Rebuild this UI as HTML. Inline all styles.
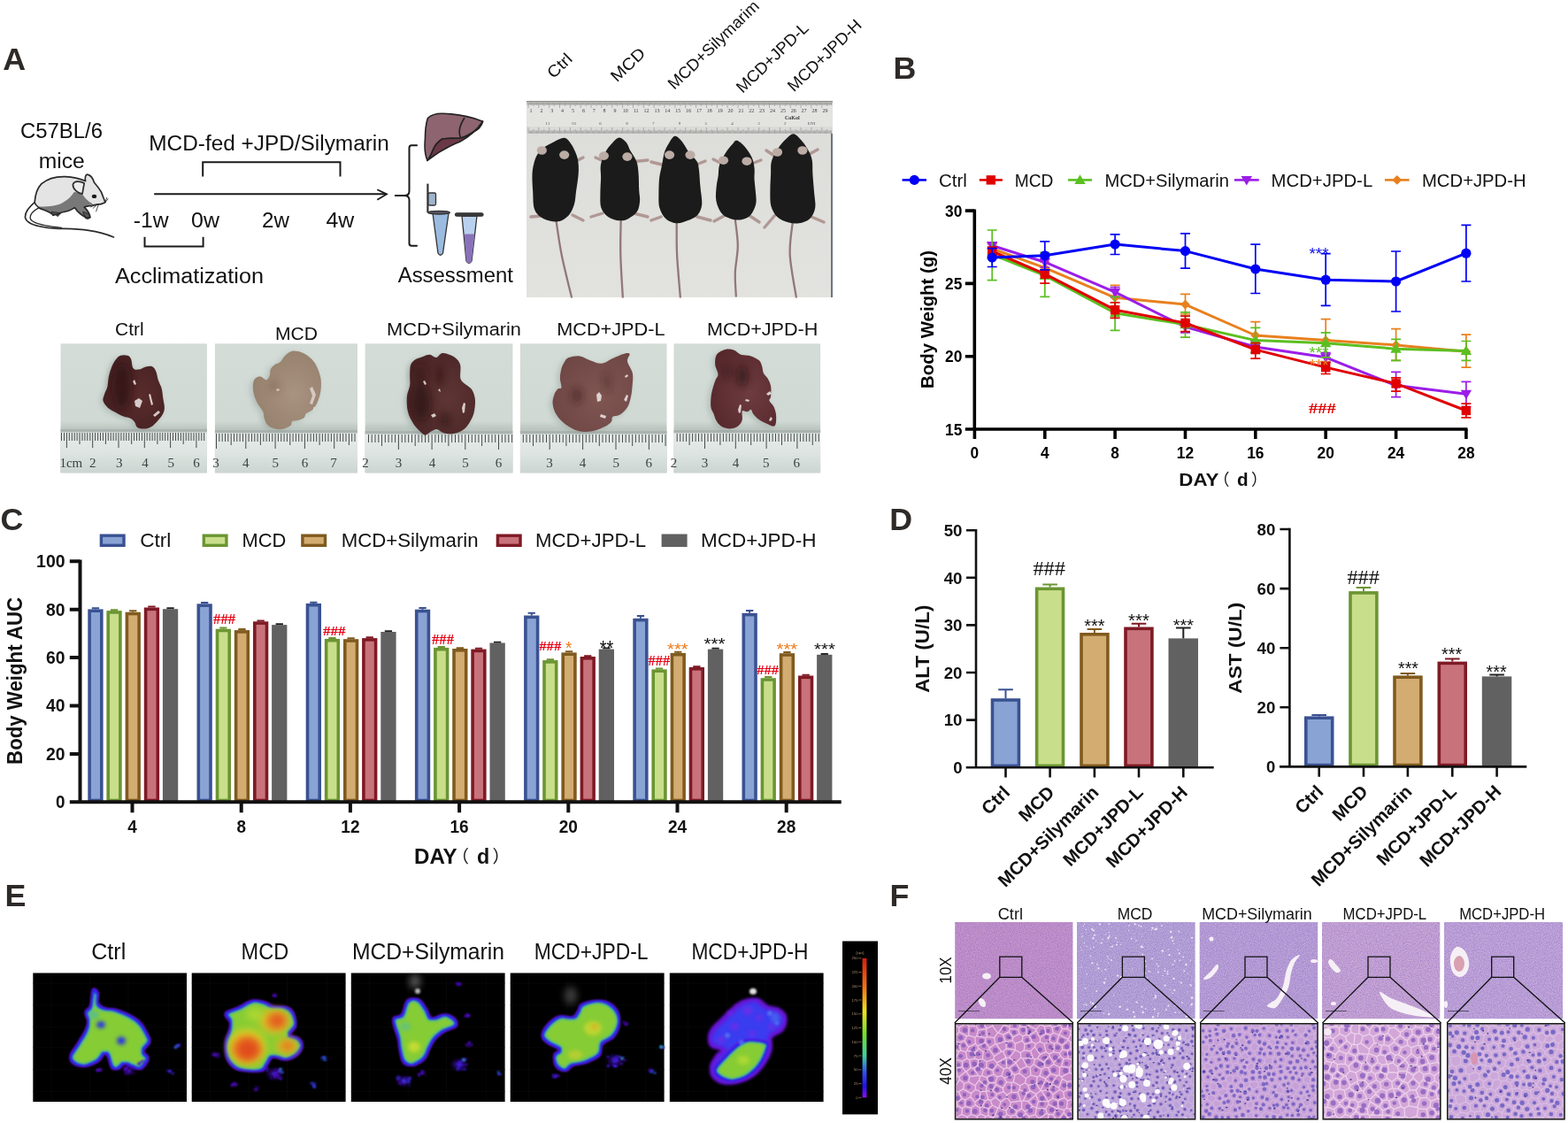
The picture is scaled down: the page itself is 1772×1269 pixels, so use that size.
<!DOCTYPE html>
<html><head><meta charset="utf-8"><title>Figure</title>
<style>html,body{margin:0;padding:0;background:#fff;} svg{display:block;}</style>
</head><body>
<svg width="1772" height="1269" viewBox="0 0 1772 1269" font-family='"Liberation Sans", Arial, Helvetica, sans-serif'>
<rect width="1772" height="1269" fill="#fff"/>
<text x="3.2" y="78.8" font-size="35.8" font-weight="bold" fill="#2e2a28">A</text>
<text x="1009.6" y="88.8" font-size="35.8" font-weight="bold" fill="#2e2a28">B</text>
<text x="0.5" y="598.8" font-size="35.8" font-weight="bold" fill="#2e2a28">C</text>
<text x="1005.2" y="599.1" font-size="35.8" font-weight="bold" fill="#2e2a28">D</text>
<text x="5.4" y="1023.8" font-size="35.8" font-weight="bold" fill="#2e2a28">E</text>
<text x="1005.4" y="1023.9" font-size="35.8" font-weight="bold" fill="#2e2a28">F</text>
<text x="23.0" y="155.8" font-size="23.5" fill="#111" textLength="93" lengthAdjust="spacingAndGlyphs">C57BL/6</text>
<text x="43.7" y="190.0" font-size="23.5" fill="#111" textLength="52" lengthAdjust="spacingAndGlyphs">mice</text>
<text x="168.3" y="170.1" font-size="23.5" fill="#111" textLength="271.5" lengthAdjust="spacingAndGlyphs">MCD-fed +JPD/Silymarin</text>
<text x="150.8" y="257.1" font-size="23.5" fill="#111" textLength="39.8" lengthAdjust="spacingAndGlyphs">-1w</text>
<text x="216.0" y="257.1" font-size="23.5" fill="#111" textLength="31.9" lengthAdjust="spacingAndGlyphs">0w</text>
<text x="296.0" y="257.1" font-size="23.5" fill="#111" textLength="30.9" lengthAdjust="spacingAndGlyphs">2w</text>
<text x="368.4" y="257.1" font-size="23.5" fill="#111" textLength="31.8" lengthAdjust="spacingAndGlyphs">4w</text>
<text x="130.0" y="320.1" font-size="23.5" fill="#111" textLength="168" lengthAdjust="spacingAndGlyphs">Acclimatization</text>
<text x="449.7" y="319.3" font-size="23.5" fill="#111" textLength="130.3" lengthAdjust="spacingAndGlyphs">Assessment</text>
<g fill="none" stroke="#1a1a1a" stroke-width="2">
<path d="M229.2 199.6 V183.3 H384.5 V199.6"/>
<path d="M163.5 267.8 V278.4 H229.6 V267.8"/>
<path d="M174.2 219.2 H436.5"/>
<path d="M426.3 214.3 L437 219.4 L426.3 225.8" stroke-width="1.8"/>
<path d="M471.8 164.2 H465 Q462.5 164.2 462.5 167 V216 Q462.5 221 457 221.1 H446 M457 221.1 Q462.5 221.3 462.5 226 V275 Q462.5 277.8 465 277.8 H471.8"/>
</g>
<g stroke="#222" stroke-width="1.6" stroke-linejoin="round">
<path d="M483.4 133.5 Q489 128 500 128.2 Q525 129 545.6 137.2 Q543 145 535.9 148.5 Q528 154 520.9 156 Q510 156 500 157 Q492 162 489.4 169.4 Q486 178 483 181.4 Q479 172 480.4 157.5 Q480.5 142 483.4 133.5 Z" fill="#8d6470"/>
<path d="M545.6 137.2 Q543 145 535.9 148.5 Q528 154 520.9 156 Q510 156 500 157 Q492 162 489.4 169.4 Q486 178 483 181.4 Q500 168 520 160 Q535 152 545.6 137.2 Z" fill="#6b3848"/>
<path d="M520.9 156 Q516 147 525 133" fill="none"/>
</g>
<g stroke="#333" stroke-width="1.3">
<path d="M483.4 207.6 V240" stroke-width="2.2" fill="none"/>
<rect x="484" y="218" width="8.5" height="14" rx="1.5" fill="#9fb4cc"/>
<path d="M489 241 L507 241 L500.5 286 Q497.7 290.5 495 286 Z" fill="#9bbbe0"/>
<ellipse cx="496" cy="240.2" rx="12.5" ry="1.8" fill="#556"/>
<path d="M522 244 L539 244 L533 295 Q530 300 527 295 Z" fill="#b9d1ee"/>
<path d="M524.6 264.6 L536.4 264.6 L533 295 Q530 300 527 295 Z" fill="#8a72bb" stroke="none"/>
<rect x="514.5" y="240.8" width="31.5" height="3.4" rx="1.7" fill="#3a3a3a"/>
</g>
<g transform="translate(20,190) scale(0.0709)" stroke="#2a2a2a" stroke-width="24" stroke-linejoin="round" stroke-linecap="round">
<path d="M270 545 C180 620 110 700 120 790 C140 880 300 940 600 960 C900 975 1200 960 1530 1100" fill="none"/>
<path d="M340 630 C250 680 190 730 200 800 C220 870 400 920 700 950" fill="none" stroke-width="18"/>
<path d="M270 545 C280 420 300 330 380 250 C470 170 600 130 760 135 C900 140 1000 170 1080 205 C1070 150 1080 100 1110 100 C1160 110 1200 160 1220 230 C1270 290 1320 350 1340 400 C1360 460 1380 500 1395 545 C1340 575 1290 580 1260 580 C1200 590 1120 600 1060 620 C1100 660 1150 720 1150 785 C1110 800 1080 790 1000 730 C960 700 930 660 910 630 C850 670 760 700 700 705 C660 730 600 750 560 740 C520 700 450 680 350 640 C310 610 280 580 270 545 Z" fill="#e4e4e4" stroke="none"/>
<path d="M330 615 C450 610 600 610 700 560 C800 510 860 440 900 380 C950 380 1000 400 1040 430 C1080 480 1120 530 1200 570 C1100 600 1080 610 1060 620 C1100 660 1150 720 1150 785 C1110 800 1080 790 1000 730 C960 700 930 660 910 630 C850 670 760 700 700 705 C660 730 600 750 560 740 C520 700 450 680 350 640 Z" fill="#787878" stroke="none"/>
<path d="M540 700 L560 760 L600 740 L640 770 L680 720 Z M1040 700 L1080 800 L1120 810 L1160 790 L1150 740 Z" fill="#555" stroke-width="14"/>
<path d="M270 545 C280 420 300 330 380 250 C470 170 600 130 760 135 C900 140 1000 170 1080 205 C1070 150 1080 100 1110 100 C1160 110 1200 160 1220 230 C1270 290 1320 350 1340 400 C1360 460 1380 500 1395 545 C1340 575 1290 580 1260 580 C1200 590 1120 600 1060 620 C1100 660 1150 720 1150 785 C1110 800 1080 790 1000 730 C960 700 930 660 910 630 C850 670 760 700 700 705 C660 730 600 750 560 740 C520 700 450 680 350 640 C310 610 280 580 270 545 Z" fill="none"/>
<path d="M880 260 C900 200 990 200 1060 240 C1050 300 1040 350 1030 410 C960 400 880 340 880 260 Z" fill="#ececec"/>
<ellipse cx="1220" cy="450" rx="38" ry="30" fill="#1a1a1a" stroke="none"/>
<path d="M1280 570 L1200 640 M1290 575 L1250 690 M1270 575 L1160 620 M1395 545 L1420 470 M1400 540 L1440 490" fill="none" stroke-width="12"/>
</g>
<g>
<defs><linearGradient id="mbg" x1="0" y1="0" x2="0" y2="1"><stop offset="0" stop-color="#dcdcd8"/><stop offset="1" stop-color="#e2e2df"/></linearGradient></defs>
<rect x="595" y="114" width="346" height="222" fill="url(#mbg)"/>
<rect x="595" y="114" width="346" height="37.5" fill="#e3e3e0"/>
<rect x="595" y="114" width="346" height="4.5" fill="#c4c4c2"/>
<rect x="595" y="114" width="346" height="1.2" fill="#8a8a88"/>
<rect x="595" y="143" width="346" height="8" fill="#dadad7"/>
<rect x="939" y="151" width="2" height="185" fill="#6d7480"/>
<path d="M597.0 116 v6 M597.0 151 v-7 M598.2 116 v2.5 M598.2 151 v-3.5 M599.4 116 v2.5 M599.4 151 v-3.5 M600.6 116 v2.5 M600.6 151 v-3.5 M601.7 116 v2.5 M601.7 151 v-3.5 M602.9 116 v4 M602.9 151 v-5 M604.1 116 v2.5 M604.1 151 v-3.5 M605.3 116 v2.5 M605.3 151 v-3.5 M606.5 116 v2.5 M606.5 151 v-3.5 M607.7 116 v2.5 M607.7 151 v-3.5 M608.8 116 v6 M608.8 151 v-7 M610.0 116 v2.5 M610.0 151 v-3.5 M611.2 116 v2.5 M611.2 151 v-3.5 M612.4 116 v2.5 M612.4 151 v-3.5 M613.6 116 v2.5 M613.6 151 v-3.5 M614.8 116 v4 M614.8 151 v-5 M616.0 116 v2.5 M616.0 151 v-3.5 M617.1 116 v2.5 M617.1 151 v-3.5 M618.3 116 v2.5 M618.3 151 v-3.5 M619.5 116 v2.5 M619.5 151 v-3.5 M620.7 116 v6 M620.7 151 v-7 M621.9 116 v2.5 M621.9 151 v-3.5 M623.1 116 v2.5 M623.1 151 v-3.5 M624.3 116 v2.5 M624.3 151 v-3.5 M625.4 116 v2.5 M625.4 151 v-3.5 M626.6 116 v4 M626.6 151 v-5 M627.8 116 v2.5 M627.8 151 v-3.5 M629.0 116 v2.5 M629.0 151 v-3.5 M630.2 116 v2.5 M630.2 151 v-3.5 M631.4 116 v2.5 M631.4 151 v-3.5 M632.5 116 v6 M632.5 151 v-7 M633.7 116 v2.5 M633.7 151 v-3.5 M634.9 116 v2.5 M634.9 151 v-3.5 M636.1 116 v2.5 M636.1 151 v-3.5 M637.3 116 v2.5 M637.3 151 v-3.5 M638.5 116 v4 M638.5 151 v-5 M639.7 116 v2.5 M639.7 151 v-3.5 M640.8 116 v2.5 M640.8 151 v-3.5 M642.0 116 v2.5 M642.0 151 v-3.5 M643.2 116 v2.5 M643.2 151 v-3.5 M644.4 116 v6 M644.4 151 v-7 M645.6 116 v2.5 M645.6 151 v-3.5 M646.8 116 v2.5 M646.8 151 v-3.5 M648.0 116 v2.5 M648.0 151 v-3.5 M649.1 116 v2.5 M649.1 151 v-3.5 M650.3 116 v4 M650.3 151 v-5 M651.5 116 v2.5 M651.5 151 v-3.5 M652.7 116 v2.5 M652.7 151 v-3.5 M653.9 116 v2.5 M653.9 151 v-3.5 M655.1 116 v2.5 M655.1 151 v-3.5 M656.2 116 v6 M656.2 151 v-7 M657.4 116 v2.5 M657.4 151 v-3.5 M658.6 116 v2.5 M658.6 151 v-3.5 M659.8 116 v2.5 M659.8 151 v-3.5 M661.0 116 v2.5 M661.0 151 v-3.5 M662.2 116 v4 M662.2 151 v-5 M663.4 116 v2.5 M663.4 151 v-3.5 M664.5 116 v2.5 M664.5 151 v-3.5 M665.7 116 v2.5 M665.7 151 v-3.5 M666.9 116 v2.5 M666.9 151 v-3.5 M668.1 116 v6 M668.1 151 v-7 M669.3 116 v2.5 M669.3 151 v-3.5 M670.5 116 v2.5 M670.5 151 v-3.5 M671.7 116 v2.5 M671.7 151 v-3.5 M672.8 116 v2.5 M672.8 151 v-3.5 M674.0 116 v4 M674.0 151 v-5 M675.2 116 v2.5 M675.2 151 v-3.5 M676.4 116 v2.5 M676.4 151 v-3.5 M677.6 116 v2.5 M677.6 151 v-3.5 M678.8 116 v2.5 M678.8 151 v-3.5 M679.9 116 v6 M679.9 151 v-7 M681.1 116 v2.5 M681.1 151 v-3.5 M682.3 116 v2.5 M682.3 151 v-3.5 M683.5 116 v2.5 M683.5 151 v-3.5 M684.7 116 v2.5 M684.7 151 v-3.5 M685.9 116 v4 M685.9 151 v-5 M687.1 116 v2.5 M687.1 151 v-3.5 M688.2 116 v2.5 M688.2 151 v-3.5 M689.4 116 v2.5 M689.4 151 v-3.5 M690.6 116 v2.5 M690.6 151 v-3.5 M691.8 116 v6 M691.8 151 v-7 M693.0 116 v2.5 M693.0 151 v-3.5 M694.2 116 v2.5 M694.2 151 v-3.5 M695.4 116 v2.5 M695.4 151 v-3.5 M696.5 116 v2.5 M696.5 151 v-3.5 M697.7 116 v4 M697.7 151 v-5 M698.9 116 v2.5 M698.9 151 v-3.5 M700.1 116 v2.5 M700.1 151 v-3.5 M701.3 116 v2.5 M701.3 151 v-3.5 M702.5 116 v2.5 M702.5 151 v-3.5 M703.6 116 v6 M703.6 151 v-7 M704.8 116 v2.5 M704.8 151 v-3.5 M706.0 116 v2.5 M706.0 151 v-3.5 M707.2 116 v2.5 M707.2 151 v-3.5 M708.4 116 v2.5 M708.4 151 v-3.5 M709.6 116 v4 M709.6 151 v-5 M710.8 116 v2.5 M710.8 151 v-3.5 M711.9 116 v2.5 M711.9 151 v-3.5 M713.1 116 v2.5 M713.1 151 v-3.5 M714.3 116 v2.5 M714.3 151 v-3.5 M715.5 116 v6 M715.5 151 v-7 M716.7 116 v2.5 M716.7 151 v-3.5 M717.9 116 v2.5 M717.9 151 v-3.5 M719.1 116 v2.5 M719.1 151 v-3.5 M720.2 116 v2.5 M720.2 151 v-3.5 M721.4 116 v4 M721.4 151 v-5 M722.6 116 v2.5 M722.6 151 v-3.5 M723.8 116 v2.5 M723.8 151 v-3.5 M725.0 116 v2.5 M725.0 151 v-3.5 M726.2 116 v2.5 M726.2 151 v-3.5 M727.3 116 v6 M727.3 151 v-7 M728.5 116 v2.5 M728.5 151 v-3.5 M729.7 116 v2.5 M729.7 151 v-3.5 M730.9 116 v2.5 M730.9 151 v-3.5 M732.1 116 v2.5 M732.1 151 v-3.5 M733.3 116 v4 M733.3 151 v-5 M734.5 116 v2.5 M734.5 151 v-3.5 M735.6 116 v2.5 M735.6 151 v-3.5 M736.8 116 v2.5 M736.8 151 v-3.5 M738.0 116 v2.5 M738.0 151 v-3.5 M739.2 116 v6 M739.2 151 v-7 M740.4 116 v2.5 M740.4 151 v-3.5 M741.6 116 v2.5 M741.6 151 v-3.5 M742.8 116 v2.5 M742.8 151 v-3.5 M743.9 116 v2.5 M743.9 151 v-3.5 M745.1 116 v4 M745.1 151 v-5 M746.3 116 v2.5 M746.3 151 v-3.5 M747.5 116 v2.5 M747.5 151 v-3.5 M748.7 116 v2.5 M748.7 151 v-3.5 M749.9 116 v2.5 M749.9 151 v-3.5 M751.0 116 v6 M751.0 151 v-7 M752.2 116 v2.5 M752.2 151 v-3.5 M753.4 116 v2.5 M753.4 151 v-3.5 M754.6 116 v2.5 M754.6 151 v-3.5 M755.8 116 v2.5 M755.8 151 v-3.5 M757.0 116 v4 M757.0 151 v-5 M758.2 116 v2.5 M758.2 151 v-3.5 M759.3 116 v2.5 M759.3 151 v-3.5 M760.5 116 v2.5 M760.5 151 v-3.5 M761.7 116 v2.5 M761.7 151 v-3.5 M762.9 116 v6 M762.9 151 v-7 M764.1 116 v2.5 M764.1 151 v-3.5 M765.3 116 v2.5 M765.3 151 v-3.5 M766.5 116 v2.5 M766.5 151 v-3.5 M767.6 116 v2.5 M767.6 151 v-3.5 M768.8 116 v4 M768.8 151 v-5 M770.0 116 v2.5 M770.0 151 v-3.5 M771.2 116 v2.5 M771.2 151 v-3.5 M772.4 116 v2.5 M772.4 151 v-3.5 M773.6 116 v2.5 M773.6 151 v-3.5 M774.7 116 v6 M774.7 151 v-7 M775.9 116 v2.5 M775.9 151 v-3.5 M777.1 116 v2.5 M777.1 151 v-3.5 M778.3 116 v2.5 M778.3 151 v-3.5 M779.5 116 v2.5 M779.5 151 v-3.5 M780.7 116 v4 M780.7 151 v-5 M781.9 116 v2.5 M781.9 151 v-3.5 M783.0 116 v2.5 M783.0 151 v-3.5 M784.2 116 v2.5 M784.2 151 v-3.5 M785.4 116 v2.5 M785.4 151 v-3.5 M786.6 116 v6 M786.6 151 v-7 M787.8 116 v2.5 M787.8 151 v-3.5 M789.0 116 v2.5 M789.0 151 v-3.5 M790.2 116 v2.5 M790.2 151 v-3.5 M791.3 116 v2.5 M791.3 151 v-3.5 M792.5 116 v4 M792.5 151 v-5 M793.7 116 v2.5 M793.7 151 v-3.5 M794.9 116 v2.5 M794.9 151 v-3.5 M796.1 116 v2.5 M796.1 151 v-3.5 M797.3 116 v2.5 M797.3 151 v-3.5 M798.4 116 v6 M798.4 151 v-7 M799.6 116 v2.5 M799.6 151 v-3.5 M800.8 116 v2.5 M800.8 151 v-3.5 M802.0 116 v2.5 M802.0 151 v-3.5 M803.2 116 v2.5 M803.2 151 v-3.5 M804.4 116 v4 M804.4 151 v-5 M805.6 116 v2.5 M805.6 151 v-3.5 M806.7 116 v2.5 M806.7 151 v-3.5 M807.9 116 v2.5 M807.9 151 v-3.5 M809.1 116 v2.5 M809.1 151 v-3.5 M810.3 116 v6 M810.3 151 v-7 M811.5 116 v2.5 M811.5 151 v-3.5 M812.7 116 v2.5 M812.7 151 v-3.5 M813.9 116 v2.5 M813.9 151 v-3.5 M815.0 116 v2.5 M815.0 151 v-3.5 M816.2 116 v4 M816.2 151 v-5 M817.4 116 v2.5 M817.4 151 v-3.5 M818.6 116 v2.5 M818.6 151 v-3.5 M819.8 116 v2.5 M819.8 151 v-3.5 M821.0 116 v2.5 M821.0 151 v-3.5 M822.1 116 v6 M822.1 151 v-7 M823.3 116 v2.5 M823.3 151 v-3.5 M824.5 116 v2.5 M824.5 151 v-3.5 M825.7 116 v2.5 M825.7 151 v-3.5 M826.9 116 v2.5 M826.9 151 v-3.5 M828.1 116 v4 M828.1 151 v-5 M829.3 116 v2.5 M829.3 151 v-3.5 M830.4 116 v2.5 M830.4 151 v-3.5 M831.6 116 v2.5 M831.6 151 v-3.5 M832.8 116 v2.5 M832.8 151 v-3.5 M834.0 116 v6 M834.0 151 v-7 M835.2 116 v2.5 M835.2 151 v-3.5 M836.4 116 v2.5 M836.4 151 v-3.5 M837.6 116 v2.5 M837.6 151 v-3.5 M838.7 116 v2.5 M838.7 151 v-3.5 M839.9 116 v4 M839.9 151 v-5 M841.1 116 v2.5 M841.1 151 v-3.5 M842.3 116 v2.5 M842.3 151 v-3.5 M843.5 116 v2.5 M843.5 151 v-3.5 M844.7 116 v2.5 M844.7 151 v-3.5 M845.8 116 v6 M845.8 151 v-7 M847.0 116 v2.5 M847.0 151 v-3.5 M848.2 116 v2.5 M848.2 151 v-3.5 M849.4 116 v2.5 M849.4 151 v-3.5 M850.6 116 v2.5 M850.6 151 v-3.5 M851.8 116 v4 M851.8 151 v-5 M853.0 116 v2.5 M853.0 151 v-3.5 M854.1 116 v2.5 M854.1 151 v-3.5 M855.3 116 v2.5 M855.3 151 v-3.5 M856.5 116 v2.5 M856.5 151 v-3.5 M857.7 116 v6 M857.7 151 v-7 M858.9 116 v2.5 M858.9 151 v-3.5 M860.1 116 v2.5 M860.1 151 v-3.5 M861.3 116 v2.5 M861.3 151 v-3.5 M862.4 116 v2.5 M862.4 151 v-3.5 M863.6 116 v4 M863.6 151 v-5 M864.8 116 v2.5 M864.8 151 v-3.5 M866.0 116 v2.5 M866.0 151 v-3.5 M867.2 116 v2.5 M867.2 151 v-3.5 M868.4 116 v2.5 M868.4 151 v-3.5 M869.5 116 v6 M869.5 151 v-7 M870.7 116 v2.5 M870.7 151 v-3.5 M871.9 116 v2.5 M871.9 151 v-3.5 M873.1 116 v2.5 M873.1 151 v-3.5 M874.3 116 v2.5 M874.3 151 v-3.5 M875.5 116 v4 M875.5 151 v-5 M876.7 116 v2.5 M876.7 151 v-3.5 M877.8 116 v2.5 M877.8 151 v-3.5 M879.0 116 v2.5 M879.0 151 v-3.5 M880.2 116 v2.5 M880.2 151 v-3.5 M881.4 116 v6 M881.4 151 v-7 M882.6 116 v2.5 M882.6 151 v-3.5 M883.8 116 v2.5 M883.8 151 v-3.5 M885.0 116 v2.5 M885.0 151 v-3.5 M886.1 116 v2.5 M886.1 151 v-3.5 M887.3 116 v4 M887.3 151 v-5 M888.5 116 v2.5 M888.5 151 v-3.5 M889.7 116 v2.5 M889.7 151 v-3.5 M890.9 116 v2.5 M890.9 151 v-3.5 M892.1 116 v2.5 M892.1 151 v-3.5 M893.2 116 v6 M893.2 151 v-7 M894.4 116 v2.5 M894.4 151 v-3.5 M895.6 116 v2.5 M895.6 151 v-3.5 M896.8 116 v2.5 M896.8 151 v-3.5 M898.0 116 v2.5 M898.0 151 v-3.5 M899.2 116 v4 M899.2 151 v-5 M900.4 116 v2.5 M900.4 151 v-3.5 M901.5 116 v2.5 M901.5 151 v-3.5 M902.7 116 v2.5 M902.7 151 v-3.5 M903.9 116 v2.5 M903.9 151 v-3.5 M905.1 116 v6 M905.1 151 v-7 M906.3 116 v2.5 M906.3 151 v-3.5 M907.5 116 v2.5 M907.5 151 v-3.5 M908.7 116 v2.5 M908.7 151 v-3.5 M909.8 116 v2.5 M909.8 151 v-3.5 M911.0 116 v4 M911.0 151 v-5 M912.2 116 v2.5 M912.2 151 v-3.5 M913.4 116 v2.5 M913.4 151 v-3.5 M914.6 116 v2.5 M914.6 151 v-3.5 M915.8 116 v2.5 M915.8 151 v-3.5 M916.9 116 v6 M916.9 151 v-7 M918.1 116 v2.5 M918.1 151 v-3.5 M919.3 116 v2.5 M919.3 151 v-3.5 M920.5 116 v2.5 M920.5 151 v-3.5 M921.7 116 v2.5 M921.7 151 v-3.5 M922.9 116 v4 M922.9 151 v-5 M924.1 116 v2.5 M924.1 151 v-3.5 M925.2 116 v2.5 M925.2 151 v-3.5 M926.4 116 v2.5 M926.4 151 v-3.5 M927.6 116 v2.5 M927.6 151 v-3.5 M928.8 116 v6 M928.8 151 v-7 M930.0 116 v2.5 M930.0 151 v-3.5 M931.2 116 v2.5 M931.2 151 v-3.5 M932.4 116 v2.5 M932.4 151 v-3.5 M933.5 116 v2.5 M933.5 151 v-3.5 M934.7 116 v4 M934.7 151 v-5 M935.9 116 v2.5 M935.9 151 v-3.5 M937.1 116 v2.5 M937.1 151 v-3.5 M938.3 116 v2.5 M938.3 151 v-3.5 M939.5 116 v2.5 M939.5 151 v-3.5" stroke="#8a8a88" stroke-width="0.6"/>
<text x="600.0" y="126.5" font-size="6" fill="#444" text-anchor="middle" font-family='"Liberation Serif", "Times New Roman", serif'>1</text><text x="611.9" y="126.5" font-size="6" fill="#444" text-anchor="middle" font-family='"Liberation Serif", "Times New Roman", serif'>2</text><text x="623.7" y="126.5" font-size="6" fill="#444" text-anchor="middle" font-family='"Liberation Serif", "Times New Roman", serif'>3</text><text x="635.6" y="126.5" font-size="6" fill="#444" text-anchor="middle" font-family='"Liberation Serif", "Times New Roman", serif'>4</text><text x="647.5" y="126.5" font-size="6" fill="#444" text-anchor="middle" font-family='"Liberation Serif", "Times New Roman", serif'>5</text><text x="659.4" y="126.5" font-size="6" fill="#444" text-anchor="middle" font-family='"Liberation Serif", "Times New Roman", serif'>6</text><text x="671.2" y="126.5" font-size="6" fill="#444" text-anchor="middle" font-family='"Liberation Serif", "Times New Roman", serif'>7</text><text x="683.1" y="126.5" font-size="6" fill="#444" text-anchor="middle" font-family='"Liberation Serif", "Times New Roman", serif'>8</text><text x="695.0" y="126.5" font-size="6" fill="#444" text-anchor="middle" font-family='"Liberation Serif", "Times New Roman", serif'>9</text><text x="706.8" y="126.5" font-size="6" fill="#444" text-anchor="middle" font-family='"Liberation Serif", "Times New Roman", serif'>10</text><text x="718.7" y="126.5" font-size="6" fill="#444" text-anchor="middle" font-family='"Liberation Serif", "Times New Roman", serif'>11</text><text x="730.6" y="126.5" font-size="6" fill="#444" text-anchor="middle" font-family='"Liberation Serif", "Times New Roman", serif'>12</text><text x="742.4" y="126.5" font-size="6" fill="#444" text-anchor="middle" font-family='"Liberation Serif", "Times New Roman", serif'>13</text><text x="754.3" y="126.5" font-size="6" fill="#444" text-anchor="middle" font-family='"Liberation Serif", "Times New Roman", serif'>14</text><text x="766.2" y="126.5" font-size="6" fill="#444" text-anchor="middle" font-family='"Liberation Serif", "Times New Roman", serif'>15</text><text x="778.0" y="126.5" font-size="6" fill="#444" text-anchor="middle" font-family='"Liberation Serif", "Times New Roman", serif'>16</text><text x="789.9" y="126.5" font-size="6" fill="#444" text-anchor="middle" font-family='"Liberation Serif", "Times New Roman", serif'>17</text><text x="801.8" y="126.5" font-size="6" fill="#444" text-anchor="middle" font-family='"Liberation Serif", "Times New Roman", serif'>18</text><text x="813.7" y="126.5" font-size="6" fill="#444" text-anchor="middle" font-family='"Liberation Serif", "Times New Roman", serif'>19</text><text x="825.5" y="126.5" font-size="6" fill="#444" text-anchor="middle" font-family='"Liberation Serif", "Times New Roman", serif'>20</text><text x="837.4" y="126.5" font-size="6" fill="#444" text-anchor="middle" font-family='"Liberation Serif", "Times New Roman", serif'>21</text><text x="849.3" y="126.5" font-size="6" fill="#444" text-anchor="middle" font-family='"Liberation Serif", "Times New Roman", serif'>22</text><text x="861.1" y="126.5" font-size="6" fill="#444" text-anchor="middle" font-family='"Liberation Serif", "Times New Roman", serif'>23</text><text x="873.0" y="126.5" font-size="6" fill="#444" text-anchor="middle" font-family='"Liberation Serif", "Times New Roman", serif'>24</text><text x="884.9" y="126.5" font-size="6" fill="#444" text-anchor="middle" font-family='"Liberation Serif", "Times New Roman", serif'>25</text><text x="896.8" y="126.5" font-size="6" fill="#444" text-anchor="middle" font-family='"Liberation Serif", "Times New Roman", serif'>26</text><text x="908.6" y="126.5" font-size="6" fill="#444" text-anchor="middle" font-family='"Liberation Serif", "Times New Roman", serif'>27</text><text x="920.5" y="126.5" font-size="6" fill="#444" text-anchor="middle" font-family='"Liberation Serif", "Times New Roman", serif'>28</text><text x="932.4" y="126.5" font-size="6" fill="#444" text-anchor="middle" font-family='"Liberation Serif", "Times New Roman", serif'>29</text><text x="619.0" y="141" font-size="5" fill="#555" text-anchor="middle" font-family='"Liberation Serif", "Times New Roman", serif'>11</text><text x="648.8" y="141" font-size="5" fill="#555" text-anchor="middle" font-family='"Liberation Serif", "Times New Roman", serif'>01</text><text x="678.6" y="141" font-size="5" fill="#555" text-anchor="middle" font-family='"Liberation Serif", "Times New Roman", serif'>6</text><text x="708.4" y="141" font-size="5" fill="#555" text-anchor="middle" font-family='"Liberation Serif", "Times New Roman", serif'>8</text><text x="738.2" y="141" font-size="5" fill="#555" text-anchor="middle" font-family='"Liberation Serif", "Times New Roman", serif'>7</text><text x="768.0" y="141" font-size="5" fill="#555" text-anchor="middle" font-family='"Liberation Serif", "Times New Roman", serif'>9</text><text x="797.8" y="141" font-size="5" fill="#555" text-anchor="middle" font-family='"Liberation Serif", "Times New Roman", serif'>5</text><text x="827.6" y="141" font-size="5" fill="#555" text-anchor="middle" font-family='"Liberation Serif", "Times New Roman", serif'>4</text><text x="857.4" y="141" font-size="5" fill="#555" text-anchor="middle" font-family='"Liberation Serif", "Times New Roman", serif'>3</text><text x="887.2" y="141" font-size="5" fill="#555" text-anchor="middle" font-family='"Liberation Serif", "Times New Roman", serif'>2</text><text x="917.0" y="141" font-size="5" fill="#555" text-anchor="middle" font-family='"Liberation Serif", "Times New Roman", serif'>ENI</text><text x="887" y="135" font-size="6" font-weight="bold" fill="#333" font-family='"Liberation Serif", "Times New Roman", serif'>CoKol</text>
</g>
<path d="M628.6 250.0 C629.6 256.3 631.8 273.6 634.7 287.9 C637.6 302.2 644.0 327.7 645.9 335.6 " stroke="#927878" stroke-width="2.3" fill="none" stroke-linecap="round"/><path d="M651.0 182.0 L659.0 178.0 M600.0 245.0 L612.0 244.0 M647.0 243.0 L659.0 249.0" stroke="#b09894" stroke-width="3.4" stroke-linecap="round" fill="none"/><path d="M637.7 155.8 C640.8 156.1 642.8 159.2 644.9 161.9 C647.0 164.6 648.9 168.6 650.3 172.0 C651.7 175.4 652.7 178.1 653.3 182.2 C653.9 186.3 654.1 190.7 653.7 196.4 C653.3 202.2 651.8 210.9 651.0 216.7 C650.2 222.5 650.3 226.6 648.9 231.0 C647.5 235.4 645.8 240.0 642.8 243.2 C639.8 246.4 635.3 249.6 630.6 250.3 C625.9 251.0 618.8 249.4 614.4 247.2 C610.0 245.0 606.2 242.2 604.2 237.1 C602.2 232.0 602.6 223.5 602.2 216.7 C601.8 209.9 601.2 202.2 601.5 196.4 C601.8 190.7 602.8 186.3 604.0 182.2 C605.2 178.1 607.0 174.7 608.9 172.0 C610.8 169.3 612.6 168.0 615.5 166.0 C618.5 164.0 622.9 161.6 626.6 159.9 C630.3 158.2 634.7 155.5 637.7 155.8 Z" fill="#1b1b1b"/><ellipse cx="612.3" cy="170" rx="5.6" ry="4.8" fill="#bcaca6"/><ellipse cx="637.7" cy="175.1" rx="5.6" ry="4.8" fill="#bcaca6"/>
<path d="M701.7 247.0 C701.6 253.8 700.9 273.1 701.3 287.9 C701.6 302.7 703.4 327.7 703.8 335.6 " stroke="#927878" stroke-width="2.3" fill="none" stroke-linecap="round"/><path d="M673.0 178.0 L682.0 182.0 M712.0 183.0 L732.0 181.0 M668.0 245.0 L681.0 241.0 M716.0 241.0 L732.0 245.0" stroke="#b09894" stroke-width="3.4" stroke-linecap="round" fill="none"/><path d="M699.7 155.4 C702.4 155.2 705.7 158.5 707.8 160.9 C709.9 163.3 710.2 166.4 712.2 170.0 C714.1 173.6 717.7 177.8 719.3 182.2 C720.9 186.6 721.2 191.0 721.6 196.4 C722.1 201.8 721.9 209.6 722.2 214.7 C722.4 219.8 723.5 222.8 723.1 226.9 C722.7 231.0 722.2 235.7 720.0 239.1 C717.8 242.5 713.3 245.5 709.9 247.2 C706.5 248.9 703.4 249.6 699.7 249.3 C696.0 249.0 690.9 247.6 687.5 245.2 C684.1 242.8 680.9 239.4 679.4 235.0 C677.9 230.6 678.4 224.6 678.4 218.8 C678.4 213.1 679.0 205.9 679.1 200.5 C679.2 195.1 678.1 191.1 678.9 186.3 C679.7 181.6 681.9 176.1 684.1 172.0 C686.2 167.9 689.0 164.7 691.6 161.9 C694.2 159.1 697.0 155.6 699.7 155.4 Z" fill="#1b1b1b"/><ellipse cx="682.4" cy="176.1" rx="5.6" ry="4.8" fill="#bcaca6"/><ellipse cx="708.9" cy="177.1" rx="5.6" ry="4.8" fill="#bcaca6"/>
<path d="M764.7 251.0 C764.8 257.1 764.4 273.8 765.1 287.9 C765.8 302.0 768.2 327.7 768.8 335.6 " stroke="#927878" stroke-width="2.3" fill="none" stroke-linecap="round"/><path d="M736.0 183.0 L748.0 186.0 M787.0 186.0 L797.0 182.0 M736.0 249.0 L747.0 245.0 M788.0 245.0 L803.0 249.0" stroke="#b09894" stroke-width="3.4" stroke-linecap="round" fill="none"/><path d="M762.7 153.8 C765.2 153.5 768.2 156.9 770.8 159.9 C773.4 162.9 775.7 168.3 778.5 172.0 C781.3 175.7 785.5 178.8 787.5 182.2 C789.4 185.6 789.3 187.7 790.0 192.4 C790.6 197.1 790.8 204.2 791.4 210.6 C791.9 217.0 793.7 225.6 793.2 231.0 C792.7 236.4 790.8 240.1 788.1 243.2 C785.4 246.2 780.8 247.8 776.9 249.3 C773.0 250.8 768.8 252.7 764.7 252.3 C760.6 252.0 755.7 250.1 752.5 247.2 C749.3 244.3 746.8 239.7 745.4 235.0 C744.0 230.3 744.4 224.6 744.4 218.8 C744.4 213.1 744.6 205.9 745.2 200.5 C745.9 195.1 747.2 191.1 748.1 186.3 C749.1 181.6 749.6 176.1 750.9 172.0 C752.2 167.9 753.9 164.9 755.9 161.9 C757.9 158.9 760.2 154.1 762.7 153.8 Z" fill="#1b1b1b"/><ellipse cx="756.6" cy="175.1" rx="5.6" ry="4.8" fill="#bcaca6"/><ellipse cx="780" cy="175.1" rx="5.6" ry="4.8" fill="#bcaca6"/>
<path d="M830.8 248.0 C831.3 252.9 833.8 267.7 833.8 277.7 C833.8 287.7 831.1 298.7 830.8 308.2 C830.5 317.7 831.6 330.2 831.8 334.6 " stroke="#927878" stroke-width="2.3" fill="none" stroke-linecap="round"/><path d="M806.0 180.0 L814.0 184.0 M852.0 184.0 L860.0 181.0 M807.0 250.0 L820.0 243.0 M846.0 243.0 L858.0 251.0" stroke="#b09894" stroke-width="3.4" stroke-linecap="round" fill="none"/><path d="M832.8 158.8 C835.2 159.3 839.1 162.8 841.9 166.0 C844.7 169.2 847.9 174.0 849.7 178.1 C851.5 182.2 852.1 186.2 852.6 190.3 C853.0 194.4 852.3 197.8 852.5 202.5 C852.8 207.2 853.8 214.1 854.1 218.8 C854.4 223.6 855.1 226.9 854.1 231.0 C853.1 235.1 850.7 240.3 848.0 243.2 C845.3 246.1 841.6 247.5 837.9 248.2 C834.2 248.9 829.4 248.4 825.7 247.2 C822.0 246.0 818.2 244.5 815.5 241.1 C812.8 237.7 810.4 232.0 809.4 226.9 C808.4 221.8 809.3 215.3 809.7 210.6 C810.1 205.9 811.2 202.6 811.7 198.5 C812.3 194.4 811.7 190.7 813.1 186.3 C814.6 181.9 818.0 175.9 820.5 172.0 C822.9 168.1 825.6 165.1 827.7 162.9 C829.8 160.7 830.4 158.3 832.8 158.8 Z" fill="#1b1b1b"/><ellipse cx="817.5" cy="181.2" rx="5.6" ry="4.8" fill="#bcaca6"/><ellipse cx="844" cy="182.2" rx="5.6" ry="4.8" fill="#bcaca6"/>
<path d="M895.8 251.0 C895.3 257.1 892.0 273.8 892.7 287.9 C893.4 302.0 898.6 327.7 899.8 335.6 " stroke="#927878" stroke-width="2.3" fill="none" stroke-linecap="round"/><path d="M866.0 170.0 L875.0 176.0 M915.0 174.0 L924.0 169.0 M864.0 257.0 L876.0 243.0 M917.0 245.0 L931.0 251.0" stroke="#b09894" stroke-width="3.4" stroke-linecap="round" fill="none"/><path d="M896.8 151.3 C899.5 151.5 902.3 155.0 904.9 157.8 C907.5 160.6 910.3 164.3 912.4 168.0 C914.6 171.7 916.6 175.5 917.6 180.2 C918.6 184.9 918.0 190.0 918.4 196.4 C918.8 202.8 919.7 212.4 920.2 218.8 C920.7 225.2 922.1 230.3 921.2 235.0 C920.4 239.7 918.2 244.3 915.1 247.2 C912.0 250.1 907.0 251.6 902.9 252.3 C898.8 253.0 894.8 252.5 890.7 251.3 C886.6 250.1 881.7 248.2 878.5 245.2 C875.3 242.1 872.8 238.1 871.4 233.0 C870.0 227.9 870.4 220.8 870.4 214.7 C870.4 208.6 870.9 201.8 871.1 196.4 C871.4 191.0 870.6 186.9 871.9 182.2 C873.2 177.5 876.3 172.2 879.1 168.0 C881.8 163.8 885.6 159.6 888.6 156.8 C891.6 154.0 894.1 151.1 896.8 151.3 Z" fill="#1b1b1b"/><ellipse cx="878.5" cy="172" rx="5.6" ry="4.8" fill="#bcaca6"/><ellipse cx="906.9" cy="170" rx="5.6" ry="4.8" fill="#bcaca6"/>
<text transform="translate(625.6,89.5) rotate(-44)" font-size="18.5" fill="#111" textLength="31" lengthAdjust="spacingAndGlyphs">Ctrl</text>
<text transform="translate(697.3,93.6) rotate(-44)" font-size="18.5" fill="#111" textLength="46" lengthAdjust="spacingAndGlyphs">MCD</text>
<text transform="translate(762.1,102) rotate(-44)" font-size="18.5" fill="#111" textLength="135" lengthAdjust="spacingAndGlyphs">MCD+Silymarim</text>
<text transform="translate(839.3,106) rotate(-44)" font-size="18.5" fill="#111" textLength="105" lengthAdjust="spacingAndGlyphs">MCD+JPD-L</text>
<text transform="translate(897.3,104.6) rotate(-44)" font-size="18.5" fill="#111" textLength="108" lengthAdjust="spacingAndGlyphs">MCD+JPD-H</text>
<defs><linearGradient id="lbg" x1="0" y1="0" x2="0" y2="1"><stop offset="0" stop-color="#c9d3cd"/><stop offset="0.62" stop-color="#c3cec8"/><stop offset="0.66" stop-color="#9aa49f"/><stop offset="0.68" stop-color="#d6dfdb"/><stop offset="1" stop-color="#cdd8d3"/></linearGradient>
<filter id="blur1" x="-20%" y="-20%" width="140%" height="140%"><feGaussianBlur stdDeviation="1.2"/></filter>
<filter id="blur3" x="-30%" y="-30%" width="160%" height="160%"><feGaussianBlur stdDeviation="3"/></filter><filter id="blur5" x="-30%" y="-30%" width="160%" height="160%"><feGaussianBlur stdDeviation="4.5"/></filter>
<linearGradient id="lbg2" x1="0" y1="0" x2="0" y2="1"><stop offset="0" stop-color="#d3dcd7"/><stop offset="0.6" stop-color="#d0d9d4"/><stop offset="0.66" stop-color="#bcc6c1"/></linearGradient><linearGradient id="rul" x1="0" y1="0" x2="0" y2="1"><stop offset="0" stop-color="#e6ecea"/><stop offset="0.5" stop-color="#dde4e1"/><stop offset="1" stop-color="#ccd5d1"/></linearGradient>
</defs>
<rect x="68.5" y="388.3" width="165.4" height="146" fill="url(#lbg2)"/>
<rect x="68.5" y="485" width="165.4" height="3.5" fill="#aab3af"/>
<rect x="68.5" y="488.5" width="165.4" height="45.8" fill="url(#rul)"/>
<path d="M69.5 489 v9 M72.5 489 v9 M75.4 489 v17 M78.3 489 v9 M81.3 489 v9 M84.2 489 v9 M87.1 489 v9 M90.0 489 v13 M93.0 489 v9 M95.9 489 v9 M98.8 489 v9 M101.8 489 v9 M104.7 489 v17 M107.6 489 v9 M110.6 489 v9 M113.5 489 v9 M116.4 489 v9 M119.4 489 v13 M122.3 489 v9 M125.2 489 v9 M128.1 489 v9 M131.1 489 v9 M134.0 489 v17 M136.9 489 v9 M139.9 489 v9 M142.8 489 v9 M145.7 489 v9 M148.7 489 v13 M151.6 489 v9 M154.5 489 v9 M157.4 489 v9 M160.4 489 v9 M163.3 489 v17 M166.2 489 v9 M169.2 489 v9 M172.1 489 v9 M175.0 489 v9 M177.9 489 v13 M180.9 489 v9 M183.8 489 v9 M186.7 489 v9 M189.7 489 v9 M192.6 489 v17 M195.5 489 v9 M198.5 489 v9 M201.4 489 v9 M204.3 489 v9 M207.2 489 v13 M210.2 489 v9 M213.1 489 v9 M216.0 489 v9 M219.0 489 v9 M221.9 489 v17 M224.8 489 v9 M227.8 489 v9 M230.7 489 v9" stroke="#3e4240" stroke-width="0.95"/>
<text x="80.3" y="528" font-size="15" fill="#3e4240" text-anchor="middle" font-family='"Liberation Serif", "Times New Roman", serif'>1cm</text>
<text x="104.7" y="528" font-size="15" fill="#3e4240" text-anchor="middle" font-family='"Liberation Serif", "Times New Roman", serif'>2</text>
<text x="134.8" y="528" font-size="15" fill="#3e4240" text-anchor="middle" font-family='"Liberation Serif", "Times New Roman", serif'>3</text>
<text x="164.0" y="528" font-size="15" fill="#3e4240" text-anchor="middle" font-family='"Liberation Serif", "Times New Roman", serif'>4</text>
<text x="193.3" y="528" font-size="15" fill="#3e4240" text-anchor="middle" font-family='"Liberation Serif", "Times New Roman", serif'>5</text>
<text x="221.9" y="528" font-size="15" fill="#3e4240" text-anchor="middle" font-family='"Liberation Serif", "Times New Roman", serif'>6</text>
<rect x="242.9" y="388.3" width="161.1" height="146" fill="url(#lbg2)"/>
<rect x="242.9" y="486" width="161.1" height="3.5" fill="#aab3af"/>
<rect x="242.9" y="489.5" width="161.1" height="44.8" fill="url(#rul)"/>
<path d="M244.5 490 v17 M247.8 490 v9 M251.2 490 v9 M254.5 490 v9 M257.8 490 v9 M261.2 490 v13 M264.5 490 v9 M267.8 490 v9 M271.1 490 v9 M274.5 490 v9 M277.8 490 v17 M281.1 490 v9 M284.5 490 v9 M287.8 490 v9 M291.1 490 v9 M294.4 490 v13 M297.8 490 v9 M301.1 490 v9 M304.4 490 v9 M307.8 490 v9 M311.1 490 v17 M314.4 490 v9 M317.8 490 v9 M321.1 490 v9 M324.4 490 v9 M327.8 490 v13 M331.1 490 v9 M334.4 490 v9 M337.7 490 v9 M341.1 490 v9 M344.4 490 v17 M347.7 490 v9 M351.1 490 v9 M354.4 490 v9 M357.7 490 v9 M361.1 490 v13 M364.4 490 v9 M367.7 490 v9 M371.0 490 v9 M374.4 490 v9 M377.7 490 v17 M381.0 490 v9 M384.4 490 v9 M387.7 490 v9 M391.0 490 v9 M394.4 490 v13 M397.7 490 v9 M401.0 490 v9" stroke="#3e4240" stroke-width="0.95"/>
<text x="243.9" y="528" font-size="15" fill="#3e4240" text-anchor="middle" font-family='"Liberation Serif", "Times New Roman", serif'>3</text>
<text x="277.8" y="528" font-size="15" fill="#3e4240" text-anchor="middle" font-family='"Liberation Serif", "Times New Roman", serif'>4</text>
<text x="311.3" y="528" font-size="15" fill="#3e4240" text-anchor="middle" font-family='"Liberation Serif", "Times New Roman", serif'>5</text>
<text x="344.4" y="528" font-size="15" fill="#3e4240" text-anchor="middle" font-family='"Liberation Serif", "Times New Roman", serif'>6</text>
<text x="377.0" y="528" font-size="15" fill="#3e4240" text-anchor="middle" font-family='"Liberation Serif", "Times New Roman", serif'>7</text>
<rect x="412.6" y="388.3" width="166.8" height="146" fill="url(#lbg2)"/>
<rect x="412.6" y="487" width="166.8" height="3.5" fill="#aab3af"/>
<rect x="412.6" y="490.5" width="166.8" height="43.8" fill="url(#rul)"/>
<path d="M416.5 491 v9 M420.2 491 v9 M424.0 491 v9 M427.8 491 v9 M431.5 491 v13 M435.3 491 v9 M439.1 491 v9 M442.9 491 v9 M446.6 491 v9 M450.4 491 v17 M454.2 491 v9 M457.9 491 v9 M461.7 491 v9 M465.5 491 v9 M469.2 491 v13 M473.0 491 v9 M476.8 491 v9 M480.6 491 v9 M484.3 491 v9 M488.1 491 v17 M491.9 491 v9 M495.6 491 v9 M499.4 491 v9 M503.2 491 v9 M506.9 491 v13 M510.7 491 v9 M514.5 491 v9 M518.3 491 v9 M522.0 491 v9 M525.8 491 v17 M529.6 491 v9 M533.3 491 v9 M537.1 491 v9 M540.9 491 v9 M544.6 491 v13 M548.4 491 v9 M552.2 491 v9 M556.0 491 v9 M559.7 491 v9 M563.5 491 v17 M567.3 491 v9 M571.0 491 v9 M574.8 491 v9 M578.6 491 v9" stroke="#3e4240" stroke-width="0.95"/>
<text x="413.0" y="528" font-size="15" fill="#3e4240" text-anchor="middle" font-family='"Liberation Serif", "Times New Roman", serif'>2</text>
<text x="450.4" y="528" font-size="15" fill="#3e4240" text-anchor="middle" font-family='"Liberation Serif", "Times New Roman", serif'>3</text>
<text x="488.4" y="528" font-size="15" fill="#3e4240" text-anchor="middle" font-family='"Liberation Serif", "Times New Roman", serif'>4</text>
<text x="526.0" y="528" font-size="15" fill="#3e4240" text-anchor="middle" font-family='"Liberation Serif", "Times New Roman", serif'>5</text>
<text x="563.5" y="528" font-size="15" fill="#3e4240" text-anchor="middle" font-family='"Liberation Serif", "Times New Roman", serif'>6</text>
<rect x="587.9" y="388.3" width="165.6" height="146" fill="url(#lbg2)"/>
<rect x="587.9" y="487" width="165.6" height="3.5" fill="#aab3af"/>
<rect x="587.9" y="490.5" width="165.6" height="43.8" fill="url(#rul)"/>
<path d="M591.3 491 v9 M595.0 491 v9 M598.8 491 v9 M602.5 491 v13 M606.2 491 v9 M610.0 491 v9 M613.7 491 v9 M617.5 491 v9 M621.2 491 v17 M624.9 491 v9 M628.7 491 v9 M632.4 491 v9 M636.2 491 v9 M639.9 491 v13 M643.6 491 v9 M647.4 491 v9 M651.1 491 v9 M654.9 491 v9 M658.6 491 v17 M662.3 491 v9 M666.1 491 v9 M669.8 491 v9 M673.6 491 v9 M677.3 491 v13 M681.0 491 v9 M684.8 491 v9 M688.5 491 v9 M692.3 491 v9 M696.0 491 v17 M699.7 491 v9 M703.5 491 v9 M707.2 491 v9 M711.0 491 v9 M714.7 491 v13 M718.4 491 v9 M722.2 491 v9 M725.9 491 v9 M729.7 491 v9 M733.4 491 v17 M737.1 491 v9 M740.9 491 v9 M744.6 491 v9 M748.4 491 v9 M752.1 491 v13" stroke="#3e4240" stroke-width="0.95"/>
<text x="621.0" y="528" font-size="15" fill="#3e4240" text-anchor="middle" font-family='"Liberation Serif", "Times New Roman", serif'>3</text>
<text x="658.6" y="528" font-size="15" fill="#3e4240" text-anchor="middle" font-family='"Liberation Serif", "Times New Roman", serif'>4</text>
<text x="696.2" y="528" font-size="15" fill="#3e4240" text-anchor="middle" font-family='"Liberation Serif", "Times New Roman", serif'>5</text>
<text x="733.2" y="528" font-size="15" fill="#3e4240" text-anchor="middle" font-family='"Liberation Serif", "Times New Roman", serif'>6</text>
<rect x="761.5" y="388.3" width="165.6" height="146" fill="url(#lbg2)"/>
<rect x="761.5" y="486" width="165.6" height="3.5" fill="#aab3af"/>
<rect x="761.5" y="489.5" width="165.6" height="44.8" fill="url(#rul)"/>
<path d="M765.2 490 v9 M768.7 490 v9 M772.1 490 v9 M775.6 490 v9 M779.1 490 v13 M782.6 490 v9 M786.1 490 v9 M789.5 490 v9 M793.0 490 v9 M796.5 490 v17 M800.0 490 v9 M803.5 490 v9 M806.9 490 v9 M810.4 490 v9 M813.9 490 v13 M817.4 490 v9 M820.9 490 v9 M824.3 490 v9 M827.8 490 v9 M831.3 490 v17 M834.8 490 v9 M838.3 490 v9 M841.7 490 v9 M845.2 490 v9 M848.7 490 v13 M852.2 490 v9 M855.7 490 v9 M859.1 490 v9 M862.6 490 v9 M866.1 490 v17 M869.6 490 v9 M873.1 490 v9 M876.5 490 v9 M880.0 490 v9 M883.5 490 v13 M887.0 490 v9 M890.5 490 v9 M893.9 490 v9 M897.4 490 v9 M900.9 490 v17 M904.4 490 v9 M907.9 490 v9 M911.3 490 v9 M914.8 490 v9 M918.3 490 v13 M921.8 490 v9 M925.3 490 v9" stroke="#3e4240" stroke-width="0.95"/>
<text x="761.5" y="528" font-size="15" fill="#3e4240" text-anchor="middle" font-family='"Liberation Serif", "Times New Roman", serif'>2</text>
<text x="796.5" y="528" font-size="15" fill="#3e4240" text-anchor="middle" font-family='"Liberation Serif", "Times New Roman", serif'>3</text>
<text x="831.4" y="528" font-size="15" fill="#3e4240" text-anchor="middle" font-family='"Liberation Serif", "Times New Roman", serif'>4</text>
<text x="865.7" y="528" font-size="15" fill="#3e4240" text-anchor="middle" font-family='"Liberation Serif", "Times New Roman", serif'>5</text>
<text x="900.2" y="528" font-size="15" fill="#3e4240" text-anchor="middle" font-family='"Liberation Serif", "Times New Roman", serif'>6</text>
<defs><radialGradient id="lg0" cx="0.6" cy="0.55" r="0.65"><stop offset="0" stop-color="#5a2c2c"/><stop offset="1" stop-color="#442022"/></radialGradient></defs>
<path d="M136.2 401.8 C138.4 401.0 142.1 401.1 144.1 401.8 C146.1 402.5 147.0 403.4 148.1 405.8 C149.2 408.2 149.0 414.0 150.4 416.0 C151.8 418.0 154.3 417.9 156.7 417.6 C159.1 417.3 162.0 414.9 164.6 414.4 C167.2 413.9 170.5 413.5 172.5 414.4 C174.5 415.3 175.3 417.5 176.4 420.0 C177.5 422.5 177.8 426.2 178.8 429.4 C179.9 432.5 181.8 435.5 182.7 438.9 C183.6 442.3 183.8 446.2 184.3 449.9 C184.8 453.6 186.0 457.8 185.9 460.9 C185.8 464.0 184.9 466.2 183.5 468.8 C182.1 471.4 179.3 474.5 177.2 476.7 C175.1 478.9 173.3 480.9 170.9 482.2 C168.5 483.5 165.6 484.5 163.0 484.6 C160.4 484.7 157.0 484.3 155.2 483.0 C153.4 481.7 153.3 478.4 152.0 476.7 C150.7 475.0 149.4 473.8 147.3 472.7 C145.2 471.6 142.0 471.4 139.4 470.4 C136.8 469.3 134.4 468.0 131.5 466.4 C128.6 464.8 124.6 463.1 122.1 460.9 C119.6 458.7 117.2 455.6 116.5 453.0 C115.8 450.4 117.3 447.8 118.1 445.2 C118.9 442.6 120.5 440.6 121.3 437.3 C122.1 434.0 122.1 429.2 122.9 425.5 C123.7 421.8 124.7 418.4 126.0 415.2 C127.3 412.0 129.0 408.7 130.7 406.5 C132.4 404.3 134.0 402.6 136.2 401.8 Z" fill="#7d8884" opacity="0.35" transform="translate(-3,2)" filter="url(#blur3)"/>
<path d="M136.2 401.8 C138.4 401.0 142.1 401.1 144.1 401.8 C146.1 402.5 147.0 403.4 148.1 405.8 C149.2 408.2 149.0 414.0 150.4 416.0 C151.8 418.0 154.3 417.9 156.7 417.6 C159.1 417.3 162.0 414.9 164.6 414.4 C167.2 413.9 170.5 413.5 172.5 414.4 C174.5 415.3 175.3 417.5 176.4 420.0 C177.5 422.5 177.8 426.2 178.8 429.4 C179.9 432.5 181.8 435.5 182.7 438.9 C183.6 442.3 183.8 446.2 184.3 449.9 C184.8 453.6 186.0 457.8 185.9 460.9 C185.8 464.0 184.9 466.2 183.5 468.8 C182.1 471.4 179.3 474.5 177.2 476.7 C175.1 478.9 173.3 480.9 170.9 482.2 C168.5 483.5 165.6 484.5 163.0 484.6 C160.4 484.7 157.0 484.3 155.2 483.0 C153.4 481.7 153.3 478.4 152.0 476.7 C150.7 475.0 149.4 473.8 147.3 472.7 C145.2 471.6 142.0 471.4 139.4 470.4 C136.8 469.3 134.4 468.0 131.5 466.4 C128.6 464.8 124.6 463.1 122.1 460.9 C119.6 458.7 117.2 455.6 116.5 453.0 C115.8 450.4 117.3 447.8 118.1 445.2 C118.9 442.6 120.5 440.6 121.3 437.3 C122.1 434.0 122.1 429.2 122.9 425.5 C123.7 421.8 124.7 418.4 126.0 415.2 C127.3 412.0 129.0 408.7 130.7 406.5 C132.4 404.3 134.0 402.6 136.2 401.8 Z" fill="url(#lg0)"/>
<defs><radialGradient id="lg1" cx="0.6" cy="0.55" r="0.65"><stop offset="0" stop-color="#a89280"/><stop offset="1" stop-color="#95806c"/></radialGradient></defs>
<path d="M330.2 396.7 C333.5 396.2 338.3 397.2 342.0 398.7 C345.7 400.2 349.4 403.1 352.2 405.8 C354.9 408.6 356.8 411.5 358.5 415.2 C360.2 418.9 361.8 423.5 362.5 427.8 C363.2 432.1 363.0 437.0 362.5 441.2 C362.0 445.4 360.8 449.4 359.3 453.0 C357.9 456.6 356.0 460.1 353.8 462.5 C351.6 464.9 347.6 465.6 345.9 467.2 C344.2 468.8 345.2 470.7 343.6 472.0 C342.0 473.3 338.7 474.5 336.5 475.1 C334.3 475.8 331.5 475.0 330.2 475.9 C328.9 476.8 330.2 479.2 328.6 480.6 C327.0 482.1 323.7 483.9 320.7 484.6 C317.7 485.3 313.5 485.3 310.5 484.6 C307.5 483.9 304.6 482.6 302.6 480.6 C300.6 478.6 299.5 475.3 298.6 472.7 C297.7 470.1 298.4 467.8 297.1 464.9 C295.8 462.0 292.5 458.7 290.8 455.4 C289.1 452.1 287.6 448.9 286.8 445.2 C286.0 441.5 285.6 436.3 286.0 433.3 C286.4 430.3 287.8 428.3 289.2 427.0 C290.6 425.7 292.7 425.1 294.7 425.5 C296.7 425.9 299.3 429.7 301.0 429.4 C302.7 429.1 304.1 425.9 304.9 423.9 C305.7 421.9 304.8 419.6 305.7 417.6 C306.6 415.6 308.6 413.6 310.5 412.1 C312.4 410.7 314.8 410.6 316.8 408.9 C318.8 407.2 320.1 403.8 322.3 401.8 C324.5 399.8 326.9 397.2 330.2 396.7 Z" fill="#7d8884" opacity="0.35" transform="translate(-3,2)" filter="url(#blur3)"/>
<path d="M330.2 396.7 C333.5 396.2 338.3 397.2 342.0 398.7 C345.7 400.2 349.4 403.1 352.2 405.8 C354.9 408.6 356.8 411.5 358.5 415.2 C360.2 418.9 361.8 423.5 362.5 427.8 C363.2 432.1 363.0 437.0 362.5 441.2 C362.0 445.4 360.8 449.4 359.3 453.0 C357.9 456.6 356.0 460.1 353.8 462.5 C351.6 464.9 347.6 465.6 345.9 467.2 C344.2 468.8 345.2 470.7 343.6 472.0 C342.0 473.3 338.7 474.5 336.5 475.1 C334.3 475.8 331.5 475.0 330.2 475.9 C328.9 476.8 330.2 479.2 328.6 480.6 C327.0 482.1 323.7 483.9 320.7 484.6 C317.7 485.3 313.5 485.3 310.5 484.6 C307.5 483.9 304.6 482.6 302.6 480.6 C300.6 478.6 299.5 475.3 298.6 472.7 C297.7 470.1 298.4 467.8 297.1 464.9 C295.8 462.0 292.5 458.7 290.8 455.4 C289.1 452.1 287.6 448.9 286.8 445.2 C286.0 441.5 285.6 436.3 286.0 433.3 C286.4 430.3 287.8 428.3 289.2 427.0 C290.6 425.7 292.7 425.1 294.7 425.5 C296.7 425.9 299.3 429.7 301.0 429.4 C302.7 429.1 304.1 425.9 304.9 423.9 C305.7 421.9 304.8 419.6 305.7 417.6 C306.6 415.6 308.6 413.6 310.5 412.1 C312.4 410.7 314.8 410.6 316.8 408.9 C318.8 407.2 320.1 403.8 322.3 401.8 C324.5 399.8 326.9 397.2 330.2 396.7 Z" fill="url(#lg1)"/>
<defs><radialGradient id="lg2" cx="0.6" cy="0.55" r="0.65"><stop offset="0" stop-color="#5e3534"/><stop offset="1" stop-color="#4a2526"/></radialGradient></defs>
<path d="M485.6 400.8 C488.2 401.0 490.7 404.4 493.0 404.1 C495.3 403.8 497.1 399.7 499.6 399.1 C502.1 398.6 505.1 399.7 507.9 400.8 C510.7 401.9 514.1 403.6 516.2 405.7 C518.3 407.8 519.6 409.6 520.3 413.2 C521.0 416.8 519.6 423.9 520.3 427.2 C521.0 430.5 522.3 430.9 524.4 433.0 C526.5 435.1 530.6 436.7 532.7 439.6 C534.8 442.5 536.2 446.3 536.8 450.4 C537.3 454.5 536.8 460.3 536.0 464.4 C535.2 468.5 533.8 471.8 531.9 475.2 C530.0 478.6 527.6 482.6 524.4 485.1 C521.2 487.6 516.8 489.4 512.9 490.1 C509.0 490.8 504.5 490.1 501.3 489.3 C498.1 488.5 496.2 485.4 493.8 485.1 C491.4 484.8 489.4 486.5 487.2 487.6 C485.0 488.7 482.8 491.8 480.6 491.7 C478.4 491.6 476.4 489.1 474.0 486.8 C471.6 484.5 468.7 481.4 466.5 477.7 C464.3 474.0 461.9 469.4 460.8 464.4 C459.7 459.4 459.5 452.7 459.9 447.9 C460.3 443.1 462.6 439.6 463.2 435.5 C463.8 431.4 463.0 427.0 463.2 423.1 C463.4 419.2 463.1 415.1 464.1 412.3 C465.1 409.5 466.8 408.0 469.0 406.5 C471.2 405.0 474.5 404.1 477.3 403.2 C480.1 402.2 483.0 400.6 485.6 400.8 Z" fill="#7d8884" opacity="0.35" transform="translate(-3,2)" filter="url(#blur3)"/>
<path d="M485.6 400.8 C488.2 401.0 490.7 404.4 493.0 404.1 C495.3 403.8 497.1 399.7 499.6 399.1 C502.1 398.6 505.1 399.7 507.9 400.8 C510.7 401.9 514.1 403.6 516.2 405.7 C518.3 407.8 519.6 409.6 520.3 413.2 C521.0 416.8 519.6 423.9 520.3 427.2 C521.0 430.5 522.3 430.9 524.4 433.0 C526.5 435.1 530.6 436.7 532.7 439.6 C534.8 442.5 536.2 446.3 536.8 450.4 C537.3 454.5 536.8 460.3 536.0 464.4 C535.2 468.5 533.8 471.8 531.9 475.2 C530.0 478.6 527.6 482.6 524.4 485.1 C521.2 487.6 516.8 489.4 512.9 490.1 C509.0 490.8 504.5 490.1 501.3 489.3 C498.1 488.5 496.2 485.4 493.8 485.1 C491.4 484.8 489.4 486.5 487.2 487.6 C485.0 488.7 482.8 491.8 480.6 491.7 C478.4 491.6 476.4 489.1 474.0 486.8 C471.6 484.5 468.7 481.4 466.5 477.7 C464.3 474.0 461.9 469.4 460.8 464.4 C459.7 459.4 459.5 452.7 459.9 447.9 C460.3 443.1 462.6 439.6 463.2 435.5 C463.8 431.4 463.0 427.0 463.2 423.1 C463.4 419.2 463.1 415.1 464.1 412.3 C465.1 409.5 466.8 408.0 469.0 406.5 C471.2 405.0 474.5 404.1 477.3 403.2 C480.1 402.2 483.0 400.6 485.6 400.8 Z" fill="url(#lg2)"/>
<defs><radialGradient id="lg3" cx="0.6" cy="0.55" r="0.65"><stop offset="0" stop-color="#805652"/><stop offset="1" stop-color="#6e4644"/></radialGradient></defs>
<path d="M642.8 404.1 C645.7 403.0 651.1 401.8 655.2 402.4 C659.3 402.9 663.5 406.0 667.6 407.4 C671.7 408.8 675.9 411.1 680.0 410.7 C684.1 410.3 688.3 406.7 692.4 404.9 C696.5 403.1 701.6 400.7 704.8 399.9 C708.0 399.1 710.8 398.5 711.5 399.9 C712.2 401.3 708.5 404.6 709.0 408.2 C709.5 411.8 713.8 417.1 714.8 421.4 C715.8 425.7 715.1 429.4 714.8 433.8 C714.5 438.2 714.1 443.5 713.1 447.9 C712.1 452.3 711.1 456.9 709.0 460.3 C706.9 463.8 703.5 466.8 700.7 468.6 C697.9 470.4 694.0 469.7 692.4 471.1 C690.8 472.5 692.4 474.9 690.8 476.8 C689.1 478.7 686.4 480.8 682.5 482.6 C678.6 484.4 672.6 486.9 667.6 487.6 C662.6 488.3 657.5 488.2 652.7 486.8 C647.9 485.4 642.7 482.3 638.7 479.3 C634.7 476.3 631.1 472.5 628.8 468.6 C626.4 464.8 625.0 459.9 624.6 456.2 C624.2 452.5 625.3 449.0 626.3 446.2 C627.3 443.4 629.0 441.0 630.4 439.6 C631.8 438.2 634.1 440.1 634.5 438.0 C634.9 435.9 632.9 430.8 632.9 427.2 C632.9 423.6 633.7 419.5 634.5 416.5 C635.3 413.5 636.5 411.1 637.9 409.0 C639.3 406.9 639.9 405.2 642.8 404.1 Z" fill="#7d8884" opacity="0.35" transform="translate(-3,2)" filter="url(#blur3)"/>
<path d="M642.8 404.1 C645.7 403.0 651.1 401.8 655.2 402.4 C659.3 402.9 663.5 406.0 667.6 407.4 C671.7 408.8 675.9 411.1 680.0 410.7 C684.1 410.3 688.3 406.7 692.4 404.9 C696.5 403.1 701.6 400.7 704.8 399.9 C708.0 399.1 710.8 398.5 711.5 399.9 C712.2 401.3 708.5 404.6 709.0 408.2 C709.5 411.8 713.8 417.1 714.8 421.4 C715.8 425.7 715.1 429.4 714.8 433.8 C714.5 438.2 714.1 443.5 713.1 447.9 C712.1 452.3 711.1 456.9 709.0 460.3 C706.9 463.8 703.5 466.8 700.7 468.6 C697.9 470.4 694.0 469.7 692.4 471.1 C690.8 472.5 692.4 474.9 690.8 476.8 C689.1 478.7 686.4 480.8 682.5 482.6 C678.6 484.4 672.6 486.9 667.6 487.6 C662.6 488.3 657.5 488.2 652.7 486.8 C647.9 485.4 642.7 482.3 638.7 479.3 C634.7 476.3 631.1 472.5 628.8 468.6 C626.4 464.8 625.0 459.9 624.6 456.2 C624.2 452.5 625.3 449.0 626.3 446.2 C627.3 443.4 629.0 441.0 630.4 439.6 C631.8 438.2 634.1 440.1 634.5 438.0 C634.9 435.9 632.9 430.8 632.9 427.2 C632.9 423.6 633.7 419.5 634.5 416.5 C635.3 413.5 636.5 411.1 637.9 409.0 C639.3 406.9 639.9 405.2 642.8 404.1 Z" fill="url(#lg3)"/>
<defs><radialGradient id="lg4" cx="0.6" cy="0.55" r="0.65"><stop offset="0" stop-color="#6e3c40"/><stop offset="1" stop-color="#56282c"/></radialGradient></defs>
<path d="M809.9 400.7 C811.8 397.8 816.5 395.7 819.8 394.9 C823.1 394.1 826.8 394.8 829.7 395.8 C832.6 396.8 834.0 399.6 837.2 400.7 C840.4 401.8 845.3 401.3 848.8 402.4 C852.2 403.5 855.8 405.4 857.9 407.3 C860.0 409.2 860.4 411.6 861.2 414.0 C862.0 416.4 861.7 419.1 862.8 421.4 C863.9 423.7 866.4 425.5 867.8 428.0 C869.2 430.5 870.5 433.0 871.1 436.3 C871.7 439.6 871.4 445.1 871.1 447.9 C870.8 450.6 868.9 450.9 869.4 452.8 C869.9 454.7 873.1 456.9 874.4 459.4 C875.6 461.9 876.5 464.7 876.9 467.7 C877.3 470.7 877.3 475.2 876.9 477.6 C876.5 480.0 875.9 481.5 874.4 481.8 C872.9 482.1 870.5 480.6 867.8 479.3 C865.0 478.1 860.7 476.2 857.9 474.3 C855.1 472.4 852.7 469.6 851.2 467.7 C849.7 465.8 849.9 463.1 848.8 462.7 C847.7 462.3 846.3 464.9 844.6 465.2 C842.9 465.5 839.8 462.9 838.8 464.4 C837.8 465.9 839.5 471.6 838.8 474.3 C838.1 477.1 836.8 479.2 834.7 480.9 C832.6 482.6 829.4 484.0 826.4 484.3 C823.4 484.6 819.2 484.0 816.5 482.6 C813.8 481.2 811.5 478.5 809.9 476.0 C808.2 473.5 807.7 470.5 806.6 467.7 C805.5 464.9 803.7 463.2 803.3 459.4 C802.9 455.5 803.3 449.4 804.1 444.6 C804.9 439.8 807.0 434.1 808.2 430.5 C809.4 426.9 811.5 426.0 811.5 423.0 C811.5 420.0 808.5 416.0 808.2 412.3 C807.9 408.6 808.0 403.6 809.9 400.7 Z" fill="#7d8884" opacity="0.35" transform="translate(-3,2)" filter="url(#blur3)"/>
<path d="M809.9 400.7 C811.8 397.8 816.5 395.7 819.8 394.9 C823.1 394.1 826.8 394.8 829.7 395.8 C832.6 396.8 834.0 399.6 837.2 400.7 C840.4 401.8 845.3 401.3 848.8 402.4 C852.2 403.5 855.8 405.4 857.9 407.3 C860.0 409.2 860.4 411.6 861.2 414.0 C862.0 416.4 861.7 419.1 862.8 421.4 C863.9 423.7 866.4 425.5 867.8 428.0 C869.2 430.5 870.5 433.0 871.1 436.3 C871.7 439.6 871.4 445.1 871.1 447.9 C870.8 450.6 868.9 450.9 869.4 452.8 C869.9 454.7 873.1 456.9 874.4 459.4 C875.6 461.9 876.5 464.7 876.9 467.7 C877.3 470.7 877.3 475.2 876.9 477.6 C876.5 480.0 875.9 481.5 874.4 481.8 C872.9 482.1 870.5 480.6 867.8 479.3 C865.0 478.1 860.7 476.2 857.9 474.3 C855.1 472.4 852.7 469.6 851.2 467.7 C849.7 465.8 849.9 463.1 848.8 462.7 C847.7 462.3 846.3 464.9 844.6 465.2 C842.9 465.5 839.8 462.9 838.8 464.4 C837.8 465.9 839.5 471.6 838.8 474.3 C838.1 477.1 836.8 479.2 834.7 480.9 C832.6 482.6 829.4 484.0 826.4 484.3 C823.4 484.6 819.2 484.0 816.5 482.6 C813.8 481.2 811.5 478.5 809.9 476.0 C808.2 473.5 807.7 470.5 806.6 467.7 C805.5 464.9 803.7 463.2 803.3 459.4 C802.9 455.5 803.3 449.4 804.1 444.6 C804.9 439.8 807.0 434.1 808.2 430.5 C809.4 426.9 811.5 426.0 811.5 423.0 C811.5 420.0 808.5 416.0 808.2 412.3 C807.9 408.6 808.0 403.6 809.9 400.7 Z" fill="url(#lg4)"/>
<g filter="url(#blur5)" opacity="0.75">
<ellipse cx="138" cy="437" rx="11" ry="26" fill="#2a1012" opacity="0.85"/>
<ellipse cx="476" cy="455" rx="11" ry="20" fill="#240c0e" opacity="0.8"/><ellipse cx="475" cy="425" rx="9" ry="14" fill="#341416" opacity="0.6"/><ellipse cx="497" cy="425" rx="3" ry="12" fill="#1e0a0a" opacity="0.8"/><ellipse cx="503" cy="474" rx="5" ry="6" fill="#1e0a0a" opacity="0.7"/>
<ellipse cx="652" cy="447" rx="6" ry="9" fill="#3a1a1a" opacity="0.7"/><ellipse cx="686" cy="432" rx="3.5" ry="12" fill="#3a1a1a" opacity="0.6"/>
<ellipse cx="839" cy="425" rx="6" ry="12" fill="#200a0c" opacity="0.8"/><ellipse cx="822" cy="420" rx="5" ry="8" fill="#2a1012" opacity="0.6"/>
<ellipse cx="310" cy="436" rx="5" ry="6" fill="#705040" opacity="0.5"/>
</g>
<g fill="#f0e6e6" opacity="0.85">
<path d="M152 453 l5 -3 l4 3 l-3 8 l-5 -2z M168 446 l2 -1 l3 12 l-2 1z M173 469 l6 -5 l2 2 l-6 5z M150 431 l2 -2 l2 5 l-2 1z"/>
<path d="M350 439 l3 -2 l4 9 l-4 11 l-3 -1 l3 -9z M354 460 l2 0 l-1 6z M312 440 l3 -1 l1 2 l-3 1z" opacity="0.8"/>
<path d="M522 461 l2 -6 l2 1 l-1 10 l-2 1z M487 469 l4 -2 l2 3 l-4 2z M478 431 l2 -1 l2 4 l-2 1z M495 441 l2 -2 l1 4z"/>
<path d="M674 446 l3 -3 l3 4 l-1 6 l-4 1z M705 452 l3 -6 l2 1 l-2 7z M679 468 l6 2 l-1 3 l-6 -2z M706 425 l3 -2 l1 2 l-3 2z"/>
<path d="M834 463 l2 -6 l2 1 l-1 8 l-2 1z M866 445 l4 -3 l2 3 l-4 2z M869 475 l2 -4 l2 2 l-2 3z M843 451 l4 1 l-1 2 l-4 -1z"/>
</g>
<text x="130.0" y="379.0" font-size="20.5" fill="#111" textLength="32.6" lengthAdjust="spacingAndGlyphs">Ctrl</text>
<text x="310.9" y="383.5" font-size="20.5" fill="#111" textLength="48.1" lengthAdjust="spacingAndGlyphs">MCD</text>
<text x="437.0" y="379.0" font-size="20.5" fill="#111" textLength="152" lengthAdjust="spacingAndGlyphs">MCD+Silymarin</text>
<text x="629.2" y="379.0" font-size="20.5" fill="#111" textLength="122.3" lengthAdjust="spacingAndGlyphs">MCD+JPD-L</text>
<text x="799.1" y="378.9" font-size="20.5" fill="#111" textLength="125.2" lengthAdjust="spacingAndGlyphs">MCD+JPD-H</text>
<g stroke="#000" stroke-width="3.6" fill="none" stroke-linecap="butt">
<path d="M1101.3 236.4 V486.8 M1090.8 485 H1658.5"/>
<path d="M1090.8 238.1 H1101 M1090.8 320.4 H1101 M1090.8 402.7 H1101 M1101.4 485 V496 M1180.8 485 V496 M1260.1 485 V496 M1339.5 485 V496 M1418.8 485 V496 M1498.2 485 V496 M1577.6 485 V496 M1656.9 485 V496 "/>
</g>
<text x="1087.4" y="244.7" font-size="18.5" text-anchor="end" font-weight="bold" fill="#000" textLength="19.3" lengthAdjust="spacingAndGlyphs">30</text>
<text x="1087.4" y="327.0" font-size="18.5" text-anchor="end" font-weight="bold" fill="#000" textLength="19.3" lengthAdjust="spacingAndGlyphs">25</text>
<text x="1087.4" y="409.3" font-size="18.5" text-anchor="end" font-weight="bold" fill="#000" textLength="19.3" lengthAdjust="spacingAndGlyphs">20</text>
<text x="1087.4" y="491.6" font-size="18.5" text-anchor="end" font-weight="bold" fill="#000" textLength="19.3" lengthAdjust="spacingAndGlyphs">15</text>
<text x="1101.4" y="518.2" font-size="18.5" text-anchor="middle" font-weight="bold" fill="#000" textLength="9.6" lengthAdjust="spacingAndGlyphs">0</text>
<text x="1180.8" y="518.2" font-size="18.5" text-anchor="middle" font-weight="bold" fill="#000" textLength="9.6" lengthAdjust="spacingAndGlyphs">4</text>
<text x="1260.1" y="518.2" font-size="18.5" text-anchor="middle" font-weight="bold" fill="#000" textLength="9.6" lengthAdjust="spacingAndGlyphs">8</text>
<text x="1339.5" y="518.2" font-size="18.5" text-anchor="middle" font-weight="bold" fill="#000" textLength="19.3" lengthAdjust="spacingAndGlyphs">12</text>
<text x="1418.8" y="518.2" font-size="18.5" text-anchor="middle" font-weight="bold" fill="#000" textLength="19.3" lengthAdjust="spacingAndGlyphs">16</text>
<text x="1498.2" y="518.2" font-size="18.5" text-anchor="middle" font-weight="bold" fill="#000" textLength="19.3" lengthAdjust="spacingAndGlyphs">20</text>
<text x="1577.6" y="518.2" font-size="18.5" text-anchor="middle" font-weight="bold" fill="#000" textLength="19.3" lengthAdjust="spacingAndGlyphs">24</text>
<text x="1656.9" y="518.2" font-size="18.5" text-anchor="middle" font-weight="bold" fill="#000" textLength="19.3" lengthAdjust="spacingAndGlyphs">28</text>
<text transform="translate(1055,361) rotate(-90)" font-size="20" font-weight="bold" text-anchor="middle" fill="#000" textLength="156" lengthAdjust="spacingAndGlyphs">Body Weight (g)</text>
<text x="1332.3" y="549.0" font-size="20.7" font-weight="bold" fill="#111" textLength="45.0" lengthAdjust="spacingAndGlyphs">DAY</text>
<text x="1371.6" y="548.0" font-size="18.0" fill="#111" font-family='"Liberation Sans", "Noto Sans CJK SC", sans-serif'>（</text>
<text x="1398.0" y="549.0" font-size="20.7" font-weight="bold" fill="#111">d</text>
<text x="1414.0" y="548.0" font-size="18.0" fill="#111" font-family='"Liberation Sans", "Noto Sans CJK SC", sans-serif'>）</text>
<path d="M1121.2 276.0 V286.0 M1115.7 276.0 H1126.7 M1115.7 286.0 H1126.7 M1180.8 296.2 V311.4 M1175.3 296.2 H1186.3 M1175.3 311.4 H1186.3 M1260.1 322.3 V350.7 M1254.6 322.3 H1265.6 M1254.6 350.7 H1265.6 M1339.5 332.4 V355.0 M1334.0 332.4 H1345.0 M1334.0 355.0 H1345.0 M1418.8 363.7 V394.2 M1413.3 363.7 H1424.3 M1413.3 394.2 H1424.3 M1498.2 360.7 V408.6 M1492.7 360.7 H1503.7 M1492.7 408.6 H1503.7 M1577.6 371.6 V407.3 M1572.1 371.6 H1583.1 M1572.1 407.3 H1583.1 M1656.9 378.1 V415.1 M1651.4 378.1 H1662.4 M1651.4 415.1 H1662.4 " stroke="#e8801e" stroke-width="1.7" fill="none"/>
<polyline points="1121.2,281.0 1180.8,302.7 1260.1,336.3 1339.5,344.1 1418.8,379.0 1498.2,384.6 1577.6,389.9 1656.9,397.3" stroke="#e8801e" stroke-width="3" fill="none" stroke-linejoin="round"/>
<path d="M1121.2 275.6 L1126.6 281.0 L1121.2 286.4 L1115.8 281.0Z" fill="#e8801e"/><path d="M1180.8 297.3 L1186.2 302.7 L1180.8 308.1 L1175.4 302.7Z" fill="#e8801e"/><path d="M1260.1 330.9 L1265.5 336.3 L1260.1 341.7 L1254.7 336.3Z" fill="#e8801e"/><path d="M1339.5 338.7 L1344.9 344.1 L1339.5 349.5 L1334.1 344.1Z" fill="#e8801e"/><path d="M1418.8 373.6 L1424.2 379.0 L1418.8 384.4 L1413.4 379.0Z" fill="#e8801e"/><path d="M1498.2 379.2 L1503.6 384.6 L1498.2 390.0 L1492.8 384.6Z" fill="#e8801e"/><path d="M1577.6 384.5 L1583.0 389.9 L1577.6 395.3 L1572.2 389.9Z" fill="#e8801e"/><path d="M1656.9 391.9 L1662.3 397.3 L1656.9 402.7 L1651.5 397.3Z" fill="#e8801e"/>
<path d="M1121.2 274.4 V281.0 M1115.7 274.4 H1126.7 M1115.7 281.0 H1126.7 M1180.8 290.0 V302.0 M1175.3 290.0 H1186.3 M1175.3 302.0 H1186.3 M1260.1 324.5 V335.4 M1254.6 324.5 H1265.6 M1254.6 335.4 H1265.6 M1339.5 362.9 V375.9 M1334.0 362.9 H1345.0 M1334.0 375.9 H1345.0 M1418.8 385.5 V398.6 M1413.3 385.5 H1424.3 M1413.3 398.6 H1424.3 M1498.2 398.6 V409.5 M1492.7 398.6 H1503.7 M1492.7 409.5 H1503.7 M1577.6 420.4 V448.6 M1572.1 420.4 H1583.1 M1572.1 448.6 H1583.1 M1656.9 431.3 V459.6 M1651.4 431.3 H1662.4 M1651.4 459.6 H1662.4 " stroke="#9b1de8" stroke-width="1.7" fill="none"/>
<polyline points="1121.2,277.5 1180.8,296.2 1260.1,330.2 1339.5,369.4 1418.8,392.0 1498.2,403.8 1577.6,435.6 1656.9,445.2" stroke="#9b1de8" stroke-width="3" fill="none" stroke-linejoin="round"/>
<path d="M1121.2 283.7 L1127.4 273.0 L1115.0 273.0Z" fill="#9b1de8"/><path d="M1180.8 302.4 L1187.0 291.7 L1174.6 291.7Z" fill="#9b1de8"/><path d="M1260.1 336.4 L1266.3 325.7 L1253.9 325.7Z" fill="#9b1de8"/><path d="M1339.5 375.6 L1345.7 364.9 L1333.3 364.9Z" fill="#9b1de8"/><path d="M1418.8 398.2 L1425.0 387.5 L1412.6 387.5Z" fill="#9b1de8"/><path d="M1498.2 410.0 L1504.4 399.3 L1492.0 399.3Z" fill="#9b1de8"/><path d="M1577.6 441.8 L1583.8 431.1 L1571.4 431.1Z" fill="#9b1de8"/><path d="M1656.9 451.4 L1663.1 440.7 L1650.7 440.7Z" fill="#9b1de8"/>
<path d="M1121.2 260.0 V316.7 M1115.7 260.0 H1126.7 M1115.7 316.7 H1126.7 M1180.8 285.3 V335.4 M1175.3 285.3 H1186.3 M1175.3 335.4 H1186.3 M1260.1 335.4 V373.3 M1254.6 335.4 H1265.6 M1254.6 373.3 H1265.6 M1339.5 352.8 V381.2 M1334.0 352.8 H1345.0 M1334.0 381.2 H1345.0 M1418.8 370.3 V398.6 M1413.3 370.3 H1424.3 M1413.3 398.6 H1424.3 M1498.2 375.9 V403.8 M1492.7 375.9 H1503.7 M1492.7 403.8 H1503.7 M1577.6 383.3 V407.3 M1572.1 383.3 H1583.1 M1572.1 407.3 H1583.1 M1656.9 385.5 V407.3 M1651.4 385.5 H1662.4 M1651.4 407.3 H1662.4 " stroke="#5bbf21" stroke-width="1.7" fill="none"/>
<polyline points="1121.2,287.5 1180.8,311.4 1260.1,353.7 1339.5,366.8 1418.8,384.6 1498.2,387.7 1577.6,394.2 1656.9,396.4" stroke="#5bbf21" stroke-width="3" fill="none" stroke-linejoin="round"/>
<path d="M1121.2 281.3 L1127.4 292.0 L1115.0 292.0Z" fill="#5bbf21"/><path d="M1180.8 305.2 L1187.0 315.9 L1174.6 315.9Z" fill="#5bbf21"/><path d="M1260.1 347.5 L1266.3 358.2 L1253.9 358.2Z" fill="#5bbf21"/><path d="M1339.5 360.6 L1345.7 371.3 L1333.3 371.3Z" fill="#5bbf21"/><path d="M1418.8 378.4 L1425.0 389.1 L1412.6 389.1Z" fill="#5bbf21"/><path d="M1498.2 381.5 L1504.4 392.2 L1492.0 392.2Z" fill="#5bbf21"/><path d="M1577.6 388.0 L1583.8 398.7 L1571.4 398.7Z" fill="#5bbf21"/><path d="M1656.9 390.2 L1663.1 400.9 L1650.7 400.9Z" fill="#5bbf21"/>
<path d="M1121.2 279.0 V289.0 M1115.7 279.0 H1126.7 M1115.7 289.0 H1126.7 M1180.8 304.9 V320.2 M1175.3 304.9 H1186.3 M1175.3 320.2 H1186.3 M1260.1 341.9 V359.4 M1254.6 341.9 H1265.6 M1254.6 359.4 H1265.6 M1339.5 357.2 V374.6 M1334.0 357.2 H1345.0 M1334.0 374.6 H1345.0 M1418.8 387.7 V405.1 M1413.3 387.7 H1424.3 M1413.3 405.1 H1424.3 M1498.2 409.5 V422.5 M1492.7 409.5 H1503.7 M1492.7 422.5 H1503.7 M1577.6 426.9 V442.2 M1572.1 426.9 H1583.1 M1572.1 442.2 H1583.1 M1656.9 456.1 V471.8 M1651.4 456.1 H1662.4 M1651.4 471.8 H1662.4 " stroke="#e00000" stroke-width="1.7" fill="none"/>
<polyline points="1121.2,284.0 1180.8,309.7 1260.1,350.2 1339.5,365.0 1418.8,395.1 1498.2,415.1 1577.6,433.4 1656.9,464.0" stroke="#e00000" stroke-width="3" fill="none" stroke-linejoin="round"/>
<rect x="1116.0" y="278.8" width="10.4" height="10.4" fill="#e00000"/><rect x="1175.6" y="304.5" width="10.4" height="10.4" fill="#e00000"/><rect x="1254.9" y="345.0" width="10.4" height="10.4" fill="#e00000"/><rect x="1334.3" y="359.8" width="10.4" height="10.4" fill="#e00000"/><rect x="1413.6" y="389.9" width="10.4" height="10.4" fill="#e00000"/><rect x="1493.0" y="409.9" width="10.4" height="10.4" fill="#e00000"/><rect x="1572.4" y="428.2" width="10.4" height="10.4" fill="#e00000"/><rect x="1651.7" y="458.8" width="10.4" height="10.4" fill="#e00000"/>
<path d="M1121.2 280.7 V301.5 M1115.7 280.7 H1126.7 M1115.7 301.5 H1126.7 M1180.8 272.8 V304.8 M1175.3 272.8 H1186.3 M1175.3 304.8 H1186.3 M1260.1 264.8 V287.5 M1254.6 264.8 H1265.6 M1254.6 287.5 H1265.6 M1339.5 263.9 V303.2 M1334.0 263.9 H1345.0 M1334.0 303.2 H1345.0 M1418.8 276.1 V331.5 M1413.3 276.1 H1424.3 M1413.3 331.5 H1424.3 M1498.2 286.6 V345.4 M1492.7 286.6 H1503.7 M1492.7 345.4 H1503.7 M1577.6 284.0 V352.0 M1572.1 284.0 H1583.1 M1572.1 352.0 H1583.1 M1656.9 254.4 V318.0 M1651.4 254.4 H1662.4 M1651.4 318.0 H1662.4 " stroke="#0000f5" stroke-width="1.7" fill="none"/>
<polyline points="1121.2,291.0 1180.8,288.8 1260.1,276.1 1339.5,283.6 1418.8,304.0 1498.2,316.2 1577.6,318.0 1656.9,286.2" stroke="#0000f5" stroke-width="3" fill="none" stroke-linejoin="round"/>
<circle cx="1121.2" cy="291.0" r="5.6" fill="#0000f5"/><circle cx="1180.8" cy="288.8" r="5.6" fill="#0000f5"/><circle cx="1260.1" cy="276.1" r="5.6" fill="#0000f5"/><circle cx="1339.5" cy="283.6" r="5.6" fill="#0000f5"/><circle cx="1418.8" cy="304.0" r="5.6" fill="#0000f5"/><circle cx="1498.2" cy="316.2" r="5.6" fill="#0000f5"/><circle cx="1577.6" cy="318.0" r="5.6" fill="#0000f5"/><circle cx="1656.9" cy="286.2" r="5.6" fill="#0000f5"/>
<path d="M1019.6 203.4 H1047" stroke="#0000f5" stroke-width="2.6"/>
<circle cx="1033.3" cy="203.4" r="5.6" fill="#0000f5"/>
<text x="1061.0" y="211.2" font-size="21" fill="#111" textLength="31.8" lengthAdjust="spacingAndGlyphs">Ctrl</text>
<path d="M1106.8 203.4 H1132.9" stroke="#e00000" stroke-width="2.6"/>
<rect x="1114.6" y="198.2" width="10.4" height="10.4" fill="#e00000"/>
<text x="1146.8" y="211.2" font-size="21" fill="#111" textLength="43.6" lengthAdjust="spacingAndGlyphs">MCD</text>
<path d="M1207 203.4 H1234" stroke="#5bbf21" stroke-width="2.6"/>
<path d="M1220.5 197.2 L1226.7 207.9 L1214.3 207.9Z" fill="#5bbf21"/>
<text x="1248.4" y="211.2" font-size="21" fill="#111" textLength="140.6" lengthAdjust="spacingAndGlyphs">MCD+Silymarin</text>
<path d="M1395 203.4 H1422.7" stroke="#9b1de8" stroke-width="2.6"/>
<path d="M1408.8 209.6 L1415.0 198.9 L1402.6 198.9Z" fill="#9b1de8"/>
<text x="1436.6" y="211.2" font-size="21" fill="#111" textLength="114.6" lengthAdjust="spacingAndGlyphs">MCD+JPD-L</text>
<path d="M1565 203.4 H1592.6" stroke="#e8801e" stroke-width="2.6"/>
<path d="M1578.8 198.0 L1584.2 203.4 L1578.8 208.8 L1573.4 203.4Z" fill="#e8801e"/>
<text x="1607.0" y="211.2" font-size="21" fill="#111" textLength="117.6" lengthAdjust="spacingAndGlyphs">MCD+JPD-H</text>
<text x="1479.5" y="292.7" font-size="18.1" fill="#1010e8" textLength="22.0" lengthAdjust="spacingAndGlyphs">***</text>
<text x="1479.5" y="404.7" font-size="18.1" fill="#5bbf21" textLength="22.0" lengthAdjust="spacingAndGlyphs">***</text>
<text x="1479.5" y="418.7" font-size="18.1" fill="#e8801e" textLength="22.0" lengthAdjust="spacingAndGlyphs">***</text>
<text x="1479" y="467.4" font-size="17.5" font-weight="bold" fill="#e00000" textLength="30.8" lengthAdjust="spacingAndGlyphs" font-family='"Liberation Serif", "Times New Roman", serif'>###</text>
<path d="M108.0 688.4 V687.3 M103.8 687.3 H112.1" stroke="#3a5292" stroke-width="2"/><rect x="101.1" y="690.2" width="13.7" height="214.3" fill="#8aa3d5" stroke="#3a5292" stroke-width="3.6"/><path d="M129.1 690.1 V689.2 M124.9 689.2 H133.2" stroke="#6b9532" stroke-width="2"/><rect x="122.2" y="691.9" width="13.7" height="212.6" fill="#c9de8b" stroke="#6b9532" stroke-width="3.6"/><path d="M150.2 691.7 V690.3 M146.1 690.3 H154.4" stroke="#805a1e" stroke-width="2"/><rect x="143.4" y="693.5" width="13.7" height="211.0" fill="#d3ac72" stroke="#805a1e" stroke-width="3.6"/><path d="M171.4 686.5 V685.4 M167.2 685.4 H175.6" stroke="#7f1a25" stroke-width="2"/><rect x="164.6" y="688.3" width="13.7" height="216.2" fill="#c8737b" stroke="#7f1a25" stroke-width="3.6"/><path d="M192.5 688.2 V687.3 M188.4 687.3 H196.7" stroke="#222" stroke-width="2"/><rect x="183.9" y="688.2" width="17.3" height="218.1" fill="#616161"/><path d="M231.2 682.3 V680.9 M227.0 680.9 H235.3" stroke="#3a5292" stroke-width="2"/><rect x="224.3" y="684.1" width="13.7" height="220.4" fill="#8aa3d5" stroke="#3a5292" stroke-width="3.6"/><path d="M252.3 710.7 V709.6 M248.2 709.6 H256.4" stroke="#6b9532" stroke-width="2"/><rect x="245.5" y="712.5" width="13.7" height="192.0" fill="#c9de8b" stroke="#6b9532" stroke-width="3.6"/><path d="M273.4 712.1 V711.0 M269.3 711.0 H277.6" stroke="#805a1e" stroke-width="2"/><rect x="266.6" y="713.9" width="13.7" height="190.6" fill="#d3ac72" stroke="#805a1e" stroke-width="3.6"/><path d="M294.6 702.3 V701.5 M290.4 701.5 H298.8" stroke="#7f1a25" stroke-width="2"/><rect x="287.8" y="704.1" width="13.7" height="200.4" fill="#c8737b" stroke="#7f1a25" stroke-width="3.6"/><path d="M315.8 706.1 V705.3 M311.6 705.3 H319.9" stroke="#222" stroke-width="2"/><rect x="307.1" y="706.1" width="17.3" height="200.2" fill="#616161"/><path d="M354.3 681.9 V680.8 M350.2 680.8 H358.5" stroke="#3a5292" stroke-width="2"/><rect x="347.5" y="683.7" width="13.7" height="220.8" fill="#8aa3d5" stroke="#3a5292" stroke-width="3.6"/><path d="M375.5 721.9 V721.1 M371.3 721.1 H379.6" stroke="#6b9532" stroke-width="2"/><rect x="368.6" y="723.7" width="13.7" height="180.8" fill="#c9de8b" stroke="#6b9532" stroke-width="3.6"/><path d="M396.6 722.2 V721.3 M392.5 721.3 H400.8" stroke="#805a1e" stroke-width="2"/><rect x="389.8" y="724.0" width="13.7" height="180.5" fill="#d3ac72" stroke="#805a1e" stroke-width="3.6"/><path d="M417.8 721.1 V720.3 M413.6 720.3 H421.9" stroke="#7f1a25" stroke-width="2"/><rect x="410.9" y="722.9" width="13.7" height="181.6" fill="#c8737b" stroke="#7f1a25" stroke-width="3.6"/><path d="M438.9 714.0 V713.2 M434.8 713.2 H443.1" stroke="#222" stroke-width="2"/><rect x="430.3" y="714.0" width="17.3" height="192.3" fill="#616161"/><path d="M477.6 688.7 V687.1 M473.4 687.1 H481.7" stroke="#3a5292" stroke-width="2"/><rect x="470.7" y="690.5" width="13.7" height="214.0" fill="#8aa3d5" stroke="#3a5292" stroke-width="3.6"/><path d="M498.7 731.9 V731.1 M494.6 731.1 H502.9" stroke="#6b9532" stroke-width="2"/><rect x="491.9" y="733.7" width="13.7" height="170.8" fill="#c9de8b" stroke="#6b9532" stroke-width="3.6"/><path d="M519.9 733.0 V732.2 M515.7 732.2 H524.0" stroke="#805a1e" stroke-width="2"/><rect x="513.0" y="734.8" width="13.7" height="169.7" fill="#d3ac72" stroke="#805a1e" stroke-width="3.6"/><path d="M541.0 733.6 V732.8 M536.9 732.8 H545.1" stroke="#7f1a25" stroke-width="2"/><rect x="534.1" y="735.4" width="13.7" height="169.1" fill="#c8737b" stroke="#7f1a25" stroke-width="3.6"/><path d="M562.1 726.5 V725.7 M558.0 725.7 H566.3" stroke="#222" stroke-width="2"/><rect x="553.5" y="726.5" width="17.3" height="179.8" fill="#616161"/><path d="M600.8 695.5 V692.8 M596.6 692.8 H604.9" stroke="#3a5292" stroke-width="2"/><rect x="593.9" y="697.3" width="13.7" height="207.2" fill="#8aa3d5" stroke="#3a5292" stroke-width="3.6"/><path d="M621.9 746.1 V745.3 M617.8 745.3 H626.0" stroke="#6b9532" stroke-width="2"/><rect x="615.0" y="747.9" width="13.7" height="156.6" fill="#c9de8b" stroke="#6b9532" stroke-width="3.6"/><path d="M643.0 737.4 V736.3 M638.9 736.3 H647.2" stroke="#805a1e" stroke-width="2"/><rect x="636.2" y="739.2" width="13.7" height="165.3" fill="#d3ac72" stroke="#805a1e" stroke-width="3.6"/><path d="M664.2 742.0 V741.2 M660.1 741.2 H668.4" stroke="#7f1a25" stroke-width="2"/><rect x="657.4" y="743.8" width="13.7" height="160.7" fill="#c8737b" stroke="#7f1a25" stroke-width="3.6"/><path d="M685.4 733.6 V732.5 M681.2 732.5 H689.5" stroke="#222" stroke-width="2"/><rect x="676.7" y="733.6" width="17.3" height="172.7" fill="#616161"/><path d="M723.9 698.8 V696.0 M719.8 696.0 H728.1" stroke="#3a5292" stroke-width="2"/><rect x="717.1" y="700.6" width="13.7" height="203.9" fill="#8aa3d5" stroke="#3a5292" stroke-width="3.6"/><path d="M745.1 756.4 V755.6 M740.9 755.6 H749.2" stroke="#6b9532" stroke-width="2"/><rect x="738.2" y="758.2" width="13.7" height="146.3" fill="#c9de8b" stroke="#6b9532" stroke-width="3.6"/><path d="M766.2 737.9 V736.8 M762.1 736.8 H770.4" stroke="#805a1e" stroke-width="2"/><rect x="759.4" y="739.7" width="13.7" height="164.8" fill="#d3ac72" stroke="#805a1e" stroke-width="3.6"/><path d="M787.4 754.0 V753.2 M783.2 753.2 H791.5" stroke="#7f1a25" stroke-width="2"/><rect x="780.5" y="755.8" width="13.7" height="148.7" fill="#c8737b" stroke="#7f1a25" stroke-width="3.6"/><path d="M808.5 733.6 V732.8 M804.4 732.8 H812.7" stroke="#222" stroke-width="2"/><rect x="799.9" y="733.6" width="17.3" height="172.7" fill="#616161"/><path d="M847.1 692.8 V690.1 M843.0 690.1 H851.3" stroke="#3a5292" stroke-width="2"/><rect x="840.3" y="694.6" width="13.7" height="209.9" fill="#8aa3d5" stroke="#3a5292" stroke-width="3.6"/><path d="M868.3 766.2 V765.1 M864.1 765.1 H872.4" stroke="#6b9532" stroke-width="2"/><rect x="861.4" y="768.0" width="13.7" height="136.5" fill="#c9de8b" stroke="#6b9532" stroke-width="3.6"/><path d="M889.4 738.2 V737.1 M885.3 737.1 H893.6" stroke="#805a1e" stroke-width="2"/><rect x="882.6" y="740.0" width="13.7" height="164.5" fill="#d3ac72" stroke="#805a1e" stroke-width="3.6"/><path d="M910.6 763.5 V762.7 M906.5 762.7 H914.8" stroke="#7f1a25" stroke-width="2"/><rect x="903.8" y="765.3" width="13.7" height="139.2" fill="#c8737b" stroke="#7f1a25" stroke-width="3.6"/><path d="M931.8 739.8 V739.0 M927.6 739.0 H935.9" stroke="#222" stroke-width="2"/><rect x="923.1" y="739.8" width="17.3" height="166.5" fill="#616161"/>
<g stroke="#111" stroke-width="4" fill="none">
<path d="M90.5 632.5 V908 M78.8 906.3 H950.7"/>
<path d="M78.8 851.9 H90 M78.8 797.5 H90 M78.8 743.1 H90 M78.8 688.7 H90 M78.8 634.3 H90 M149.5 906 V918.2 M272.7 906 V918.2 M395.9 906 V918.2 M519.1 906 V918.2 M642.3 906 V918.2 M765.5 906 V918.2 M888.7 906 V918.2 "/>
</g>
<text x="73.6" y="913.1" font-size="19.5" text-anchor="end" font-weight="bold" fill="#111" textLength="10.5" lengthAdjust="spacingAndGlyphs">0</text>
<text x="73.6" y="858.7" font-size="19.5" text-anchor="end" font-weight="bold" fill="#111" textLength="21.5" lengthAdjust="spacingAndGlyphs">20</text>
<text x="73.6" y="804.3" font-size="19.5" text-anchor="end" font-weight="bold" fill="#111" textLength="21.5" lengthAdjust="spacingAndGlyphs">40</text>
<text x="73.6" y="749.9" font-size="19.5" text-anchor="end" font-weight="bold" fill="#111" textLength="21.5" lengthAdjust="spacingAndGlyphs">60</text>
<text x="73.6" y="695.5" font-size="19.5" text-anchor="end" font-weight="bold" fill="#111" textLength="21.5" lengthAdjust="spacingAndGlyphs">80</text>
<text x="73.6" y="641.1" font-size="19.5" text-anchor="end" font-weight="bold" fill="#111" textLength="32.5" lengthAdjust="spacingAndGlyphs">100</text>
<text x="149.5" y="940.6" font-size="19.5" text-anchor="middle" font-weight="bold" fill="#111" textLength="10.5" lengthAdjust="spacingAndGlyphs">4</text>
<text x="272.7" y="940.6" font-size="19.5" text-anchor="middle" font-weight="bold" fill="#111" textLength="10.5" lengthAdjust="spacingAndGlyphs">8</text>
<text x="395.9" y="940.6" font-size="19.5" text-anchor="middle" font-weight="bold" fill="#111" textLength="21.2" lengthAdjust="spacingAndGlyphs">12</text>
<text x="519.1" y="940.6" font-size="19.5" text-anchor="middle" font-weight="bold" fill="#111" textLength="21.2" lengthAdjust="spacingAndGlyphs">16</text>
<text x="642.3" y="940.6" font-size="19.5" text-anchor="middle" font-weight="bold" fill="#111" textLength="21.2" lengthAdjust="spacingAndGlyphs">20</text>
<text x="765.5" y="940.6" font-size="19.5" text-anchor="middle" font-weight="bold" fill="#111" textLength="21.2" lengthAdjust="spacingAndGlyphs">24</text>
<text x="888.7" y="940.6" font-size="19.5" text-anchor="middle" font-weight="bold" fill="#111" textLength="21.2" lengthAdjust="spacingAndGlyphs">28</text>
<text x="468.0" y="976.4" font-size="23.3" font-weight="bold" fill="#111" textLength="48.7" lengthAdjust="spacingAndGlyphs">DAY</text>
<text x="510.6" y="975.4" font-size="19.5" fill="#111" font-family='"Liberation Sans", "Noto Sans CJK SC", sans-serif'>（</text>
<text x="539.1" y="976.4" font-size="23.3" font-weight="bold" fill="#111">d</text>
<text x="556.4" y="975.4" font-size="19.5" fill="#111" font-family='"Liberation Sans", "Noto Sans CJK SC", sans-serif'>）</text>
<text transform="translate(24.8,769.4) rotate(-90)" font-size="23" font-weight="bold" text-anchor="middle" fill="#111" textLength="189" lengthAdjust="spacingAndGlyphs">Body Weight AUC</text>
<rect x="114.4" y="605.2" width="25.6" height="11.1" fill="#8aa3d5" stroke="#3a5292" stroke-width="3.4"/>
<text x="158.2" y="617.8" font-size="21.5" fill="#111" textLength="35.2" lengthAdjust="spacingAndGlyphs">Ctrl</text>
<rect x="230.3" y="605.2" width="25.6" height="11.1" fill="#c9de8b" stroke="#6b9532" stroke-width="3.4"/>
<text x="273.6" y="617.8" font-size="21.5" fill="#111" textLength="49.8" lengthAdjust="spacingAndGlyphs">MCD</text>
<rect x="341.9" y="605.2" width="25.6" height="11.1" fill="#d3ac72" stroke="#805a1e" stroke-width="3.4"/>
<text x="385.7" y="617.8" font-size="21.5" fill="#111" textLength="154.9" lengthAdjust="spacingAndGlyphs">MCD+Silymarin</text>
<rect x="562.4" y="605.2" width="25.6" height="11.1" fill="#c8737b" stroke="#7f1a25" stroke-width="3.4"/>
<text x="605.1" y="617.8" font-size="21.5" fill="#111" textLength="125.1" lengthAdjust="spacingAndGlyphs">MCD+JPD-L</text>
<rect x="747.6" y="603.5" width="29.0" height="14.5" fill="#616161"/>
<text x="792.0" y="617.8" font-size="21.5" fill="#111" textLength="130.5" lengthAdjust="spacingAndGlyphs">MCD+JPD-H</text>
<text x="241.1" y="705.3" font-size="16.2" font-weight="bold" fill="#e60012" textLength="25.0" lengthAdjust="spacingAndGlyphs" font-family='"Liberation Serif", "Times New Roman", serif'>###</text>
<text x="365.0" y="718.0" font-size="14.7" font-weight="bold" fill="#e60012" textLength="25.6" lengthAdjust="spacingAndGlyphs" font-family='"Liberation Serif", "Times New Roman", serif'>###</text>
<text x="488.0" y="727.9" font-size="16.3" font-weight="bold" fill="#e60012" textLength="25.0" lengthAdjust="spacingAndGlyphs" font-family='"Liberation Serif", "Times New Roman", serif'>###</text>
<text x="609.2" y="734.5" font-size="15.3" font-weight="bold" fill="#e60012" textLength="25.2" lengthAdjust="spacingAndGlyphs" font-family='"Liberation Serif", "Times New Roman", serif'>###</text>
<text x="732.6" y="752.2" font-size="16.0" font-weight="bold" fill="#e60012" textLength="24.6" lengthAdjust="spacingAndGlyphs" font-family='"Liberation Serif", "Times New Roman", serif'>###</text>
<text x="855.2" y="761.7" font-size="15.4" font-weight="bold" fill="#e60012" textLength="25.0" lengthAdjust="spacingAndGlyphs" font-family='"Liberation Serif", "Times New Roman", serif'>###</text>
<text x="639.0" y="739.1" font-size="20.3" fill="#ee7a1a" textLength="7.3" lengthAdjust="spacingAndGlyphs">*</text>
<text x="754.0" y="740.2" font-size="17.8" fill="#ee7a1a" textLength="23.8" lengthAdjust="spacingAndGlyphs">***</text>
<text x="877.5" y="740.2" font-size="17.8" fill="#ee7a1a" textLength="23.8" lengthAdjust="spacingAndGlyphs">***</text>
<text x="677.7" y="741.2" font-size="23.1" fill="#111" textLength="15.6" lengthAdjust="spacingAndGlyphs">**</text>
<text x="795.4" y="734.1" font-size="18.6" fill="#111" textLength="24.2" lengthAdjust="spacingAndGlyphs">***</text>
<text x="920.1" y="740.2" font-size="17.8" fill="#111" textLength="23.8" lengthAdjust="spacingAndGlyphs">***</text>
<path d="M1136.5 789.2 V779.3 M1128.2 779.3 H1144.8" stroke="#3a5292" stroke-width="2"/><rect x="1121.5" y="791.0" width="29.9" height="74.4" fill="#8aa3d5" stroke="#3a5292" stroke-width="3.6"/><path d="M1186.6 663.5 V660.4 M1178.3 660.4 H1194.9" stroke="#6b9532" stroke-width="2"/><rect x="1171.6" y="665.3" width="29.9" height="200.1" fill="#c9de8b" stroke="#6b9532" stroke-width="3.6"/><path d="M1236.9 715.0 V710.9 M1228.6 710.9 H1245.2" stroke="#805a1e" stroke-width="2"/><rect x="1222.0" y="716.8" width="29.9" height="148.6" fill="#d3ac72" stroke="#805a1e" stroke-width="3.6"/><path d="M1287.0 708.5 V704.8 M1278.7 704.8 H1295.3" stroke="#7f1a25" stroke-width="2"/><rect x="1272.0" y="710.3" width="29.9" height="155.1" fill="#c8737b" stroke="#7f1a25" stroke-width="3.6"/><path d="M1337.3 721.4 V709.5 M1329.0 709.5 H1345.6" stroke="#222" stroke-width="2"/><rect x="1320.5" y="721.4" width="33.5" height="145.8" fill="#616161"/>
<g stroke="#111" stroke-width="2.6" fill="none">
<path d="M1103 597.9 V868.5 M1091.7 867.2 H1371.7"/>
<path d="M1092.0 813.6 H1103 M1092.0 760.0 H1103 M1092.0 706.4 H1103 M1092.0 652.8 H1103 M1092.0 599.2 H1103 M1136.5 867.2 V878.5 M1186.6 867.2 V878.5 M1236.9 867.2 V878.5 M1287.0 867.2 V878.5 M1337.3 867.2 V878.5 "/>
</g>
<text x="1087.5" y="873.9" font-size="19" text-anchor="end" font-weight="bold" fill="#111" textLength="10.3" lengthAdjust="spacingAndGlyphs">0</text>
<text x="1087.5" y="820.3" font-size="19" text-anchor="end" font-weight="bold" fill="#111" textLength="20.8" lengthAdjust="spacingAndGlyphs">10</text>
<text x="1087.5" y="766.7" font-size="19" text-anchor="end" font-weight="bold" fill="#111" textLength="20.8" lengthAdjust="spacingAndGlyphs">20</text>
<text x="1087.5" y="713.1" font-size="19" text-anchor="end" font-weight="bold" fill="#111" textLength="20.8" lengthAdjust="spacingAndGlyphs">30</text>
<text x="1087.5" y="659.5" font-size="19" text-anchor="end" font-weight="bold" fill="#111" textLength="20.8" lengthAdjust="spacingAndGlyphs">40</text>
<text x="1087.5" y="605.9" font-size="19" text-anchor="end" font-weight="bold" fill="#111" textLength="20.8" lengthAdjust="spacingAndGlyphs">50</text>
<text x="1167.4" y="650.1" font-size="23.8" fill="#111" textLength="36.6" lengthAdjust="spacingAndGlyphs" font-family='"Liberation Serif", "Times New Roman", serif'>###</text>
<text x="1225.2" y="713.8" font-size="19.4" fill="#111" textLength="23.4" lengthAdjust="spacingAndGlyphs">***</text>
<text x="1275.1" y="707.8" font-size="19.4" fill="#111" textLength="23.8" lengthAdjust="spacingAndGlyphs">***</text>
<text x="1325.7" y="713.1" font-size="17.8" fill="#111" textLength="23.4" lengthAdjust="spacingAndGlyphs">***</text>
<text transform="translate(1049.9,733.2) rotate(-90)" font-size="21.5" font-weight="bold" text-anchor="middle" fill="#111" textLength="99.3" lengthAdjust="spacingAndGlyphs">ALT (U/L)</text>
<text transform="translate(1142.5,896.7) rotate(-45)" font-size="20.5" font-weight="bold" text-anchor="end" fill="#111">Ctrl</text>
<text transform="translate(1192.6,896.7) rotate(-45)" font-size="20.5" font-weight="bold" text-anchor="end" fill="#111">MCD</text>
<text transform="translate(1242.9,896.7) rotate(-45)" font-size="20.5" font-weight="bold" text-anchor="end" fill="#111">MCD+Silymarin</text>
<text transform="translate(1293.0,896.7) rotate(-45)" font-size="20.5" font-weight="bold" text-anchor="end" fill="#111">MCD+JPD-L</text>
<text transform="translate(1343.3,896.7) rotate(-45)" font-size="20.5" font-weight="bold" text-anchor="end" fill="#111">MCD+JPD-H</text>
<path d="M1490.7 809.4 V808.0 M1482.4 808.0 H1499.0" stroke="#3a5292" stroke-width="2"/><rect x="1475.8" y="811.2" width="29.9" height="53.4" fill="#8aa3d5" stroke="#3a5292" stroke-width="3.6"/><path d="M1541.0 668.1 V664.0 M1532.7 664.0 H1549.3" stroke="#6b9532" stroke-width="2"/><rect x="1526.0" y="669.9" width="29.9" height="194.7" fill="#c9de8b" stroke="#6b9532" stroke-width="3.6"/><path d="M1590.9 763.4 V761.0 M1582.6 761.0 H1599.2" stroke="#805a1e" stroke-width="2"/><rect x="1576.0" y="765.2" width="29.9" height="99.4" fill="#d3ac72" stroke="#805a1e" stroke-width="3.6"/><path d="M1641.3 747.6 V744.4 M1633.0 744.4 H1649.6" stroke="#7f1a25" stroke-width="2"/><rect x="1626.3" y="749.4" width="29.9" height="115.2" fill="#c8737b" stroke="#7f1a25" stroke-width="3.6"/><path d="M1691.6 764.4 V762.5 M1683.3 762.5 H1699.9" stroke="#222" stroke-width="2"/><rect x="1674.8" y="764.4" width="33.5" height="102.0" fill="#616161"/>
<g stroke="#111" stroke-width="2.6" fill="none">
<path d="M1457.4 596.7 V867.7 M1446 866.4 H1725.3"/>
<path d="M1446.4 799.3 H1457.4 M1446.4 732.2 H1457.4 M1446.4 665.1 H1457.4 M1446.4 598.0 H1457.4 M1490.7 866.4 V877.7 M1541.0 866.4 V877.7 M1590.9 866.4 V877.7 M1641.3 866.4 V877.7 M1691.6 866.4 V877.7 "/>
</g>
<text x="1441.3" y="873.1" font-size="19" text-anchor="end" font-weight="bold" fill="#111" textLength="10.3" lengthAdjust="spacingAndGlyphs">0</text>
<text x="1441.3" y="806.0" font-size="19" text-anchor="end" font-weight="bold" fill="#111" textLength="20.8" lengthAdjust="spacingAndGlyphs">20</text>
<text x="1441.3" y="738.9" font-size="19" text-anchor="end" font-weight="bold" fill="#111" textLength="20.8" lengthAdjust="spacingAndGlyphs">40</text>
<text x="1441.3" y="671.8" font-size="19" text-anchor="end" font-weight="bold" fill="#111" textLength="20.8" lengthAdjust="spacingAndGlyphs">60</text>
<text x="1441.3" y="604.7" font-size="19" text-anchor="end" font-weight="bold" fill="#111" textLength="20.8" lengthAdjust="spacingAndGlyphs">80</text>
<text x="1522.4" y="660.0" font-size="22.7" fill="#111" textLength="36.6" lengthAdjust="spacingAndGlyphs" font-family='"Liberation Serif", "Times New Roman", serif'>###</text>
<text x="1580.0" y="761.7" font-size="20.8" fill="#111" textLength="23.0" lengthAdjust="spacingAndGlyphs">***</text>
<text x="1629.0" y="746.2" font-size="19.7" fill="#111" textLength="23.2" lengthAdjust="spacingAndGlyphs">***</text>
<text x="1679.5" y="765.8" font-size="19.4" fill="#111" textLength="23.2" lengthAdjust="spacingAndGlyphs">***</text>
<text transform="translate(1402.6,732.2) rotate(-90)" font-size="20.3" font-weight="bold" text-anchor="middle" fill="#111" textLength="102.9" lengthAdjust="spacingAndGlyphs">AST (U/L)</text>
<text transform="translate(1496.7,895.9) rotate(-45)" font-size="20.5" font-weight="bold" text-anchor="end" fill="#111">Ctrl</text>
<text transform="translate(1547.0,895.9) rotate(-45)" font-size="20.5" font-weight="bold" text-anchor="end" fill="#111">MCD</text>
<text transform="translate(1596.9,895.9) rotate(-45)" font-size="20.5" font-weight="bold" text-anchor="end" fill="#111">MCD+Silymarin</text>
<text transform="translate(1647.3,895.9) rotate(-45)" font-size="20.5" font-weight="bold" text-anchor="end" fill="#111">MCD+JPD-L</text>
<text transform="translate(1697.6,895.9) rotate(-45)" font-size="20.5" font-weight="bold" text-anchor="end" fill="#111">MCD+JPD-H</text>
<defs>
<filter id="fluo" x="-20%" y="-20%" width="140%" height="140%" color-interpolation-filters="sRGB">
 <feMorphology in="SourceAlpha" operator="dilate" radius="1.4" result="d"/>
 <feGaussianBlur in="d" stdDeviation="1.1" result="db"/>
 <feFlood flood-color="#6a10d8"/><feComposite in2="db" operator="in" result="L1"/>
 <feGaussianBlur in="SourceAlpha" stdDeviation="1.1" result="sb"/>
 <feFlood flood-color="#1e28f0"/><feComposite in2="sb" operator="in" result="L2"/>
 <feMorphology in="SourceAlpha" operator="erode" radius="1.6" result="e1"/>
 <feGaussianBlur in="e1" stdDeviation="1.1" result="e1b"/>
 <feFlood flood-color="#40b8b0"/><feComposite in2="e1b" operator="in" result="L3"/>
 <feMorphology in="SourceAlpha" operator="erode" radius="3" result="e2"/>
 <feGaussianBlur in="e2" stdDeviation="1.4" result="e2b"/>
 <feFlood flood-color="#86cc34"/><feComposite in2="e2b" operator="in" result="L4"/>
 <feMerge><feMergeNode in="L1"/><feMergeNode in="L2"/><feMergeNode in="L3"/><feMergeNode in="L4"/></feMerge>
</filter>
<filter id="fluoB" x="-20%" y="-20%" width="140%" height="140%" color-interpolation-filters="sRGB">
 <feMorphology in="SourceAlpha" operator="dilate" radius="2" result="d"/>
 <feGaussianBlur in="d" stdDeviation="1.6" result="db"/>
 <feFlood flood-color="#6a14d8"/><feComposite in2="db" operator="in" result="L1"/>
 <feMorphology in="SourceAlpha" operator="erode" radius="2" result="e1"/>
 <feGaussianBlur in="e1" stdDeviation="2" result="sb"/>
 <feFlood flood-color="#3a3cf0"/><feComposite in2="sb" operator="in" result="L2"/>
 <feMerge><feMergeNode in="L1"/><feMergeNode in="L2"/></feMerge>
</filter>
<filter id="sb2" x="-50%" y="-50%" width="200%" height="200%"><feGaussianBlur stdDeviation="2.2"/></filter>
<filter id="sb4" x="-50%" y="-50%" width="200%" height="200%"><feGaussianBlur stdDeviation="4"/></filter>
<filter id="sb1" x="-50%" y="-50%" width="200%" height="200%"><feGaussianBlur stdDeviation="0.9"/></filter>
<filter id="sb05" x="-5%" y="-5%" width="110%" height="110%"><feGaussianBlur stdDeviation="0.5"/></filter>
<linearGradient id="cbar" x1="0" y1="0" x2="0" y2="1">
 <stop offset="0" stop-color="#d81e10"/><stop offset="0.2" stop-color="#f07018"/><stop offset="0.38" stop-color="#f0e020"/>
 <stop offset="0.55" stop-color="#70e030"/><stop offset="0.7" stop-color="#40d0a0"/><stop offset="0.82" stop-color="#3050f0"/>
 <stop offset="0.92" stop-color="#2010f0"/><stop offset="1" stop-color="#9010f0"/></linearGradient>
</defs>
<rect x="37.3" y="1099.5" width="173.7" height="145.5" fill="#000"/>
<rect x="216.7" y="1099.5" width="173.9" height="145.5" fill="#000"/>
<rect x="396.8" y="1099.5" width="173.8" height="145.5" fill="#000"/>
<rect x="576.7" y="1099.5" width="173.9" height="145.5" fill="#000"/>
<rect x="756.8" y="1099.5" width="173.8" height="145.5" fill="#000"/>
<path d="M58.1 1100 V1244 M101.6 1100 V1244 M145.0 1100 V1244 M190.2 1100 V1244 M37.3 1111.1 H211.0 M37.3 1135.9 H211.0 M37.3 1160.6 H211.0 M37.3 1183.9 H211.0 M37.3 1208.6 H211.0 M37.3 1233.4 H211.0 M237.6 1100 V1244 M281.0 1100 V1244 M324.5 1100 V1244 M369.7 1100 V1244 M216.7 1111.1 H390.6 M216.7 1135.9 H390.6 M216.7 1160.6 H390.6 M216.7 1183.9 H390.6 M216.7 1208.6 H390.6 M216.7 1233.4 H390.6 M417.7 1100 V1244 M461.1 1100 V1244 M504.6 1100 V1244 M549.7 1100 V1244 M396.8 1111.1 H570.6 M396.8 1135.9 H570.6 M396.8 1160.6 H570.6 M396.8 1183.9 H570.6 M396.8 1208.6 H570.6 M396.8 1233.4 H570.6 M597.6 1100 V1244 M641.0 1100 V1244 M684.5 1100 V1244 M729.7 1100 V1244 M576.7 1111.1 H750.6 M576.7 1135.9 H750.6 M576.7 1160.6 H750.6 M576.7 1183.9 H750.6 M576.7 1208.6 H750.6 M576.7 1233.4 H750.6 M777.7 1100 V1244 M821.1 1100 V1244 M864.6 1100 V1244 M909.7 1100 V1244 M756.8 1111.1 H930.6 M756.8 1135.9 H930.6 M756.8 1160.6 H930.6 M756.8 1183.9 H930.6 M756.8 1208.6 H930.6 M756.8 1233.4 H930.6 " stroke="#0c0c0e" stroke-width="0.6"/>
<path d="M105.1 1118.3 C106.5 1115.9 109.8 1120.0 110.8 1122.6 C111.8 1125.2 109.4 1131.1 110.8 1133.9 C112.2 1136.7 116.0 1138.4 119.3 1139.6 C122.6 1140.8 125.9 1139.6 130.6 1141.0 C135.3 1142.4 143.0 1145.5 147.7 1148.1 C152.4 1150.7 155.7 1152.8 159.0 1156.6 C162.3 1160.4 165.8 1167.2 167.5 1170.8 C169.2 1174.3 169.8 1175.1 168.9 1177.9 C168.0 1180.7 162.0 1184.7 161.8 1187.8 C161.6 1190.9 168.0 1193.0 167.5 1196.3 C167.0 1199.6 162.3 1206.3 159.0 1207.7 C155.7 1209.1 150.8 1205.8 147.7 1204.8 C144.6 1203.8 143.0 1201.5 140.6 1202.0 C138.2 1202.5 135.9 1207.0 133.5 1207.7 C131.1 1208.4 128.3 1208.6 126.4 1206.2 C124.5 1203.8 123.5 1196.1 122.1 1193.5 C120.7 1190.9 119.8 1189.7 117.9 1190.6 C116.0 1191.5 114.3 1196.7 110.8 1199.1 C107.2 1201.5 101.1 1204.3 96.6 1204.8 C92.1 1205.3 86.6 1203.9 83.8 1202.0 C81.0 1200.1 78.9 1197.3 79.6 1193.5 C80.3 1189.7 85.3 1184.0 88.1 1179.3 C90.9 1174.6 94.7 1169.3 96.6 1165.1 C98.5 1160.8 99.4 1157.3 99.4 1153.8 C99.4 1150.2 96.1 1146.6 96.6 1143.8 C97.1 1141.0 100.9 1141.0 102.3 1136.7 C103.7 1132.5 103.7 1120.7 105.1 1118.3 Z" fill="#fff" filter="url(#fluo)"/>
<ellipse cx="114" cy="1158" rx="5" ry="4" fill="#2a30e8" opacity="0.95" filter="url(#sb2)"/>
<ellipse cx="137" cy="1176" rx="5" ry="4.5" fill="#2a30e8" opacity="0.95" filter="url(#sb2)"/>
<ellipse cx="106" cy="1147" rx="6" ry="5" fill="#50b8a0" opacity="0.7" filter="url(#sb2)"/>
<ellipse cx="201.3" cy="1181.7" rx="1.7" ry="1.4" fill="#5a10d0" opacity="0.9" filter="url(#sb1)"/>
<ellipse cx="201.4" cy="1181.4" rx="1.4" ry="1.1" fill="#3060f0" opacity="0.9" filter="url(#sb1)"/>
<ellipse cx="199.4" cy="1181.5" rx="1.4" ry="1.1" fill="#3060f0" opacity="0.9" filter="url(#sb1)"/>
<ellipse cx="203.7" cy="1179.4" rx="1.1" ry="0.9" fill="#5a10d0" opacity="0.9" filter="url(#sb1)"/>
<ellipse cx="198.7" cy="1182.9" rx="1.5" ry="1.2" fill="#3060f0" opacity="0.9" filter="url(#sb1)"/>
<ellipse cx="198.4" cy="1183.8" rx="1.8" ry="1.4" fill="#3060f0" opacity="0.9" filter="url(#sb1)"/>
<ellipse cx="202.7" cy="1182.0" rx="1.0" ry="0.8" fill="#5a10d0" opacity="0.9" filter="url(#sb1)"/>
<ellipse cx="201.6" cy="1181.4" rx="1.2" ry="1.1" fill="#3060f0" opacity="0.9" filter="url(#sb1)"/>
<ellipse cx="188.2" cy="1210.6" rx="0.9" ry="0.7" fill="#5a10d0" opacity="0.9" filter="url(#sb1)"/>
<ellipse cx="189.4" cy="1209.2" rx="0.8" ry="0.7" fill="#3a30e8" opacity="0.9" filter="url(#sb1)"/>
<ellipse cx="191.3" cy="1210.2" rx="1.6" ry="1.3" fill="#3a30e8" opacity="0.9" filter="url(#sb1)"/>
<ellipse cx="191.7" cy="1211.2" rx="1.3" ry="1.0" fill="#5a10d0" opacity="0.9" filter="url(#sb1)"/>
<ellipse cx="192.7" cy="1210.3" rx="1.1" ry="0.9" fill="#3a30e8" opacity="0.9" filter="url(#sb1)"/>
<ellipse cx="195.1" cy="1212.9" rx="1.6" ry="1.3" fill="#3a30e8" opacity="0.9" filter="url(#sb1)"/>
<ellipse cx="193.1" cy="1209.6" rx="1.0" ry="0.8" fill="#5a10d0" opacity="0.9" filter="url(#sb1)"/>
<ellipse cx="191.6" cy="1210.5" rx="1.2" ry="1.1" fill="#3a30e8" opacity="0.9" filter="url(#sb1)"/>
<ellipse cx="146" cy="1210" rx="5.4" ry="3.6" fill="#4a14c8" opacity="0.55" filter="url(#sb2)"/>
<ellipse cx="143.5" cy="1206.4" rx="1.6" ry="1.3" fill="#5a10d0" opacity="0.9" filter="url(#sb1)"/>
<ellipse cx="144.8" cy="1212.9" rx="1.2" ry="0.9" fill="#5010c0" opacity="0.9" filter="url(#sb1)"/>
<ellipse cx="151.5" cy="1212.9" rx="0.8" ry="0.6" fill="#5010c0" opacity="0.9" filter="url(#sb1)"/>
<ellipse cx="142.5" cy="1213.4" rx="1.3" ry="1.0" fill="#5a10d0" opacity="0.9" filter="url(#sb1)"/>
<ellipse cx="151.8" cy="1209.1" rx="0.9" ry="0.7" fill="#5010c0" opacity="0.9" filter="url(#sb1)"/>
<ellipse cx="147.6" cy="1212.3" rx="1.1" ry="0.9" fill="#5010c0" opacity="0.9" filter="url(#sb1)"/>
<ellipse cx="141.0" cy="1208.6" rx="1.8" ry="1.4" fill="#5a10d0" opacity="0.9" filter="url(#sb1)"/>
<ellipse cx="149.1" cy="1206.8" rx="1.0" ry="0.8" fill="#5010c0" opacity="0.9" filter="url(#sb1)"/>
<ellipse cx="141.2" cy="1206.3" rx="1.6" ry="1.3" fill="#5010c0" opacity="0.9" filter="url(#sb1)"/>
<ellipse cx="142.1" cy="1210.5" rx="1.2" ry="1.0" fill="#5a10d0" opacity="0.9" filter="url(#sb1)"/>
<ellipse cx="142.3" cy="1211.9" rx="0.9" ry="0.7" fill="#5010c0" opacity="0.9" filter="url(#sb1)"/>
<ellipse cx="147.7" cy="1206.8" rx="1.2" ry="1.0" fill="#5010c0" opacity="0.9" filter="url(#sb1)"/>
<ellipse cx="142.6" cy="1208.1" rx="1.8" ry="1.4" fill="#5a10d0" opacity="0.9" filter="url(#sb1)"/>
<ellipse cx="146" cy="1210" rx="2.1" ry="1.8" fill="#5010c0" opacity="0.9" filter="url(#sb1)"/>
<ellipse cx="113.8" cy="1209.2" rx="1.7" ry="1.3" fill="#5a10d0" opacity="0.9" filter="url(#sb1)"/>
<ellipse cx="110.3" cy="1209.6" rx="1.7" ry="1.3" fill="#5010c0" opacity="0.9" filter="url(#sb1)"/>
<ellipse cx="112.9" cy="1208.3" rx="1.8" ry="1.4" fill="#5010c0" opacity="0.9" filter="url(#sb1)"/>
<ellipse cx="110.3" cy="1209.0" rx="1.6" ry="1.3" fill="#5a10d0" opacity="0.9" filter="url(#sb1)"/>
<ellipse cx="111.0" cy="1209.1" rx="0.9" ry="0.7" fill="#5010c0" opacity="0.9" filter="url(#sb1)"/>
<ellipse cx="109.5" cy="1210.3" rx="1.0" ry="0.8" fill="#5010c0" opacity="0.9" filter="url(#sb1)"/>
<ellipse cx="112" cy="1210" rx="1.0" ry="0.9" fill="#5010c0" opacity="0.9" filter="url(#sb1)"/>
<ellipse cx="160.8" cy="1199.3" rx="1.3" ry="1.0" fill="#5a10d0" opacity="0.9" filter="url(#sb1)"/>
<ellipse cx="163.7" cy="1199.9" rx="1.4" ry="1.1" fill="#4020d0" opacity="0.9" filter="url(#sb1)"/>
<ellipse cx="162.9" cy="1198.2" rx="1.0" ry="0.8" fill="#4020d0" opacity="0.9" filter="url(#sb1)"/>
<ellipse cx="163.3" cy="1201.8" rx="1.0" ry="0.8" fill="#5a10d0" opacity="0.9" filter="url(#sb1)"/>
<ellipse cx="157.5" cy="1201.3" rx="1.7" ry="1.4" fill="#4020d0" opacity="0.9" filter="url(#sb1)"/>
<ellipse cx="157.6" cy="1202.5" rx="1.7" ry="1.3" fill="#4020d0" opacity="0.9" filter="url(#sb1)"/>
<ellipse cx="160.8" cy="1199.6" rx="0.9" ry="0.7" fill="#5a10d0" opacity="0.9" filter="url(#sb1)"/>
<ellipse cx="156.3" cy="1202.6" rx="1.0" ry="0.8" fill="#4020d0" opacity="0.9" filter="url(#sb1)"/>
<ellipse cx="160" cy="1200" rx="1.4" ry="1.2" fill="#4020d0" opacity="0.9" filter="url(#sb1)"/>
<path d="M254.9 1145.3 C256.6 1142.5 265.6 1140.4 270.6 1138.0 C275.7 1135.6 280.3 1131.6 285.2 1130.7 C290.1 1129.8 296.0 1131.8 299.8 1132.8 C303.6 1133.8 304.3 1136.1 308.1 1137.0 C311.9 1137.9 319.0 1136.8 322.8 1138.0 C326.6 1139.2 329.2 1140.8 331.1 1144.3 C333.0 1147.8 334.9 1154.7 334.2 1158.9 C333.5 1163.1 326.4 1166.9 326.9 1169.3 C327.4 1171.7 334.9 1171.4 337.4 1173.5 C339.8 1175.6 342.0 1178.8 341.6 1181.9 C341.2 1185.0 338.4 1189.7 335.3 1192.3 C332.2 1194.9 327.3 1197.2 322.8 1197.5 C318.3 1197.8 311.6 1193.5 308.1 1194.4 C304.6 1195.3 304.0 1200.2 301.9 1202.8 C299.8 1205.4 299.8 1208.9 295.6 1210.1 C291.4 1211.3 282.0 1210.8 276.8 1210.1 C271.6 1209.4 267.8 1208.5 264.3 1205.9 C260.8 1203.3 257.6 1199.1 256.0 1194.4 C254.4 1189.7 254.4 1182.6 254.9 1177.7 C255.4 1172.8 258.2 1169.0 259.1 1165.2 C260.0 1161.4 260.8 1158.0 260.1 1154.7 C259.4 1151.4 253.2 1148.1 254.9 1145.3 Z" fill="#fff" filter="url(#fluo)"/>
<ellipse cx="279" cy="1183" rx="21" ry="20" fill="#e0d428" opacity="0.95" filter="url(#sb4)"/>
<ellipse cx="279" cy="1185" rx="17" ry="15" fill="#e87a22" opacity="0.95" filter="url(#sb4)"/>
<ellipse cx="280" cy="1186" rx="12" ry="11" fill="#e04a1e" opacity="0.95" filter="url(#sb4)"/>
<ellipse cx="310" cy="1154" rx="17" ry="14" fill="#e0c828" opacity="0.9" filter="url(#sb4)"/>
<ellipse cx="312" cy="1154" rx="12" ry="10" fill="#e87424" opacity="0.9" filter="url(#sb4)"/>
<ellipse cx="314" cy="1153" rx="7" ry="6" fill="#e0501e" opacity="0.85" filter="url(#sb4)"/>
<ellipse cx="324" cy="1182" rx="12" ry="9" fill="#e0c028" opacity="0.9" filter="url(#sb4)"/>
<ellipse cx="325" cy="1182" rx="8" ry="6" fill="#e8701e" opacity="0.9" filter="url(#sb4)"/>
<ellipse cx="287" cy="1146" rx="9" ry="6" fill="#c8e030" opacity="0.7" filter="url(#sb4)"/>
<ellipse cx="310.2" cy="1213.2" rx="8.1" ry="5.4" fill="#4a14c8" opacity="0.55" filter="url(#sb2)"/>
<ellipse cx="313.9" cy="1210.1" rx="1.6" ry="1.3" fill="#5a10d0" opacity="0.9" filter="url(#sb1)"/>
<ellipse cx="311.9" cy="1210.6" rx="1.0" ry="0.8" fill="#4818c8" opacity="0.9" filter="url(#sb1)"/>
<ellipse cx="314.2" cy="1207.8" rx="1.0" ry="0.8" fill="#4818c8" opacity="0.9" filter="url(#sb1)"/>
<ellipse cx="311.3" cy="1217.6" rx="1.4" ry="1.1" fill="#5a10d0" opacity="0.9" filter="url(#sb1)"/>
<ellipse cx="306.2" cy="1218.5" rx="1.0" ry="0.8" fill="#4818c8" opacity="0.9" filter="url(#sb1)"/>
<ellipse cx="301.5" cy="1210.3" rx="1.2" ry="1.0" fill="#4818c8" opacity="0.9" filter="url(#sb1)"/>
<ellipse cx="302.3" cy="1209.1" rx="1.2" ry="0.9" fill="#5a10d0" opacity="0.9" filter="url(#sb1)"/>
<ellipse cx="311.5" cy="1208.6" rx="1.2" ry="0.9" fill="#4818c8" opacity="0.9" filter="url(#sb1)"/>
<ellipse cx="317.2" cy="1219.3" rx="1.5" ry="1.2" fill="#4818c8" opacity="0.9" filter="url(#sb1)"/>
<ellipse cx="313.6" cy="1214.3" rx="0.9" ry="0.8" fill="#5a10d0" opacity="0.9" filter="url(#sb1)"/>
<ellipse cx="301.8" cy="1207.1" rx="1.7" ry="1.4" fill="#4818c8" opacity="0.9" filter="url(#sb1)"/>
<ellipse cx="313.8" cy="1219.0" rx="0.8" ry="0.7" fill="#4818c8" opacity="0.9" filter="url(#sb1)"/>
<ellipse cx="312.7" cy="1213.0" rx="1.5" ry="1.2" fill="#5a10d0" opacity="0.9" filter="url(#sb1)"/>
<ellipse cx="306.9" cy="1219.5" rx="0.9" ry="0.7" fill="#4818c8" opacity="0.9" filter="url(#sb1)"/>
<ellipse cx="311.0" cy="1216.2" rx="1.7" ry="1.4" fill="#4818c8" opacity="0.9" filter="url(#sb1)"/>
<ellipse cx="314.5" cy="1215.8" rx="1.6" ry="1.3" fill="#5a10d0" opacity="0.9" filter="url(#sb1)"/>
<ellipse cx="317.7" cy="1211.3" rx="1.5" ry="1.2" fill="#4818c8" opacity="0.9" filter="url(#sb1)"/>
<ellipse cx="317.4" cy="1217.9" rx="1.2" ry="1.0" fill="#4818c8" opacity="0.9" filter="url(#sb1)"/>
<ellipse cx="315.4" cy="1217.8" rx="1.4" ry="1.1" fill="#5a10d0" opacity="0.9" filter="url(#sb1)"/>
<ellipse cx="310.2" cy="1213.2" rx="3.0" ry="2.5" fill="#4818c8" opacity="0.9" filter="url(#sb1)"/>
<ellipse cx="316.7" cy="1209.5" rx="1.4" ry="1.1" fill="#5a10d0" opacity="0.9" filter="url(#sb1)"/>
<ellipse cx="316.7" cy="1208.2" rx="1.4" ry="1.2" fill="#3090e0" opacity="0.9" filter="url(#sb1)"/>
<ellipse cx="319.0" cy="1211.6" rx="1.5" ry="1.2" fill="#3090e0" opacity="0.9" filter="url(#sb1)"/>
<ellipse cx="315.3" cy="1211.0" rx="1.4" ry="1.1" fill="#5a10d0" opacity="0.9" filter="url(#sb1)"/>
<ellipse cx="315.6" cy="1211.4" rx="0.9" ry="0.7" fill="#3090e0" opacity="0.9" filter="url(#sb1)"/>
<ellipse cx="317.5" cy="1208.0" rx="1.4" ry="1.1" fill="#3090e0" opacity="0.9" filter="url(#sb1)"/>
<ellipse cx="316" cy="1210" rx="1.0" ry="0.9" fill="#3090e0" opacity="0.9" filter="url(#sb1)"/>
<ellipse cx="243.2" cy="1190.8" rx="1.5" ry="1.2" fill="#5a10d0" opacity="0.9" filter="url(#sb1)"/>
<ellipse cx="243.4" cy="1192.9" rx="1.7" ry="1.4" fill="#5010c8" opacity="0.9" filter="url(#sb1)"/>
<ellipse cx="241.4" cy="1189.6" rx="1.1" ry="0.9" fill="#5010c8" opacity="0.9" filter="url(#sb1)"/>
<ellipse cx="244.8" cy="1190.6" rx="1.0" ry="0.8" fill="#5a10d0" opacity="0.9" filter="url(#sb1)"/>
<ellipse cx="246.6" cy="1193.2" rx="1.2" ry="1.0" fill="#5010c8" opacity="0.9" filter="url(#sb1)"/>
<ellipse cx="246.5" cy="1191.3" rx="1.5" ry="1.2" fill="#5010c8" opacity="0.9" filter="url(#sb1)"/>
<ellipse cx="241.0" cy="1191.9" rx="1.6" ry="1.3" fill="#5a10d0" opacity="0.9" filter="url(#sb1)"/>
<ellipse cx="246.7" cy="1194.4" rx="1.2" ry="0.9" fill="#5010c8" opacity="0.9" filter="url(#sb1)"/>
<ellipse cx="243.4" cy="1192.3" rx="1.4" ry="1.2" fill="#5010c8" opacity="0.9" filter="url(#sb1)"/>
<ellipse cx="367.3" cy="1194.5" rx="0.9" ry="0.7" fill="#5a10d0" opacity="0.9" filter="url(#sb1)"/>
<ellipse cx="366.6" cy="1197.4" rx="1.6" ry="1.3" fill="#3060f0" opacity="0.9" filter="url(#sb1)"/>
<ellipse cx="368.3" cy="1198.0" rx="1.1" ry="0.9" fill="#3060f0" opacity="0.9" filter="url(#sb1)"/>
<ellipse cx="364.0" cy="1195.2" rx="1.1" ry="0.9" fill="#5a10d0" opacity="0.9" filter="url(#sb1)"/>
<ellipse cx="364.3" cy="1195.0" rx="1.4" ry="1.1" fill="#3060f0" opacity="0.9" filter="url(#sb1)"/>
<ellipse cx="366.6" cy="1194.5" rx="1.6" ry="1.3" fill="#3060f0" opacity="0.9" filter="url(#sb1)"/>
<ellipse cx="370.5" cy="1195.2" rx="0.9" ry="0.7" fill="#5a10d0" opacity="0.9" filter="url(#sb1)"/>
<ellipse cx="362.9" cy="1197.6" rx="0.8" ry="0.7" fill="#3060f0" opacity="0.9" filter="url(#sb1)"/>
<ellipse cx="366.6" cy="1195.5" rx="1.4" ry="1.2" fill="#3060f0" opacity="0.9" filter="url(#sb1)"/>
<ellipse cx="355.8" cy="1227.2" rx="1.1" ry="0.9" fill="#5a10d0" opacity="0.9" filter="url(#sb1)"/>
<ellipse cx="356.4" cy="1224.1" rx="0.9" ry="0.7" fill="#3050f0" opacity="0.9" filter="url(#sb1)"/>
<ellipse cx="353.7" cy="1224.1" rx="1.6" ry="1.3" fill="#3050f0" opacity="0.9" filter="url(#sb1)"/>
<ellipse cx="352.0" cy="1224.8" rx="0.8" ry="0.7" fill="#5a10d0" opacity="0.9" filter="url(#sb1)"/>
<ellipse cx="355.1" cy="1226.5" rx="1.4" ry="1.1" fill="#3050f0" opacity="0.9" filter="url(#sb1)"/>
<ellipse cx="355.3" cy="1228.5" rx="1.8" ry="1.4" fill="#3050f0" opacity="0.9" filter="url(#sb1)"/>
<ellipse cx="355.6" cy="1225.1" rx="1.3" ry="1.0" fill="#5a10d0" opacity="0.9" filter="url(#sb1)"/>
<ellipse cx="351.5" cy="1224.1" rx="1.3" ry="1.0" fill="#3050f0" opacity="0.9" filter="url(#sb1)"/>
<ellipse cx="354.1" cy="1226.8" rx="1.4" ry="1.2" fill="#3050f0" opacity="0.9" filter="url(#sb1)"/>
<ellipse cx="311.5" cy="1123.2" rx="1.1" ry="0.9" fill="#5a10d0" opacity="0.9" filter="url(#sb1)"/>
<ellipse cx="309.3" cy="1125.3" rx="1.3" ry="1.1" fill="#5010c8" opacity="0.9" filter="url(#sb1)"/>
<ellipse cx="310.9" cy="1125.6" rx="1.2" ry="1.0" fill="#5010c8" opacity="0.9" filter="url(#sb1)"/>
<ellipse cx="312.0" cy="1126.2" rx="0.9" ry="0.7" fill="#5a10d0" opacity="0.9" filter="url(#sb1)"/>
<ellipse cx="312.8" cy="1125.4" rx="0.9" ry="0.7" fill="#5010c8" opacity="0.9" filter="url(#sb1)"/>
<ellipse cx="309.9" cy="1125.0" rx="1.7" ry="1.4" fill="#5010c8" opacity="0.9" filter="url(#sb1)"/>
<ellipse cx="310.2" cy="1124.5" rx="1.0" ry="0.9" fill="#5010c8" opacity="0.9" filter="url(#sb1)"/>
<ellipse cx="263.3" cy="1225.3" rx="1.7" ry="1.3" fill="#5a10d0" opacity="0.9" filter="url(#sb1)"/>
<ellipse cx="265.8" cy="1226.9" rx="1.3" ry="1.0" fill="#5010c8" opacity="0.9" filter="url(#sb1)"/>
<ellipse cx="264.9" cy="1223.8" rx="1.5" ry="1.2" fill="#5010c8" opacity="0.9" filter="url(#sb1)"/>
<ellipse cx="265.9" cy="1225.6" rx="1.5" ry="1.2" fill="#5a10d0" opacity="0.9" filter="url(#sb1)"/>
<ellipse cx="262.3" cy="1226.7" rx="1.8" ry="1.4" fill="#5010c8" opacity="0.9" filter="url(#sb1)"/>
<ellipse cx="266.9" cy="1225.2" rx="1.6" ry="1.3" fill="#5010c8" opacity="0.9" filter="url(#sb1)"/>
<ellipse cx="264" cy="1225" rx="1.0" ry="0.9" fill="#5010c8" opacity="0.9" filter="url(#sb1)"/>
<ellipse cx="289.1" cy="1231.4" rx="1.7" ry="1.3" fill="#5a10d0" opacity="0.9" filter="url(#sb1)"/>
<ellipse cx="289.2" cy="1228.5" rx="1.2" ry="1.0" fill="#5010c8" opacity="0.9" filter="url(#sb1)"/>
<ellipse cx="290.3" cy="1230.9" rx="1.3" ry="1.0" fill="#5010c8" opacity="0.9" filter="url(#sb1)"/>
<ellipse cx="287.6" cy="1231.1" rx="0.9" ry="0.7" fill="#5a10d0" opacity="0.9" filter="url(#sb1)"/>
<ellipse cx="291.5" cy="1228.9" rx="1.1" ry="0.9" fill="#5010c8" opacity="0.9" filter="url(#sb1)"/>
<ellipse cx="469" cy="1109" rx="6" ry="8" fill="#9a9a9a" opacity="0.6" filter="url(#sb4)"/>
<ellipse cx="472" cy="1120" rx="3" ry="3" fill="#e0e0e0" opacity="0.8" filter="url(#sb1)"/>
<path d="M460.6 1130.7 C463.7 1127.9 469.6 1128.1 473.1 1129.7 C476.6 1131.3 479.1 1136.6 481.5 1140.1 C483.9 1143.6 484.2 1149.5 487.7 1150.6 C491.2 1151.6 498.1 1146.4 502.3 1146.4 C506.5 1146.4 510.5 1148.5 512.8 1150.6 C515.1 1152.7 517.6 1156.5 515.9 1158.9 C514.1 1161.3 506.3 1162.8 502.3 1165.2 C498.3 1167.6 494.7 1170.4 491.9 1173.5 C489.1 1176.6 487.7 1180.2 485.6 1184.0 C483.5 1187.8 482.5 1193.2 479.4 1196.5 C476.3 1199.8 470.6 1203.1 466.8 1203.8 C463.0 1204.5 458.8 1203.3 456.4 1200.7 C454.0 1198.1 453.2 1192.6 452.2 1188.1 C451.1 1183.6 451.1 1178.0 450.1 1173.5 C449.1 1169.0 446.9 1164.8 446.0 1161.0 C445.1 1157.2 443.5 1153.0 444.9 1150.6 C446.3 1148.2 451.7 1149.7 454.3 1146.4 C456.9 1143.1 457.5 1133.5 460.6 1130.7 Z" fill="#fff" filter="url(#fluo)"/>
<ellipse cx="468" cy="1183" rx="7" ry="6" fill="#d8e030" opacity="0.75" filter="url(#sb2)"/>
<ellipse cx="458" cy="1160" rx="6" ry="5" fill="#50c0a0" opacity="0.6" filter="url(#sb2)"/>
<ellipse cx="519" cy="1202.8" rx="8.1" ry="5.4" fill="#4a14c8" opacity="0.55" filter="url(#sb2)"/>
<ellipse cx="524.2" cy="1198.3" rx="0.9" ry="0.8" fill="#5a10d0" opacity="0.9" filter="url(#sb1)"/>
<ellipse cx="519.3" cy="1205.6" rx="1.6" ry="1.3" fill="#3a20d8" opacity="0.9" filter="url(#sb1)"/>
<ellipse cx="522.4" cy="1208.4" rx="1.3" ry="1.0" fill="#3a20d8" opacity="0.9" filter="url(#sb1)"/>
<ellipse cx="527.1" cy="1197.6" rx="1.0" ry="0.8" fill="#5a10d0" opacity="0.9" filter="url(#sb1)"/>
<ellipse cx="519.5" cy="1200.2" rx="1.5" ry="1.2" fill="#3a20d8" opacity="0.9" filter="url(#sb1)"/>
<ellipse cx="521.5" cy="1203.1" rx="1.6" ry="1.3" fill="#3a20d8" opacity="0.9" filter="url(#sb1)"/>
<ellipse cx="520.1" cy="1200.4" rx="1.2" ry="0.9" fill="#5a10d0" opacity="0.9" filter="url(#sb1)"/>
<ellipse cx="525.2" cy="1207.8" rx="1.0" ry="0.8" fill="#3a20d8" opacity="0.9" filter="url(#sb1)"/>
<ellipse cx="525.3" cy="1208.7" rx="1.3" ry="1.1" fill="#3a20d8" opacity="0.9" filter="url(#sb1)"/>
<ellipse cx="520.3" cy="1199.0" rx="1.3" ry="1.1" fill="#5a10d0" opacity="0.9" filter="url(#sb1)"/>
<ellipse cx="519.1" cy="1204.1" rx="0.8" ry="0.7" fill="#3a20d8" opacity="0.9" filter="url(#sb1)"/>
<ellipse cx="527.4" cy="1203.0" rx="1.2" ry="1.0" fill="#3a20d8" opacity="0.9" filter="url(#sb1)"/>
<ellipse cx="524.4" cy="1203.6" rx="1.3" ry="1.0" fill="#5a10d0" opacity="0.9" filter="url(#sb1)"/>
<ellipse cx="522.4" cy="1197.3" rx="1.3" ry="1.1" fill="#3a20d8" opacity="0.9" filter="url(#sb1)"/>
<ellipse cx="517.4" cy="1208.6" rx="1.7" ry="1.4" fill="#3a20d8" opacity="0.9" filter="url(#sb1)"/>
<ellipse cx="514.8" cy="1202.5" rx="0.9" ry="0.7" fill="#5a10d0" opacity="0.9" filter="url(#sb1)"/>
<ellipse cx="517.8" cy="1206.8" rx="1.7" ry="1.4" fill="#3a20d8" opacity="0.9" filter="url(#sb1)"/>
<ellipse cx="518.6" cy="1200.5" rx="1.0" ry="0.8" fill="#3a20d8" opacity="0.9" filter="url(#sb1)"/>
<ellipse cx="521.1" cy="1208.2" rx="0.9" ry="0.7" fill="#5a10d0" opacity="0.9" filter="url(#sb1)"/>
<ellipse cx="519" cy="1202.8" rx="3.0" ry="2.5" fill="#3a20d8" opacity="0.9" filter="url(#sb1)"/>
<ellipse cx="526.7" cy="1196.0" rx="1.0" ry="0.8" fill="#5a10d0" opacity="0.9" filter="url(#sb1)"/>
<ellipse cx="523.4" cy="1198.8" rx="1.1" ry="0.9" fill="#30a0d0" opacity="0.9" filter="url(#sb1)"/>
<ellipse cx="524.1" cy="1198.5" rx="0.9" ry="0.7" fill="#30a0d0" opacity="0.9" filter="url(#sb1)"/>
<ellipse cx="526.4" cy="1196.4" rx="1.3" ry="1.0" fill="#5a10d0" opacity="0.9" filter="url(#sb1)"/>
<ellipse cx="523.5" cy="1196.7" rx="1.3" ry="1.1" fill="#30a0d0" opacity="0.9" filter="url(#sb1)"/>
<ellipse cx="524.6" cy="1197.5" rx="1.2" ry="1.0" fill="#30a0d0" opacity="0.9" filter="url(#sb1)"/>
<ellipse cx="525" cy="1198" rx="1.0" ry="0.9" fill="#30a0d0" opacity="0.9" filter="url(#sb1)"/>
<ellipse cx="456.4" cy="1221.5" rx="7.2" ry="4.8" fill="#4a14c8" opacity="0.55" filter="url(#sb2)"/>
<ellipse cx="456.9" cy="1217.7" rx="1.0" ry="0.8" fill="#5a10d0" opacity="0.9" filter="url(#sb1)"/>
<ellipse cx="458.5" cy="1223.1" rx="1.3" ry="1.1" fill="#3a30e0" opacity="0.9" filter="url(#sb1)"/>
<ellipse cx="462.0" cy="1222.8" rx="1.7" ry="1.3" fill="#3a30e0" opacity="0.9" filter="url(#sb1)"/>
<ellipse cx="452.1" cy="1224.2" rx="1.6" ry="1.3" fill="#5a10d0" opacity="0.9" filter="url(#sb1)"/>
<ellipse cx="462.8" cy="1219.4" rx="1.1" ry="0.9" fill="#3a30e0" opacity="0.9" filter="url(#sb1)"/>
<ellipse cx="463.2" cy="1218.3" rx="1.8" ry="1.4" fill="#3a30e0" opacity="0.9" filter="url(#sb1)"/>
<ellipse cx="462.6" cy="1217.4" rx="1.0" ry="0.8" fill="#5a10d0" opacity="0.9" filter="url(#sb1)"/>
<ellipse cx="460.0" cy="1218.8" rx="0.9" ry="0.7" fill="#3a30e0" opacity="0.9" filter="url(#sb1)"/>
<ellipse cx="461.7" cy="1220.6" rx="1.6" ry="1.3" fill="#3a30e0" opacity="0.9" filter="url(#sb1)"/>
<ellipse cx="450.4" cy="1220.4" rx="1.5" ry="1.2" fill="#5a10d0" opacity="0.9" filter="url(#sb1)"/>
<ellipse cx="448.7" cy="1218.2" rx="1.5" ry="1.2" fill="#3a30e0" opacity="0.9" filter="url(#sb1)"/>
<ellipse cx="463.0" cy="1226.7" rx="0.9" ry="0.7" fill="#3a30e0" opacity="0.9" filter="url(#sb1)"/>
<ellipse cx="456.5" cy="1224.4" rx="1.3" ry="1.0" fill="#5a10d0" opacity="0.9" filter="url(#sb1)"/>
<ellipse cx="459.4" cy="1218.0" rx="0.9" ry="0.7" fill="#3a30e0" opacity="0.9" filter="url(#sb1)"/>
<ellipse cx="450.1" cy="1216.3" rx="1.4" ry="1.1" fill="#3a30e0" opacity="0.9" filter="url(#sb1)"/>
<ellipse cx="456.6" cy="1222.3" rx="0.9" ry="0.8" fill="#5a10d0" opacity="0.9" filter="url(#sb1)"/>
<ellipse cx="451.4" cy="1218.2" rx="1.6" ry="1.3" fill="#3a30e0" opacity="0.9" filter="url(#sb1)"/>
<ellipse cx="456.4" cy="1221.5" rx="2.8" ry="2.4" fill="#3a30e0" opacity="0.9" filter="url(#sb1)"/>
<ellipse cx="481.2" cy="1215.6" rx="0.9" ry="0.7" fill="#5a10d0" opacity="0.9" filter="url(#sb1)"/>
<ellipse cx="473.8" cy="1215.7" rx="1.3" ry="1.0" fill="#5010c8" opacity="0.9" filter="url(#sb1)"/>
<ellipse cx="479.4" cy="1212.2" rx="1.3" ry="1.0" fill="#5010c8" opacity="0.9" filter="url(#sb1)"/>
<ellipse cx="477.4" cy="1212.8" rx="1.4" ry="1.1" fill="#5a10d0" opacity="0.9" filter="url(#sb1)"/>
<ellipse cx="473.4" cy="1214.3" rx="1.6" ry="1.3" fill="#5010c8" opacity="0.9" filter="url(#sb1)"/>
<ellipse cx="474.8" cy="1212.9" rx="1.5" ry="1.2" fill="#5010c8" opacity="0.9" filter="url(#sb1)"/>
<ellipse cx="476.5" cy="1211.5" rx="1.0" ry="0.8" fill="#5a10d0" opacity="0.9" filter="url(#sb1)"/>
<ellipse cx="477.4" cy="1210.5" rx="1.7" ry="1.4" fill="#5010c8" opacity="0.9" filter="url(#sb1)"/>
<ellipse cx="477.3" cy="1213.2" rx="1.4" ry="1.2" fill="#5010c8" opacity="0.9" filter="url(#sb1)"/>
<ellipse cx="529.2" cy="1147.3" rx="1.7" ry="1.3" fill="#5a10d0" opacity="0.9" filter="url(#sb1)"/>
<ellipse cx="528.2" cy="1146.0" rx="1.4" ry="1.1" fill="#5010c8" opacity="0.9" filter="url(#sb1)"/>
<ellipse cx="527.4" cy="1148.4" rx="1.6" ry="1.3" fill="#5010c8" opacity="0.9" filter="url(#sb1)"/>
<ellipse cx="525.9" cy="1148.1" rx="1.5" ry="1.2" fill="#5a10d0" opacity="0.9" filter="url(#sb1)"/>
<ellipse cx="529.1" cy="1147.7" rx="1.2" ry="1.0" fill="#5010c8" opacity="0.9" filter="url(#sb1)"/>
<ellipse cx="529.8" cy="1148.0" rx="1.5" ry="1.2" fill="#5010c8" opacity="0.9" filter="url(#sb1)"/>
<ellipse cx="527.4" cy="1146.4" rx="1.0" ry="0.9" fill="#5010c8" opacity="0.9" filter="url(#sb1)"/>
<ellipse cx="564.5" cy="1214.3" rx="1.2" ry="1.0" fill="#5a10d0" opacity="0.9" filter="url(#sb1)"/>
<ellipse cx="564.2" cy="1211.4" rx="1.1" ry="0.9" fill="#3060f0" opacity="0.9" filter="url(#sb1)"/>
<ellipse cx="562.7" cy="1211.1" rx="1.2" ry="0.9" fill="#3060f0" opacity="0.9" filter="url(#sb1)"/>
<ellipse cx="563.7" cy="1213.7" rx="1.0" ry="0.8" fill="#5a10d0" opacity="0.9" filter="url(#sb1)"/>
<ellipse cx="565.6" cy="1213.9" rx="1.1" ry="0.9" fill="#3060f0" opacity="0.9" filter="url(#sb1)"/>
<ellipse cx="563.9" cy="1213.5" rx="1.3" ry="1.1" fill="#3060f0" opacity="0.9" filter="url(#sb1)"/>
<ellipse cx="562.9" cy="1213.2" rx="1.0" ry="0.9" fill="#3060f0" opacity="0.9" filter="url(#sb1)"/>
<ellipse cx="518.3" cy="1113.0" rx="1.4" ry="1.2" fill="#5a10d0" opacity="0.9" filter="url(#sb1)"/>
<ellipse cx="520.2" cy="1112.0" rx="1.8" ry="1.4" fill="#5010c8" opacity="0.9" filter="url(#sb1)"/>
<ellipse cx="516.1" cy="1111.4" rx="1.5" ry="1.2" fill="#5010c8" opacity="0.9" filter="url(#sb1)"/>
<ellipse cx="517.5" cy="1110.5" rx="0.9" ry="0.7" fill="#5a10d0" opacity="0.9" filter="url(#sb1)"/>
<ellipse cx="517.2" cy="1110.4" rx="0.9" ry="0.7" fill="#5010c8" opacity="0.9" filter="url(#sb1)"/>
<ellipse cx="517.5" cy="1112.6" rx="1.4" ry="1.1" fill="#5010c8" opacity="0.9" filter="url(#sb1)"/>
<ellipse cx="519" cy="1110.9" rx="1.0" ry="0.9" fill="#5010c8" opacity="0.9" filter="url(#sb1)"/>
<ellipse cx="530.0" cy="1182.0" rx="1.4" ry="1.1" fill="#5a10d0" opacity="0.9" filter="url(#sb1)"/>
<ellipse cx="533.0" cy="1180.6" rx="1.6" ry="1.3" fill="#5010c8" opacity="0.9" filter="url(#sb1)"/>
<ellipse cx="527.5" cy="1180.4" rx="1.6" ry="1.2" fill="#5010c8" opacity="0.9" filter="url(#sb1)"/>
<ellipse cx="527.3" cy="1181.8" rx="1.0" ry="0.8" fill="#5a10d0" opacity="0.9" filter="url(#sb1)"/>
<ellipse cx="529.8" cy="1178.6" rx="1.3" ry="1.0" fill="#5010c8" opacity="0.9" filter="url(#sb1)"/>
<ellipse cx="530.7" cy="1178.1" rx="1.7" ry="1.4" fill="#5010c8" opacity="0.9" filter="url(#sb1)"/>
<ellipse cx="530" cy="1180" rx="1.0" ry="0.9" fill="#5010c8" opacity="0.9" filter="url(#sb1)"/>
<ellipse cx="645" cy="1125" rx="7" ry="10" fill="#6a6a6a" opacity="0.6" filter="url(#sb4)"/>
<path d="M657.7 1134.9 C661.2 1133.0 669.2 1130.9 674.4 1130.7 C679.6 1130.5 685.0 1131.6 689.0 1133.9 C693.0 1136.2 696.6 1140.1 698.4 1144.3 C700.1 1148.5 700.4 1154.4 699.5 1158.9 C698.6 1163.4 696.3 1167.9 693.2 1171.4 C690.1 1174.9 683.3 1176.3 680.7 1179.8 C678.1 1183.3 680.6 1188.8 677.5 1192.3 C674.4 1195.8 666.9 1198.8 661.9 1200.7 C656.9 1202.6 651.1 1202.2 647.3 1203.8 C643.5 1205.4 642.0 1209.9 638.9 1210.1 C635.8 1210.3 630.6 1207.8 628.5 1204.8 C626.4 1201.8 625.7 1195.4 626.4 1192.3 C627.1 1189.2 634.0 1188.5 632.6 1186.1 C631.2 1183.7 621.3 1180.5 618.0 1177.7 C614.7 1174.9 612.4 1172.8 612.8 1169.3 C613.1 1165.8 616.8 1160.3 620.1 1156.8 C623.4 1153.3 628.1 1149.7 632.6 1148.5 C637.1 1147.3 643.8 1150.5 647.3 1149.5 C650.8 1148.5 651.8 1144.6 653.5 1142.2 C655.2 1139.8 654.2 1136.8 657.7 1134.9 Z" fill="#fff" filter="url(#fluo)"/>
<ellipse cx="670" cy="1162" rx="10" ry="8" fill="#d8d830" opacity="0.7" filter="url(#sb2)"/>
<ellipse cx="672" cy="1160" rx="4" ry="3" fill="#e0a020" opacity="0.6" filter="url(#sb2)"/>
<ellipse cx="650" cy="1192" rx="8" ry="5" fill="#d8d030" opacity="0.6" filter="url(#sb2)"/>
<ellipse cx="695.3" cy="1198.6" rx="8.1" ry="5.4" fill="#4a14c8" opacity="0.55" filter="url(#sb2)"/>
<ellipse cx="693.9" cy="1198.9" rx="1.4" ry="1.1" fill="#5a10d0" opacity="0.9" filter="url(#sb1)"/>
<ellipse cx="692.9" cy="1195.9" rx="1.5" ry="1.2" fill="#3a20d8" opacity="0.9" filter="url(#sb1)"/>
<ellipse cx="696.4" cy="1195.9" rx="1.5" ry="1.2" fill="#3a20d8" opacity="0.9" filter="url(#sb1)"/>
<ellipse cx="691.6" cy="1192.5" rx="1.0" ry="0.8" fill="#5a10d0" opacity="0.9" filter="url(#sb1)"/>
<ellipse cx="687.1" cy="1194.3" rx="1.6" ry="1.2" fill="#3a20d8" opacity="0.9" filter="url(#sb1)"/>
<ellipse cx="693.3" cy="1203.6" rx="1.5" ry="1.2" fill="#3a20d8" opacity="0.9" filter="url(#sb1)"/>
<ellipse cx="687.2" cy="1204.8" rx="1.7" ry="1.4" fill="#5a10d0" opacity="0.9" filter="url(#sb1)"/>
<ellipse cx="687.6" cy="1203.7" rx="1.2" ry="1.0" fill="#3a20d8" opacity="0.9" filter="url(#sb1)"/>
<ellipse cx="694.9" cy="1204.6" rx="1.0" ry="0.8" fill="#3a20d8" opacity="0.9" filter="url(#sb1)"/>
<ellipse cx="695.7" cy="1204.1" rx="1.5" ry="1.2" fill="#5a10d0" opacity="0.9" filter="url(#sb1)"/>
<ellipse cx="694.7" cy="1204.6" rx="1.6" ry="1.3" fill="#3a20d8" opacity="0.9" filter="url(#sb1)"/>
<ellipse cx="697.2" cy="1193.8" rx="1.4" ry="1.1" fill="#3a20d8" opacity="0.9" filter="url(#sb1)"/>
<ellipse cx="694.5" cy="1194.9" rx="0.9" ry="0.7" fill="#5a10d0" opacity="0.9" filter="url(#sb1)"/>
<ellipse cx="695.8" cy="1193.9" rx="1.2" ry="1.0" fill="#3a20d8" opacity="0.9" filter="url(#sb1)"/>
<ellipse cx="698.3" cy="1198.0" rx="1.1" ry="0.8" fill="#3a20d8" opacity="0.9" filter="url(#sb1)"/>
<ellipse cx="696.8" cy="1197.6" rx="1.6" ry="1.3" fill="#5a10d0" opacity="0.9" filter="url(#sb1)"/>
<ellipse cx="695.9" cy="1204.9" rx="1.8" ry="1.4" fill="#3a20d8" opacity="0.9" filter="url(#sb1)"/>
<ellipse cx="699.5" cy="1195.3" rx="0.9" ry="0.7" fill="#3a20d8" opacity="0.9" filter="url(#sb1)"/>
<ellipse cx="702.4" cy="1202.2" rx="1.4" ry="1.1" fill="#5a10d0" opacity="0.9" filter="url(#sb1)"/>
<ellipse cx="695.3" cy="1198.6" rx="3.0" ry="2.5" fill="#3a20d8" opacity="0.9" filter="url(#sb1)"/>
<ellipse cx="702.2" cy="1195.0" rx="1.5" ry="1.2" fill="#5a10d0" opacity="0.9" filter="url(#sb1)"/>
<ellipse cx="703.4" cy="1196.4" rx="1.4" ry="1.1" fill="#30a0d0" opacity="0.9" filter="url(#sb1)"/>
<ellipse cx="704.5" cy="1194.7" rx="1.0" ry="0.8" fill="#30a0d0" opacity="0.9" filter="url(#sb1)"/>
<ellipse cx="705.9" cy="1197.7" rx="1.7" ry="1.3" fill="#5a10d0" opacity="0.9" filter="url(#sb1)"/>
<ellipse cx="700.2" cy="1194.2" rx="1.1" ry="0.9" fill="#30a0d0" opacity="0.9" filter="url(#sb1)"/>
<ellipse cx="702.6" cy="1196.5" rx="0.9" ry="0.7" fill="#30a0d0" opacity="0.9" filter="url(#sb1)"/>
<ellipse cx="703" cy="1196" rx="1.0" ry="0.9" fill="#30a0d0" opacity="0.9" filter="url(#sb1)"/>
<ellipse cx="708.0" cy="1155.0" rx="0.9" ry="0.7" fill="#5a10d0" opacity="0.9" filter="url(#sb1)"/>
<ellipse cx="708.9" cy="1157.0" rx="1.4" ry="1.1" fill="#5010c8" opacity="0.9" filter="url(#sb1)"/>
<ellipse cx="707.0" cy="1156.7" rx="1.0" ry="0.8" fill="#5010c8" opacity="0.9" filter="url(#sb1)"/>
<ellipse cx="706.9" cy="1157.8" rx="1.6" ry="1.3" fill="#5a10d0" opacity="0.9" filter="url(#sb1)"/>
<ellipse cx="705.2" cy="1155.2" rx="1.6" ry="1.3" fill="#5010c8" opacity="0.9" filter="url(#sb1)"/>
<ellipse cx="708.5" cy="1157.9" rx="1.0" ry="0.8" fill="#5010c8" opacity="0.9" filter="url(#sb1)"/>
<ellipse cx="707.8" cy="1156.8" rx="1.0" ry="0.9" fill="#5010c8" opacity="0.9" filter="url(#sb1)"/>
<ellipse cx="627.9" cy="1214.9" rx="1.6" ry="1.3" fill="#5a10d0" opacity="0.9" filter="url(#sb1)"/>
<ellipse cx="627.5" cy="1217.2" rx="1.8" ry="1.4" fill="#4020d0" opacity="0.9" filter="url(#sb1)"/>
<ellipse cx="627.1" cy="1216.6" rx="1.5" ry="1.2" fill="#4020d0" opacity="0.9" filter="url(#sb1)"/>
<ellipse cx="631.9" cy="1215.9" rx="1.2" ry="0.9" fill="#5a10d0" opacity="0.9" filter="url(#sb1)"/>
<ellipse cx="625.3" cy="1218.4" rx="0.9" ry="0.7" fill="#4020d0" opacity="0.9" filter="url(#sb1)"/>
<ellipse cx="625.2" cy="1216.7" rx="1.3" ry="1.0" fill="#4020d0" opacity="0.9" filter="url(#sb1)"/>
<ellipse cx="630.0" cy="1215.2" rx="1.6" ry="1.3" fill="#5a10d0" opacity="0.9" filter="url(#sb1)"/>
<ellipse cx="625.1" cy="1214.7" rx="1.5" ry="1.2" fill="#4020d0" opacity="0.9" filter="url(#sb1)"/>
<ellipse cx="628.5" cy="1216.3" rx="1.4" ry="1.2" fill="#4020d0" opacity="0.9" filter="url(#sb1)"/>
<ellipse cx="734.1" cy="1209.1" rx="1.5" ry="1.2" fill="#5a10d0" opacity="0.9" filter="url(#sb1)"/>
<ellipse cx="738.4" cy="1209.0" rx="0.9" ry="0.8" fill="#3060f0" opacity="0.9" filter="url(#sb1)"/>
<ellipse cx="736.0" cy="1211.2" rx="1.2" ry="0.9" fill="#3060f0" opacity="0.9" filter="url(#sb1)"/>
<ellipse cx="734.3" cy="1211.1" rx="1.4" ry="1.1" fill="#5a10d0" opacity="0.9" filter="url(#sb1)"/>
<ellipse cx="739.9" cy="1212.3" rx="1.7" ry="1.4" fill="#3060f0" opacity="0.9" filter="url(#sb1)"/>
<ellipse cx="736.6" cy="1211.6" rx="1.1" ry="0.9" fill="#3060f0" opacity="0.9" filter="url(#sb1)"/>
<ellipse cx="735.7" cy="1209.6" rx="1.7" ry="1.4" fill="#5a10d0" opacity="0.9" filter="url(#sb1)"/>
<ellipse cx="737" cy="1210.1" rx="1.2" ry="1.1" fill="#3060f0" opacity="0.9" filter="url(#sb1)"/>
<ellipse cx="749.9" cy="1182.9" rx="1.2" ry="0.9" fill="#5a10d0" opacity="0.9" filter="url(#sb1)"/>
<ellipse cx="746.7" cy="1183.4" rx="1.2" ry="1.0" fill="#30b0e0" opacity="0.9" filter="url(#sb1)"/>
<ellipse cx="746.8" cy="1182.7" rx="1.4" ry="1.1" fill="#30b0e0" opacity="0.9" filter="url(#sb1)"/>
<ellipse cx="749.3" cy="1184.2" rx="1.6" ry="1.3" fill="#5a10d0" opacity="0.9" filter="url(#sb1)"/>
<ellipse cx="747.9" cy="1182.6" rx="1.6" ry="1.2" fill="#30b0e0" opacity="0.9" filter="url(#sb1)"/>
<ellipse cx="749.8" cy="1183.1" rx="0.8" ry="0.7" fill="#30b0e0" opacity="0.9" filter="url(#sb1)"/>
<ellipse cx="747.5" cy="1184" rx="1.0" ry="0.9" fill="#30b0e0" opacity="0.9" filter="url(#sb1)"/>
<ellipse cx="851" cy="1120.3" rx="4" ry="3.5" fill="#f0f0f0" opacity="0.95" filter="url(#sb1)"/>
<path d="M837.3 1133.9 C841.8 1131.8 849.1 1129.0 854.0 1129.7 C858.9 1130.4 862.3 1136.1 866.5 1138.0 C870.7 1139.9 875.5 1139.1 879.0 1141.2 C882.5 1143.3 886.7 1146.9 887.4 1150.6 C888.1 1154.2 886.0 1159.6 883.2 1163.1 C880.4 1166.6 872.8 1167.9 870.7 1171.4 C868.6 1174.9 871.8 1179.5 870.7 1184.0 C869.7 1188.5 867.5 1193.7 864.4 1198.6 C861.3 1203.5 856.8 1209.4 851.9 1213.2 C847.0 1217.0 840.4 1219.9 835.2 1221.6 C830.0 1223.3 825.1 1224.3 820.6 1223.6 C816.1 1222.9 810.8 1220.2 808.0 1217.4 C805.2 1214.6 803.5 1210.7 803.9 1206.9 C804.2 1203.1 807.7 1197.9 810.1 1194.4 C812.5 1190.9 819.2 1188.2 818.5 1186.1 C817.8 1184.0 808.8 1184.0 806.0 1181.9 C803.2 1179.8 801.8 1176.6 801.8 1173.5 C801.8 1170.4 803.6 1166.6 806.0 1163.1 C808.4 1159.6 812.9 1156.1 816.4 1152.6 C819.9 1149.1 823.3 1145.3 826.8 1142.2 C830.3 1139.1 832.8 1136.0 837.3 1133.9 Z" fill="#fff" filter="url(#fluoB)"/>
<path d="M843.5 1175.6 C849.8 1174.5 862.7 1175.6 866.5 1177.7 C870.3 1179.8 867.9 1183.6 866.5 1188.1 C865.1 1192.6 862.0 1199.9 858.2 1204.8 C854.4 1209.7 849.1 1214.6 843.5 1217.4 C837.9 1220.2 830.4 1221.9 824.8 1221.6 C819.2 1221.2 812.9 1217.8 810.1 1215.3 C807.3 1212.8 807.0 1210.0 808.0 1206.9 C809.0 1203.8 812.9 1200.3 816.4 1196.5 C819.9 1192.7 824.4 1187.5 828.9 1184.0 C833.4 1180.5 837.2 1176.6 843.5 1175.6 Z" fill="#fff" filter="url(#fluo)"/>
<ellipse cx="840" cy="1198" rx="7" ry="5" fill="#c8e030" opacity="0.6" filter="url(#sb2)"/>
<ellipse cx="845" cy="1142" rx="6" ry="4.800000000000001" fill="#7a2ce8" opacity="0.7" filter="url(#sb2)"/>
<ellipse cx="830" cy="1160" rx="5" ry="4.0" fill="#7a2ce8" opacity="0.7" filter="url(#sb2)"/>
<ellipse cx="858" cy="1150" rx="4" ry="3.2" fill="#7a2ce8" opacity="0.7" filter="url(#sb2)"/>
<ellipse cx="815" cy="1175" rx="5" ry="4.0" fill="#7a2ce8" opacity="0.7" filter="url(#sb2)"/>
<ellipse cx="872" cy="1160" rx="4" ry="3.2" fill="#7a2ce8" opacity="0.7" filter="url(#sb2)"/>
<ellipse cx="850" cy="1168" rx="4" ry="3.2" fill="#7a2ce8" opacity="0.7" filter="url(#sb2)"/>
<ellipse cx="825" cy="1145" rx="3" ry="2.4000000000000004" fill="#7a2ce8" opacity="0.7" filter="url(#sb2)"/>
<ellipse cx="822" cy="1170" rx="3" ry="3" fill="#5a80f0" opacity="0.7" filter="url(#sb1)"/>
<ellipse cx="838" cy="1178" rx="3" ry="3" fill="#5a80f0" opacity="0.7" filter="url(#sb1)"/>
<ellipse cx="870" cy="1145" rx="3" ry="3" fill="#5a80f0" opacity="0.7" filter="url(#sb1)"/>
<ellipse cx="878" cy="1156" rx="2.5" ry="2.5" fill="#5a80f0" opacity="0.7" filter="url(#sb1)"/>
<ellipse cx="876" cy="1150" rx="5" ry="6" fill="#4a70f0" opacity="0.7" filter="url(#sb2)"/>
<rect x="952" y="1063.5" width="40" height="195.8" fill="#000"/>
<rect x="974.6" y="1082.8" width="4.8" height="157.5" fill="url(#cbar)"/>
<path d="M970.5 1082.8 H973.5 M970.5 1098.5 H973.5 M970.5 1114.3 H973.5 M970.5 1130.0 H973.5 M970.5 1145.8 H973.5 M970.5 1161.5 H973.5 M970.5 1177.3 H973.5 M970.5 1193.0 H973.5 M970.5 1208.8 H973.5 M970.5 1224.5 H973.5 M970.5 1240.3 H973.5 " stroke="#c0a080" stroke-width="0.6"/>
<text x="969.5" y="1084.3" font-size="4.2" fill="#b09070" text-anchor="end">250</text>
<text x="969.5" y="1100.0" font-size="4.2" fill="#b09070" text-anchor="end">225</text>
<text x="969.5" y="1115.8" font-size="4.2" fill="#b09070" text-anchor="end">200</text>
<text x="969.5" y="1131.5" font-size="4.2" fill="#b09070" text-anchor="end">175</text>
<text x="969.5" y="1147.3" font-size="4.2" fill="#b09070" text-anchor="end">150</text>
<text x="969.5" y="1163.0" font-size="4.2" fill="#b09070" text-anchor="end">125</text>
<text x="969.5" y="1178.8" font-size="4.2" fill="#b09070" text-anchor="end">100</text>
<text x="969.5" y="1194.5" font-size="4.2" fill="#b09070" text-anchor="end">75</text>
<text x="969.5" y="1210.3" font-size="4.2" fill="#b09070" text-anchor="end">50</text>
<text x="969.5" y="1226.0" font-size="4.2" fill="#b09070" text-anchor="end">25</text>
<text x="969.5" y="1241.8" font-size="4.2" fill="#b09070" text-anchor="end">0</text>
<text x="972" y="1078" font-size="4.2" fill="#b09070" text-anchor="middle">[cps]</text>
<text x="103.3" y="1084.2" font-size="25" fill="#111" textLength="38.9" lengthAdjust="spacingAndGlyphs">Ctrl</text>
<text x="272.6" y="1084.2" font-size="25" fill="#111" textLength="53.6" lengthAdjust="spacingAndGlyphs">MCD</text>
<text x="397.9" y="1084.2" font-size="25" fill="#111" textLength="172.1" lengthAdjust="spacingAndGlyphs">MCD+Silymarin</text>
<text x="603.8" y="1084.2" font-size="25" fill="#111" textLength="128.7" lengthAdjust="spacingAndGlyphs">MCD+JPD-L</text>
<text x="781.4" y="1084.2" font-size="25" fill="#111" textLength="132" lengthAdjust="spacingAndGlyphs">MCD+JPD-H</text>
<defs>
<filter id="tex" x="0" y="0" width="100%" height="100%" color-interpolation-filters="sRGB">
 <feTurbulence type="fractalNoise" baseFrequency="0.9" numOctaves="2" seed="3" result="n"/>
 <feColorMatrix in="n" type="matrix" values="0 0 0 0 0.42  0 0 0 0 0.32  0 0 0 0 0.7  0 0 0 0.8 -0.25" result="nc"/>
 <feComposite in="nc" in2="SourceGraphic" operator="in" result="nm"/>
 <feMerge><feMergeNode in="SourceGraphic"/><feMergeNode in="nm"/></feMerge>
</filter>
</defs>
<rect x="1079.2" y="1042" width="133.2" height="109.2" fill="#c996cc" filter="url(#tex)"/>
<rect x="1217" y="1042" width="133.6" height="109.2" fill="#bcaadb" filter="url(#tex)"/>
<rect x="1355.7" y="1042" width="133.5" height="109.2" fill="#c0a6da" filter="url(#tex)"/>
<rect x="1494" y="1042" width="133.3" height="109.2" fill="#cdaad8" filter="url(#tex)"/>
<rect x="1632" y="1042" width="134.1" height="109.2" fill="#c6aadc" filter="url(#tex)"/>
<g fill="#f6f0f6">
<ellipse cx="1115" cy="1103" rx="5" ry="3.5"/><ellipse cx="1110" cy="1133" rx="3.5" ry="5.5" transform="rotate(-30 1110 1133)"/>
<path d="M1469.0 1079.0 C1469.5 1079.7 1464.7 1084.5 1463.0 1088.0 C1461.3 1091.5 1460.2 1095.3 1459.0 1100.0 C1457.8 1104.7 1457.7 1111.2 1456.0 1116.0 C1454.3 1120.8 1451.5 1125.2 1449.0 1129.0 C1446.5 1132.8 1443.8 1137.7 1441.0 1139.0 C1438.2 1140.3 1432.8 1138.0 1432.0 1137.0 C1431.2 1136.0 1434.2 1134.5 1436.0 1133.0 C1437.8 1131.5 1440.7 1131.2 1443.0 1128.0 C1445.3 1124.8 1448.2 1119.3 1450.0 1114.0 C1451.8 1108.7 1452.3 1101.0 1454.0 1096.0 C1455.7 1091.0 1457.5 1086.8 1460.0 1084.0 C1462.5 1081.2 1468.5 1078.3 1469.0 1079.0 Z"/>
<path d="M1375.0 1090.0 C1373.5 1090.8 1370.5 1095.3 1368.0 1098.0 C1365.5 1100.7 1360.3 1104.7 1360.0 1106.0 C1359.7 1107.3 1363.8 1107.0 1366.0 1106.0 C1368.2 1105.0 1371.2 1102.2 1373.0 1100.0 C1374.8 1097.8 1376.7 1094.7 1377.0 1093.0 C1377.3 1091.3 1376.5 1089.2 1375.0 1090.0 Z"/>
<ellipse cx="1369" cy="1061" rx="2.5" ry="2.5"/><ellipse cx="1485" cy="1086" rx="4" ry="2"/>
<path d="M1559.0 1121.0 C1559.7 1119.7 1567.2 1125.8 1572.0 1128.0 C1576.8 1130.2 1582.3 1131.8 1588.0 1134.0 C1593.7 1136.2 1600.7 1138.5 1606.0 1141.0 C1611.3 1143.5 1621.0 1147.8 1620.0 1149.0 C1619.0 1150.2 1606.7 1149.0 1600.0 1148.0 C1593.3 1147.0 1585.3 1145.0 1580.0 1143.0 C1574.7 1141.0 1571.5 1139.7 1568.0 1136.0 C1564.5 1132.3 1558.3 1122.3 1559.0 1121.0 Z"/>
<path d="M1504.0 1084.0 C1505.5 1084.5 1508.2 1087.8 1510.0 1090.0 C1511.8 1092.2 1515.0 1095.5 1515.0 1097.0 C1515.0 1098.5 1511.8 1099.7 1510.0 1099.0 C1508.2 1098.3 1505.5 1095.0 1504.0 1093.0 C1502.5 1091.0 1501.0 1088.5 1501.0 1087.0 C1501.0 1085.5 1502.5 1083.5 1504.0 1084.0 Z"/>
<ellipse cx="1507" cy="1134" rx="3" ry="2"/>
<path d="M1646.0 1070.0 C1648.3 1069.2 1651.8 1071.0 1654.0 1073.0 C1656.2 1075.0 1658.0 1078.8 1659.0 1082.0 C1660.0 1085.2 1660.5 1088.8 1660.0 1092.0 C1659.5 1095.2 1657.8 1099.0 1656.0 1101.0 C1654.2 1103.0 1651.3 1104.3 1649.0 1104.0 C1646.7 1103.7 1643.7 1101.7 1642.0 1099.0 C1640.3 1096.3 1639.3 1091.5 1639.0 1088.0 C1638.7 1084.5 1638.8 1081.0 1640.0 1078.0 C1641.2 1075.0 1643.7 1070.8 1646.0 1070.0 Z"/>
<ellipse cx="1634" cy="1135" rx="2" ry="4"/>
</g>
<ellipse cx="1649" cy="1089" rx="6" ry="9" fill="#d8a0b0"/>
<g fill="#f4f0f8" opacity="0.85"><circle cx="1261.1" cy="1060.0" r="1.0"/><circle cx="1228.4" cy="1100.8" r="0.8"/><circle cx="1226.5" cy="1097.8" r="0.5"/><circle cx="1275.4" cy="1051.4" r="0.6"/><circle cx="1274.2" cy="1131.6" r="0.6"/><circle cx="1248.0" cy="1110.5" r="1.3"/><circle cx="1294.0" cy="1086.0" r="1.3"/><circle cx="1225.1" cy="1135.0" r="0.7"/><circle cx="1237.8" cy="1056.5" r="0.7"/><circle cx="1325.1" cy="1063.2" r="1.0"/><circle cx="1302.1" cy="1083.5" r="0.9"/><circle cx="1227.2" cy="1050.3" r="0.7"/><circle cx="1307.5" cy="1089.3" r="0.8"/><circle cx="1295.1" cy="1092.0" r="0.7"/><circle cx="1322.3" cy="1118.1" r="0.7"/><circle cx="1293.7" cy="1099.7" r="1.2"/><circle cx="1313.8" cy="1074.5" r="1.3"/><circle cx="1234.3" cy="1088.3" r="1.1"/><circle cx="1238.8" cy="1095.8" r="0.5"/><circle cx="1305.9" cy="1125.0" r="1.0"/><circle cx="1332.8" cy="1077.3" r="1.1"/><circle cx="1296.3" cy="1105.5" r="0.9"/><circle cx="1328.2" cy="1144.1" r="0.9"/><circle cx="1305.3" cy="1050.4" r="1.1"/><circle cx="1303.1" cy="1149.3" r="1.2"/><circle cx="1256.0" cy="1084.9" r="1.0"/><circle cx="1221.9" cy="1092.9" r="0.6"/><circle cx="1234.2" cy="1050.2" r="1.1"/><circle cx="1235.8" cy="1070.2" r="0.8"/><circle cx="1332.3" cy="1052.5" r="0.9"/><circle cx="1290.4" cy="1137.6" r="1.2"/><circle cx="1331.3" cy="1073.5" r="0.8"/><circle cx="1265.6" cy="1137.7" r="1.3"/><circle cx="1238.6" cy="1062.7" r="0.7"/><circle cx="1249.3" cy="1095.4" r="1.0"/><circle cx="1253.2" cy="1044.4" r="0.8"/><circle cx="1267.0" cy="1104.0" r="1.3"/><circle cx="1308.8" cy="1098.6" r="1.0"/><circle cx="1306.9" cy="1049.7" r="1.2"/><circle cx="1320.4" cy="1136.7" r="1.1"/><circle cx="1270.0" cy="1086.3" r="0.6"/><circle cx="1301.5" cy="1050.6" r="0.6"/><circle cx="1246.1" cy="1061.2" r="0.8"/><circle cx="1225.8" cy="1044.0" r="0.6"/><circle cx="1232.2" cy="1082.5" r="0.5"/><circle cx="1332.7" cy="1109.1" r="0.6"/><circle cx="1251.8" cy="1080.8" r="0.8"/><circle cx="1235.0" cy="1134.0" r="1.3"/><circle cx="1279.6" cy="1095.3" r="0.6"/><circle cx="1232.3" cy="1080.3" r="0.7"/><circle cx="1326.8" cy="1061.1" r="0.5"/><circle cx="1342.6" cy="1100.0" r="0.6"/><circle cx="1289.6" cy="1046.9" r="0.9"/><circle cx="1346.2" cy="1135.5" r="1.1"/><circle cx="1252.9" cy="1082.9" r="0.6"/><circle cx="1319.4" cy="1100.5" r="1.1"/><circle cx="1261.9" cy="1067.6" r="1.1"/><circle cx="1347.0" cy="1134.4" r="1.1"/><circle cx="1325.4" cy="1122.4" r="0.7"/><circle cx="1286.3" cy="1081.7" r="0.5"/><circle cx="1222.6" cy="1073.6" r="0.7"/><circle cx="1309.0" cy="1145.4" r="0.9"/><circle cx="1340.8" cy="1148.7" r="1.3"/><circle cx="1266.4" cy="1067.4" r="0.7"/><circle cx="1244.6" cy="1065.7" r="1.0"/><circle cx="1336.0" cy="1133.1" r="0.9"/><circle cx="1303.9" cy="1128.8" r="0.6"/><circle cx="1304.9" cy="1140.4" r="1.1"/><circle cx="1316.5" cy="1094.7" r="0.6"/><circle cx="1321.6" cy="1079.2" r="1.1"/><circle cx="1345.3" cy="1086.0" r="0.8"/><circle cx="1342.1" cy="1120.8" r="0.6"/><circle cx="1235.5" cy="1060.0" r="1.2"/><circle cx="1323.8" cy="1059.5" r="1.2"/><circle cx="1346.4" cy="1113.7" r="0.8"/><circle cx="1290.3" cy="1057.9" r="0.5"/><circle cx="1345.2" cy="1112.9" r="0.9"/><circle cx="1340.4" cy="1090.0" r="1.2"/><circle cx="1326.4" cy="1066.4" r="0.7"/><circle cx="1257.1" cy="1069.5" r="1.0"/><circle cx="1252.7" cy="1088.4" r="0.6"/><circle cx="1337.3" cy="1081.5" r="0.9"/><circle cx="1294.8" cy="1139.9" r="0.8"/><circle cx="1338.3" cy="1097.2" r="0.9"/><circle cx="1287.1" cy="1046.0" r="0.9"/><circle cx="1242.8" cy="1044.4" r="1.1"/><circle cx="1241.4" cy="1094.2" r="1.1"/><circle cx="1291.3" cy="1078.6" r="0.9"/><circle cx="1291.2" cy="1127.1" r="0.6"/><circle cx="1291.8" cy="1070.3" r="0.7"/><circle cx="1319.4" cy="1097.8" r="0.9"/><circle cx="1317.8" cy="1140.7" r="0.9"/><circle cx="1298.6" cy="1097.6" r="0.9"/><circle cx="1309.1" cy="1091.9" r="0.9"/><circle cx="1281.1" cy="1143.8" r="1.1"/><circle cx="1332.9" cy="1143.9" r="0.7"/><circle cx="1291.7" cy="1144.0" r="1.2"/><circle cx="1236.8" cy="1056.9" r="0.9"/><circle cx="1228.4" cy="1069.5" r="0.6"/><circle cx="1306.0" cy="1127.1" r="1.2"/><circle cx="1239.1" cy="1119.9" r="1.0"/><circle cx="1237.6" cy="1137.6" r="1.3"/><circle cx="1247.5" cy="1145.0" r="0.8"/><circle cx="1282.3" cy="1148.9" r="1.2"/><circle cx="1240.0" cy="1089.7" r="0.9"/><circle cx="1263.1" cy="1064.7" r="0.8"/><circle cx="1312.9" cy="1046.1" r="0.9"/><circle cx="1276.3" cy="1045.9" r="0.8"/><circle cx="1300.1" cy="1098.3" r="0.6"/><circle cx="1347.1" cy="1127.6" r="1.3"/><circle cx="1232.6" cy="1072.1" r="0.5"/><circle cx="1320.3" cy="1072.7" r="0.6"/><circle cx="1273.9" cy="1140.6" r="1.2"/><circle cx="1252.6" cy="1059.8" r="1.2"/><circle cx="1293.2" cy="1118.2" r="0.6"/><circle cx="1226.5" cy="1116.9" r="0.8"/><circle cx="1228.4" cy="1143.5" r="1.0"/><circle cx="1323.2" cy="1052.9" r="1.2"/><circle cx="1227.7" cy="1135.5" r="0.9"/><circle cx="1263.1" cy="1102.6" r="1.2"/><circle cx="1253.8" cy="1057.7" r="0.9"/><circle cx="1250.0" cy="1055.6" r="0.6"/><circle cx="1225.5" cy="1065.4" r="0.7"/><circle cx="1258.7" cy="1124.5" r="0.7"/><circle cx="1284.0" cy="1062.9" r="0.8"/><circle cx="1221.4" cy="1070.5" r="0.5"/><circle cx="1314.3" cy="1102.4" r="0.7"/><circle cx="1280.7" cy="1143.1" r="0.6"/><circle cx="1325.5" cy="1089.8" r="0.9"/><circle cx="1327.5" cy="1085.7" r="0.9"/><circle cx="1308.4" cy="1148.1" r="0.8"/><circle cx="1327.2" cy="1118.9" r="1.0"/><circle cx="1271.6" cy="1080.8" r="0.5"/><circle cx="1235.9" cy="1051.5" r="1.1"/><circle cx="1252.2" cy="1061.3" r="0.6"/><circle cx="1328.4" cy="1136.3" r="1.0"/><circle cx="1255.7" cy="1069.7" r="0.7"/><circle cx="1278.7" cy="1060.7" r="0.9"/><circle cx="1253.2" cy="1145.9" r="1.3"/><circle cx="1290.1" cy="1069.9" r="1.3"/><circle cx="1259.2" cy="1081.8" r="0.5"/><circle cx="1268.6" cy="1094.3" r="0.9"/><circle cx="1245.1" cy="1097.5" r="0.5"/><circle cx="1253.3" cy="1053.5" r="0.8"/><circle cx="1224.4" cy="1046.4" r="0.7"/><circle cx="1249.3" cy="1106.1" r="0.9"/><circle cx="1316.6" cy="1113.7" r="1.1"/><circle cx="1333.3" cy="1085.3" r="0.8"/><circle cx="1347.0" cy="1059.8" r="1.1"/><circle cx="1302.6" cy="1048.6" r="1.2"/><circle cx="1335.0" cy="1110.5" r="1.1"/><circle cx="1324.6" cy="1058.8" r="0.9"/><circle cx="1284.6" cy="1132.5" r="1.1"/><circle cx="1326.4" cy="1105.9" r="1.2"/><circle cx="1307.8" cy="1117.5" r="0.7"/><circle cx="1223.1" cy="1058.1" r="0.8"/><circle cx="1232.6" cy="1132.6" r="0.9"/><circle cx="1300.6" cy="1110.4" r="1.0"/><circle cx="1282.6" cy="1044.4" r="1.1"/><circle cx="1316.3" cy="1097.3" r="0.9"/></g>
<path d="M1083.2 1142.5 H1107.2 M1082.8 1260 H1106.8 M1221.0 1142.5 H1245.0 M1221.3 1260 H1245.3 M1359.7 1142.5 H1383.7 M1360.0 1260 H1384.0 M1498.0 1142.5 H1522.0 M1498.5 1260 H1522.5 M1636.0 1142.5 H1660.0 M1639.0 1260 H1663.0 " stroke="#3a3a4a" stroke-width="0.8"/>
<clipPath id="c40_0"><rect x="1080.4" y="1157.6" width="131.0" height="106.3"/></clipPath>
<g clip-path="url(#c40_0)">
<rect x="1080.4" y="1157.6" width="131.0" height="106.3" fill="#c98ac9"/>
<path d="M1209.7 1177.4L1210.0 1185.4M1209.7 1177.4L1261.8 1180.2M1210.0 1185.4L1220.4 1191.6M1206.2 1187.1L1210.0 1185.4M1206.2 1187.1L1207.3 1196.2M1220.4 1191.6L1212.8 1198.2M1207.3 1196.2L1212.8 1198.2M1076.6 1204.3L1068.2 1212.3M1076.6 1204.3L1076.7 1198.4M1067.6 1192.6L1076.7 1198.4M1200.8 1186.2L1200.3 1181.5M1200.8 1186.2L1197.4 1190.2M1190.7 1188.6L1197.4 1190.2M1190.7 1188.6L1191.5 1179.3M1191.5 1179.3L1194.3 1178.0M1200.3 1181.5L1194.3 1178.0M1206.2 1187.1L1200.8 1186.2M1209.7 1177.4L1207.4 1175.3M1200.3 1181.5L1207.4 1175.3M1209.6 1169.5L1264.8 1179.7M1209.6 1169.5L1207.2 1174.3M1207.4 1175.3L1207.2 1174.3M1181.8 1148.2L1175.0 1153.8M1175.0 1153.8L1169.2 1148.8M1190.7 1188.6L1185.9 1190.9M1197.4 1190.2L1198.4 1193.1M1185.9 1190.9L1186.0 1193.4M1186.0 1193.4L1190.8 1200.8M1190.8 1200.8L1198.4 1193.1M1207.3 1196.2L1202.0 1196.7M1198.4 1193.1L1202.0 1196.7M1212.8 1198.2L1212.5 1202.1M1199.3 1205.1L1202.0 1196.7M1199.3 1205.1L1208.7 1206.3M1212.5 1202.1L1208.7 1206.3M1212.5 1202.1L1222.5 1211.5M1213.2 1260.1L1208.3 1253.2M1223.0 1249.7L1208.3 1253.2M1076.6 1204.3L1080.0 1206.8M1074.2 1217.5L1082.2 1216.5M1082.2 1216.5L1080.0 1206.8M1076.7 1198.4L1079.7 1197.2M1079.7 1197.2L1087.6 1199.3M1087.6 1199.3L1087.4 1205.9M1080.0 1206.8L1087.4 1205.9M1067.6 1192.6L1075.7 1185.3M1079.7 1197.2L1083.5 1188.2M1075.7 1185.3L1083.5 1188.2M1056.3 1173.1L1076.1 1178.8M1075.7 1185.3L1076.1 1178.8M1079.6 1171.2L1079.8 1176.1M1079.6 1171.2L1072.1 1167.6M1076.1 1178.8L1079.8 1176.1M1074.7 1161.0L1081.3 1159.6M1081.3 1159.6L1083.6 1161.2M1079.6 1171.2L1084.0 1166.0M1084.0 1166.0L1083.6 1161.2M1106.0 1152.2L1103.1 1159.2M1103.1 1159.2L1095.0 1159.6M1092.1 1151.5L1091.9 1157.0M1095.0 1159.6L1091.9 1157.0M1094.7 1170.1L1092.6 1170.9M1094.7 1170.1L1095.0 1159.6M1092.6 1170.9L1084.0 1166.0M1083.6 1161.2L1091.9 1157.0M1065.4 1153.1L1076.0 1149.1M1081.3 1159.6L1079.6 1151.4M1207.2 1174.3L1196.9 1169.4M1194.3 1178.0L1196.6 1169.5M1196.9 1169.4L1196.6 1169.5M1207.6 1153.8L1205.9 1162.4M1207.6 1153.8L1214.0 1152.3M1222.6 1157.6L1209.9 1165.2M1222.6 1157.6L1214.0 1152.3M1209.9 1165.2L1205.9 1162.4M1199.7 1150.4L1207.6 1153.8M1209.6 1169.5L1209.9 1165.2M1200.5 1162.6L1196.9 1169.4M1200.5 1162.6L1205.9 1162.4M1175.6 1157.9L1175.0 1153.8M1175.6 1157.9L1171.0 1163.1M1171.0 1163.1L1162.5 1159.2M1162.2 1152.2L1162.5 1159.2M1171.0 1163.1L1170.9 1164.9M1170.9 1164.9L1162.9 1170.2M1162.9 1170.2L1159.6 1169.4M1159.6 1169.4L1160.3 1160.8M1162.5 1159.2L1160.3 1160.8M1199.3 1205.1L1197.6 1206.2M1190.8 1200.8L1191.0 1202.5M1197.6 1206.2L1191.0 1202.5M1223.0 1249.7L1212.6 1242.1M1208.3 1253.2L1205.4 1252.2M1205.4 1252.2L1206.5 1243.7M1212.6 1242.1L1206.5 1243.7M1208.7 1206.3L1209.0 1212.0M1222.5 1211.5L1213.6 1215.3M1209.0 1212.0L1213.6 1215.3M1191.5 1179.3L1185.9 1177.3M1185.9 1190.9L1182.2 1188.7M1182.2 1188.7L1179.9 1179.5M1179.9 1179.5L1185.9 1177.3M1166.4 1177.4L1170.5 1179.5M1166.4 1177.4L1158.0 1179.9M1170.5 1179.5L1169.4 1183.0M1169.4 1183.0L1164.7 1187.6M1164.7 1187.6L1157.3 1186.8M1158.0 1179.9L1157.3 1186.8M1170.9 1164.9L1175.5 1172.8M1162.9 1170.2L1166.4 1177.4M1175.5 1172.8L1175.4 1177.1M1175.4 1177.1L1170.5 1179.5M1159.6 1169.4L1155.9 1170.8M1155.3 1176.1L1155.9 1170.8M1155.3 1176.1L1158.0 1179.9M1182.2 1188.7L1175.4 1191.7M1175.4 1191.7L1169.4 1183.0M1179.9 1179.5L1175.4 1177.1M1186.0 1193.4L1179.7 1200.5M1184.7 1206.7L1191.0 1202.5M1184.7 1206.7L1180.9 1205.8M1180.9 1205.8L1179.7 1200.5M1175.4 1191.7L1172.6 1196.0M1179.7 1200.5L1172.6 1196.0M1090.0 1176.1L1094.5 1183.2M1090.0 1176.1L1084.0 1178.1M1084.0 1178.1L1085.7 1187.1M1085.7 1187.1L1091.3 1188.6M1094.5 1183.2L1092.8 1187.1M1092.8 1187.1L1091.3 1188.6M1079.8 1176.1L1084.0 1178.1M1092.6 1170.9L1090.0 1176.1M1083.5 1188.2L1085.7 1187.1M1087.6 1199.3L1092.8 1196.1M1092.8 1196.1L1091.3 1188.6M1095.7 1197.6L1092.8 1196.1M1095.7 1197.6L1101.7 1196.2M1101.9 1189.3L1101.7 1196.2M1101.9 1189.3L1092.8 1187.1M1101.9 1172.2L1102.4 1179.4M1101.9 1172.2L1103.6 1170.8M1103.6 1170.8L1113.8 1172.7M1105.0 1182.0L1113.5 1177.6M1105.0 1182.0L1102.4 1179.4M1113.5 1177.6L1113.8 1172.7M1094.7 1170.1L1101.9 1172.2M1094.5 1183.2L1102.4 1179.4M1103.1 1159.2L1105.5 1163.8M1105.5 1163.8L1103.6 1170.8M1118.5 1184.1L1118.0 1185.5M1118.5 1184.1L1113.5 1177.6M1105.9 1184.7L1111.2 1188.5M1105.9 1184.7L1105.0 1182.0M1118.0 1185.5L1111.2 1188.5M1105.9 1184.7L1101.9 1189.3M1105.5 1163.8L1114.7 1162.7M1113.8 1172.7L1115.3 1171.6M1114.7 1162.7L1115.3 1171.6M1118.5 1184.1L1124.9 1179.5M1124.9 1179.5L1123.6 1172.7M1115.3 1171.6L1123.6 1172.7M1124.9 1179.5L1125.9 1180.0M1125.9 1180.0L1136.1 1176.6M1136.1 1176.6L1133.6 1169.2M1133.6 1169.2L1128.1 1167.1M1128.1 1167.1L1127.5 1167.1M1123.6 1172.7L1127.5 1167.1M1137.2 1185.0L1136.9 1177.1M1137.2 1185.0L1147.2 1186.1M1136.9 1177.1L1144.2 1175.6M1144.2 1175.6L1147.2 1179.4M1147.2 1186.1L1147.2 1179.4M1147.5 1186.6L1153.3 1189.8M1147.5 1186.6L1147.2 1186.1M1153.3 1189.8L1157.3 1186.8M1155.3 1176.1L1147.2 1179.4M1136.1 1176.6L1136.9 1177.1M1133.6 1169.2L1140.2 1165.8M1144.2 1175.6L1145.0 1172.1M1140.2 1165.8L1145.0 1172.1M1155.9 1170.8L1152.0 1168.3M1145.0 1172.1L1152.0 1168.3M1200.5 1162.6L1198.0 1158.1M1198.8 1151.2L1198.0 1158.1M1082.2 1216.5L1083.5 1216.9M1087.4 1205.9L1091.2 1210.9M1083.5 1216.9L1091.2 1210.9M1097.0 1206.7L1095.7 1197.6M1097.0 1206.7L1091.8 1210.9M1091.8 1210.9L1091.2 1210.9M1213.2 1260.1L1206.4 1262.9M1205.4 1252.2L1202.4 1254.4M1202.4 1254.4L1202.2 1257.2M1206.4 1262.9L1202.2 1257.2M1181.8 1253.0L1171.5 1252.2M1181.8 1253.0L1183.3 1257.9M1170.0 1259.6L1171.5 1252.2M1170.0 1259.6L1174.4 1264.0M1183.3 1257.9L1174.4 1264.0M1205.7 1231.6L1216.5 1231.2M1205.7 1231.6L1205.9 1222.1M1212.2 1221.6L1205.9 1222.1M1212.2 1221.6L1218.5 1229.7M1213.6 1215.3L1212.2 1221.6M1212.6 1242.1L1216.5 1231.2M1184.7 1206.7L1187.4 1213.6M1180.9 1205.8L1177.1 1208.5M1177.1 1208.5L1174.9 1215.7M1174.9 1215.7L1181.5 1219.1M1187.4 1213.6L1181.5 1219.1M1122.4 1263.1L1124.2 1260.9M1122.4 1263.1L1127.9 1282.3M1124.2 1260.9L1135.9 1261.6M1127.9 1282.3L1135.9 1261.6M1153.7 1321.5L1142.0 1261.4M1135.9 1261.6L1137.9 1259.5M1137.9 1259.5L1142.0 1261.4M1181.8 1253.0L1184.8 1248.0M1184.7 1244.6L1184.8 1248.0M1184.7 1244.6L1173.4 1244.3M1171.5 1252.2L1171.3 1251.9M1173.4 1244.3L1171.3 1251.9M1154.6 1252.6L1149.4 1255.8M1154.6 1252.6L1158.2 1256.0M1158.2 1256.0L1159.2 1258.3M1159.2 1258.3L1151.9 1264.7M1149.4 1255.8L1147.7 1259.6M1151.9 1264.7L1147.7 1259.6M1142.2 1245.6L1141.3 1249.9M1142.2 1245.6L1153.7 1244.0M1141.3 1249.9L1149.4 1255.8M1153.7 1244.0L1154.6 1244.5M1154.6 1244.5L1154.6 1252.6M1170.0 1259.6L1163.3 1261.7M1163.3 1261.7L1159.2 1258.3M1167.0 1250.2L1171.3 1251.9M1167.0 1250.2L1158.2 1256.0M1155.3 1297.6L1151.9 1264.7M1155.3 1297.6L1163.3 1261.7M1136.7 1255.0L1137.9 1259.5M1136.7 1255.0L1141.3 1249.9M1142.0 1261.4L1147.7 1259.6M1125.9 1180.0L1131.7 1188.2M1137.2 1185.0L1133.5 1188.5M1133.5 1188.5L1131.7 1188.2M1118.0 1185.5L1123.5 1193.7M1131.7 1188.2L1123.5 1193.7M1190.3 1167.2L1188.8 1160.8M1190.3 1167.2L1187.3 1169.4M1187.3 1169.4L1181.7 1168.1M1181.7 1168.1L1180.4 1159.9M1180.4 1159.9L1186.9 1159.0M1186.9 1159.0L1188.8 1160.8M1196.6 1169.5L1190.3 1167.2M1198.0 1158.1L1188.8 1160.8M1185.9 1177.3L1187.3 1169.4M1175.5 1172.8L1181.7 1168.1M1175.6 1157.9L1180.4 1159.9M1188.9 1150.8L1186.9 1159.0M1153.3 1189.8L1153.8 1195.0M1164.7 1187.6L1167.5 1195.6M1153.8 1195.0L1155.6 1196.2M1167.5 1195.6L1155.6 1196.2M1172.6 1196.0L1169.4 1197.3M1167.5 1195.6L1169.4 1197.3M1177.1 1208.5L1168.0 1202.7M1169.4 1197.3L1168.0 1202.7M1168.0 1202.7L1164.1 1206.2M1155.6 1196.2L1160.5 1205.0M1164.1 1206.2L1160.5 1205.0M1109.2 1153.6L1115.1 1162.2M1109.2 1153.6L1119.6 1152.3M1115.1 1162.2L1121.6 1159.2M1121.6 1159.2L1122.5 1154.8M1119.6 1152.3L1122.5 1154.8M1106.0 1152.2L1109.2 1153.6M1114.7 1162.7L1115.1 1162.2M1127.5 1167.1L1121.6 1159.2M1126.6 1152.4L1122.5 1154.8M1140.2 1165.8L1141.4 1162.4M1152.0 1168.3L1150.7 1163.3M1141.4 1162.4L1150.7 1163.3M1160.3 1160.8L1152.5 1159.9M1152.5 1159.9L1150.7 1163.3M1073.6 1222.8L1079.1 1227.8M1083.5 1216.9L1084.7 1219.9M1084.7 1219.9L1079.1 1227.8M1091.8 1210.9L1095.7 1216.3M1084.7 1219.9L1089.7 1224.5M1089.7 1224.5L1094.7 1222.6M1095.7 1216.3L1094.7 1222.6M1097.0 1206.7L1100.3 1207.3M1100.3 1207.3L1105.8 1215.5M1095.7 1216.3L1105.8 1215.5M1086.8 1259.3L1081.1 1262.7M1086.8 1259.3L1087.5 1252.6M1082.2 1249.4L1087.5 1252.6M1082.2 1249.4L1075.7 1254.9M1075.7 1254.9L1078.0 1259.9M1078.0 1259.9L1081.1 1262.7M1063.2 1247.5L1075.7 1254.9M1086.8 1259.3L1093.2 1261.9M1100.0 1313.9L1093.2 1261.9M1100.3 1207.3L1104.9 1203.9M1109.4 1215.4L1107.6 1216.3M1109.4 1215.4L1111.5 1209.4M1105.8 1215.5L1107.6 1216.3M1104.9 1203.9L1111.5 1209.4M1101.7 1196.2L1106.0 1197.8M1104.9 1203.9L1106.0 1197.8M1111.2 1188.5L1110.4 1196.5M1106.0 1197.8L1110.4 1196.5M1206.5 1243.7L1202.7 1240.3M1205.7 1231.6L1201.8 1234.0M1201.8 1234.0L1202.7 1240.3M1202.4 1254.4L1195.9 1252.3M1195.9 1252.3L1195.6 1243.6M1202.7 1240.3L1195.6 1243.6M1195.0 1266.3L1204.2 1417.0M1195.0 1266.3L1190.1 1259.7M1190.1 1259.7L1185.0 1259.2M1185.0 1259.2L1180.5 1296.0M1206.4 1262.9L1204.2 1417.0M1202.2 1257.2L1195.0 1266.3M1195.9 1252.3L1194.4 1252.8M1194.4 1252.8L1190.1 1259.7M1194.4 1252.8L1184.8 1248.0M1183.3 1257.9L1185.0 1259.2M1174.4 1264.0L1180.5 1296.0M1196.6 1229.2L1188.6 1225.5M1196.6 1229.2L1200.5 1219.1M1188.6 1225.5L1188.4 1225.0M1188.4 1225.0L1194.7 1215.5M1199.6 1216.9L1200.5 1219.1M1199.6 1216.9L1197.1 1214.9M1197.1 1214.9L1194.7 1215.5M1205.9 1222.1L1200.5 1219.1M1201.8 1234.0L1197.4 1231.3M1197.4 1231.3L1196.6 1229.2M1187.4 1213.6L1194.7 1215.5M1181.5 1219.1L1181.8 1220.0M1181.8 1220.0L1188.4 1225.0M1209.0 1212.0L1199.6 1216.9M1197.6 1206.2L1197.1 1214.9M1117.6 1223.5L1114.7 1217.4M1117.6 1223.5L1124.9 1223.5M1114.7 1217.4L1123.0 1214.0M1124.9 1223.5L1127.1 1216.9M1123.0 1214.0L1127.1 1216.9M1125.7 1225.5L1133.4 1229.6M1125.7 1225.5L1121.8 1232.1M1133.4 1229.6L1134.1 1233.7M1121.8 1232.1L1126.3 1236.4M1126.3 1236.4L1134.1 1233.7M1137.6 1222.9L1133.4 1229.6M1137.6 1222.9L1143.3 1223.3M1143.3 1223.3L1142.8 1234.3M1142.8 1234.3L1137.8 1237.1M1134.1 1233.7L1137.8 1237.1M1142.2 1245.6L1137.9 1240.2M1153.7 1244.0L1150.2 1234.1M1142.8 1234.3L1150.2 1234.1M1137.9 1240.2L1137.8 1237.1M1173.4 1244.3L1170.8 1237.3M1167.0 1250.2L1162.0 1244.5M1162.0 1244.5L1170.8 1237.3M1154.6 1244.5L1156.4 1243.9M1162.0 1244.5L1156.4 1243.9M1152.0 1231.1L1150.2 1234.1M1152.0 1231.1L1160.5 1235.1M1156.4 1243.9L1160.5 1235.1M1153.8 1195.0L1148.1 1200.7M1160.5 1205.0L1152.7 1208.6M1152.7 1208.6L1148.0 1201.2M1148.1 1200.7L1148.0 1201.2M1147.5 1186.6L1140.5 1195.1M1148.1 1200.7L1140.5 1195.1M1136.9 1195.1L1133.5 1188.5M1136.9 1195.1L1137.2 1195.2M1140.5 1195.1L1137.2 1195.2M1174.9 1215.7L1172.1 1216.8M1164.1 1206.2L1165.0 1214.8M1172.1 1216.8L1165.0 1214.8M1128.1 1167.1L1134.4 1158.2M1141.4 1162.4L1140.7 1160.3M1140.7 1160.3L1134.4 1158.2M1126.6 1152.4L1132.1 1154.0M1132.1 1154.0L1134.4 1158.2M1083.3 1233.6L1080.3 1233.3M1083.3 1233.6L1087.1 1241.4M1087.1 1241.4L1081.2 1246.1M1079.4 1233.8L1080.3 1233.3M1079.4 1233.8L1075.6 1242.8M1075.6 1242.8L1081.2 1246.1M1089.7 1224.5L1088.5 1230.6M1088.5 1230.6L1083.3 1233.6M1079.1 1227.8L1080.3 1233.3M1065.2 1230.9L1079.4 1233.8M1063.2 1247.5L1075.6 1242.8M1082.2 1249.4L1081.2 1246.1M1102.1 1226.7L1106.4 1220.8M1102.1 1226.7L1102.5 1231.2M1106.4 1220.8L1114.8 1228.0M1102.5 1231.2L1108.0 1233.5M1108.0 1233.5L1114.5 1233.1M1114.8 1228.0L1114.5 1233.0M1114.5 1233.0L1114.5 1233.1M1094.7 1222.6L1102.1 1226.7M1107.6 1216.3L1106.4 1220.8M1097.5 1235.6L1088.5 1230.6M1097.5 1235.6L1102.5 1231.2M1117.6 1223.5L1114.8 1228.0M1114.7 1217.4L1109.4 1215.4M1124.9 1223.5L1125.7 1225.5M1121.8 1232.1L1114.5 1233.0M1090.6 1250.3L1090.8 1242.8M1090.6 1250.3L1097.6 1251.9M1097.6 1251.9L1102.1 1248.6M1096.9 1239.5L1090.8 1242.8M1096.9 1239.5L1101.7 1245.4M1101.7 1245.4L1102.1 1248.6M1087.5 1252.6L1090.6 1250.3M1087.1 1241.4L1090.8 1242.8M1093.2 1261.9L1097.2 1259.5M1097.2 1259.5L1097.6 1251.9M1097.5 1235.6L1096.9 1239.5M1107.1 1241.5L1101.7 1245.4M1107.1 1241.5L1108.0 1233.5M1113.9 1261.3L1107.9 1258.8M1113.9 1261.3L1102.3 1298.8M1107.9 1258.8L1104.1 1261.7M1102.3 1298.8L1104.1 1261.7M1122.4 1263.1L1116.9 1260.8M1116.9 1260.8L1113.9 1261.3M1097.2 1259.5L1104.1 1261.7M1107.3 1251.7L1102.1 1248.6M1107.3 1251.7L1107.9 1258.8M1107.1 1241.5L1113.7 1244.0M1114.5 1233.1L1116.8 1242.4M1116.8 1242.4L1113.7 1244.0M1107.3 1251.7L1109.7 1250.5M1113.7 1244.0L1109.7 1250.5M1116.9 1260.8L1117.2 1252.9M1117.2 1252.9L1109.7 1250.5M1115.2 1199.7L1114.7 1206.4M1115.2 1199.7L1122.9 1197.0M1114.7 1206.4L1121.9 1209.7M1121.9 1209.7L1127.3 1202.7M1122.9 1197.0L1126.8 1200.9M1126.8 1200.9L1127.3 1202.7M1110.4 1196.5L1115.2 1199.7M1111.5 1209.4L1114.7 1206.4M1123.5 1193.7L1122.9 1197.0M1123.0 1214.0L1121.9 1209.7M1136.9 1195.1L1126.8 1200.9M1190.2 1236.8L1189.6 1241.2M1190.2 1236.8L1184.6 1231.4M1177.2 1232.9L1184.6 1231.4M1177.2 1232.9L1184.7 1244.6M1184.7 1244.6L1189.6 1241.2M1197.4 1231.3L1190.2 1236.8M1195.6 1243.6L1189.6 1241.2M1188.6 1225.5L1184.6 1231.4M1184.7 1244.6L1184.7 1244.6M1152.9 1226.8L1145.2 1222.6M1152.9 1226.8L1158.5 1223.5M1158.5 1223.5L1159.5 1218.8M1159.5 1218.8L1151.8 1212.8M1145.2 1222.6L1147.0 1214.6M1147.0 1214.6L1151.8 1212.8M1143.3 1223.3L1145.2 1222.6M1152.0 1231.1L1152.9 1226.8M1152.7 1208.6L1151.8 1212.8M1165.0 1214.8L1159.5 1218.8M1144.7 1213.1L1140.3 1207.1M1144.7 1213.1L1135.0 1218.3M1140.3 1207.1L1137.7 1206.7M1137.7 1206.7L1134.4 1208.1M1134.4 1208.1L1131.8 1215.6M1135.0 1218.3L1131.8 1215.6M1148.0 1201.2L1140.3 1207.1M1147.0 1214.6L1144.7 1213.1M1137.6 1222.9L1135.0 1218.3M1137.2 1195.2L1137.7 1206.7M1127.3 1202.7L1134.4 1208.1M1127.1 1216.9L1131.8 1215.6M1164.0 1232.7L1171.0 1236.3M1164.0 1232.7L1161.6 1226.3M1161.6 1226.3L1171.5 1225.0M1171.5 1225.0L1175.9 1232.3M1171.0 1236.3L1175.9 1232.4M1175.9 1232.4L1175.9 1232.3M1160.5 1235.1L1164.0 1232.7M1170.8 1237.3L1171.0 1236.3M1158.5 1223.5L1161.6 1226.3M1172.1 1216.8L1171.5 1225.0M1181.8 1220.0L1175.9 1232.3M1177.2 1232.9L1175.9 1232.4M1143.8 1153.8L1138.9 1148.7M1143.8 1153.8L1150.9 1152.7M1151.8 1151.5L1150.9 1152.7M1140.7 1160.3L1143.8 1153.8M1132.1 1154.0L1138.9 1148.7M1152.5 1159.9L1150.9 1152.7M1124.9 1240.1L1131.1 1244.9M1124.9 1240.1L1119.3 1243.6M1119.3 1243.6L1121.4 1249.0M1121.4 1249.0L1127.8 1252.2M1131.1 1244.9L1128.8 1251.9M1127.8 1252.2L1128.8 1251.9M1126.3 1236.4L1124.9 1240.1M1137.9 1240.2L1131.1 1244.9M1116.8 1242.4L1119.3 1243.6M1117.2 1252.9L1121.4 1249.0M1124.2 1260.9L1127.8 1252.2M1136.7 1255.0L1128.8 1251.9" stroke="#f3dcf2" stroke-width="1.3" opacity="0.75" fill="none" filter="url(#sb05)"/>
<g fill="#8a5ebd" opacity="0.9" filter="url(#sb05)"><circle cx="1109.7" cy="1159.0" r="2.5"/><circle cx="1137.8" cy="1154.8" r="2.5"/><circle cx="1146.8" cy="1159.0" r="2.1"/><circle cx="1157.3" cy="1156.7" r="2.6"/><circle cx="1167.4" cy="1156.4" r="2.2"/><circle cx="1192.7" cy="1156.3" r="2.8"/><circle cx="1203.6" cy="1157.5" r="2.5"/><circle cx="1210.0" cy="1158.7" r="2.4"/><circle cx="1090.6" cy="1164.1" r="2.9"/><circle cx="1099.1" cy="1164.4" r="2.2"/><circle cx="1110.7" cy="1167.5" r="2.2"/><circle cx="1135.0" cy="1163.0" r="2.4"/><circle cx="1146.1" cy="1166.7" r="2.4"/><circle cx="1156.4" cy="1164.0" r="2.4"/><circle cx="1163.6" cy="1164.7" r="2.0"/><circle cx="1178.0" cy="1165.9" r="2.6"/><circle cx="1184.5" cy="1164.9" r="2.1"/><circle cx="1194.5" cy="1162.5" r="2.3"/><circle cx="1203.9" cy="1167.5" r="2.1"/><circle cx="1085.7" cy="1172.6" r="2.5"/><circle cx="1095.4" cy="1177.4" r="2.1"/><circle cx="1109.1" cy="1176.5" r="2.7"/><circle cx="1118.0" cy="1177.1" r="2.2"/><circle cx="1130.4" cy="1174.8" r="2.8"/><circle cx="1139.5" cy="1171.7" r="2.4"/><circle cx="1160.7" cy="1175.4" r="2.3"/><circle cx="1168.3" cy="1171.7" r="2.5"/><circle cx="1182.8" cy="1172.2" r="2.1"/><circle cx="1190.5" cy="1173.5" r="2.2"/><circle cx="1199.9" cy="1176.0" r="2.7"/><circle cx="1080.8" cy="1183.0" r="2.2"/><circle cx="1088.8" cy="1181.5" r="2.3"/><circle cx="1099.6" cy="1186.2" r="2.3"/><circle cx="1111.9" cy="1181.9" r="2.2"/><circle cx="1125.0" cy="1186.8" r="2.8"/><circle cx="1141.5" cy="1181.1" r="2.7"/><circle cx="1162.8" cy="1182.1" r="2.1"/><circle cx="1175.3" cy="1186.1" r="2.5"/><circle cx="1187.0" cy="1183.1" r="2.3"/><circle cx="1195.4" cy="1183.8" r="2.5"/><circle cx="1205.6" cy="1182.6" r="2.6"/><circle cx="1214.1" cy="1182.2" r="2.4"/><circle cx="1085.7" cy="1193.6" r="2.4"/><circle cx="1098.4" cy="1191.0" r="2.7"/><circle cx="1105.2" cy="1191.2" r="2.4"/><circle cx="1116.5" cy="1192.4" r="2.4"/><circle cx="1140.5" cy="1189.8" r="2.4"/><circle cx="1161.6" cy="1192.6" r="2.4"/><circle cx="1179.5" cy="1195.5" r="2.1"/><circle cx="1192.7" cy="1195.0" r="2.7"/><circle cx="1204.1" cy="1191.2" r="2.0"/><circle cx="1209.2" cy="1190.6" r="2.3"/><circle cx="1083.2" cy="1203.3" r="2.1"/><circle cx="1091.8" cy="1203.6" r="2.9"/><circle cx="1101.1" cy="1202.2" r="2.7"/><circle cx="1109.0" cy="1203.7" r="2.9"/><circle cx="1120.7" cy="1204.6" r="2.8"/><circle cx="1133.8" cy="1200.7" r="2.1"/><circle cx="1141.1" cy="1200.3" r="2.8"/><circle cx="1162.0" cy="1199.2" r="2.7"/><circle cx="1175.1" cy="1202.4" r="2.8"/><circle cx="1184.7" cy="1200.2" r="2.7"/><circle cx="1196.5" cy="1198.8" r="2.4"/><circle cx="1205.1" cy="1201.7" r="2.2"/><circle cx="1077.6" cy="1210.9" r="2.4"/><circle cx="1084.0" cy="1209.5" r="2.0"/><circle cx="1099.1" cy="1212.3" r="2.1"/><circle cx="1105.4" cy="1208.0" r="2.6"/><circle cx="1117.1" cy="1212.1" r="2.1"/><circle cx="1127.1" cy="1209.5" r="2.1"/><circle cx="1139.2" cy="1213.7" r="2.6"/><circle cx="1146.9" cy="1208.1" r="2.8"/><circle cx="1158.1" cy="1210.5" r="2.5"/><circle cx="1170.8" cy="1209.1" r="2.1"/><circle cx="1182.0" cy="1212.6" r="2.6"/><circle cx="1190.7" cy="1209.2" r="2.7"/><circle cx="1204.1" cy="1209.9" r="2.9"/><circle cx="1213.7" cy="1209.3" r="2.3"/><circle cx="1079.1" cy="1223.0" r="2.4"/><circle cx="1090.9" cy="1218.2" r="2.7"/><circle cx="1112.9" cy="1223.0" r="2.2"/><circle cx="1120.2" cy="1219.5" r="2.9"/><circle cx="1131.1" cy="1223.2" r="2.6"/><circle cx="1141.1" cy="1217.4" r="2.0"/><circle cx="1166.9" cy="1222.6" r="2.5"/><circle cx="1176.4" cy="1223.3" r="2.4"/><circle cx="1188.1" cy="1219.1" r="2.1"/><circle cx="1193.9" cy="1222.9" r="2.6"/><circle cx="1094.8" cy="1228.4" r="2.1"/><circle cx="1109.5" cy="1226.9" r="2.2"/><circle cx="1120.1" cy="1227.5" r="2.5"/><circle cx="1126.7" cy="1231.3" r="2.5"/><circle cx="1140.2" cy="1228.9" r="2.1"/><circle cx="1145.8" cy="1229.1" r="2.2"/><circle cx="1158.3" cy="1232.0" r="2.1"/><circle cx="1167.7" cy="1228.5" r="2.8"/><circle cx="1182.7" cy="1226.4" r="2.4"/><circle cx="1190.1" cy="1231.3" r="2.0"/><circle cx="1202.8" cy="1226.4" r="2.5"/><circle cx="1208.7" cy="1226.6" r="2.6"/><circle cx="1082.0" cy="1241.0" r="2.8"/><circle cx="1089.9" cy="1237.0" r="2.2"/><circle cx="1104.3" cy="1239.2" r="2.0"/><circle cx="1110.4" cy="1239.8" r="2.4"/><circle cx="1121.2" cy="1237.0" r="2.1"/><circle cx="1129.8" cy="1240.1" r="2.0"/><circle cx="1146.0" cy="1239.3" r="2.8"/><circle cx="1156.7" cy="1235.5" r="2.2"/><circle cx="1162.7" cy="1238.3" r="2.4"/><circle cx="1177.8" cy="1241.3" r="2.7"/><circle cx="1184.7" cy="1236.9" r="2.3"/><circle cx="1195.5" cy="1238.4" r="2.0"/><circle cx="1209.1" cy="1236.5" r="2.7"/><circle cx="1086.3" cy="1246.5" r="2.0"/><circle cx="1095.0" cy="1246.7" r="2.7"/><circle cx="1108.4" cy="1244.9" r="2.6"/><circle cx="1115.2" cy="1249.2" r="2.2"/><circle cx="1135.2" cy="1247.9" r="2.0"/><circle cx="1147.6" cy="1250.6" r="2.7"/><circle cx="1161.6" cy="1250.7" r="2.7"/><circle cx="1168.2" cy="1245.0" r="2.2"/><circle cx="1177.6" cy="1247.6" r="2.4"/><circle cx="1192.0" cy="1247.3" r="2.5"/><circle cx="1199.5" cy="1247.1" r="2.6"/><circle cx="1212.4" cy="1248.7" r="2.2"/><circle cx="1081.4" cy="1254.3" r="2.0"/><circle cx="1093.0" cy="1255.4" r="2.2"/><circle cx="1101.8" cy="1255.9" r="2.8"/><circle cx="1113.4" cy="1254.8" r="2.3"/><circle cx="1120.8" cy="1255.1" r="2.3"/><circle cx="1130.7" cy="1259.1" r="2.8"/><circle cx="1143.9" cy="1255.6" r="2.6"/><circle cx="1153.2" cy="1259.8" r="2.9"/><circle cx="1164.4" cy="1255.0" r="2.7"/><circle cx="1176.8" cy="1257.7" r="2.8"/><circle cx="1188.5" cy="1254.2" r="2.6"/><circle cx="1195.7" cy="1258.7" r="2.3"/><circle cx="1208.5" cy="1259.3" r="2.5"/><circle cx="1088.6" cy="1266.4" r="2.1"/><circle cx="1130.5" cy="1263.4" r="2.3"/><circle cx="1138.8" cy="1266.6" r="2.0"/><circle cx="1156.9" cy="1264.0" r="2.6"/><circle cx="1168.1" cy="1266.5" r="2.6"/><circle cx="1187.6" cy="1264.8" r="2.3"/><circle cx="1202.3" cy="1263.9" r="2.7"/><circle cx="1210.5" cy="1264.0" r="2.1"/></g>
<g fill="#3c3494" opacity="0.85"><ellipse cx="1194.1" cy="1254.8" rx="1.5" ry="0.7"/><ellipse cx="1107.3" cy="1169.5" rx="0.8" ry="1.0"/><ellipse cx="1186.8" cy="1225.0" rx="1.4" ry="0.9"/><ellipse cx="1118.0" cy="1168.2" rx="0.9" ry="1.0"/><ellipse cx="1107.3" cy="1191.5" rx="1.1" ry="0.6"/><ellipse cx="1114.0" cy="1187.6" rx="1.3" ry="0.8"/><ellipse cx="1122.4" cy="1260.1" rx="1.2" ry="1.0"/><ellipse cx="1161.4" cy="1160.9" rx="1.1" ry="0.8"/><ellipse cx="1181.7" cy="1194.5" rx="1.3" ry="0.9"/><ellipse cx="1108.8" cy="1249.3" rx="0.9" ry="1.0"/><ellipse cx="1102.7" cy="1157.7" rx="0.9" ry="1.0"/><ellipse cx="1208.5" cy="1158.1" rx="1.1" ry="0.8"/><ellipse cx="1184.8" cy="1177.2" rx="1.1" ry="0.8"/><ellipse cx="1189.4" cy="1185.3" rx="1.5" ry="0.7"/><ellipse cx="1108.5" cy="1232.0" rx="1.1" ry="0.7"/><ellipse cx="1163.8" cy="1166.2" rx="1.4" ry="0.9"/><ellipse cx="1183.5" cy="1224.3" rx="1.0" ry="0.8"/><ellipse cx="1132.1" cy="1252.3" rx="0.9" ry="1.0"/><ellipse cx="1083.7" cy="1179.5" rx="1.0" ry="1.1"/><ellipse cx="1146.1" cy="1197.9" rx="1.4" ry="0.7"/><ellipse cx="1140.8" cy="1214.1" rx="1.3" ry="1.0"/><ellipse cx="1165.1" cy="1194.6" rx="1.0" ry="0.7"/><ellipse cx="1190.8" cy="1228.0" rx="1.3" ry="0.7"/><ellipse cx="1137.9" cy="1239.8" rx="1.2" ry="0.7"/><ellipse cx="1140.9" cy="1251.7" rx="1.0" ry="0.7"/><ellipse cx="1119.9" cy="1232.3" rx="1.4" ry="0.7"/><ellipse cx="1100.8" cy="1183.9" rx="1.0" ry="0.9"/><ellipse cx="1101.5" cy="1192.5" rx="0.9" ry="1.1"/><ellipse cx="1175.9" cy="1168.4" rx="1.5" ry="0.7"/><ellipse cx="1130.7" cy="1262.2" rx="1.4" ry="1.0"/><ellipse cx="1137.4" cy="1178.5" rx="1.2" ry="0.7"/><ellipse cx="1107.4" cy="1198.9" rx="0.8" ry="0.8"/><ellipse cx="1184.0" cy="1231.3" rx="1.2" ry="0.9"/><ellipse cx="1141.1" cy="1172.7" rx="1.2" ry="0.8"/><ellipse cx="1177.5" cy="1254.1" rx="1.1" ry="0.9"/><ellipse cx="1178.5" cy="1202.4" rx="1.0" ry="1.0"/><ellipse cx="1195.7" cy="1239.9" rx="1.3" ry="1.0"/><ellipse cx="1169.4" cy="1225.8" rx="1.1" ry="0.8"/><ellipse cx="1162.7" cy="1168.0" rx="1.1" ry="1.0"/><ellipse cx="1173.8" cy="1224.5" rx="1.0" ry="0.8"/></g>
</g>
<rect x="1079.6" y="1156.8" width="132.6" height="107.9" fill="none" stroke="#1a1a1a" stroke-width="1.6"/>
<clipPath id="c40_1"><rect x="1218.9" y="1157.6" width="130.9" height="106.3"/></clipPath>
<g clip-path="url(#c40_1)">
<rect x="1218.9" y="1157.6" width="130.9" height="106.3" fill="#bda3d9"/>
<path d="M1348.8 1264.1L1360.4 1259.6M1355.8 1221.7L1348.3 1225.7M1355.8 1221.7L1350.3 1214.4M1350.3 1214.4L1345.5 1221.5M1345.5 1221.5L1346.3 1224.4M1348.3 1225.7L1346.3 1224.4M1220.6 1193.1L1219.8 1197.5M1220.6 1193.1L1216.5 1191.1M1216.5 1191.1L1211.9 1195.7M1219.8 1197.5L1214.7 1198.6M1211.9 1195.7L1214.7 1198.6M1203.5 1184.3L1214.8 1187.4M1214.8 1187.4L1216.5 1191.1M1213.3 1204.1L1218.8 1206.2M1213.3 1204.1L1214.7 1198.6M1218.8 1206.2L1222.3 1202.9M1222.3 1202.9L1222.8 1200.6M1222.8 1200.6L1219.8 1197.5M1219.1 1158.7L1218.7 1154.1M1219.1 1158.7L1214.7 1160.5M1214.7 1160.5L1210.2 1156.4M1218.7 1154.1L1214.8 1152.2M1210.2 1156.4L1214.8 1152.2M1209.4 1169.1L1214.4 1164.9M1214.4 1164.9L1214.7 1160.5M1223.6 1150.7L1218.7 1154.1M1360.4 1259.6L1349.8 1255.4M1450.5 1246.3L1348.1 1250.0M1349.8 1255.4L1348.1 1250.0M1312.2 1315.2L1321.7 1264.5M1312.2 1315.2L1314.0 1265.7M1321.7 1264.5L1316.2 1263.3M1314.0 1265.7L1316.2 1263.3M1348.3 1225.7L1349.4 1229.6M1374.1 1237.5L1349.4 1229.6M1350.2 1213.4L1346.7 1212.1M1350.2 1213.4L1353.9 1210.1M1346.7 1212.1L1346.2 1205.3M1353.9 1210.1L1350.5 1202.8M1350.5 1202.8L1346.2 1205.3M1340.3 1208.0L1343.1 1205.0M1340.3 1208.0L1334.8 1204.8M1343.1 1205.0L1342.2 1200.0M1342.2 1200.0L1339.7 1198.9M1339.7 1198.9L1336.3 1200.3M1334.8 1204.8L1336.3 1200.3M1350.3 1214.4L1350.2 1213.4M1345.5 1221.5L1340.3 1218.1M1346.7 1212.1L1345.3 1212.1M1340.3 1218.1L1345.3 1212.1M1340.3 1208.0L1340.5 1209.0M1334.8 1204.8L1331.6 1206.5M1331.9 1211.4L1331.6 1206.5M1331.9 1211.4L1336.8 1214.8M1336.8 1214.8L1340.5 1209.0M1343.1 1205.0L1346.2 1205.3M1340.5 1209.0L1345.3 1212.1M1342.1 1226.5L1346.3 1224.4M1342.1 1226.5L1336.7 1223.1M1340.3 1218.1L1338.3 1218.0M1336.7 1223.1L1338.3 1218.0M1336.8 1214.8L1337.5 1217.1M1338.3 1218.0L1337.5 1217.1M1264.5 1155.8L1269.6 1152.3M1264.5 1155.8L1259.8 1152.9M1259.8 1152.9L1263.9 1142.9M1253.5 1151.4L1257.0 1154.3M1257.0 1154.3L1259.8 1152.9M1329.0 1151.6L1321.8 1153.0M1321.8 1153.0L1321.8 1153.0M1317.3 1124.2L1321.8 1153.0M1226.8 1199.3L1222.8 1200.6M1226.8 1199.3L1230.4 1199.9M1222.3 1202.9L1225.9 1206.6M1230.4 1199.9L1231.8 1203.4M1225.9 1206.6L1231.8 1203.4M1203.5 1184.3L1216.2 1178.2M1209.4 1169.1L1216.3 1174.0M1216.3 1174.0L1216.2 1178.2M1214.8 1187.4L1219.4 1184.9M1219.4 1184.9L1219.6 1180.4M1216.2 1178.2L1219.6 1180.4M1216.3 1174.0L1220.2 1171.2M1223.0 1179.2L1219.6 1180.4M1223.0 1179.2L1223.7 1173.6M1223.7 1173.6L1220.2 1171.2M1214.4 1164.9L1220.5 1167.3M1220.5 1167.3L1220.2 1171.2M1216.9 1275.4L1224.9 1264.5M1216.9 1275.4L1215.1 1264.8M1224.9 1264.5L1217.9 1261.6M1215.1 1264.8L1217.9 1261.6M1205.1 1261.1L1215.1 1264.8M1205.1 1261.1L1214.8 1256.4M1217.9 1261.6L1217.9 1259.1M1214.8 1256.4L1217.9 1259.1M1438.7 1245.2L1349.0 1245.0M1348.1 1250.0L1347.9 1249.8M1347.9 1249.8L1347.1 1247.4M1349.0 1245.0L1347.1 1247.4M1374.1 1237.5L1349.8 1238.8M1349.0 1245.0L1349.8 1238.8M1348.8 1264.1L1346.2 1263.1M1349.8 1255.4L1344.8 1259.6M1346.2 1263.1L1344.8 1259.6M1314.0 1265.7L1308.3 1263.7M1311.2 1326.3L1304.2 1267.8M1308.3 1263.7L1304.2 1267.8M1295.4 1264.2L1299.5 1263.7M1295.4 1264.2L1310.6 1488.1M1304.2 1267.8L1299.5 1263.7M1283.3 1265.3L1273.0 1417.0M1283.3 1265.3L1285.5 1263.9M1285.5 1263.9L1289.6 1265.2M1289.6 1265.2L1316.0 1918.0M1295.0 1264.0L1293.9 1258.7M1295.0 1264.0L1289.6 1265.2M1293.9 1258.7L1290.6 1255.3M1285.9 1259.1L1290.6 1255.3M1285.9 1259.1L1285.5 1263.9M1295.4 1264.2L1295.0 1264.0M1336.3 1200.3L1331.8 1195.4M1331.6 1206.5L1330.1 1206.0M1330.1 1206.0L1327.0 1199.8M1327.0 1199.8L1331.8 1195.4M1323.4 1208.1L1330.1 1206.0M1323.4 1208.1L1319.5 1204.5M1319.5 1204.5L1320.3 1201.3M1320.3 1201.3L1324.7 1199.3M1327.0 1199.8L1324.7 1199.3M1346.0 1156.8L1346.4 1153.2M1346.0 1156.8L1351.9 1160.0M1360.4 1155.9L1351.9 1160.0M1360.4 1155.9L1349.1 1151.4M1349.1 1151.4L1346.4 1153.2M1341.6 1149.7L1346.4 1153.2M1342.2 1200.0L1347.5 1198.6M1350.5 1202.8L1350.6 1202.4M1350.6 1202.4L1347.5 1198.6M1329.0 1151.6L1330.4 1153.1M1332.4 1123.7L1335.6 1152.7M1330.4 1153.1L1335.6 1152.7M1341.6 1149.7L1337.1 1153.3M1335.6 1152.7L1337.1 1153.3M1307.6 1234.8L1303.3 1231.5M1307.6 1234.8L1307.5 1235.9M1303.3 1231.5L1301.3 1231.4M1307.5 1235.9L1303.7 1239.8M1301.3 1231.4L1300.4 1232.5M1300.4 1232.5L1300.1 1236.9M1300.1 1236.9L1303.7 1239.8M1285.9 1259.1L1281.7 1255.9M1281.7 1255.9L1281.5 1253.5M1290.7 1253.0L1290.6 1255.3M1290.7 1253.0L1286.7 1250.4M1281.5 1253.5L1286.7 1250.4M1292.7 1238.5L1295.3 1240.4M1292.7 1238.5L1290.2 1239.6M1290.2 1239.6L1288.4 1244.6M1288.4 1244.6L1295.2 1247.1M1295.3 1240.4L1297.1 1244.5M1295.2 1247.1L1297.1 1244.5M1292.7 1234.1L1300.4 1232.5M1292.7 1234.1L1292.7 1238.5M1300.1 1236.9L1295.3 1240.4M1294.6 1250.1L1290.7 1253.0M1294.6 1250.1L1295.2 1247.1M1285.7 1246.3L1286.7 1250.4M1285.7 1246.3L1288.4 1244.6M1300.3 1244.6L1297.1 1244.5M1300.3 1244.6L1303.5 1242.6M1303.5 1242.6L1303.7 1239.8M1309.6 1220.7L1303.0 1219.4M1309.6 1220.7L1311.1 1225.9M1306.8 1226.9L1310.8 1226.4M1306.8 1226.9L1302.3 1221.6M1302.3 1221.6L1303.0 1219.4M1310.8 1226.4L1311.1 1225.9M1313.2 1216.7L1316.9 1220.5M1313.2 1216.7L1309.6 1220.7M1315.6 1225.3L1316.9 1220.5M1315.6 1225.3L1311.1 1225.9M1311.5 1232.3L1310.8 1226.4M1311.5 1232.3L1307.6 1234.8M1303.3 1231.5L1306.8 1226.9M1298.0 1225.5L1301.3 1231.4M1298.0 1225.5L1302.3 1221.6M1302.8 1218.6L1303.0 1219.4M1302.8 1218.6L1297.6 1216.9M1297.6 1216.9L1294.6 1217.6M1294.6 1217.6L1294.8 1225.1M1294.8 1225.1L1298.0 1225.5M1323.3 1220.9L1320.2 1219.8M1323.3 1220.9L1327.2 1217.2M1320.2 1219.8L1319.8 1213.6M1327.2 1217.2L1327.1 1216.1M1327.1 1216.1L1323.0 1212.3M1319.8 1213.6L1323.0 1212.3M1315.6 1225.3L1318.9 1228.0M1316.9 1220.5L1320.2 1219.8M1323.8 1225.7L1318.9 1228.0M1323.8 1225.7L1323.3 1220.9M1315.3 1213.1L1313.2 1214.6M1315.3 1213.1L1319.8 1213.6M1313.2 1214.6L1313.2 1216.7M1331.9 1211.4L1327.1 1216.1M1329.8 1219.1L1337.5 1217.1M1329.8 1219.1L1327.2 1217.2M1323.4 1208.1L1323.0 1212.3M1315.3 1213.1L1316.4 1206.0M1316.4 1206.0L1319.5 1204.5M1254.8 1181.6L1253.6 1185.0M1254.8 1181.6L1252.3 1178.4M1253.6 1185.0L1248.6 1184.1M1252.3 1178.4L1247.1 1180.8M1247.1 1180.8L1248.6 1184.1M1271.4 1153.0L1272.2 1158.0M1271.4 1153.0L1269.6 1152.3M1264.5 1155.8L1265.3 1159.5M1265.3 1159.5L1272.2 1158.0M1257.0 1154.3L1256.4 1156.4M1256.4 1156.4L1261.7 1162.1M1261.7 1162.1L1265.3 1159.6M1265.3 1159.5L1265.3 1159.6M1261.7 1162.1L1260.8 1165.1M1265.3 1159.6L1268.7 1164.2M1268.7 1164.2L1264.7 1168.4M1260.8 1165.1L1264.7 1168.4M1259.9 1179.5L1263.6 1182.1M1259.9 1179.5L1259.0 1174.5M1263.6 1182.1L1263.9 1182.0M1266.9 1172.2L1266.9 1179.5M1266.9 1172.2L1265.4 1171.2M1263.9 1182.0L1266.9 1179.5M1259.0 1174.5L1265.4 1171.2M1266.9 1172.2L1272.1 1171.6M1272.1 1171.6L1274.2 1164.2M1268.7 1164.2L1274.2 1164.2M1265.4 1171.2L1264.7 1168.4M1263.9 1182.0L1268.9 1186.8M1266.9 1179.5L1272.6 1180.1M1268.9 1186.8L1271.6 1186.9M1272.6 1180.1L1271.6 1186.9M1268.9 1186.8L1265.4 1191.6M1265.4 1191.6L1272.4 1194.4M1273.5 1193.4L1273.5 1188.6M1273.5 1193.4L1272.4 1194.4M1273.5 1188.6L1271.6 1186.9M1309.1 1179.7L1313.4 1176.7M1309.1 1179.7L1310.5 1185.0M1317.6 1184.4L1317.5 1180.9M1317.6 1184.4L1311.9 1186.2M1313.4 1176.7L1317.5 1180.9M1311.9 1186.2L1310.5 1185.0M1280.3 1186.2L1282.5 1191.4M1280.3 1186.2L1279.5 1185.5M1273.5 1193.4L1279.6 1194.5M1279.5 1185.5L1273.5 1188.6M1279.6 1194.5L1282.5 1191.4M1275.6 1200.3L1271.7 1197.1M1275.6 1200.3L1280.8 1199.7M1271.7 1197.1L1272.4 1194.4M1279.6 1194.5L1280.8 1199.7M1317.3 1124.2L1313.5 1153.4M1321.8 1153.0L1315.3 1154.7M1313.5 1153.4L1315.3 1154.7M1307.0 1160.4L1311.8 1162.9M1307.0 1160.4L1308.4 1153.5M1315.2 1158.2L1315.3 1154.7M1315.2 1158.2L1312.9 1162.6M1308.4 1153.5L1313.5 1153.4M1312.9 1162.6L1311.8 1162.9M1208.7 1206.7L1214.0 1212.7M1218.8 1206.2L1219.7 1211.3M1214.0 1212.7L1219.7 1211.3M1225.9 1206.6L1225.9 1211.1M1225.9 1211.1L1222.4 1213.3M1219.7 1211.3L1222.4 1213.3M1214.0 1212.7L1212.4 1217.7M1222.4 1213.3L1222.4 1214.6M1222.4 1214.6L1218.8 1220.2M1218.8 1220.2L1212.4 1217.7M1219.4 1184.9L1222.1 1187.2M1226.9 1180.9L1226.9 1186.1M1226.9 1180.9L1223.0 1179.2M1226.9 1186.1L1222.1 1187.2M1226.8 1199.3L1225.9 1192.9M1220.6 1193.1L1221.1 1192.6M1225.9 1192.9L1221.1 1192.6M1221.1 1192.6L1222.1 1187.2M1219.1 1158.7L1223.3 1160.3M1220.5 1167.3L1222.6 1165.6M1222.6 1165.6L1223.3 1160.3M1223.6 1150.7L1227.3 1154.4M1227.3 1154.4L1225.9 1158.6M1223.3 1160.3L1225.9 1158.6M1230.6 1162.4L1225.9 1158.6M1230.6 1162.4L1230.0 1165.3M1222.6 1165.6L1226.1 1167.1M1230.0 1165.3L1226.1 1167.1M1223.7 1173.6L1227.7 1172.4M1226.1 1167.1L1227.7 1172.4M1226.9 1180.9L1231.1 1178.3M1231.1 1178.3L1230.3 1173.3M1227.7 1172.4L1230.3 1173.3M1259.9 1179.5L1254.8 1181.6M1252.3 1178.4L1252.3 1174.2M1259.0 1174.5L1255.5 1172.4M1252.3 1174.2L1255.5 1172.4M1260.8 1165.1L1255.7 1166.7M1255.5 1172.4L1255.7 1166.7M1256.4 1156.4L1252.6 1160.1M1252.6 1160.1L1255.6 1166.6M1255.6 1166.6L1255.7 1166.7M1214.8 1256.4L1214.4 1251.0M1209.2 1248.1L1214.4 1251.0M1207.8 1233.2L1214.6 1241.5M1209.2 1248.1L1214.6 1241.5M1224.9 1264.5L1226.2 1264.1M1217.9 1259.1L1221.5 1256.4M1221.5 1256.4L1225.4 1257.9M1225.4 1257.9L1226.2 1264.1M1243.3 1362.8L1254.2 1265.1M1254.2 1265.1L1250.1 1263.3M1250.1 1263.3L1245.4 1266.1M1245.4 1266.1L1239.9 1307.8M1226.2 1264.1L1229.1 1265.1M1229.1 1265.1L1235.4 1282.1M1346.6 1234.3L1346.4 1236.6M1346.6 1234.3L1340.3 1229.9M1346.4 1236.6L1343.2 1238.4M1343.2 1238.4L1339.4 1237.4M1339.4 1237.4L1336.8 1231.7M1340.3 1229.9L1336.8 1231.7M1349.4 1229.6L1346.6 1234.3M1349.8 1238.8L1346.4 1236.6M1342.1 1226.5L1340.3 1229.9M1347.1 1247.4L1342.7 1245.2M1342.7 1245.2L1343.2 1238.4M1321.7 1264.5L1325.0 1263.2M1316.2 1263.3L1315.5 1258.5M1320.2 1255.1L1315.5 1258.5M1320.2 1255.1L1325.0 1258.0M1325.0 1263.2L1325.0 1258.0M1347.9 1249.8L1342.7 1253.7M1344.8 1259.6L1342.0 1257.7M1342.7 1253.7L1342.0 1257.7M1342.7 1245.2L1341.2 1245.9M1341.2 1245.9L1338.7 1249.4M1342.7 1253.7L1338.7 1249.4M1294.6 1250.1L1297.8 1252.2M1300.3 1244.6L1303.8 1251.5M1303.8 1251.5L1297.8 1252.2M1299.5 1263.7L1302.6 1258.5M1293.9 1258.7L1298.2 1256.2M1302.6 1258.5L1298.2 1256.2M1298.2 1256.2L1297.8 1252.2M1341.2 1245.9L1334.4 1241.6M1334.5 1250.7L1338.7 1249.4M1334.5 1250.7L1331.6 1244.4M1331.6 1244.4L1334.4 1241.6M1339.4 1237.4L1334.4 1241.5M1334.4 1241.6L1334.4 1241.5M1302.8 1218.6L1304.2 1214.3M1297.6 1216.9L1297.9 1210.2M1297.9 1210.2L1301.1 1208.6M1301.1 1208.6L1301.6 1208.7M1301.6 1208.7L1304.2 1214.3M1313.2 1214.6L1310.9 1213.4M1304.2 1214.3L1310.9 1213.4M1301.6 1208.7L1305.1 1205.4M1310.9 1213.4L1309.1 1206.5M1305.1 1205.4L1309.1 1206.5M1316.4 1206.0L1313.0 1204.9M1313.0 1204.9L1309.1 1206.5M1324.7 1199.3L1323.7 1192.1M1323.7 1192.1L1329.1 1191.4M1331.8 1195.4L1331.8 1195.0M1329.1 1191.4L1331.8 1195.0M1321.9 1191.2L1323.7 1192.1M1321.9 1191.2L1321.3 1186.0M1321.3 1186.0L1330.5 1186.2M1329.1 1191.4L1330.5 1186.2M1339.7 1198.9L1340.9 1191.0M1340.9 1191.0L1337.5 1191.1M1331.8 1195.0L1337.5 1191.1M1330.5 1186.2L1330.6 1186.0M1337.5 1191.1L1333.6 1187.1M1333.6 1187.1L1330.6 1186.0M1292.7 1234.1L1290.3 1230.5M1294.8 1225.1L1291.3 1226.6M1291.3 1226.6L1290.3 1230.5M1284.2 1237.9L1287.0 1231.7M1284.2 1237.9L1290.2 1239.6M1287.0 1231.7L1290.3 1230.5M1270.4 1211.5L1272.1 1206.6M1270.4 1211.5L1275.5 1213.5M1277.9 1206.6L1274.2 1206.0M1277.9 1206.6L1278.8 1211.7M1274.2 1206.0L1272.1 1206.6M1278.8 1211.7L1275.5 1213.5M1275.6 1200.3L1274.2 1206.0M1268.8 1199.8L1271.7 1197.1M1268.8 1199.8L1269.5 1203.6M1269.5 1203.6L1272.1 1206.6M1282.6 1213.5L1278.8 1211.7M1282.6 1213.5L1280.8 1218.6M1280.8 1218.6L1276.3 1217.5M1276.3 1217.5L1275.5 1213.5M1325.7 1226.7L1326.4 1232.8M1325.7 1226.7L1331.7 1225.4M1332.9 1225.9L1331.7 1225.4M1332.9 1225.9L1334.6 1231.1M1334.6 1231.1L1330.7 1234.4M1326.4 1232.8L1329.7 1234.5M1329.7 1234.5L1330.7 1234.4M1329.8 1219.1L1331.7 1225.4M1323.8 1225.7L1325.7 1226.7M1336.7 1223.1L1332.9 1225.9M1336.8 1231.7L1334.6 1231.1M1334.4 1241.5L1330.7 1234.4M1327.4 1244.2L1326.1 1241.0M1327.4 1244.2L1331.6 1244.4M1326.1 1241.0L1329.7 1234.5M1324.9 1233.4L1318.5 1231.7M1324.9 1233.4L1322.2 1238.6M1322.2 1238.6L1321.5 1238.6M1321.5 1238.6L1316.6 1234.3M1318.5 1231.7L1316.6 1234.2M1316.6 1234.2L1316.6 1234.3M1318.9 1228.0L1318.5 1231.7M1326.4 1232.8L1324.9 1233.4M1326.1 1241.0L1322.2 1238.6M1311.5 1232.3L1316.6 1234.2M1321.5 1238.6L1317.0 1245.0M1316.6 1234.3L1312.8 1242.1M1317.0 1245.0L1312.8 1242.1M1307.5 1235.9L1312.5 1242.1M1303.5 1242.6L1308.5 1244.7M1312.5 1242.1L1308.5 1244.7M1312.5 1242.1L1312.8 1242.1M1263.6 1182.1L1262.1 1185.2M1253.6 1185.0L1254.1 1186.2M1254.1 1186.2L1262.1 1185.2M1250.3 1192.2L1254.2 1190.1M1250.3 1192.2L1244.8 1189.1M1248.6 1184.1L1244.8 1189.1M1254.1 1186.2L1254.2 1190.1M1275.3 1161.5L1274.8 1163.7M1275.3 1161.5L1279.9 1158.5M1274.8 1163.7L1280.1 1167.7M1281.1 1159.1L1279.9 1158.5M1281.1 1159.1L1285.1 1166.2M1285.1 1166.2L1280.1 1167.7M1272.2 1158.0L1275.3 1161.5M1274.2 1164.2L1274.8 1163.7M1271.4 1153.0L1274.9 1151.0M1274.9 1151.0L1280.1 1154.9M1280.1 1154.9L1279.9 1158.5M1308.4 1153.5L1306.5 1151.9M1280.1 1154.9L1283.3 1151.8M1294.6 1217.6L1290.3 1214.7M1297.9 1210.2L1293.5 1210.6M1293.5 1210.6L1290.3 1214.7M1299.0 1192.3L1302.8 1194.2M1299.0 1192.3L1299.1 1186.8M1304.7 1187.0L1305.3 1192.3M1304.7 1187.0L1300.4 1185.9M1302.8 1194.2L1305.3 1192.3M1300.4 1185.9L1299.1 1186.8M1309.1 1179.7L1306.9 1178.4M1306.9 1178.4L1301.4 1181.0M1310.5 1185.0L1304.7 1187.0M1301.4 1181.0L1300.4 1185.9M1301.4 1181.0L1297.2 1177.3M1293.1 1185.3L1299.1 1186.8M1293.1 1185.3L1293.2 1179.9M1297.2 1177.3L1293.2 1179.9M1287.0 1184.5L1290.5 1187.2M1287.0 1184.5L1285.8 1179.2M1290.5 1187.2L1293.1 1185.3M1285.8 1179.2L1290.5 1178.2M1293.2 1179.9L1290.5 1178.2M1290.5 1187.2L1290.1 1188.6M1299.0 1192.3L1294.4 1195.7M1294.4 1195.7L1290.1 1188.6M1280.3 1186.2L1287.0 1184.5M1282.5 1191.4L1285.2 1191.7M1290.1 1188.6L1285.2 1191.7M1308.1 1169.8L1308.9 1169.5M1308.1 1169.8L1303.6 1166.3M1307.0 1160.4L1306.7 1160.6M1308.9 1169.5L1311.8 1162.9M1306.7 1160.6L1303.6 1166.3M1306.5 1151.9L1301.9 1153.7M1301.9 1153.7L1298.5 1152.5M1306.7 1160.6L1301.5 1159.1M1301.9 1153.7L1301.5 1159.1M1279.4 1172.9L1284.0 1174.2M1279.4 1172.9L1275.8 1175.0M1279.0 1181.6L1275.6 1178.6M1279.0 1181.6L1284.9 1178.8M1284.9 1178.8L1284.0 1174.2M1275.8 1175.0L1275.6 1178.6M1286.8 1166.6L1287.5 1170.9M1286.8 1166.6L1285.1 1166.2M1280.1 1167.7L1279.4 1172.9M1287.5 1170.9L1284.0 1174.2M1272.1 1171.6L1275.8 1175.0M1272.6 1180.1L1275.6 1178.6M1279.5 1185.5L1279.0 1181.6M1285.8 1179.2L1284.9 1178.8M1287.5 1170.9L1290.3 1172.7M1290.3 1172.7L1290.5 1178.2M1305.6 1174.2L1306.9 1178.4M1305.6 1174.2L1308.1 1169.8M1313.4 1176.7L1315.5 1172.7M1308.9 1169.5L1315.5 1172.6M1315.5 1172.7L1315.5 1172.6M1312.9 1162.6L1318.0 1166.5M1315.5 1172.6L1318.0 1166.5M1230.4 1199.9L1233.1 1196.0M1233.1 1196.0L1240.4 1199.6M1231.8 1203.4L1233.9 1205.4M1233.9 1205.4L1238.4 1203.7M1238.4 1203.7L1240.4 1199.6M1241.4 1191.7L1242.5 1198.3M1241.4 1191.7L1244.1 1189.2M1249.6 1197.7L1250.3 1192.2M1249.6 1197.7L1246.2 1199.5M1244.1 1189.2L1244.8 1189.1M1246.2 1199.5L1242.5 1198.3M1225.9 1211.1L1233.2 1211.7M1233.9 1205.4L1233.3 1211.6M1233.2 1211.7L1233.3 1211.6M1218.8 1220.2L1219.2 1221.9M1203.0 1222.3L1215.6 1225.3M1219.2 1221.9L1215.6 1225.3M1207.8 1233.2L1216.2 1231.6M1215.6 1225.3L1216.2 1231.6M1245.9 1225.3L1240.1 1223.3M1245.9 1225.3L1246.2 1228.7M1246.2 1228.7L1239.7 1231.6M1239.7 1231.6L1237.0 1230.8M1240.1 1223.3L1237.4 1225.9M1237.0 1230.8L1237.4 1225.9M1233.8 1234.4L1234.2 1232.6M1233.8 1234.4L1238.5 1240.4M1238.5 1240.4L1243.4 1238.0M1239.7 1231.6L1243.4 1238.0M1237.0 1230.8L1234.2 1232.6M1229.1 1190.7L1228.2 1187.3M1229.1 1190.7L1233.2 1193.1M1228.2 1187.3L1233.5 1184.7M1233.2 1193.1L1236.3 1190.9M1236.3 1190.9L1235.9 1186.8M1235.9 1186.8L1233.5 1184.7M1226.9 1186.1L1228.2 1187.3M1225.9 1192.9L1229.1 1190.7M1233.1 1196.0L1233.2 1193.1M1231.1 1178.3L1233.4 1179.5M1233.4 1179.5L1233.5 1184.7M1241.4 1191.7L1236.3 1190.9M1240.4 1199.6L1242.5 1198.3M1244.1 1189.2L1240.7 1182.9M1240.7 1182.9L1235.9 1186.8M1230.0 1165.3L1232.6 1168.6M1230.3 1173.3L1232.1 1171.7M1232.6 1168.6L1232.1 1171.7M1254.2 1265.1L1256.7 1263.8M1256.7 1263.8L1260.8 1265.4M1267.1 1368.5L1260.8 1265.4M1281.7 1255.9L1278.2 1258.8M1283.3 1265.3L1278.5 1263.8M1278.2 1258.8L1278.5 1263.8M1273.0 1417.0L1275.7 1265.0M1275.7 1265.0L1278.5 1263.8M1223.4 1225.2L1219.2 1221.9M1223.4 1225.2L1220.9 1230.7M1216.2 1231.6L1217.2 1232.0M1220.9 1230.7L1217.2 1232.0M1214.4 1251.0L1217.1 1250.3M1221.5 1256.4L1221.2 1251.9M1217.1 1250.3L1221.2 1251.9M1241.5 1260.5L1241.9 1263.0M1241.5 1260.5L1234.5 1258.2M1241.9 1263.0L1238.0 1265.6M1238.0 1265.6L1233.2 1261.5M1234.5 1258.2L1233.2 1261.5M1245.0 1256.2L1241.5 1260.5M1245.0 1256.2L1249.4 1260.3M1249.4 1260.3L1250.1 1263.3M1245.4 1266.1L1241.9 1263.0M1235.4 1282.1L1238.0 1265.6M1229.1 1265.1L1233.2 1261.5M1234.4 1257.9L1234.5 1258.2M1234.4 1257.9L1229.4 1254.3M1229.4 1254.3L1225.4 1257.9M1245.0 1256.2L1244.9 1254.0M1244.9 1254.0L1239.3 1251.5M1234.4 1257.9L1238.9 1251.6M1238.9 1251.6L1239.3 1251.5M1238.5 1240.4L1237.5 1243.0M1243.4 1238.0L1245.5 1238.3M1237.5 1243.0L1239.9 1246.3M1239.9 1246.3L1247.3 1244.7M1247.3 1244.7L1245.5 1238.3M1325.0 1263.2L1328.1 1265.5M1328.1 1265.5L1336.0 1360.7M1312.9 1257.2L1310.9 1252.3M1312.9 1257.2L1307.7 1260.3M1307.7 1260.3L1303.9 1257.8M1303.9 1257.8L1305.2 1252.2M1310.9 1252.3L1307.7 1251.2M1305.2 1252.2L1307.7 1251.2M1308.3 1263.7L1307.7 1260.3M1315.5 1258.5L1312.9 1257.2M1302.6 1258.5L1303.9 1257.8M1303.8 1251.5L1305.2 1252.2M1308.5 1244.7L1307.7 1251.2M1309.1 1198.2L1312.2 1200.7M1309.1 1198.2L1311.5 1192.8M1312.2 1200.7L1317.5 1197.5M1312.4 1192.1L1311.5 1192.8M1312.4 1192.1L1316.8 1194.3M1316.8 1194.3L1317.5 1197.5M1304.8 1200.0L1305.1 1205.4M1304.8 1200.0L1309.1 1198.2M1313.0 1204.9L1312.2 1200.7M1304.1 1199.5L1302.8 1194.2M1304.1 1199.5L1304.8 1200.0M1305.3 1192.3L1311.5 1192.8M1320.3 1201.3L1317.5 1197.5M1311.9 1186.2L1312.4 1192.1M1317.6 1184.4L1321.1 1185.7M1321.9 1191.2L1316.8 1194.3M1321.3 1186.0L1321.1 1185.7M1351.9 1160.0L1350.5 1166.2M1350.5 1166.2L1355.4 1170.7M1350.6 1202.4L1367.9 1192.9M1325.3 1179.1L1327.4 1178.7M1325.3 1179.1L1321.2 1176.8M1327.4 1178.7L1327.2 1171.9M1321.2 1176.8L1319.9 1174.6M1319.9 1174.6L1325.1 1169.7M1327.2 1171.9L1325.1 1169.7M1321.1 1185.7L1325.3 1179.1M1330.6 1186.0L1330.9 1180.3M1330.9 1180.3L1327.4 1178.7M1317.5 1180.9L1321.2 1176.8M1315.5 1172.7L1319.9 1174.6M1330.4 1153.1L1330.2 1159.5M1337.1 1153.3L1338.7 1159.3M1330.2 1159.5L1336.9 1160.7M1338.7 1159.3L1336.9 1160.7M1346.0 1156.8L1343.0 1159.5M1338.7 1159.3L1343.0 1159.5M1350.5 1166.2L1345.5 1166.3M1343.0 1159.5L1345.5 1166.3M1280.2 1223.6L1281.5 1220.3M1280.2 1223.6L1281.6 1226.0M1281.6 1226.0L1289.7 1225.1M1281.5 1220.3L1287.7 1220.6M1287.7 1220.6L1289.7 1225.1M1274.5 1231.3L1273.6 1224.5M1274.5 1231.3L1278.4 1232.1M1278.4 1232.1L1281.4 1229.7M1273.6 1224.5L1280.2 1223.6M1281.4 1229.7L1281.6 1226.0M1281.4 1229.7L1287.0 1231.7M1291.3 1226.6L1289.7 1225.1M1282.6 1213.5L1285.4 1212.2M1280.8 1218.6L1281.5 1220.3M1290.0 1214.7L1285.4 1212.2M1290.0 1214.7L1287.7 1220.6M1290.0 1214.7L1290.3 1214.7M1274.5 1231.3L1271.4 1233.6M1278.4 1232.1L1280.5 1237.3M1271.4 1233.6L1271.0 1238.4M1271.0 1238.4L1275.2 1240.2M1275.2 1240.2L1280.5 1237.3M1284.2 1237.9L1282.8 1238.5M1280.5 1237.3L1282.8 1238.5M1285.7 1246.3L1282.7 1244.6M1282.8 1238.5L1282.7 1244.6M1269.5 1203.6L1261.7 1207.1M1261.7 1207.1L1263.4 1210.8M1270.4 1211.5L1268.9 1212.6M1268.9 1212.6L1263.4 1210.8M1317.1 1248.6L1317.5 1246.0M1317.1 1248.6L1320.0 1253.3M1317.5 1246.0L1325.9 1245.7M1320.0 1253.3L1325.9 1249.5M1325.9 1249.5L1325.9 1245.7M1317.0 1245.0L1317.5 1246.0M1310.9 1252.3L1317.1 1248.6M1320.2 1255.1L1320.0 1253.3M1327.4 1244.2L1325.9 1245.7M1325.0 1258.0L1327.3 1256.4M1328.8 1253.6L1327.3 1256.4M1328.8 1253.6L1325.9 1249.5M1334.5 1250.7L1334.0 1251.9M1328.8 1253.6L1334.0 1251.9M1263.4 1192.1L1264.5 1198.8M1263.4 1192.1L1261.9 1191.3M1261.9 1191.3L1258.0 1192.3M1258.0 1192.3L1256.8 1199.2M1264.5 1198.8L1260.2 1201.6M1260.2 1201.6L1256.8 1199.2M1268.8 1199.8L1264.5 1198.8M1265.4 1191.6L1263.4 1192.1M1262.1 1185.2L1261.9 1191.3M1254.2 1190.1L1258.0 1192.3M1253.9 1199.6L1256.8 1199.2M1253.9 1199.6L1249.6 1197.7M1260.5 1206.0L1261.7 1207.1M1260.5 1206.0L1260.2 1201.6M1253.9 1199.6L1252.7 1204.5M1260.5 1206.0L1256.6 1207.5M1252.7 1204.5L1256.6 1207.5M1300.8 1173.2L1297.4 1176.2M1300.8 1173.2L1299.2 1166.7M1297.4 1176.2L1293.8 1171.9M1293.8 1171.9L1296.6 1165.9M1299.2 1166.7L1297.3 1165.6M1296.6 1165.9L1297.3 1165.6M1305.6 1174.2L1300.8 1173.2M1297.2 1177.3L1297.4 1176.2M1303.6 1166.3L1299.2 1166.7M1290.3 1172.7L1293.8 1171.9M1288.5 1165.2L1296.6 1165.9M1288.5 1165.2L1286.8 1166.6M1301.5 1159.1L1297.5 1161.5M1297.5 1161.5L1297.3 1165.6M1304.1 1199.5L1296.6 1200.0M1294.4 1195.7L1293.7 1198.1M1293.7 1198.1L1296.6 1200.0M1301.1 1208.6L1298.0 1205.0M1293.5 1210.6L1291.9 1206.1M1298.0 1205.0L1291.9 1206.1M1298.0 1205.0L1296.6 1200.0M1294.7 1156.0L1295.2 1158.6M1294.7 1156.0L1290.4 1153.5M1295.2 1158.6L1288.8 1161.1M1290.4 1153.5L1288.7 1154.3M1288.7 1154.3L1287.3 1158.4M1287.3 1158.4L1288.8 1161.1M1298.5 1152.5L1294.7 1156.0M1297.5 1161.5L1295.2 1158.6M1294.0 1135.7L1290.4 1153.5M1288.5 1165.2L1288.8 1161.1M1283.3 1151.8L1288.7 1154.3M1281.1 1159.1L1287.3 1158.4M1321.0 1165.5L1324.9 1168.3M1321.0 1165.5L1321.9 1161.7M1324.9 1168.3L1329.1 1165.2M1323.8 1159.6L1321.9 1161.7M1323.8 1159.6L1329.3 1160.2M1329.3 1160.2L1329.1 1165.2M1318.0 1166.5L1321.0 1165.5M1325.1 1169.7L1324.9 1168.3M1315.2 1158.2L1321.9 1161.7M1321.8 1153.0L1323.8 1159.6M1330.2 1159.5L1329.3 1160.2M1226.8 1218.4L1226.1 1224.8M1226.8 1218.4L1231.7 1217.3M1231.7 1217.3L1232.9 1219.5M1232.9 1219.5L1232.4 1223.2M1232.4 1223.2L1228.2 1225.7M1226.1 1224.8L1228.2 1225.7M1222.4 1214.6L1226.8 1218.4M1223.4 1225.2L1226.1 1224.8M1233.2 1211.7L1231.7 1217.3M1234.2 1232.6L1229.6 1229.3M1237.4 1225.9L1232.4 1223.2M1229.6 1229.3L1228.2 1225.7M1229.6 1229.3L1224.8 1233.6M1224.8 1233.6L1220.9 1230.7M1240.1 1223.3L1239.6 1219.9M1232.9 1219.5L1238.9 1219.5M1239.6 1219.9L1238.9 1219.5M1233.3 1211.6L1236.0 1212.3M1238.9 1219.5L1236.0 1212.3M1230.6 1162.4L1236.3 1160.6M1232.6 1168.6L1238.8 1164.8M1238.8 1164.8L1237.3 1161.0M1236.3 1160.6L1237.3 1161.0M1250.0 1159.9L1247.8 1160.8M1250.0 1159.9L1248.0 1151.6M1247.8 1160.8L1242.0 1156.8M1246.3 1150.7L1242.3 1154.4M1242.0 1156.8L1242.3 1154.4M1252.6 1160.1L1250.0 1159.9M1238.8 1164.8L1239.5 1165.4M1237.3 1161.0L1242.0 1156.8M1247.8 1160.8L1245.5 1165.3M1239.5 1165.4L1245.5 1165.3M1255.6 1166.6L1247.1 1167.8M1245.5 1165.3L1247.1 1167.8M1252.3 1174.2L1247.1 1172.9M1247.1 1167.8L1247.1 1172.9M1214.6 1241.5L1215.2 1241.4M1217.1 1250.3L1219.9 1243.6M1219.9 1243.6L1215.2 1241.4M1217.2 1232.0L1218.1 1236.1M1215.2 1241.4L1218.1 1236.1M1229.4 1254.3L1228.9 1251.9M1221.2 1251.9L1225.8 1249.4M1228.9 1251.9L1225.8 1249.4M1238.9 1251.6L1232.9 1249.1M1228.9 1251.9L1232.9 1249.1M1237.5 1243.0L1233.4 1244.1M1239.9 1246.3L1239.3 1251.5M1232.9 1249.1L1233.4 1244.1M1246.2 1228.7L1248.4 1231.1M1245.5 1238.3L1246.1 1237.8M1248.4 1231.1L1246.1 1237.8M1342.0 1257.7L1340.9 1257.9M1334.0 1251.9L1335.7 1255.6M1340.9 1257.9L1335.7 1255.6M1327.3 1256.4L1333.1 1259.6M1335.7 1255.6L1333.1 1259.6M1328.1 1265.5L1333.4 1263.3M1333.1 1259.6L1333.4 1263.3M1342.5 1266.5L1336.7 1263.6M1342.5 1266.5L1338.8 1290.7M1338.8 1290.7L1335.2 1264.0M1336.7 1263.6L1335.2 1264.0M1346.2 1263.1L1342.5 1266.5M1340.9 1257.9L1336.7 1263.6M1333.4 1263.3L1335.2 1264.0M1347.5 1198.6L1347.9 1195.1M1340.9 1191.0L1341.2 1190.8M1341.2 1190.8L1347.9 1195.1M1367.9 1192.9L1351.0 1192.8M1347.9 1195.1L1351.0 1192.8M1355.4 1170.7L1351.4 1174.5M1345.5 1166.3L1344.7 1167.1M1351.4 1174.5L1345.7 1173.4M1344.7 1167.1L1345.7 1173.4M1278.2 1258.8L1273.6 1256.1M1275.7 1265.0L1272.0 1263.9M1273.6 1256.1L1271.1 1258.9M1271.1 1258.9L1272.0 1263.9M1267.1 1368.5L1268.3 1266.4M1260.8 1265.4L1264.2 1264.1M1264.2 1264.1L1268.3 1266.4M1268.3 1266.4L1272.0 1263.9M1249.4 1260.3L1253.6 1256.2M1256.7 1263.8L1257.3 1259.8M1253.6 1256.2L1257.3 1259.8M1275.2 1240.2L1276.5 1244.1M1282.7 1244.6L1280.9 1245.4M1280.9 1245.4L1276.5 1244.1M1281.5 1253.5L1278.6 1251.3M1280.9 1245.4L1278.6 1251.3M1273.6 1256.1L1273.6 1251.7M1278.6 1251.3L1273.6 1251.7M1238.4 1203.7L1242.0 1207.2M1246.2 1199.5L1246.9 1204.6M1242.0 1207.2L1246.9 1204.6M1236.0 1212.3L1241.9 1211.7M1242.0 1207.2L1241.9 1211.7M1252.7 1204.5L1248.8 1206.3M1246.9 1204.6L1248.8 1206.3M1276.3 1217.5L1271.6 1221.3M1268.9 1212.6L1268.8 1215.9M1268.8 1215.9L1271.6 1221.3M1273.6 1224.5L1271.5 1222.6M1271.5 1222.6L1271.6 1221.3M1271.4 1233.6L1268.5 1232.0M1268.5 1232.0L1267.1 1224.5M1271.5 1222.6L1267.1 1224.5M1287.5 1197.2L1293.3 1198.4M1287.5 1197.2L1282.3 1201.3M1293.3 1198.4L1290.5 1204.5M1290.5 1204.5L1285.1 1205.7M1285.1 1205.7L1282.7 1203.7M1282.7 1203.7L1282.3 1201.3M1285.2 1191.7L1287.5 1197.2M1293.7 1198.1L1293.3 1198.4M1280.8 1199.7L1282.3 1201.3M1291.9 1206.1L1290.5 1204.5M1285.4 1212.2L1285.1 1205.7M1277.9 1206.6L1282.7 1203.7M1235.6 1140.3L1229.9 1153.6M1238.0 1151.9L1233.7 1155.3M1229.9 1153.6L1233.7 1155.3M1242.3 1154.4L1238.0 1151.9M1227.3 1154.4L1229.9 1153.6M1236.3 1160.6L1233.7 1155.3M1238.5 1172.8L1239.6 1171.9M1238.5 1172.8L1237.5 1178.9M1239.6 1171.9L1245.8 1173.9M1245.8 1173.9L1244.6 1179.1M1244.6 1179.1L1240.8 1180.9M1237.5 1178.9L1240.8 1180.9M1232.1 1171.7L1238.5 1172.8M1239.5 1165.4L1239.6 1171.9M1233.4 1179.5L1237.5 1178.9M1247.1 1172.9L1245.8 1173.9M1247.1 1180.8L1244.6 1179.1M1240.7 1182.9L1240.8 1180.9M1222.1 1243.2L1223.3 1238.8M1222.1 1243.2L1225.4 1246.0M1225.4 1246.0L1230.6 1242.6M1225.6 1236.8L1223.3 1238.8M1225.6 1236.8L1229.7 1237.9M1229.7 1237.9L1230.6 1242.6M1219.9 1243.6L1222.1 1243.2M1218.1 1236.1L1223.3 1238.8M1225.8 1249.4L1225.4 1246.0M1233.4 1244.1L1230.6 1242.6M1224.8 1233.6L1225.6 1236.8M1233.8 1234.4L1229.7 1237.9M1351.0 1192.8L1348.3 1186.9M1348.3 1186.9L1355.3 1183.7M1351.4 1174.5L1350.9 1178.9M1355.3 1183.7L1350.9 1178.9M1336.6 1165.5L1340.7 1168.2M1336.6 1165.5L1333.6 1167.9M1340.7 1168.2L1338.9 1173.9M1333.6 1167.9L1333.3 1170.9M1333.3 1170.9L1335.2 1174.0M1335.2 1174.0L1338.9 1173.9M1336.9 1160.7L1336.6 1165.5M1344.7 1167.1L1340.7 1168.2M1329.1 1165.2L1333.6 1167.9M1327.2 1171.9L1333.3 1170.9M1331.7 1179.9L1330.9 1180.3M1331.7 1179.9L1335.2 1174.0M1271.1 1258.9L1268.2 1258.3M1264.2 1264.1L1264.6 1259.8M1264.6 1259.8L1268.2 1258.3M1257.3 1259.8L1261.3 1256.5M1264.6 1259.8L1261.3 1256.5M1244.2 1215.9L1243.5 1213.0M1244.2 1215.9L1248.2 1218.6M1243.5 1213.0L1249.4 1209.6M1248.2 1218.6L1253.3 1217.1M1249.4 1209.6L1253.2 1212.2M1253.3 1217.1L1253.5 1213.2M1253.2 1212.2L1253.5 1213.2M1239.6 1219.9L1244.2 1215.9M1241.9 1211.7L1243.5 1213.0M1246.6 1224.3L1248.2 1218.6M1246.6 1224.3L1245.9 1225.3M1248.8 1206.3L1249.4 1209.6M1256.6 1207.5L1253.2 1212.2M1263.4 1210.8L1262.2 1212.2M1262.2 1212.2L1253.5 1213.2M1268.8 1215.9L1261.6 1219.9M1262.2 1212.2L1260.3 1218.7M1261.6 1219.9L1260.3 1218.7M1253.3 1217.1L1254.6 1218.3M1260.3 1218.7L1254.6 1218.3M1246.6 1224.3L1254.4 1225.0M1254.6 1218.3L1254.4 1225.0M1342.7 1186.6L1344.7 1185.6M1342.7 1186.6L1339.8 1184.0M1344.7 1185.6L1346.4 1180.9M1338.6 1182.0L1339.8 1184.0M1338.6 1182.0L1341.6 1176.0M1346.4 1180.9L1342.4 1176.0M1341.6 1176.0L1342.4 1176.0M1341.2 1190.8L1342.7 1186.6M1348.3 1186.9L1344.7 1185.6M1333.6 1187.1L1339.8 1184.0M1350.9 1178.9L1346.4 1180.9M1331.7 1179.9L1338.6 1182.0M1338.9 1173.9L1341.6 1176.0M1345.7 1173.4L1342.4 1176.0M1273.6 1251.7L1271.9 1250.0M1268.2 1258.3L1266.6 1252.9M1266.6 1252.9L1271.9 1250.0M1276.5 1244.1L1271.7 1248.9M1271.7 1248.9L1271.9 1250.0M1263.5 1224.3L1263.0 1223.8M1263.5 1224.3L1261.4 1229.7M1263.0 1223.8L1254.6 1225.2M1261.4 1229.7L1254.9 1231.1M1254.6 1225.2L1254.8 1231.0M1254.8 1231.0L1254.9 1231.1M1267.1 1224.5L1263.5 1224.3M1261.6 1219.9L1263.0 1223.8M1268.5 1232.0L1263.8 1232.5M1263.8 1232.5L1261.4 1229.7M1254.4 1225.0L1254.6 1225.2M1248.4 1231.1L1254.8 1231.0M1271.0 1238.4L1270.3 1238.9M1271.7 1248.9L1267.7 1244.2M1270.3 1238.9L1267.7 1244.2M1263.8 1232.5L1262.8 1236.5M1270.3 1238.9L1262.8 1236.5M1261.3 1256.5L1261.4 1253.8M1266.6 1252.9L1263.1 1252.6M1261.4 1253.8L1263.1 1252.6M1267.7 1244.2L1263.6 1244.7M1263.1 1252.6L1263.6 1244.7M1262.8 1236.5L1260.8 1238.2M1263.6 1244.7L1261.9 1243.9M1260.8 1238.2L1261.9 1243.9M1254.9 1231.1L1255.7 1236.2M1260.8 1238.2L1255.7 1236.2M1246.1 1237.8L1254.1 1238.2M1255.7 1236.2L1254.1 1238.2M1253.9 1242.6L1258.5 1245.2M1253.9 1242.6L1248.6 1246.0M1258.5 1245.2L1255.9 1251.1M1249.4 1250.3L1248.6 1246.0M1249.4 1250.3L1253.2 1251.8M1253.2 1251.8L1255.9 1251.1M1254.1 1238.2L1253.9 1242.6M1261.9 1243.9L1258.5 1245.2M1247.3 1244.7L1248.6 1246.0M1261.4 1253.8L1255.9 1251.1M1244.9 1254.0L1249.4 1250.3M1253.6 1256.2L1253.2 1251.8" stroke="#e8dcf4" stroke-width="1.3" opacity="0.25" fill="none" filter="url(#sb05)"/>
<g fill="#6a58b8" opacity="0.9" filter="url(#sb05)"><circle cx="1216.0" cy="1156.0" r="1.5"/><circle cx="1221.6" cy="1155.4" r="1.7"/><circle cx="1231.2" cy="1158.6" r="1.6"/><circle cx="1237.8" cy="1155.4" r="1.4"/><circle cx="1246.5" cy="1156.1" r="1.4"/><circle cx="1251.4" cy="1155.0" r="1.6"/><circle cx="1268.3" cy="1156.5" r="1.5"/><circle cx="1275.4" cy="1155.4" r="1.7"/><circle cx="1284.7" cy="1156.0" r="1.4"/><circle cx="1290.8" cy="1158.1" r="1.8"/><circle cx="1311.0" cy="1158.1" r="1.6"/><circle cx="1319.5" cy="1158.2" r="1.7"/><circle cx="1326.6" cy="1156.1" r="1.8"/><circle cx="1334.0" cy="1156.3" r="1.6"/><circle cx="1351.1" cy="1155.6" r="1.5"/><circle cx="1218.8" cy="1162.8" r="1.6"/><circle cx="1227.0" cy="1163.9" r="1.8"/><circle cx="1233.3" cy="1165.1" r="1.6"/><circle cx="1250.4" cy="1165.0" r="1.5"/><circle cx="1257.7" cy="1161.5" r="1.6"/><circle cx="1265.4" cy="1163.7" r="1.8"/><circle cx="1269.2" cy="1161.0" r="1.5"/><circle cx="1280.9" cy="1163.9" r="1.8"/><circle cx="1285.3" cy="1161.4" r="1.6"/><circle cx="1292.3" cy="1162.0" r="1.4"/><circle cx="1302.6" cy="1162.5" r="1.8"/><circle cx="1307.3" cy="1165.0" r="1.6"/><circle cx="1325.7" cy="1163.6" r="1.7"/><circle cx="1332.7" cy="1163.9" r="1.8"/><circle cx="1340.7" cy="1164.4" r="1.5"/><circle cx="1347.9" cy="1161.8" r="1.4"/><circle cx="1216.2" cy="1169.4" r="1.6"/><circle cx="1224.4" cy="1169.9" r="1.4"/><circle cx="1229.1" cy="1168.5" r="1.6"/><circle cx="1236.0" cy="1169.6" r="1.8"/><circle cx="1243.2" cy="1169.5" r="1.3"/><circle cx="1251.0" cy="1169.6" r="1.7"/><circle cx="1260.1" cy="1169.9" r="1.7"/><circle cx="1276.7" cy="1169.5" r="1.8"/><circle cx="1282.9" cy="1170.4" r="1.7"/><circle cx="1291.7" cy="1169.1" r="1.6"/><circle cx="1297.3" cy="1171.7" r="1.4"/><circle cx="1303.2" cy="1170.3" r="1.6"/><circle cx="1313.3" cy="1167.6" r="1.6"/><circle cx="1320.6" cy="1170.5" r="1.3"/><circle cx="1329.6" cy="1168.9" r="1.7"/><circle cx="1348.1" cy="1170.7" r="1.6"/><circle cx="1220.5" cy="1175.6" r="1.6"/><circle cx="1226.3" cy="1176.3" r="1.3"/><circle cx="1241.1" cy="1175.9" r="1.5"/><circle cx="1249.1" cy="1177.7" r="1.5"/><circle cx="1255.5" cy="1177.7" r="1.4"/><circle cx="1270.4" cy="1176.2" r="1.6"/><circle cx="1281.0" cy="1176.9" r="1.5"/><circle cx="1287.7" cy="1175.4" r="1.3"/><circle cx="1293.1" cy="1175.3" r="1.6"/><circle cx="1301.8" cy="1176.8" r="1.5"/><circle cx="1310.2" cy="1174.1" r="1.4"/><circle cx="1324.1" cy="1174.2" r="1.8"/><circle cx="1330.5" cy="1174.0" r="1.8"/><circle cx="1337.5" cy="1178.1" r="1.5"/><circle cx="1346.9" cy="1176.9" r="1.8"/><circle cx="1223.2" cy="1183.6" r="1.8"/><circle cx="1230.6" cy="1183.5" r="1.5"/><circle cx="1236.4" cy="1183.5" r="1.4"/><circle cx="1245.0" cy="1183.9" r="1.8"/><circle cx="1250.9" cy="1181.3" r="1.7"/><circle cx="1258.1" cy="1184.0" r="1.4"/><circle cx="1269.5" cy="1183.4" r="1.4"/><circle cx="1274.6" cy="1184.2" r="1.4"/><circle cx="1283.9" cy="1183.0" r="1.3"/><circle cx="1289.1" cy="1181.8" r="1.5"/><circle cx="1297.3" cy="1181.9" r="1.3"/><circle cx="1304.8" cy="1183.4" r="1.7"/><circle cx="1314.6" cy="1180.7" r="1.4"/><circle cx="1320.5" cy="1180.7" r="1.4"/><circle cx="1325.9" cy="1184.1" r="1.3"/><circle cx="1335.5" cy="1184.6" r="1.5"/><circle cx="1342.4" cy="1180.5" r="1.7"/><circle cx="1218.8" cy="1188.9" r="1.7"/><circle cx="1224.6" cy="1189.9" r="1.5"/><circle cx="1232.6" cy="1187.7" r="1.7"/><circle cx="1239.2" cy="1187.0" r="1.5"/><circle cx="1249.7" cy="1187.5" r="1.5"/><circle cx="1258.5" cy="1187.4" r="1.4"/><circle cx="1265.6" cy="1187.6" r="1.6"/><circle cx="1269.2" cy="1190.2" r="1.5"/><circle cx="1277.7" cy="1190.3" r="1.7"/><circle cx="1285.0" cy="1187.2" r="1.8"/><circle cx="1295.1" cy="1190.2" r="1.5"/><circle cx="1303.0" cy="1190.3" r="1.6"/><circle cx="1307.0" cy="1189.8" r="1.8"/><circle cx="1317.3" cy="1189.1" r="1.6"/><circle cx="1325.8" cy="1188.1" r="1.4"/><circle cx="1333.5" cy="1190.2" r="1.5"/><circle cx="1336.7" cy="1187.1" r="1.6"/><circle cx="1347.1" cy="1190.7" r="1.5"/><circle cx="1216.2" cy="1194.3" r="1.8"/><circle cx="1224.3" cy="1195.7" r="1.7"/><circle cx="1238.0" cy="1195.5" r="1.5"/><circle cx="1245.9" cy="1194.2" r="1.4"/><circle cx="1260.8" cy="1196.4" r="1.4"/><circle cx="1267.3" cy="1195.3" r="1.7"/><circle cx="1276.4" cy="1197.8" r="1.5"/><circle cx="1283.9" cy="1196.1" r="1.7"/><circle cx="1289.2" cy="1193.8" r="1.8"/><circle cx="1299.8" cy="1196.7" r="1.4"/><circle cx="1313.1" cy="1197.9" r="1.7"/><circle cx="1321.6" cy="1196.2" r="1.5"/><circle cx="1326.8" cy="1195.5" r="1.7"/><circle cx="1336.9" cy="1195.2" r="1.8"/><circle cx="1343.5" cy="1196.2" r="1.6"/><circle cx="1351.9" cy="1197.2" r="1.3"/><circle cx="1217.8" cy="1202.0" r="1.7"/><circle cx="1226.8" cy="1203.7" r="1.3"/><circle cx="1242.9" cy="1203.7" r="1.4"/><circle cx="1250.6" cy="1202.6" r="1.5"/><circle cx="1265.3" cy="1203.1" r="1.6"/><circle cx="1273.3" cy="1201.6" r="1.8"/><circle cx="1277.0" cy="1202.5" r="1.7"/><circle cx="1287.7" cy="1201.0" r="1.5"/><circle cx="1295.0" cy="1204.2" r="1.5"/><circle cx="1309.7" cy="1202.1" r="1.7"/><circle cx="1315.1" cy="1201.2" r="1.3"/><circle cx="1325.0" cy="1203.6" r="1.6"/><circle cx="1340.3" cy="1203.5" r="1.3"/><circle cx="1345.2" cy="1202.7" r="1.4"/><circle cx="1223.1" cy="1207.4" r="1.7"/><circle cx="1238.6" cy="1208.2" r="1.5"/><circle cx="1245.4" cy="1208.4" r="1.7"/><circle cx="1252.7" cy="1207.2" r="1.3"/><circle cx="1258.1" cy="1211.1" r="1.5"/><circle cx="1267.1" cy="1207.1" r="1.7"/><circle cx="1275.7" cy="1210.1" r="1.7"/><circle cx="1281.1" cy="1209.3" r="1.5"/><circle cx="1295.5" cy="1206.7" r="1.5"/><circle cx="1307.4" cy="1210.5" r="1.8"/><circle cx="1312.6" cy="1209.1" r="1.7"/><circle cx="1327.3" cy="1210.8" r="1.7"/><circle cx="1336.4" cy="1210.3" r="1.6"/><circle cx="1344.7" cy="1207.7" r="1.6"/><circle cx="1348.1" cy="1207.5" r="1.4"/><circle cx="1228.1" cy="1215.2" r="1.5"/><circle cx="1235.9" cy="1217.2" r="1.5"/><circle cx="1239.4" cy="1215.8" r="1.7"/><circle cx="1248.4" cy="1213.6" r="1.4"/><circle cx="1258.5" cy="1214.3" r="1.6"/><circle cx="1264.2" cy="1216.0" r="1.8"/><circle cx="1273.5" cy="1216.1" r="1.4"/><circle cx="1278.4" cy="1215.1" r="1.4"/><circle cx="1284.9" cy="1217.4" r="1.5"/><circle cx="1296.1" cy="1214.1" r="1.6"/><circle cx="1299.3" cy="1214.3" r="1.4"/><circle cx="1308.2" cy="1217.2" r="1.6"/><circle cx="1318.2" cy="1216.9" r="1.7"/><circle cx="1321.9" cy="1216.6" r="1.3"/><circle cx="1332.3" cy="1216.0" r="1.5"/><circle cx="1341.1" cy="1213.4" r="1.3"/><circle cx="1344.8" cy="1216.5" r="1.4"/><circle cx="1223.8" cy="1220.1" r="1.5"/><circle cx="1236.0" cy="1221.8" r="1.5"/><circle cx="1243.7" cy="1220.7" r="1.4"/><circle cx="1266.3" cy="1219.8" r="1.7"/><circle cx="1284.6" cy="1223.5" r="1.8"/><circle cx="1291.9" cy="1220.3" r="1.3"/><circle cx="1297.4" cy="1220.1" r="1.5"/><circle cx="1307.1" cy="1223.4" r="1.6"/><circle cx="1319.4" cy="1223.3" r="1.6"/><circle cx="1327.5" cy="1222.5" r="1.8"/><circle cx="1333.5" cy="1220.6" r="1.4"/><circle cx="1340.7" cy="1222.8" r="1.4"/><circle cx="1218.5" cy="1226.9" r="1.8"/><circle cx="1225.4" cy="1229.9" r="1.4"/><circle cx="1233.2" cy="1226.9" r="1.8"/><circle cx="1241.4" cy="1227.6" r="1.4"/><circle cx="1250.7" cy="1226.7" r="1.7"/><circle cx="1258.6" cy="1226.4" r="1.5"/><circle cx="1265.7" cy="1229.2" r="1.7"/><circle cx="1270.1" cy="1228.3" r="1.5"/><circle cx="1277.9" cy="1227.3" r="1.5"/><circle cx="1285.1" cy="1227.8" r="1.4"/><circle cx="1303.3" cy="1226.6" r="1.6"/><circle cx="1308.0" cy="1230.2" r="1.7"/><circle cx="1314.4" cy="1229.4" r="1.8"/><circle cx="1323.0" cy="1230.6" r="1.6"/><circle cx="1329.2" cy="1229.8" r="1.4"/><circle cx="1338.2" cy="1226.8" r="1.3"/><circle cx="1344.2" cy="1229.9" r="1.4"/><circle cx="1221.4" cy="1235.2" r="1.8"/><circle cx="1243.8" cy="1233.0" r="1.4"/><circle cx="1250.8" cy="1235.4" r="1.3"/><circle cx="1260.1" cy="1233.9" r="1.8"/><circle cx="1266.3" cy="1235.4" r="1.5"/><circle cx="1276.1" cy="1236.3" r="1.7"/><circle cx="1283.0" cy="1233.6" r="1.5"/><circle cx="1288.2" cy="1236.0" r="1.5"/><circle cx="1297.2" cy="1235.9" r="1.7"/><circle cx="1303.1" cy="1236.3" r="1.4"/><circle cx="1311.9" cy="1236.5" r="1.5"/><circle cx="1321.8" cy="1234.9" r="1.5"/><circle cx="1325.5" cy="1236.8" r="1.3"/><circle cx="1335.0" cy="1236.6" r="1.5"/><circle cx="1341.6" cy="1233.5" r="1.8"/><circle cx="1351.6" cy="1234.3" r="1.8"/><circle cx="1219.3" cy="1239.2" r="1.6"/><circle cx="1226.5" cy="1241.2" r="1.3"/><circle cx="1234.0" cy="1239.7" r="1.6"/><circle cx="1242.4" cy="1242.9" r="1.6"/><circle cx="1250.5" cy="1240.6" r="1.5"/><circle cx="1257.4" cy="1240.9" r="1.4"/><circle cx="1265.0" cy="1239.5" r="1.8"/><circle cx="1278.9" cy="1241.5" r="1.7"/><circle cx="1286.5" cy="1241.6" r="1.3"/><circle cx="1291.7" cy="1243.6" r="1.5"/><circle cx="1300.2" cy="1240.0" r="1.5"/><circle cx="1307.1" cy="1240.3" r="1.6"/><circle cx="1317.8" cy="1239.3" r="1.3"/><circle cx="1322.1" cy="1242.3" r="1.8"/><circle cx="1330.0" cy="1239.3" r="1.3"/><circle cx="1339.3" cy="1241.8" r="1.4"/><circle cx="1352.1" cy="1243.1" r="1.4"/><circle cx="1216.1" cy="1245.9" r="1.6"/><circle cx="1221.0" cy="1247.9" r="1.6"/><circle cx="1235.9" cy="1247.6" r="1.6"/><circle cx="1254.3" cy="1246.4" r="1.3"/><circle cx="1260.5" cy="1249.1" r="1.8"/><circle cx="1266.1" cy="1249.4" r="1.7"/><circle cx="1277.1" cy="1247.5" r="1.3"/><circle cx="1282.3" cy="1249.5" r="1.7"/><circle cx="1299.6" cy="1249.2" r="1.5"/><circle cx="1304.4" cy="1246.8" r="1.8"/><circle cx="1311.9" cy="1247.7" r="1.7"/><circle cx="1322.3" cy="1249.3" r="1.7"/><circle cx="1336.7" cy="1246.0" r="1.5"/><circle cx="1352.1" cy="1246.8" r="1.4"/><circle cx="1218.3" cy="1254.6" r="1.7"/><circle cx="1224.5" cy="1254.2" r="1.8"/><circle cx="1233.9" cy="1252.3" r="1.8"/><circle cx="1239.8" cy="1256.6" r="1.8"/><circle cx="1250.1" cy="1256.5" r="1.4"/><circle cx="1257.0" cy="1255.9" r="1.5"/><circle cx="1265.6" cy="1256.2" r="1.7"/><circle cx="1269.3" cy="1255.1" r="1.3"/><circle cx="1277.8" cy="1255.3" r="1.7"/><circle cx="1285.4" cy="1254.7" r="1.7"/><circle cx="1300.3" cy="1254.6" r="1.3"/><circle cx="1308.6" cy="1256.5" r="1.7"/><circle cx="1324.6" cy="1252.8" r="1.7"/><circle cx="1331.8" cy="1256.6" r="1.4"/><circle cx="1339.0" cy="1253.5" r="1.7"/><circle cx="1346.2" cy="1254.7" r="1.3"/><circle cx="1229.0" cy="1259.2" r="1.4"/><circle cx="1237.9" cy="1262.6" r="1.4"/><circle cx="1245.6" cy="1261.3" r="1.5"/><circle cx="1253.3" cy="1259.7" r="1.8"/><circle cx="1261.1" cy="1260.8" r="1.7"/><circle cx="1267.9" cy="1261.5" r="1.8"/><circle cx="1281.5" cy="1259.8" r="1.4"/><circle cx="1290.2" cy="1260.5" r="1.8"/><circle cx="1298.0" cy="1258.8" r="1.3"/><circle cx="1304.5" cy="1262.7" r="1.7"/><circle cx="1311.5" cy="1261.3" r="1.5"/><circle cx="1320.1" cy="1260.1" r="1.4"/><circle cx="1329.8" cy="1260.1" r="1.5"/><circle cx="1336.4" cy="1259.5" r="1.6"/><circle cx="1349.9" cy="1259.1" r="1.4"/><circle cx="1220.0" cy="1265.8" r="1.6"/><circle cx="1240.7" cy="1266.9" r="1.5"/></g>
<g fill="#3c3494" opacity="0.85"><ellipse cx="1280.1" cy="1218.9" rx="1.1" ry="0.8"/><ellipse cx="1219.7" cy="1219.2" rx="1.0" ry="0.6"/><ellipse cx="1279.0" cy="1262.5" rx="0.8" ry="0.7"/><ellipse cx="1306.7" cy="1186.6" rx="1.0" ry="0.9"/><ellipse cx="1253.2" cy="1218.1" rx="1.2" ry="1.1"/><ellipse cx="1348.8" cy="1161.2" rx="1.2" ry="1.0"/><ellipse cx="1333.1" cy="1239.9" rx="1.2" ry="0.9"/><ellipse cx="1266.4" cy="1187.5" rx="1.4" ry="1.0"/><ellipse cx="1341.8" cy="1230.0" rx="1.0" ry="1.0"/><ellipse cx="1315.7" cy="1211.7" rx="1.2" ry="0.8"/><ellipse cx="1291.0" cy="1200.8" rx="0.8" ry="0.8"/><ellipse cx="1261.2" cy="1262.7" rx="1.1" ry="0.8"/><ellipse cx="1250.8" cy="1182.6" rx="1.0" ry="0.7"/><ellipse cx="1219.8" cy="1250.2" rx="1.1" ry="0.8"/><ellipse cx="1293.3" cy="1189.7" rx="0.9" ry="0.6"/><ellipse cx="1258.4" cy="1190.4" rx="1.3" ry="0.9"/><ellipse cx="1341.6" cy="1193.8" rx="1.4" ry="0.9"/><ellipse cx="1229.4" cy="1176.6" rx="1.2" ry="1.1"/><ellipse cx="1265.6" cy="1239.9" rx="1.1" ry="1.0"/><ellipse cx="1227.8" cy="1209.1" rx="1.4" ry="0.7"/><ellipse cx="1252.6" cy="1160.1" rx="0.9" ry="0.7"/><ellipse cx="1311.1" cy="1180.8" rx="1.1" ry="0.7"/><ellipse cx="1297.8" cy="1249.5" rx="1.3" ry="0.7"/><ellipse cx="1315.0" cy="1260.0" rx="1.2" ry="0.6"/><ellipse cx="1324.9" cy="1250.7" rx="1.0" ry="0.7"/><ellipse cx="1243.5" cy="1214.7" rx="1.4" ry="0.9"/><ellipse cx="1339.7" cy="1180.2" rx="1.0" ry="1.0"/><ellipse cx="1303.8" cy="1200.7" rx="1.3" ry="0.8"/><ellipse cx="1226.4" cy="1201.6" rx="0.8" ry="0.9"/><ellipse cx="1262.7" cy="1210.2" rx="1.2" ry="0.7"/><ellipse cx="1279.6" cy="1159.0" rx="1.4" ry="0.9"/><ellipse cx="1348.2" cy="1163.6" rx="1.2" ry="1.0"/><ellipse cx="1262.0" cy="1167.5" rx="0.9" ry="0.7"/><ellipse cx="1319.3" cy="1167.2" rx="1.4" ry="0.8"/><ellipse cx="1289.4" cy="1220.2" rx="1.2" ry="0.9"/><ellipse cx="1297.6" cy="1192.8" rx="1.3" ry="0.7"/><ellipse cx="1312.0" cy="1238.7" rx="1.3" ry="0.8"/><ellipse cx="1320.0" cy="1261.5" rx="1.1" ry="0.7"/><ellipse cx="1287.4" cy="1257.6" rx="0.9" ry="0.6"/><ellipse cx="1281.2" cy="1227.3" rx="1.3" ry="0.8"/><ellipse cx="1348.4" cy="1181.9" rx="1.3" ry="0.6"/><ellipse cx="1222.6" cy="1171.9" rx="0.8" ry="0.9"/><ellipse cx="1291.6" cy="1176.9" rx="1.5" ry="0.8"/><ellipse cx="1238.4" cy="1176.5" rx="1.3" ry="1.1"/><ellipse cx="1240.1" cy="1160.7" rx="1.3" ry="0.7"/><ellipse cx="1347.5" cy="1210.6" rx="1.2" ry="0.8"/><ellipse cx="1323.7" cy="1206.5" rx="1.0" ry="1.1"/><ellipse cx="1233.0" cy="1235.6" rx="0.8" ry="0.9"/><ellipse cx="1271.5" cy="1249.4" rx="0.8" ry="0.9"/><ellipse cx="1272.6" cy="1255.3" rx="1.5" ry="0.9"/><ellipse cx="1248.2" cy="1184.4" rx="1.0" ry="0.8"/><ellipse cx="1249.2" cy="1179.2" rx="1.3" ry="0.9"/><ellipse cx="1258.0" cy="1263.3" rx="1.0" ry="0.9"/><ellipse cx="1239.4" cy="1249.3" rx="1.4" ry="0.7"/><ellipse cx="1317.3" cy="1245.1" rx="1.0" ry="0.8"/><ellipse cx="1282.5" cy="1252.3" rx="0.9" ry="0.9"/><ellipse cx="1297.1" cy="1205.8" rx="1.2" ry="1.0"/><ellipse cx="1246.4" cy="1251.5" rx="1.1" ry="1.0"/><ellipse cx="1331.9" cy="1177.0" rx="1.4" ry="1.1"/><ellipse cx="1257.9" cy="1160.2" rx="0.9" ry="1.1"/><ellipse cx="1220.1" cy="1254.5" rx="0.9" ry="1.0"/><ellipse cx="1231.7" cy="1175.5" rx="1.3" ry="0.6"/><ellipse cx="1263.3" cy="1255.2" rx="1.3" ry="1.0"/><ellipse cx="1347.1" cy="1161.1" rx="1.0" ry="1.0"/><ellipse cx="1309.2" cy="1161.6" rx="1.2" ry="0.7"/><ellipse cx="1275.3" cy="1168.7" rx="0.8" ry="1.1"/><ellipse cx="1260.3" cy="1251.0" rx="0.9" ry="0.8"/><ellipse cx="1236.7" cy="1203.1" rx="0.9" ry="0.9"/><ellipse cx="1238.3" cy="1236.1" rx="1.2" ry="0.7"/><ellipse cx="1265.2" cy="1210.4" rx="1.4" ry="0.8"/><ellipse cx="1247.1" cy="1260.4" rx="1.4" ry="1.0"/><ellipse cx="1254.6" cy="1176.4" rx="1.0" ry="0.6"/><ellipse cx="1224.6" cy="1211.7" rx="1.1" ry="0.9"/><ellipse cx="1266.4" cy="1158.7" rx="1.3" ry="0.9"/><ellipse cx="1290.1" cy="1215.9" rx="1.3" ry="1.1"/><ellipse cx="1333.3" cy="1233.9" rx="1.1" ry="0.8"/><ellipse cx="1273.8" cy="1261.0" rx="1.1" ry="0.8"/><ellipse cx="1272.6" cy="1172.8" rx="1.5" ry="0.6"/><ellipse cx="1298.5" cy="1256.1" rx="1.0" ry="0.9"/><ellipse cx="1268.2" cy="1183.2" rx="0.9" ry="0.7"/><ellipse cx="1329.3" cy="1240.9" rx="1.4" ry="0.6"/><ellipse cx="1309.8" cy="1192.1" rx="1.3" ry="0.9"/><ellipse cx="1260.2" cy="1260.9" rx="0.8" ry="1.0"/><ellipse cx="1330.6" cy="1211.8" rx="1.2" ry="1.1"/><ellipse cx="1249.6" cy="1224.5" rx="1.3" ry="0.8"/><ellipse cx="1312.1" cy="1199.4" rx="1.2" ry="0.9"/><ellipse cx="1307.5" cy="1191.8" rx="1.2" ry="0.9"/><ellipse cx="1248.1" cy="1222.7" rx="1.0" ry="1.1"/><ellipse cx="1280.9" cy="1234.3" rx="1.2" ry="0.8"/><ellipse cx="1247.9" cy="1172.7" rx="1.4" ry="0.9"/></g>
<g fill="#fcfafd"><circle cx="1287.5" cy="1213.7" r="4.0"/><circle cx="1250.1" cy="1175.9" r="4.0"/><circle cx="1279.2" cy="1225.7" r="4.0"/><circle cx="1335.9" cy="1249.8" r="1.3"/><circle cx="1268.8" cy="1246.1" r="4.0"/><circle cx="1235.0" cy="1174.0" r="2.1"/><circle cx="1232.4" cy="1195.5" r="3.9"/><circle cx="1287.1" cy="1205.7" r="1.5"/><circle cx="1270.7" cy="1263.6" r="3.6"/><circle cx="1277.7" cy="1208.4" r="3.9"/><circle cx="1318.2" cy="1173.5" r="3.5"/><circle cx="1266.9" cy="1212.9" r="2.0"/><circle cx="1267.4" cy="1193.8" r="2.5"/><circle cx="1221.2" cy="1179.0" r="3.1"/><circle cx="1226.5" cy="1176.6" r="3.6"/><circle cx="1254.8" cy="1192.0" r="2.0"/><circle cx="1328.1" cy="1167.3" r="3.4"/><circle cx="1331.3" cy="1179.0" r="2.6"/><circle cx="1322.6" cy="1223.3" r="2.5"/><circle cx="1224.6" cy="1204.6" r="2.4"/><circle cx="1312.2" cy="1189.0" r="2.6"/><circle cx="1303.7" cy="1243.8" r="2.4"/><circle cx="1269.3" cy="1219.1" r="4.3"/><circle cx="1244.0" cy="1260.9" r="3.6"/><circle cx="1267.6" cy="1228.4" r="2.3"/><circle cx="1228.2" cy="1238.0" r="2.5"/><circle cx="1287.7" cy="1210.4" r="4.3"/><circle cx="1318.0" cy="1160.3" r="3.2"/><circle cx="1279.4" cy="1206.7" r="4.1"/><circle cx="1273.2" cy="1207.9" r="4.2"/><circle cx="1276.5" cy="1209.8" r="2.9"/><circle cx="1326.8" cy="1228.9" r="3.7"/><circle cx="1271.5" cy="1161.9" r="3.5"/><circle cx="1291.4" cy="1239.4" r="3.8"/><circle cx="1234.4" cy="1181.1" r="1.5"/><circle cx="1325.9" cy="1168.4" r="1.5"/><circle cx="1317.5" cy="1217.6" r="1.4"/><circle cx="1308.0" cy="1233.2" r="2.8"/><circle cx="1226.1" cy="1231.1" r="2.6"/><circle cx="1295.3" cy="1263.7" r="4.0"/><circle cx="1333.0" cy="1173.1" r="2.3"/><circle cx="1286.7" cy="1158.2" r="4.6"/><circle cx="1254.9" cy="1185.5" r="2.3"/><circle cx="1252.3" cy="1248.9" r="3.1"/><circle cx="1285.8" cy="1202.3" r="1.4"/><circle cx="1258.8" cy="1249.7" r="3.9"/><circle cx="1331.0" cy="1184.9" r="1.9"/><circle cx="1225.7" cy="1214.7" r="2.5"/><circle cx="1279.7" cy="1209.6" r="3.2"/><circle cx="1266.8" cy="1242.8" r="1.9"/><circle cx="1339.2" cy="1216.7" r="1.4"/><circle cx="1260.0" cy="1214.3" r="2.6"/><circle cx="1292.8" cy="1192.0" r="2.1"/><circle cx="1323.1" cy="1188.6" r="3.6"/><circle cx="1323.9" cy="1220.5" r="2.7"/><circle cx="1341.3" cy="1204.9" r="4.2"/><circle cx="1226.5" cy="1203.7" r="3.4"/><circle cx="1225.3" cy="1249.3" r="1.4"/><circle cx="1297.0" cy="1176.8" r="4.3"/><circle cx="1292.3" cy="1242.7" r="2.9"/></g>
<circle cx="1309" cy="1180" r="5.5" fill="#fcfafd"/><circle cx="1270" cy="1191" r="4" fill="#fcfafd"/><circle cx="1250" cy="1246" r="4.5" fill="#fcfafd"/><circle cx="1296" cy="1224" r="4" fill="#fcfafd"/>
<g fill="#f2eee0" opacity="0.8"><circle cx="1307.1" cy="1229.3" r="0.8"/><circle cx="1246.5" cy="1246.7" r="0.7"/><circle cx="1339.0" cy="1179.6" r="0.7"/><circle cx="1231.4" cy="1241.0" r="1.2"/><circle cx="1273.2" cy="1227.6" r="0.8"/><circle cx="1337.5" cy="1230.5" r="0.7"/><circle cx="1226.3" cy="1231.6" r="0.6"/><circle cx="1328.3" cy="1188.8" r="0.7"/><circle cx="1295.1" cy="1191.5" r="0.9"/><circle cx="1239.1" cy="1254.5" r="0.8"/><circle cx="1329.0" cy="1173.7" r="1.1"/><circle cx="1347.2" cy="1199.2" r="0.6"/><circle cx="1268.6" cy="1225.7" r="0.7"/><circle cx="1290.3" cy="1167.5" r="0.9"/><circle cx="1314.2" cy="1203.3" r="1.0"/><circle cx="1233.9" cy="1245.7" r="0.7"/><circle cx="1339.8" cy="1263.5" r="1.2"/><circle cx="1287.8" cy="1188.5" r="0.8"/><circle cx="1317.1" cy="1210.4" r="1.2"/><circle cx="1231.1" cy="1209.1" r="1.1"/><circle cx="1297.1" cy="1215.1" r="0.7"/><circle cx="1237.2" cy="1186.4" r="1.1"/><circle cx="1329.6" cy="1181.7" r="1.2"/><circle cx="1223.1" cy="1221.3" r="1.2"/><circle cx="1264.0" cy="1258.0" r="1.0"/><circle cx="1225.5" cy="1193.0" r="0.9"/><circle cx="1251.3" cy="1236.5" r="0.7"/><circle cx="1322.0" cy="1189.3" r="0.6"/><circle cx="1292.1" cy="1167.8" r="0.9"/><circle cx="1322.0" cy="1220.9" r="0.9"/><circle cx="1223.3" cy="1212.2" r="0.7"/><circle cx="1303.6" cy="1171.6" r="0.9"/><circle cx="1265.1" cy="1197.4" r="1.0"/><circle cx="1240.4" cy="1175.6" r="1.2"/><circle cx="1262.3" cy="1247.1" r="1.1"/><circle cx="1281.8" cy="1173.4" r="0.7"/><circle cx="1334.0" cy="1170.0" r="0.9"/><circle cx="1289.1" cy="1170.1" r="0.9"/><circle cx="1240.4" cy="1214.5" r="0.9"/><circle cx="1266.9" cy="1178.6" r="0.8"/></g>
</g>
<rect x="1218.1" y="1156.8" width="132.5" height="107.9" fill="none" stroke="#1a1a1a" stroke-width="1.6"/>
<clipPath id="c40_2"><rect x="1357.6" y="1157.6" width="130.6" height="106.3"/></clipPath>
<g clip-path="url(#c40_2)">
<rect x="1357.6" y="1157.6" width="130.6" height="106.3" fill="#c6a0d8"/>
<path d="M1358.2 1266.1L1355.1 1263.5M1483.1 1152.2L1478.4 1156.1M1478.4 1156.1L1474.0 1151.0M1499.7 1157.5L1490.8 1160.6M1499.7 1157.5L1491.0 1150.6M1490.8 1160.6L1488.1 1158.3M1488.1 1158.3L1486.3 1153.4M1491.0 1150.6L1486.3 1153.4M1499.5 1173.0L1488.5 1166.6M1488.5 1166.6L1490.8 1160.6M1483.1 1152.2L1486.3 1153.4M1493.7 1185.5L1490.1 1188.2M1495.1 1197.5L1489.5 1192.4M1490.1 1188.2L1489.5 1192.4M1491.3 1176.1L1485.2 1173.0M1491.3 1176.1L1489.7 1179.8M1489.7 1179.8L1484.2 1180.8M1485.2 1173.0L1482.5 1176.9M1482.5 1176.9L1482.8 1180.0M1482.8 1180.0L1484.2 1180.8M1499.5 1173.0L1491.3 1176.1M1493.7 1185.5L1489.7 1179.8M1490.1 1188.2L1486.5 1186.2M1486.5 1186.2L1484.2 1180.8M1476.3 1174.2L1474.6 1174.5M1476.3 1174.2L1482.5 1176.9M1474.6 1174.5L1473.3 1181.3M1473.3 1181.3L1477.5 1183.7M1477.5 1183.7L1482.8 1180.0M1481.2 1276.5L1476.6 1265.7M1481.2 1276.5L1484.3 1266.2M1476.6 1265.7L1482.3 1264.3M1484.3 1266.2L1482.3 1264.3M1469.9 1170.9L1474.6 1174.5M1469.9 1170.9L1465.2 1174.7M1473.3 1181.3L1471.0 1181.9M1471.0 1181.9L1466.0 1180.0M1465.2 1174.7L1466.0 1180.0M1363.9 1266.0L1358.2 1266.1M1363.9 1266.0L1379.0 1408.5M1430.2 1157.6L1423.7 1160.9M1430.2 1157.6L1431.0 1153.8M1431.0 1153.8L1426.9 1151.0M1426.9 1151.0L1421.8 1153.5M1423.7 1160.9L1421.8 1153.5M1434.2 1152.7L1442.7 1075.6M1434.2 1152.7L1438.2 1153.9M1441.1 1152.4L1438.2 1153.9M1441.1 1152.4L1445.5 1154.6M1445.5 1154.6L1451.7 1152.5M1495.1 1197.5L1488.5 1202.0M1488.5 1202.0L1490.9 1207.7M1513.3 1211.2L1490.9 1207.7M1475.3 1165.4L1475.7 1160.4M1475.3 1165.4L1479.3 1168.8M1479.3 1168.8L1485.2 1168.3M1480.7 1160.7L1485.5 1168.0M1480.7 1160.7L1477.7 1159.1M1485.2 1168.3L1485.5 1168.0M1477.7 1159.1L1475.7 1160.4M1469.9 1170.9L1469.9 1170.2M1476.3 1174.2L1479.3 1168.8M1469.9 1170.2L1475.3 1165.4M1485.2 1173.0L1485.2 1168.3M1488.5 1166.6L1485.5 1168.0M1488.1 1158.3L1480.7 1160.7M1478.4 1156.1L1477.7 1159.1M1467.0 1151.9L1469.1 1159.1M1469.1 1159.1L1475.7 1160.4M1488.5 1202.0L1487.3 1201.7M1489.5 1192.4L1485.0 1194.7M1485.0 1194.7L1487.3 1201.7M1481.3 1208.2L1485.4 1211.4M1481.3 1208.2L1481.1 1204.5M1485.4 1211.4L1490.9 1207.7M1487.3 1201.7L1481.1 1204.5M1473.8 1191.3L1478.0 1187.6M1473.8 1191.3L1473.8 1193.5M1473.8 1193.5L1479.6 1197.2M1478.0 1187.6L1480.5 1189.0M1480.5 1189.0L1483.0 1194.5M1479.6 1197.2L1483.0 1194.5M1477.5 1183.7L1478.0 1187.6M1471.0 1181.9L1469.4 1188.8M1469.4 1188.8L1473.8 1191.3M1486.5 1186.2L1480.5 1189.0M1485.0 1194.7L1483.0 1194.5M1481.1 1204.5L1478.7 1201.7M1478.7 1201.7L1479.6 1197.2M1481.3 1208.2L1476.3 1211.1M1478.7 1201.7L1472.4 1202.4M1476.3 1211.1L1473.5 1209.7M1473.5 1209.7L1472.4 1202.4M1470.4 1197.4L1471.1 1201.7M1470.4 1197.4L1473.8 1193.5M1472.4 1202.4L1471.1 1201.7M1470.4 1197.4L1464.8 1194.6M1469.4 1188.8L1464.7 1190.2M1464.8 1194.6L1464.7 1190.2M1356.7 1182.7L1354.4 1180.6M1356.7 1182.7L1357.0 1185.5M1354.1 1190.2L1357.0 1185.5M1354.1 1190.2L1334.9 1186.0M1354.4 1180.6L1334.9 1186.0M1347.1 1199.1L1355.1 1194.0M1354.1 1190.2L1355.1 1194.0M1361.9 1188.3L1361.0 1193.9M1361.9 1188.3L1365.6 1187.6M1365.6 1187.6L1369.8 1191.5M1361.0 1193.9L1367.7 1195.1M1369.8 1191.5L1370.1 1193.8M1367.7 1195.1L1370.1 1193.8M1357.0 1185.5L1361.9 1188.3M1355.1 1194.0L1357.8 1195.7M1357.8 1195.7L1361.0 1193.9M1374.3 1201.7L1370.4 1204.8M1374.3 1201.7L1372.0 1194.9M1370.4 1204.8L1364.7 1201.2M1364.7 1201.2L1367.7 1195.1M1372.0 1194.9L1370.1 1193.8M1356.7 1182.7L1364.4 1179.8M1365.6 1187.6L1366.5 1181.1M1364.4 1179.8L1366.5 1181.1M1489.9 1261.2L1485.4 1257.2M1489.9 1261.2L1502.2 1252.9M1485.4 1257.2L1486.3 1251.8M1486.3 1251.8L1490.3 1250.0M1502.2 1252.9L1490.3 1250.0M1489.8 1264.1L1489.9 1261.2M1489.8 1264.1L1484.3 1266.2M1482.3 1264.3L1481.6 1259.0M1481.6 1259.0L1485.4 1257.2M1477.8 1250.0L1477.0 1258.1M1477.8 1250.0L1480.4 1248.6M1477.0 1258.1L1481.6 1259.0M1480.4 1248.6L1486.3 1251.8M1500.7 1239.9L1489.3 1244.4M1489.3 1244.4L1490.3 1250.0M1480.4 1248.6L1480.9 1243.5M1489.3 1244.4L1485.7 1239.6M1485.7 1239.6L1480.9 1243.5M1474.5 1249.3L1477.8 1250.0M1474.5 1249.3L1471.3 1244.4M1471.3 1244.4L1478.1 1241.9M1480.9 1243.5L1478.1 1241.9M1441.8 1218.0L1436.6 1216.4M1441.8 1218.0L1442.4 1222.7M1442.4 1222.7L1436.6 1225.2M1436.6 1225.2L1432.9 1220.4M1436.6 1216.4L1433.7 1218.0M1432.9 1220.4L1433.7 1218.0M1428.8 1212.2L1433.7 1218.0M1428.8 1212.2L1426.9 1214.3M1426.9 1214.3L1426.5 1220.9M1429.0 1221.4L1426.5 1220.9M1429.0 1221.4L1432.9 1220.4M1432.7 1194.4L1431.8 1187.4M1432.7 1194.4L1429.3 1197.0M1425.4 1194.3L1429.3 1197.0M1425.4 1194.3L1426.7 1188.5M1426.7 1188.5L1430.1 1186.2M1430.1 1186.2L1431.8 1187.4M1425.7 1204.1L1429.1 1201.1M1425.7 1204.1L1419.2 1201.7M1429.1 1201.1L1429.3 1197.0M1420.8 1194.2L1419.2 1201.7M1420.8 1194.2L1425.4 1194.3M1420.3 1186.5L1422.5 1181.9M1420.3 1186.5L1426.7 1188.5M1422.5 1181.9L1425.2 1181.3M1425.2 1181.3L1429.6 1184.2M1429.6 1184.2L1430.1 1186.2M1440.2 1194.0L1438.4 1195.0M1440.2 1194.0L1440.6 1188.1M1438.4 1195.0L1432.7 1194.4M1431.8 1187.4L1438.6 1186.0M1440.6 1188.1L1438.6 1186.0M1422.5 1181.9L1417.5 1176.3M1421.0 1173.4L1427.9 1173.6M1421.0 1173.4L1417.5 1175.6M1425.2 1181.3L1427.9 1173.6M1417.5 1175.6L1417.5 1176.3M1408.2 1176.0L1414.2 1173.0M1408.2 1176.0L1407.7 1180.1M1414.2 1173.0L1417.5 1175.6M1417.5 1176.3L1412.8 1182.8M1412.8 1182.8L1407.7 1180.1M1466.0 1180.0L1463.5 1182.1M1464.7 1190.2L1463.4 1189.1M1463.5 1182.1L1463.4 1189.1M1455.1 1195.9L1459.8 1189.2M1455.1 1195.9L1461.9 1197.6M1461.9 1197.6L1464.8 1194.6M1459.8 1189.2L1463.4 1189.1M1436.7 1210.4L1434.0 1209.7M1436.7 1210.4L1441.6 1208.2M1434.0 1209.7L1432.9 1203.0M1441.6 1208.2L1441.3 1205.3M1441.3 1205.3L1437.7 1202.3M1432.9 1203.0L1437.7 1202.3M1428.8 1212.2L1428.8 1211.8M1428.8 1211.8L1434.0 1209.7M1436.6 1216.4L1436.7 1210.4M1444.3 1214.6L1441.8 1218.0M1444.3 1214.6L1442.4 1208.9M1442.4 1208.9L1441.6 1208.2M1425.7 1204.1L1425.8 1207.2M1429.1 1201.1L1432.9 1203.0M1425.8 1207.2L1428.8 1211.8M1443.3 1195.4L1445.4 1201.1M1443.3 1195.4L1440.2 1194.0M1438.4 1195.0L1437.7 1202.3M1445.4 1201.1L1441.3 1205.3M1419.8 1210.8L1419.3 1214.8M1419.8 1210.8L1416.6 1207.3M1419.3 1214.8L1412.1 1214.7M1416.6 1207.3L1411.2 1210.0M1411.2 1210.0L1412.1 1214.7M1425.8 1207.2L1419.8 1210.8M1426.9 1214.3L1419.4 1214.9M1419.4 1214.9L1419.3 1214.8M1417.5 1202.4L1419.2 1201.7M1417.5 1202.4L1416.6 1207.3M1412.2 1195.1L1418.0 1191.3M1412.2 1195.1L1407.9 1189.2M1407.9 1189.2L1413.3 1185.1M1413.3 1185.1L1417.8 1188.3M1417.8 1188.3L1418.0 1191.3M1420.8 1194.2L1418.0 1191.3M1417.5 1202.4L1413.6 1200.9M1411.7 1196.5L1413.6 1200.9M1411.7 1196.5L1412.2 1195.1M1407.1 1189.2L1407.9 1189.2M1407.1 1189.2L1402.3 1191.9M1406.7 1197.3L1411.7 1196.5M1406.7 1197.3L1402.1 1192.9M1402.3 1191.9L1402.1 1192.9M1407.1 1189.2L1404.4 1181.5M1412.8 1182.8L1413.3 1185.1M1404.4 1181.5L1407.7 1180.1M1420.3 1186.5L1417.8 1188.3M1352.5 1245.6L1356.6 1243.4M1356.6 1243.4L1355.2 1237.2M1355.2 1237.2L1352.4 1234.8M1345.5 1254.3L1355.2 1258.0M1351.4 1247.9L1359.4 1252.7M1355.2 1258.0L1357.4 1257.0M1357.4 1257.0L1359.4 1252.7M1355.1 1263.5L1355.2 1258.0M1363.9 1266.0L1365.0 1264.2M1365.0 1264.2L1362.6 1259.6M1362.6 1259.6L1357.4 1257.0M1359.7 1244.4L1360.7 1251.3M1359.7 1244.4L1364.1 1242.3M1364.1 1242.3L1369.9 1246.3M1369.9 1246.3L1365.3 1251.9M1360.7 1251.3L1365.3 1251.9M1356.6 1243.4L1359.7 1244.4M1359.4 1252.7L1360.7 1251.3M1362.6 1259.6L1366.9 1255.0M1366.9 1255.0L1365.3 1251.9M1352.4 1234.8L1352.9 1232.2M1352.9 1232.2L1348.6 1225.8M1355.2 1237.2L1361.5 1235.0M1364.1 1242.3L1365.0 1237.3M1365.0 1237.3L1361.5 1235.0M1418.0 1166.7L1418.3 1161.7M1418.0 1166.7L1420.9 1168.1M1420.9 1168.1L1424.9 1165.1M1418.3 1161.7L1423.5 1161.4M1423.5 1161.4L1424.9 1165.1M1413.1 1169.2L1414.2 1173.0M1413.1 1169.2L1418.0 1166.7M1421.0 1173.4L1420.9 1168.1M1429.2 1167.8L1424.9 1165.1M1429.2 1167.8L1428.8 1173.1M1428.8 1173.1L1427.9 1173.6M1439.0 1158.5L1442.2 1162.0M1439.0 1158.5L1432.8 1162.6M1442.2 1162.0L1440.3 1166.9M1432.8 1165.1L1432.8 1162.6M1432.8 1165.1L1439.3 1167.4M1439.3 1167.4L1440.3 1166.9M1438.2 1153.9L1439.0 1158.5M1445.5 1154.6L1445.5 1160.9M1445.5 1160.9L1442.2 1162.0M1434.2 1152.7L1431.0 1153.8M1430.2 1157.6L1432.8 1162.6M1429.2 1167.8L1432.8 1165.1M1423.7 1160.9L1423.5 1161.4M1463.2 1136.0L1455.4 1153.4M1466.8 1151.7L1461.2 1154.2M1461.2 1154.2L1455.4 1153.4M1451.7 1152.5L1454.0 1154.0M1455.4 1153.4L1454.0 1154.0M1413.1 1169.2L1410.5 1166.7M1408.2 1176.0L1404.3 1172.1M1404.3 1172.1L1406.2 1167.1M1410.5 1166.7L1406.2 1167.1M1485.4 1211.4L1485.9 1214.7M1513.3 1211.2L1487.3 1216.0M1487.3 1216.0L1485.9 1214.7M1487.3 1216.0L1489.0 1222.4M1497.0 1224.6L1489.0 1222.4M1351.8 1209.4L1354.9 1203.1M1351.8 1209.4L1356.6 1210.9M1356.6 1210.9L1360.9 1206.0M1354.9 1203.1L1359.1 1201.9M1360.9 1206.0L1360.3 1202.7M1360.3 1202.7L1359.1 1201.9M1347.1 1199.1L1354.9 1203.1M1350.9 1217.4L1358.8 1215.6M1358.8 1215.6L1356.6 1210.9M1358.8 1215.6L1359.9 1216.3M1359.9 1216.3L1364.6 1212.7M1364.6 1212.7L1364.3 1209.2M1364.3 1209.2L1360.9 1206.0M1357.8 1195.7L1359.1 1201.9M1370.4 1204.8L1370.1 1206.3M1364.7 1201.2L1360.3 1202.7M1364.3 1209.2L1370.1 1206.3M1346.5 1157.2L1354.8 1160.5M1354.8 1160.5L1355.6 1167.2M1355.6 1167.2L1344.7 1170.6M1354.4 1180.6L1354.4 1176.2M1344.7 1170.6L1354.4 1176.2M1369.8 1191.5L1374.4 1184.7M1366.5 1181.1L1371.6 1180.3M1371.6 1180.3L1374.4 1182.0M1374.4 1182.0L1374.4 1184.7M1366.0 1173.4L1363.7 1176.1M1366.0 1173.4L1364.0 1167.7M1363.7 1176.1L1357.9 1172.5M1364.0 1167.7L1363.3 1167.3M1363.3 1167.3L1358.2 1169.9M1357.9 1172.5L1358.2 1169.9M1364.4 1179.8L1363.7 1176.1M1371.5 1172.7L1371.6 1180.3M1371.5 1172.7L1366.0 1173.4M1354.4 1176.2L1357.9 1172.5M1355.6 1167.2L1358.2 1169.9M1391.0 1200.3L1390.3 1194.1M1391.0 1200.3L1393.3 1202.3M1390.3 1194.1L1392.2 1192.3M1399.8 1194.8L1392.2 1192.3M1399.8 1194.8L1397.9 1201.1M1397.9 1201.1L1393.3 1202.3M1390.4 1208.4L1383.5 1208.0M1390.4 1208.4L1392.7 1205.3M1383.5 1208.0L1383.8 1201.5M1391.0 1200.3L1383.8 1201.5M1392.7 1205.3L1393.3 1202.3M1477.0 1258.1L1473.7 1260.2M1476.6 1265.7L1472.9 1262.9M1472.9 1262.9L1473.7 1260.2M1474.5 1249.3L1469.9 1252.5M1473.7 1260.2L1470.3 1256.6M1469.9 1252.5L1470.3 1256.6M1442.4 1208.9L1450.9 1207.5M1445.4 1201.1L1452.1 1201.9M1450.9 1207.5L1452.1 1201.9M1444.3 1214.6L1449.1 1215.2M1449.1 1215.2L1452.9 1212.3M1452.9 1212.3L1452.9 1211.8M1450.9 1207.5L1452.9 1211.8M1450.6 1192.4L1453.9 1196.2M1450.6 1192.4L1443.3 1195.4M1453.9 1196.2L1452.1 1201.9M1452.1 1201.9L1452.1 1201.9M1457.1 1215.9L1461.1 1214.2M1457.1 1215.9L1456.9 1219.9M1456.9 1219.9L1460.8 1223.3M1460.8 1223.3L1463.6 1222.5M1463.6 1222.5L1465.4 1216.9M1461.1 1214.2L1465.4 1216.9M1464.2 1236.2L1465.0 1232.9M1464.2 1236.2L1470.5 1239.2M1465.0 1232.9L1468.5 1230.0M1468.5 1230.0L1473.6 1232.6M1470.5 1239.2L1474.3 1236.8M1474.3 1236.8L1473.6 1232.6M1459.2 1227.5L1456.5 1228.8M1459.2 1227.5L1465.0 1232.9M1456.5 1228.8L1458.3 1236.1M1458.3 1236.1L1462.2 1237.8M1462.2 1237.8L1464.2 1236.2M1460.8 1223.3L1459.2 1227.5M1463.6 1222.5L1469.0 1225.6M1469.0 1225.6L1468.5 1230.0M1471.3 1244.4L1470.8 1244.1M1470.8 1244.1L1470.5 1239.2M1475.4 1237.3L1478.1 1241.9M1475.4 1237.3L1474.3 1236.8M1450.4 1221.5L1452.2 1221.9M1450.4 1221.5L1445.5 1224.6M1452.2 1221.9L1454.7 1228.8M1445.5 1224.6L1445.7 1225.5M1445.7 1225.5L1450.7 1231.2M1450.7 1231.2L1454.7 1228.8M1449.1 1215.2L1450.4 1221.5M1452.9 1212.3L1457.1 1215.9M1456.9 1219.9L1452.2 1221.9M1442.4 1222.7L1445.5 1224.6M1456.5 1228.8L1454.7 1228.8M1438.6 1182.5L1441.6 1180.5M1438.6 1182.5L1434.1 1178.0M1441.6 1180.5L1441.4 1175.3M1433.9 1176.1L1434.1 1178.0M1433.9 1176.1L1437.9 1173.7M1437.9 1173.7L1441.4 1175.3M1429.6 1184.2L1434.1 1178.0M1438.6 1186.0L1438.6 1182.5M1428.8 1173.1L1433.9 1176.1M1439.3 1167.4L1437.9 1173.7M1445.4 1174.5L1441.4 1175.3M1445.4 1174.5L1444.8 1169.1M1444.8 1169.1L1440.3 1166.9M1399.8 1194.8L1402.1 1192.9M1392.2 1192.3L1393.2 1187.5M1402.3 1191.9L1398.0 1185.1M1393.2 1187.5L1398.0 1185.1M1465.2 1174.7L1460.5 1173.1M1460.5 1173.1L1456.7 1176.5M1463.5 1182.1L1457.6 1181.2M1456.7 1176.5L1457.6 1181.2M1368.7 1231.4L1366.5 1236.4M1368.7 1231.4L1375.8 1231.9M1366.5 1236.4L1373.9 1239.1M1373.9 1239.1L1376.9 1235.6M1376.9 1235.6L1377.0 1233.0M1375.8 1231.9L1377.0 1233.0M1370.0 1246.3L1369.9 1246.3M1370.0 1246.3L1373.7 1243.1M1373.7 1243.1L1373.9 1239.1M1365.0 1237.3L1366.5 1236.4M1358.9 1228.2L1359.0 1224.0M1358.9 1228.2L1360.5 1229.9M1360.5 1229.9L1367.6 1229.4M1359.0 1224.0L1361.1 1221.8M1361.1 1221.8L1368.3 1222.7M1367.6 1229.4L1368.3 1222.8M1368.3 1222.8L1368.3 1222.7M1352.9 1232.2L1358.9 1228.2M1351.8 1222.7L1359.0 1224.0M1361.5 1235.0L1360.5 1229.9M1368.7 1231.4L1367.6 1229.4M1359.9 1216.3L1361.1 1221.8M1364.6 1212.7L1370.8 1215.5M1370.8 1215.5L1368.3 1222.7M1374.8 1224.8L1368.3 1222.8M1374.8 1224.8L1375.8 1231.9M1377.8 1264.4L1372.8 1266.7M1377.8 1264.4L1378.0 1258.2M1378.0 1258.2L1373.7 1256.6M1369.2 1263.3L1372.3 1257.2M1369.2 1263.3L1372.8 1266.7M1372.3 1257.2L1373.7 1256.6M1365.0 1264.2L1369.2 1263.3M1366.9 1255.0L1372.3 1257.2M1379.5 1396.4L1372.8 1266.7M1370.0 1246.3L1373.9 1251.8M1373.9 1251.8L1373.7 1256.6M1382.6 1268.2L1384.9 1282.3M1382.6 1268.2L1384.6 1264.5M1384.6 1264.5L1391.8 1265.0M1384.9 1282.3L1391.8 1265.0M1377.8 1264.4L1382.6 1268.2M1382.5 1358.3L1398.2 1266.7M1398.2 1266.7L1392.9 1263.9M1392.9 1263.9L1391.8 1265.0M1392.9 1263.9L1392.2 1258.9M1392.2 1258.9L1389.9 1256.8M1384.6 1264.5L1384.9 1258.1M1384.9 1258.1L1389.9 1256.8M1378.0 1258.2L1382.1 1257.0M1384.9 1258.1L1382.1 1257.0M1381.5 1239.0L1376.9 1235.6M1381.5 1239.0L1387.1 1233.5M1383.1 1230.0L1385.8 1230.2M1383.1 1230.0L1377.0 1233.0M1387.1 1233.5L1386.5 1231.0M1386.5 1231.0L1385.8 1230.2M1390.0 1237.2L1395.4 1234.3M1390.0 1237.2L1387.1 1233.5M1395.4 1234.3L1395.2 1229.9M1386.5 1231.0L1395.2 1229.9M1374.8 1224.8L1378.7 1222.3M1383.1 1230.0L1379.3 1222.6M1378.7 1222.3L1379.3 1222.6M1388.2 1224.2L1385.8 1230.2M1388.2 1224.2L1385.6 1221.0M1379.3 1222.6L1385.6 1221.0M1391.5 1214.6L1386.2 1216.3M1391.5 1214.6L1393.9 1215.8M1393.9 1215.8L1392.3 1223.4M1388.2 1224.2L1392.3 1223.4M1386.2 1216.3L1385.6 1221.0M1469.1 1159.1L1465.9 1162.5M1461.2 1154.2L1461.7 1161.0M1461.7 1161.0L1465.9 1162.5M1469.9 1170.2L1466.1 1164.8M1466.1 1164.8L1465.9 1162.5M1460.5 1173.1L1459.3 1169.3M1466.1 1164.8L1459.3 1169.3M1366.2 1154.4L1361.0 1152.3M1366.2 1154.4L1367.7 1159.7M1367.7 1159.7L1363.5 1161.3M1363.5 1161.3L1358.8 1159.0M1358.8 1159.0L1360.0 1153.8M1360.0 1153.8L1361.0 1152.3M1354.8 1160.5L1358.8 1159.0M1363.3 1167.3L1363.5 1161.3M1351.4 1151.6L1360.0 1153.8M1418.3 1161.7L1414.5 1159.4M1410.5 1166.7L1412.4 1161.8M1414.5 1159.4L1412.4 1161.8M1416.7 1152.5L1421.8 1153.5M1416.7 1152.5L1414.1 1155.0M1414.5 1159.4L1414.1 1155.0M1489.7 1235.4L1486.1 1238.3M1489.7 1235.4L1489.8 1233.5M1489.8 1233.5L1486.5 1229.4M1486.1 1238.3L1481.4 1234.7M1486.5 1229.4L1480.1 1230.3M1480.1 1230.3L1481.4 1234.7M1500.7 1239.9L1489.7 1235.4M1485.7 1239.6L1486.1 1238.3M1497.0 1224.6L1489.8 1233.5M1489.0 1222.4L1486.6 1224.1M1486.6 1224.1L1486.5 1229.4M1475.4 1237.3L1481.4 1234.7M1478.6 1228.8L1473.6 1232.6M1478.6 1228.8L1480.1 1230.3M1473.4 1222.7L1472.7 1218.6M1473.4 1222.7L1478.2 1224.9M1478.2 1224.9L1480.1 1223.6M1480.1 1223.6L1481.3 1217.6M1481.3 1217.6L1476.2 1215.0M1476.2 1215.0L1472.7 1218.6M1469.0 1225.6L1473.4 1222.7M1465.4 1216.9L1468.1 1215.7M1468.1 1215.7L1472.7 1218.6M1478.6 1228.8L1478.2 1224.9M1486.6 1224.1L1480.1 1223.6M1485.9 1214.7L1481.3 1217.6M1476.3 1211.1L1476.2 1215.0M1473.5 1209.7L1468.8 1211.1M1468.1 1215.7L1468.8 1211.1M1371.5 1172.7L1371.8 1172.2M1374.4 1182.0L1379.0 1179.9M1379.0 1179.9L1378.1 1172.3M1378.1 1172.3L1371.8 1172.2M1364.0 1167.7L1370.8 1167.7M1371.8 1172.2L1370.8 1167.7M1386.0 1192.7L1385.4 1186.3M1386.0 1192.7L1381.9 1194.7M1381.9 1194.7L1379.1 1192.8M1385.4 1186.3L1383.9 1185.5M1383.9 1185.5L1379.1 1189.2M1379.1 1192.8L1379.1 1189.2M1390.3 1194.1L1386.0 1192.7M1393.2 1187.5L1389.6 1185.2M1389.6 1185.2L1385.4 1186.3M1382.0 1200.0L1383.8 1201.5M1382.0 1200.0L1381.9 1194.7M1374.3 1201.7L1375.2 1202.0M1375.2 1202.0L1382.0 1200.0M1372.0 1194.9L1379.1 1192.8M1389.8 1182.0L1389.6 1185.2M1389.8 1182.0L1383.6 1179.1M1383.6 1179.1L1381.6 1180.5M1381.6 1180.5L1383.9 1185.5M1374.4 1184.7L1379.1 1189.2M1379.0 1179.9L1381.6 1180.5M1419.4 1214.9L1420.6 1222.5M1412.1 1214.7L1411.0 1216.4M1412.8 1222.6L1411.0 1216.4M1412.8 1222.6L1412.8 1222.7M1412.8 1222.7L1420.6 1222.5M1426.5 1220.9L1421.6 1223.3M1420.6 1222.5L1421.6 1223.3M1413.6 1200.9L1409.8 1204.1M1411.2 1210.0L1409.8 1208.9M1409.8 1208.9L1409.8 1204.1M1406.7 1197.3L1405.3 1201.9M1409.8 1204.1L1405.3 1201.9M1397.9 1201.1L1401.6 1203.6M1405.3 1201.9L1401.6 1203.6M1472.9 1262.9L1470.8 1264.6M1470.3 1256.6L1463.5 1257.6M1470.8 1264.6L1464.3 1264.0M1463.5 1257.6L1464.3 1264.0M1470.8 1244.1L1466.0 1246.2M1462.2 1237.8L1461.4 1242.0M1461.4 1242.0L1466.0 1246.2M1469.9 1252.5L1465.6 1249.9M1466.0 1246.2L1465.6 1249.9M1390.0 1237.2L1390.0 1240.0M1390.0 1240.0L1393.4 1243.5M1395.4 1234.3L1398.6 1236.7M1398.6 1236.7L1397.5 1241.1M1397.5 1241.1L1393.4 1243.5M1398.2 1266.7L1401.9 1264.7M1392.2 1258.9L1399.9 1257.5M1399.9 1257.5L1401.9 1264.7M1461.8 1210.4L1466.5 1208.7M1461.8 1210.4L1459.2 1207.9M1459.0 1204.8L1459.2 1207.9M1459.0 1204.8L1462.6 1202.2M1462.6 1202.2L1466.6 1204.0M1466.6 1204.0L1466.5 1208.7M1461.1 1214.2L1461.8 1210.4M1468.8 1211.1L1466.5 1208.7M1452.9 1211.8L1459.2 1207.9M1452.1 1201.9L1459.0 1204.8M1453.9 1196.2L1455.1 1195.9M1461.9 1197.6L1462.6 1202.2M1471.1 1201.7L1466.6 1204.0M1402.0 1181.4L1398.2 1184.7M1402.0 1181.4L1399.8 1174.3M1398.2 1184.7L1392.6 1177.7M1399.8 1174.3L1398.2 1173.7M1398.2 1173.7L1392.5 1175.8M1392.6 1177.7L1392.5 1175.8M1404.4 1181.5L1402.0 1181.4M1398.0 1185.1L1398.2 1184.7M1404.3 1172.1L1399.8 1174.3M1389.8 1182.0L1392.6 1177.7M1406.2 1167.1L1404.5 1165.6M1404.5 1165.6L1397.0 1167.0M1397.0 1167.0L1398.2 1173.7M1454.8 1185.2L1454.9 1184.5M1454.8 1185.2L1450.4 1189.5M1454.9 1184.5L1448.4 1179.3M1450.4 1189.5L1446.1 1186.5M1446.1 1186.5L1446.6 1181.2M1446.6 1181.2L1448.4 1179.3M1459.8 1189.2L1454.8 1185.2M1457.6 1181.2L1454.9 1184.5M1450.6 1192.4L1450.4 1189.5M1456.7 1176.5L1451.3 1175.0M1448.8 1176.7L1448.4 1179.3M1448.8 1176.7L1451.3 1175.0M1440.6 1188.1L1446.1 1186.5M1441.6 1180.5L1446.6 1181.2M1445.4 1174.5L1448.8 1176.7M1386.6 1248.4L1381.6 1249.8M1386.6 1248.4L1384.9 1242.0M1379.3 1245.3L1382.7 1241.6M1379.3 1245.3L1380.0 1248.5M1380.0 1248.5L1381.6 1249.8M1384.9 1242.0L1382.7 1241.6M1382.1 1257.0L1381.6 1249.8M1389.9 1256.8L1391.2 1250.1M1391.2 1250.1L1386.6 1248.4M1390.0 1240.0L1384.9 1242.0M1391.2 1250.1L1393.3 1248.3M1393.3 1248.3L1393.4 1243.5M1373.7 1243.1L1379.3 1245.3M1381.5 1239.0L1382.7 1241.6M1373.9 1251.8L1380.0 1248.5M1383.1 1214.2L1377.9 1218.6M1383.1 1214.2L1381.7 1209.9M1378.9 1209.5L1381.7 1209.9M1378.9 1209.5L1373.3 1212.6M1377.9 1218.6L1372.5 1214.6M1373.3 1212.6L1372.5 1214.6M1378.7 1222.3L1377.9 1218.6M1386.2 1216.3L1383.1 1214.2M1390.4 1208.4L1391.5 1214.6M1383.5 1208.0L1381.7 1209.9M1375.2 1202.0L1378.9 1209.5M1370.1 1206.3L1373.3 1212.6M1370.8 1215.5L1372.5 1214.6M1453.6 1158.9L1457.9 1162.0M1453.6 1158.9L1449.7 1162.2M1457.9 1162.0L1457.6 1168.0M1449.7 1162.2L1450.2 1167.1M1457.6 1168.0L1451.9 1168.7M1450.2 1167.1L1451.9 1168.7M1454.0 1154.0L1453.6 1158.9M1461.7 1161.0L1457.9 1162.0M1445.5 1160.9L1449.7 1162.2M1459.3 1169.3L1457.6 1168.0M1444.8 1169.1L1450.2 1167.1M1451.3 1175.0L1451.9 1168.7M1368.4 1151.8L1373.1 1155.3M1373.1 1155.3L1376.5 1152.4M1366.2 1154.4L1368.4 1151.8M1378.1 1172.3L1380.6 1169.7M1380.6 1169.7L1382.0 1169.9M1383.6 1179.1L1386.6 1174.9M1382.0 1169.9L1386.6 1174.9M1392.5 1175.8L1390.5 1174.5M1386.6 1174.9L1390.5 1174.5M1404.5 1165.6L1403.0 1159.6M1412.4 1161.8L1403.8 1158.6M1403.0 1159.6L1403.8 1158.6M1387.8 1165.5L1390.7 1167.1M1387.8 1165.5L1386.3 1160.4M1390.7 1167.1L1395.3 1165.5M1386.3 1160.4L1389.7 1158.2M1389.7 1158.2L1396.1 1159.5M1395.3 1165.5L1396.1 1159.5M1382.0 1169.9L1387.8 1165.5M1390.5 1174.5L1390.7 1167.1M1397.0 1167.0L1395.3 1165.5M1382.2 1159.0L1381.4 1156.2M1382.2 1159.0L1386.3 1160.4M1381.4 1156.2L1385.7 1150.7M1385.7 1150.7L1389.6 1153.8M1389.6 1153.8L1389.7 1158.2M1389.6 1153.8L1393.1 1151.5M1393.1 1151.5L1396.5 1154.5M1396.3 1159.3L1396.5 1154.5M1396.3 1159.3L1396.1 1159.5M1396.3 1159.3L1403.0 1159.6M1371.3 1166.7L1378.4 1165.0M1371.3 1166.7L1369.6 1160.0M1369.6 1160.0L1371.6 1158.9M1371.6 1158.9L1379.0 1162.0M1379.0 1162.0L1378.4 1165.0M1380.6 1169.7L1378.4 1165.0M1370.8 1167.7L1371.3 1166.7M1367.7 1159.7L1369.6 1160.0M1373.1 1155.3L1371.6 1158.9M1382.2 1159.0L1379.0 1162.0M1381.4 1156.2L1376.5 1152.4M1406.4 1229.9L1403.5 1231.6M1406.4 1229.9L1404.9 1223.4M1403.5 1231.6L1396.9 1227.1M1404.9 1223.4L1402.1 1221.0M1402.1 1221.0L1396.9 1226.7M1396.9 1226.7L1396.9 1227.1M1398.6 1236.7L1402.5 1235.1M1395.2 1229.9L1396.9 1227.1M1402.5 1235.1L1403.5 1231.6M1392.3 1223.4L1396.9 1226.7M1412.8 1222.7L1412.1 1226.9M1422.2 1227.6L1416.3 1231.3M1422.2 1227.6L1421.6 1223.3M1416.3 1231.3L1412.1 1226.9M1412.8 1222.6L1404.9 1223.4M1406.4 1229.9L1407.2 1230.0M1407.2 1230.0L1412.1 1226.9M1423.6 1228.9L1425.4 1234.7M1423.6 1228.9L1430.2 1227.7M1425.4 1234.7L1431.1 1236.2M1430.2 1227.7L1435.0 1229.5M1433.0 1235.8L1435.1 1230.0M1433.0 1235.8L1431.1 1236.2M1435.0 1229.5L1435.1 1230.0M1422.2 1227.6L1423.6 1228.9M1421.3 1238.8L1415.0 1235.4M1421.3 1238.8L1425.4 1234.7M1416.3 1231.3L1415.0 1235.4M1429.0 1221.4L1430.2 1227.7M1424.4 1244.6L1428.0 1244.1M1424.4 1244.6L1421.6 1242.0M1428.0 1244.1L1431.1 1236.2M1421.6 1242.0L1421.3 1238.8M1436.6 1225.2L1435.0 1229.5M1441.8 1231.7L1435.1 1230.0M1441.8 1231.7L1445.7 1225.5M1406.2 1209.3L1402.1 1207.0M1406.2 1209.3L1403.4 1217.2M1402.1 1207.0L1398.8 1211.2M1398.8 1211.2L1398.3 1215.1M1398.3 1215.1L1402.1 1217.9M1403.4 1217.2L1402.1 1217.9M1409.8 1208.9L1406.2 1209.3M1401.6 1203.6L1402.1 1207.0M1411.0 1216.4L1403.4 1217.2M1392.7 1205.3L1398.8 1211.2M1393.9 1215.8L1398.3 1215.1M1402.1 1221.0L1402.1 1217.9M1441.8 1231.7L1443.1 1234.2M1433.0 1235.8L1436.8 1239.4M1443.1 1234.2L1436.8 1239.4M1404.1 1244.2L1403.0 1247.7M1404.1 1244.2L1397.5 1241.1M1393.3 1248.3L1396.8 1249.5M1396.8 1249.5L1403.0 1247.7M1399.9 1257.5L1400.1 1257.1M1396.8 1249.5L1400.1 1257.1M1401.9 1264.7L1405.4 1265.6M1408.5 1463.3L1405.4 1265.6M1403.0 1247.7L1406.1 1253.0M1400.1 1257.1L1405.5 1254.8M1406.1 1253.0L1405.5 1254.8M1470.8 1264.6L1467.2 1364.7M1461.5 1266.1L1464.3 1264.0M1461.5 1266.1L1459.7 1281.9M1407.3 1153.2L1405.8 1153.9M1407.3 1153.2L1413.3 1080.9M1405.8 1153.9L1400.5 1151.0M1414.1 1155.0L1407.3 1153.2M1403.8 1158.6L1405.8 1153.9M1396.5 1154.5L1400.5 1151.0M1405.5 1243.2L1410.3 1245.0M1405.5 1243.2L1406.1 1239.3M1406.1 1239.3L1412.3 1236.1M1410.3 1245.0L1413.6 1244.3M1413.6 1244.3L1413.1 1236.2M1412.3 1236.1L1413.1 1236.2M1404.1 1244.2L1405.5 1243.2M1406.1 1253.0L1409.6 1251.7M1409.6 1251.7L1410.3 1245.0M1402.5 1235.1L1406.1 1239.3M1407.2 1230.0L1412.3 1236.1M1421.6 1242.0L1415.6 1245.4M1415.0 1235.4L1413.1 1236.2M1415.6 1245.4L1413.6 1244.3M1458.3 1236.1L1450.9 1237.1M1461.4 1242.0L1457.3 1244.7M1457.3 1244.7L1453.3 1243.6M1453.3 1243.6L1450.9 1237.1M1450.7 1231.2L1449.5 1236.0M1450.9 1237.1L1449.5 1236.0M1443.1 1234.2L1447.9 1236.4M1449.5 1236.0L1447.9 1236.4M1465.6 1249.9L1461.1 1253.2M1457.3 1244.7L1457.8 1248.9M1457.8 1248.9L1461.1 1253.2M1457.2 1263.5L1461.5 1266.1M1457.2 1263.5L1458.1 1256.3M1463.5 1257.6L1460.7 1254.8M1460.7 1254.8L1458.1 1256.3M1460.7 1254.8L1461.1 1253.2M1441.4 1280.1L1434.7 1265.6M1425.6 1274.8L1428.9 1266.1M1428.9 1266.1L1434.7 1265.6M1424.4 1244.6L1423.6 1249.1M1428.0 1244.1L1433.0 1247.3M1423.6 1249.1L1429.9 1252.9M1433.0 1247.3L1429.9 1252.9M1423.6 1249.1L1422.6 1250.0M1415.6 1245.4L1416.3 1249.1M1422.6 1250.0L1416.3 1249.1M1409.6 1251.7L1414.5 1252.7M1416.3 1249.1L1414.5 1252.7M1425.6 1274.8L1419.0 1265.4M1428.9 1266.1L1425.8 1260.8M1425.8 1260.8L1419.0 1265.4M1434.7 1265.6L1435.6 1264.2M1435.6 1264.2L1436.1 1257.8M1430.2 1256.0L1436.1 1257.8M1430.2 1256.0L1425.9 1259.4M1425.8 1260.8L1425.9 1259.4M1430.2 1256.0L1429.9 1252.9M1422.6 1250.0L1421.5 1256.3M1425.9 1259.4L1421.5 1256.3M1457.8 1248.9L1453.3 1251.0M1458.1 1256.3L1452.8 1255.8M1453.3 1251.0L1452.8 1255.8M1453.3 1243.6L1449.3 1247.1M1453.3 1251.0L1449.3 1247.1M1443.0 1243.3L1447.9 1236.4M1443.0 1243.3L1448.1 1247.4M1448.1 1247.4L1449.3 1247.1M1444.9 1268.8L1451.6 1265.5M1444.9 1268.8L1443.1 1264.8M1443.1 1264.8L1443.8 1260.4M1452.2 1264.3L1451.6 1265.5M1452.2 1264.3L1449.2 1257.5M1443.8 1260.4L1448.2 1257.2M1449.2 1257.5L1448.2 1257.2M1459.7 1281.9L1451.6 1265.5M1441.4 1280.1L1444.9 1268.8M1435.6 1264.2L1443.1 1264.8M1436.1 1257.8L1436.7 1257.5M1436.7 1257.5L1443.8 1260.4M1457.2 1263.5L1452.2 1264.3M1452.8 1255.8L1449.2 1257.5M1446.0 1253.0L1448.2 1257.2M1446.0 1253.0L1448.1 1247.4M1441.6 1252.4L1439.0 1253.3M1441.6 1252.4L1440.9 1243.5M1439.0 1253.3L1434.5 1246.9M1434.5 1246.9L1438.1 1242.9M1438.1 1242.9L1440.9 1243.5M1436.7 1257.5L1439.0 1253.3M1446.0 1253.0L1441.6 1252.4M1443.0 1243.3L1440.9 1243.5M1433.0 1247.3L1434.5 1246.9M1436.8 1239.4L1438.1 1242.9M1415.8 1255.9L1416.6 1256.5M1415.8 1255.9L1408.7 1259.4M1416.6 1256.5L1415.9 1265.0M1408.6 1264.1L1413.9 1266.1M1408.6 1264.1L1408.7 1259.4M1413.9 1266.1L1415.9 1265.0M1414.5 1252.7L1415.8 1255.9M1421.5 1256.3L1416.6 1256.5M1405.5 1254.8L1408.7 1259.4M1419.0 1265.4L1415.9 1265.0M1408.5 1463.3L1413.9 1266.1M1405.4 1265.6L1408.6 1264.1" stroke="#ecdcf2" stroke-width="1.3" opacity="0.3" fill="none" filter="url(#sb05)"/>
<g fill="#7462c2" opacity="0.9" filter="url(#sb05)"><circle cx="1363.7" cy="1156.1" r="1.8"/><circle cx="1376.4" cy="1157.7" r="2.1"/><circle cx="1386.5" cy="1154.9" r="2.1"/><circle cx="1392.9" cy="1154.8" r="2.1"/><circle cx="1400.2" cy="1155.2" r="1.6"/><circle cx="1425.5" cy="1156.5" r="1.7"/><circle cx="1442.8" cy="1157.2" r="2.3"/><circle cx="1448.2" cy="1157.2" r="1.8"/><circle cx="1459.3" cy="1157.9" r="1.7"/><circle cx="1472.9" cy="1154.9" r="1.9"/><circle cx="1483.8" cy="1157.4" r="1.9"/><circle cx="1490.8" cy="1154.8" r="1.7"/><circle cx="1359.5" cy="1164.7" r="1.8"/><circle cx="1367.2" cy="1165.0" r="1.6"/><circle cx="1374.0" cy="1163.2" r="1.8"/><circle cx="1383.2" cy="1164.9" r="2.2"/><circle cx="1391.4" cy="1162.6" r="1.8"/><circle cx="1407.7" cy="1161.7" r="2.2"/><circle cx="1415.8" cy="1164.9" r="2.1"/><circle cx="1420.4" cy="1165.1" r="2.1"/><circle cx="1428.3" cy="1162.1" r="1.7"/><circle cx="1445.6" cy="1165.5" r="1.9"/><circle cx="1454.5" cy="1164.5" r="2.0"/><circle cx="1461.1" cy="1164.9" r="1.6"/><circle cx="1479.7" cy="1165.1" r="1.7"/><circle cx="1485.1" cy="1161.5" r="1.9"/><circle cx="1363.2" cy="1171.9" r="1.7"/><circle cx="1367.2" cy="1170.4" r="1.8"/><circle cx="1375.3" cy="1168.6" r="2.0"/><circle cx="1394.1" cy="1170.3" r="2.2"/><circle cx="1400.8" cy="1169.1" r="1.9"/><circle cx="1408.9" cy="1172.1" r="1.8"/><circle cx="1418.2" cy="1169.5" r="1.8"/><circle cx="1423.6" cy="1169.4" r="1.9"/><circle cx="1434.6" cy="1170.2" r="1.9"/><circle cx="1442.4" cy="1172.0" r="1.6"/><circle cx="1447.8" cy="1171.4" r="2.2"/><circle cx="1455.4" cy="1172.0" r="1.6"/><circle cx="1464.1" cy="1169.4" r="1.7"/><circle cx="1475.8" cy="1169.8" r="2.1"/><circle cx="1359.8" cy="1177.5" r="1.7"/><circle cx="1367.9" cy="1175.9" r="1.9"/><circle cx="1388.0" cy="1179.6" r="1.9"/><circle cx="1397.4" cy="1178.9" r="2.0"/><circle cx="1411.7" cy="1177.7" r="2.1"/><circle cx="1423.3" cy="1177.5" r="2.2"/><circle cx="1429.0" cy="1179.5" r="2.2"/><circle cx="1443.6" cy="1178.0" r="2.0"/><circle cx="1453.3" cy="1179.6" r="1.7"/><circle cx="1460.9" cy="1178.2" r="1.7"/><circle cx="1477.7" cy="1178.3" r="2.2"/><circle cx="1487.6" cy="1177.4" r="2.1"/><circle cx="1369.3" cy="1185.6" r="1.8"/><circle cx="1379.5" cy="1185.5" r="2.1"/><circle cx="1386.8" cy="1182.2" r="1.7"/><circle cx="1392.8" cy="1182.7" r="1.9"/><circle cx="1403.8" cy="1186.3" r="1.6"/><circle cx="1407.9" cy="1184.8" r="2.0"/><circle cx="1425.1" cy="1185.6" r="2.1"/><circle cx="1434.3" cy="1183.3" r="1.8"/><circle cx="1442.9" cy="1183.4" r="2.0"/><circle cx="1449.8" cy="1184.0" r="1.7"/><circle cx="1459.9" cy="1185.1" r="2.3"/><circle cx="1467.1" cy="1185.2" r="2.2"/><circle cx="1473.0" cy="1186.6" r="2.2"/><circle cx="1482.6" cy="1185.3" r="1.8"/><circle cx="1488.5" cy="1182.8" r="2.2"/><circle cx="1363.9" cy="1191.4" r="1.6"/><circle cx="1375.4" cy="1189.7" r="1.7"/><circle cx="1382.7" cy="1189.8" r="2.1"/><circle cx="1388.7" cy="1189.2" r="2.3"/><circle cx="1396.6" cy="1190.8" r="2.1"/><circle cx="1412.1" cy="1190.4" r="1.8"/><circle cx="1423.7" cy="1189.9" r="2.0"/><circle cx="1428.7" cy="1191.1" r="1.9"/><circle cx="1435.7" cy="1190.2" r="2.0"/><circle cx="1445.1" cy="1190.8" r="2.2"/><circle cx="1455.8" cy="1190.2" r="2.3"/><circle cx="1460.2" cy="1193.3" r="1.8"/><circle cx="1469.4" cy="1193.0" r="1.8"/><circle cx="1478.3" cy="1192.7" r="1.8"/><circle cx="1484.7" cy="1189.7" r="1.6"/><circle cx="1362.8" cy="1197.2" r="1.7"/><circle cx="1368.9" cy="1200.3" r="1.6"/><circle cx="1377.7" cy="1197.3" r="1.8"/><circle cx="1386.2" cy="1197.2" r="2.0"/><circle cx="1394.9" cy="1196.1" r="1.7"/><circle cx="1403.2" cy="1198.6" r="1.7"/><circle cx="1408.9" cy="1200.4" r="1.7"/><circle cx="1416.5" cy="1197.1" r="2.0"/><circle cx="1423.5" cy="1198.6" r="2.2"/><circle cx="1441.2" cy="1199.8" r="1.7"/><circle cx="1447.7" cy="1197.4" r="1.9"/><circle cx="1458.3" cy="1200.6" r="2.2"/><circle cx="1466.2" cy="1199.2" r="2.2"/><circle cx="1474.9" cy="1197.8" r="1.8"/><circle cx="1483.7" cy="1199.5" r="1.9"/><circle cx="1356.1" cy="1207.1" r="1.7"/><circle cx="1374.4" cy="1207.2" r="1.8"/><circle cx="1379.8" cy="1204.5" r="2.2"/><circle cx="1387.5" cy="1204.9" r="2.0"/><circle cx="1397.6" cy="1207.0" r="2.2"/><circle cx="1406.4" cy="1205.7" r="2.0"/><circle cx="1420.5" cy="1206.9" r="2.1"/><circle cx="1431.0" cy="1206.9" r="2.2"/><circle cx="1435.9" cy="1206.1" r="2.3"/><circle cx="1446.8" cy="1205.3" r="1.7"/><circle cx="1455.5" cy="1207.2" r="2.0"/><circle cx="1462.8" cy="1206.8" r="2.1"/><circle cx="1470.3" cy="1207.1" r="1.8"/><circle cx="1475.8" cy="1206.3" r="2.0"/><circle cx="1486.6" cy="1205.8" r="1.7"/><circle cx="1360.5" cy="1210.9" r="2.0"/><circle cx="1368.3" cy="1210.3" r="2.1"/><circle cx="1378.4" cy="1214.5" r="1.6"/><circle cx="1387.1" cy="1211.6" r="2.1"/><circle cx="1394.6" cy="1210.2" r="2.1"/><circle cx="1403.2" cy="1211.4" r="2.3"/><circle cx="1407.2" cy="1212.9" r="1.8"/><circle cx="1415.9" cy="1211.2" r="2.3"/><circle cx="1423.5" cy="1212.0" r="1.9"/><circle cx="1433.9" cy="1213.7" r="2.2"/><circle cx="1439.4" cy="1213.8" r="2.1"/><circle cx="1447.7" cy="1210.9" r="2.1"/><circle cx="1458.2" cy="1211.5" r="1.7"/><circle cx="1464.8" cy="1212.6" r="1.8"/><circle cx="1472.2" cy="1213.6" r="1.6"/><circle cx="1480.2" cy="1213.9" r="1.9"/><circle cx="1491.1" cy="1212.4" r="1.7"/><circle cx="1355.3" cy="1219.2" r="2.3"/><circle cx="1365.2" cy="1217.1" r="1.8"/><circle cx="1374.2" cy="1220.3" r="1.9"/><circle cx="1382.0" cy="1218.7" r="1.9"/><circle cx="1396.3" cy="1221.0" r="1.7"/><circle cx="1408.0" cy="1220.7" r="2.3"/><circle cx="1415.8" cy="1218.4" r="2.2"/><circle cx="1423.9" cy="1217.1" r="2.0"/><circle cx="1429.5" cy="1217.4" r="2.3"/><circle cx="1437.4" cy="1220.1" r="2.1"/><circle cx="1446.6" cy="1219.0" r="1.8"/><circle cx="1452.8" cy="1217.7" r="2.0"/><circle cx="1461.1" cy="1218.2" r="2.2"/><circle cx="1468.1" cy="1220.3" r="1.7"/><circle cx="1484.1" cy="1220.2" r="2.1"/><circle cx="1363.9" cy="1227.3" r="1.6"/><circle cx="1378.7" cy="1227.2" r="2.1"/><circle cx="1391.3" cy="1227.9" r="1.8"/><circle cx="1402.7" cy="1226.8" r="2.3"/><circle cx="1428.0" cy="1225.2" r="2.3"/><circle cx="1431.4" cy="1224.6" r="1.8"/><circle cx="1440.9" cy="1228.1" r="1.8"/><circle cx="1451.1" cy="1225.9" r="1.9"/><circle cx="1455.7" cy="1224.3" r="1.6"/><circle cx="1473.5" cy="1228.5" r="1.7"/><circle cx="1483.6" cy="1227.6" r="2.1"/><circle cx="1489.5" cy="1227.7" r="2.2"/><circle cx="1357.9" cy="1233.2" r="1.8"/><circle cx="1364.2" cy="1231.9" r="1.7"/><circle cx="1371.3" cy="1235.1" r="2.0"/><circle cx="1391.9" cy="1232.8" r="2.1"/><circle cx="1398.7" cy="1232.6" r="2.1"/><circle cx="1407.1" cy="1234.8" r="2.2"/><circle cx="1411.8" cy="1230.8" r="1.7"/><circle cx="1420.2" cy="1233.5" r="1.7"/><circle cx="1429.0" cy="1230.8" r="2.2"/><circle cx="1439.2" cy="1234.5" r="1.8"/><circle cx="1455.5" cy="1233.3" r="2.0"/><circle cx="1459.5" cy="1232.3" r="1.7"/><circle cx="1470.2" cy="1235.0" r="1.7"/><circle cx="1477.5" cy="1233.8" r="1.8"/><circle cx="1484.2" cy="1231.9" r="1.9"/><circle cx="1359.8" cy="1238.6" r="2.1"/><circle cx="1378.3" cy="1241.1" r="1.8"/><circle cx="1385.3" cy="1238.0" r="2.0"/><circle cx="1394.7" cy="1237.9" r="2.0"/><circle cx="1401.5" cy="1239.6" r="1.7"/><circle cx="1410.4" cy="1241.1" r="2.1"/><circle cx="1416.4" cy="1240.8" r="1.7"/><circle cx="1426.5" cy="1239.9" r="2.1"/><circle cx="1431.9" cy="1242.0" r="2.1"/><circle cx="1442.1" cy="1238.0" r="2.2"/><circle cx="1448.3" cy="1242.4" r="1.8"/><circle cx="1456.3" cy="1239.6" r="1.6"/><circle cx="1467.0" cy="1241.6" r="1.7"/><circle cx="1479.4" cy="1238.1" r="1.7"/><circle cx="1356.4" cy="1249.1" r="2.2"/><circle cx="1364.3" cy="1247.9" r="1.7"/><circle cx="1383.6" cy="1245.9" r="2.0"/><circle cx="1387.9" cy="1244.7" r="2.1"/><circle cx="1398.8" cy="1245.1" r="2.1"/><circle cx="1420.0" cy="1247.1" r="1.9"/><circle cx="1427.7" cy="1248.4" r="2.1"/><circle cx="1439.5" cy="1249.0" r="1.8"/><circle cx="1443.2" cy="1248.7" r="2.1"/><circle cx="1453.9" cy="1248.6" r="1.9"/><circle cx="1461.6" cy="1247.6" r="2.2"/><circle cx="1470.1" cy="1248.5" r="2.0"/><circle cx="1485.8" cy="1246.0" r="2.0"/><circle cx="1354.8" cy="1251.7" r="1.6"/><circle cx="1363.2" cy="1255.5" r="2.2"/><circle cx="1369.4" cy="1252.2" r="1.9"/><circle cx="1378.3" cy="1252.6" r="1.8"/><circle cx="1395.9" cy="1254.2" r="2.1"/><circle cx="1400.9" cy="1252.1" r="1.7"/><circle cx="1410.7" cy="1255.7" r="1.7"/><circle cx="1419.3" cy="1252.1" r="1.6"/><circle cx="1425.0" cy="1253.1" r="2.1"/><circle cx="1434.9" cy="1252.3" r="1.7"/><circle cx="1450.9" cy="1251.6" r="2.0"/><circle cx="1455.6" cy="1252.1" r="1.7"/><circle cx="1466.5" cy="1254.5" r="2.1"/><circle cx="1473.7" cy="1253.8" r="1.8"/><circle cx="1481.2" cy="1254.5" r="1.8"/><circle cx="1490.3" cy="1256.0" r="1.7"/><circle cx="1359.6" cy="1262.6" r="2.1"/><circle cx="1366.6" cy="1258.7" r="2.2"/><circle cx="1374.5" cy="1262.6" r="2.3"/><circle cx="1381.3" cy="1262.8" r="1.8"/><circle cx="1388.1" cy="1263.1" r="2.1"/><circle cx="1397.3" cy="1262.0" r="1.7"/><circle cx="1404.4" cy="1260.0" r="2.3"/><circle cx="1419.7" cy="1260.7" r="1.8"/><circle cx="1431.9" cy="1261.7" r="1.8"/><circle cx="1439.7" cy="1262.2" r="2.3"/><circle cx="1447.2" cy="1263.3" r="2.2"/><circle cx="1454.8" cy="1259.9" r="1.7"/><circle cx="1460.4" cy="1260.5" r="1.8"/><circle cx="1467.3" cy="1259.7" r="1.9"/><circle cx="1479.5" cy="1263.0" r="2.2"/><circle cx="1484.8" cy="1262.3" r="1.6"/><circle cx="1387.8" cy="1266.3" r="2.0"/><circle cx="1423.6" cy="1266.5" r="2.3"/><circle cx="1439.3" cy="1266.8" r="2.2"/><circle cx="1480.4" cy="1266.8" r="1.8"/></g>
<g fill="#3c3494" opacity="0.85"><ellipse cx="1405.4" cy="1197.4" rx="1.0" ry="0.8"/><ellipse cx="1372.0" cy="1181.7" rx="1.4" ry="0.8"/><ellipse cx="1440.6" cy="1251.9" rx="1.3" ry="0.7"/><ellipse cx="1477.7" cy="1243.1" rx="1.5" ry="1.0"/><ellipse cx="1456.2" cy="1244.0" rx="1.0" ry="0.9"/><ellipse cx="1407.3" cy="1246.9" rx="0.9" ry="0.9"/><ellipse cx="1401.5" cy="1244.8" rx="1.0" ry="1.0"/><ellipse cx="1468.3" cy="1251.0" rx="0.9" ry="1.1"/><ellipse cx="1454.8" cy="1229.6" rx="1.3" ry="0.6"/><ellipse cx="1471.2" cy="1215.8" rx="1.1" ry="0.8"/><ellipse cx="1459.8" cy="1240.8" rx="1.4" ry="0.7"/><ellipse cx="1402.1" cy="1184.1" rx="0.9" ry="0.8"/><ellipse cx="1361.0" cy="1242.3" rx="1.0" ry="0.6"/><ellipse cx="1366.4" cy="1236.4" rx="0.9" ry="0.8"/><ellipse cx="1410.1" cy="1242.9" rx="1.5" ry="0.8"/><ellipse cx="1440.2" cy="1252.7" rx="1.1" ry="1.0"/><ellipse cx="1453.4" cy="1190.7" rx="1.4" ry="0.9"/><ellipse cx="1371.4" cy="1220.0" rx="1.4" ry="0.9"/><ellipse cx="1420.8" cy="1201.9" rx="1.4" ry="0.9"/><ellipse cx="1384.8" cy="1196.1" rx="1.1" ry="1.1"/><ellipse cx="1448.5" cy="1170.9" rx="1.4" ry="0.6"/><ellipse cx="1434.8" cy="1203.6" rx="1.3" ry="0.8"/><ellipse cx="1369.7" cy="1213.3" rx="1.4" ry="1.0"/><ellipse cx="1404.2" cy="1181.2" rx="1.3" ry="1.0"/><ellipse cx="1386.2" cy="1251.5" rx="1.5" ry="0.8"/><ellipse cx="1407.3" cy="1233.1" rx="1.5" ry="0.7"/><ellipse cx="1397.0" cy="1192.6" rx="1.3" ry="0.7"/><ellipse cx="1429.0" cy="1210.8" rx="1.3" ry="0.7"/><ellipse cx="1482.5" cy="1263.9" rx="1.2" ry="1.0"/><ellipse cx="1381.5" cy="1254.4" rx="1.2" ry="1.0"/><ellipse cx="1471.0" cy="1196.1" rx="1.4" ry="0.7"/><ellipse cx="1360.7" cy="1211.0" rx="1.4" ry="1.1"/><ellipse cx="1482.3" cy="1211.9" rx="1.5" ry="0.9"/><ellipse cx="1376.4" cy="1224.7" rx="1.4" ry="0.8"/><ellipse cx="1436.2" cy="1185.1" rx="1.0" ry="0.8"/><ellipse cx="1424.6" cy="1207.4" rx="0.9" ry="0.6"/><ellipse cx="1402.0" cy="1233.8" rx="1.3" ry="0.7"/><ellipse cx="1391.0" cy="1212.5" rx="0.9" ry="0.9"/><ellipse cx="1475.7" cy="1179.1" rx="1.2" ry="1.0"/><ellipse cx="1455.4" cy="1233.3" rx="1.3" ry="0.7"/><ellipse cx="1467.1" cy="1255.9" rx="0.8" ry="1.1"/><ellipse cx="1415.4" cy="1166.8" rx="0.8" ry="1.0"/><ellipse cx="1446.1" cy="1172.7" rx="1.1" ry="0.9"/><ellipse cx="1487.9" cy="1193.3" rx="1.3" ry="0.7"/><ellipse cx="1383.6" cy="1174.7" rx="1.1" ry="0.9"/><ellipse cx="1397.2" cy="1174.8" rx="1.0" ry="0.6"/><ellipse cx="1382.8" cy="1191.2" rx="1.2" ry="0.7"/><ellipse cx="1420.3" cy="1204.4" rx="1.5" ry="0.8"/><ellipse cx="1481.0" cy="1207.7" rx="0.9" ry="0.9"/><ellipse cx="1376.5" cy="1175.6" rx="0.9" ry="1.0"/></g>
</g>
<rect x="1356.8" y="1156.8" width="132.2" height="107.9" fill="none" stroke="#1a1a1a" stroke-width="1.6"/>
<clipPath id="c40_3"><rect x="1496.1" y="1157.6" width="130.9" height="106.3"/></clipPath>
<g clip-path="url(#c40_3)">
<rect x="1496.1" y="1157.6" width="130.9" height="106.3" fill="#d3a6d8"/>
<path d="M1587.7 1153.8L1580.9 1151.5M1587.7 1153.8L1593.6 1148.8M1587.7 1153.8L1589.7 1161.4M1582.4 1166.6L1589.7 1161.4M1582.4 1166.6L1576.2 1161.2M1580.4 1151.8L1576.2 1161.2M1551.4 1171.6L1553.1 1178.4M1551.4 1171.6L1547.6 1168.6M1547.6 1168.6L1540.6 1170.8M1540.6 1170.8L1537.7 1178.9M1537.7 1178.9L1547.3 1185.5M1553.1 1178.4L1547.3 1185.5M1524.8 1150.1L1529.6 1154.5M1520.1 1151.3L1515.5 1160.2M1529.6 1154.5L1526.5 1162.2M1515.5 1160.2L1526.5 1162.2M1484.4 1195.3L1492.0 1204.8M1484.4 1195.3L1494.3 1191.1M1494.3 1191.1L1494.8 1191.2M1494.8 1191.2L1499.3 1199.1M1499.3 1199.1L1492.0 1204.8M1507.0 1177.2L1513.0 1184.3M1507.0 1177.2L1499.5 1184.4M1499.5 1184.4L1499.3 1187.1M1499.3 1187.1L1509.3 1191.3M1509.3 1191.3L1513.4 1187.3M1513.4 1187.3L1513.0 1184.3M1507.4 1200.0L1505.1 1200.6M1507.4 1200.0L1509.3 1191.3M1494.8 1191.2L1499.3 1187.1M1499.3 1199.1L1505.1 1200.6M1479.8 1154.1L1491.4 1149.6M1510.4 1160.0L1507.9 1152.3M1510.4 1160.0L1501.6 1161.2M1501.6 1161.2L1497.9 1159.0M1497.9 1159.0L1498.6 1152.3M1513.5 1161.9L1515.5 1160.2M1513.5 1161.9L1510.4 1160.0M1506.6 1173.9L1514.0 1168.3M1506.6 1173.9L1503.9 1172.5M1514.0 1168.3L1513.5 1161.9M1503.9 1172.5L1501.6 1161.2M1479.8 1154.1L1491.6 1163.1M1491.6 1163.1L1497.9 1159.0M1627.0 1202.1L1642.9 1193.1M1627.0 1202.1L1629.2 1209.4M1629.2 1209.4L1644.4 1216.2M1551.5 1369.5L1547.9 1260.9M1547.9 1260.9L1550.0 1259.9M1552.6 1363.9L1562.4 1260.0M1550.0 1259.9L1562.4 1260.0M1495.2 1219.3L1494.8 1212.1M1495.2 1219.3L1488.4 1224.3M1477.2 1214.5L1491.2 1209.5M1491.2 1209.5L1494.8 1212.1M1502.5 1224.0L1495.2 1219.3M1502.5 1224.0L1506.1 1217.8M1506.1 1217.8L1505.7 1215.2M1505.7 1215.2L1500.7 1211.4M1500.7 1211.4L1494.8 1212.1M1492.0 1204.8L1491.2 1209.5M1505.1 1200.6L1500.7 1211.4M1582.2 1169.9L1590.1 1176.0M1582.2 1169.9L1582.4 1166.6M1589.7 1161.4L1595.4 1163.7M1595.4 1163.7L1596.3 1168.5M1590.1 1176.0L1596.3 1168.5M1559.2 1160.1L1566.5 1156.5M1559.2 1160.1L1553.1 1157.5M1559.9 1149.1L1566.5 1156.2M1566.5 1156.2L1566.5 1156.5M1552.7 1152.0L1553.1 1157.5M1551.4 1171.6L1559.8 1167.7M1559.8 1167.7L1559.2 1160.1M1547.8 1163.8L1547.6 1168.6M1547.8 1163.8L1553.1 1157.5M1571.7 1149.6L1566.5 1156.2M1576.2 1161.2L1570.5 1161.8M1570.5 1161.8L1566.5 1156.5M1568.3 1167.3L1564.6 1169.1M1568.3 1167.3L1575.9 1175.2M1564.6 1169.1L1564.0 1180.7M1575.9 1175.2L1575.4 1177.5M1575.4 1177.5L1569.6 1182.1M1564.0 1180.7L1569.6 1182.1M1559.8 1167.7L1564.6 1169.1M1570.5 1161.8L1568.3 1167.3M1582.2 1169.9L1575.9 1175.2M1561.6 1181.3L1553.1 1178.4M1561.6 1181.3L1564.0 1180.7M1536.1 1158.4L1541.3 1157.6M1536.1 1158.4L1530.1 1154.5M1534.9 1150.4L1530.1 1154.5M1543.8 1151.0L1541.3 1157.6M1547.8 1163.8L1541.3 1157.6M1540.6 1170.8L1535.8 1167.8M1535.8 1167.8L1536.1 1158.4M1529.6 1154.5L1530.1 1154.5M1522.0 1176.2L1527.8 1180.5M1522.0 1176.2L1520.6 1171.4M1520.6 1171.4L1526.9 1166.7M1529.9 1180.1L1527.8 1180.5M1529.9 1180.1L1531.3 1168.3M1531.3 1168.3L1526.9 1166.7M1521.3 1190.7L1523.9 1189.6M1521.3 1190.7L1513.4 1187.3M1523.9 1189.6L1527.8 1180.5M1513.0 1184.3L1522.0 1176.2M1506.6 1173.9L1507.0 1177.2M1514.0 1168.3L1520.6 1171.4M1526.5 1162.2L1526.9 1166.7M1531.8 1193.7L1523.9 1189.6M1531.8 1193.7L1535.6 1190.3M1535.6 1190.3L1533.6 1180.7M1533.6 1180.7L1529.9 1180.1M1535.8 1167.8L1531.3 1168.3M1533.6 1180.7L1537.7 1178.9M1523.8 1205.0L1525.5 1210.1M1523.8 1205.0L1520.1 1202.1M1520.1 1202.1L1511.2 1202.6M1525.5 1210.1L1520.7 1215.6M1511.2 1202.6L1511.1 1210.1M1511.1 1210.1L1519.2 1215.9M1520.7 1215.6L1519.2 1215.9M1531.8 1193.7L1532.1 1197.5M1521.3 1190.7L1520.1 1202.1M1532.1 1197.5L1523.8 1205.0M1507.4 1200.0L1511.2 1202.6M1505.7 1215.2L1511.1 1210.1M1506.1 1217.8L1514.5 1220.1M1514.5 1220.1L1519.2 1215.9M1498.3 1172.5L1491.2 1167.7M1498.3 1172.5L1494.6 1179.5M1491.2 1167.7L1480.2 1177.4M1494.6 1179.5L1487.6 1180.3M1503.9 1172.5L1498.3 1172.5M1491.6 1163.1L1491.2 1167.7M1499.5 1184.4L1494.6 1179.5M1494.3 1191.1L1487.6 1180.3M1629.6 1248.4L1634.5 1254.9M1629.6 1248.4L1620.0 1253.1M1623.6 1258.4L1620.0 1253.1M1623.6 1258.4L1631.6 1257.7M1631.6 1257.7L1634.5 1254.9M1627.6 1242.2L1635.9 1236.5M1627.6 1242.2L1629.6 1248.4M1626.7 1300.8L1617.3 1266.9M1626.7 1300.8L1631.6 1257.7M1617.3 1266.9L1623.6 1258.4M1499.2 1263.3L1507.6 1338.5M1499.2 1263.3L1497.2 1261.4M1507.6 1338.5L1488.1 1262.7M1497.2 1261.4L1488.1 1262.7M1499.2 1263.3L1509.3 1260.3M1508.0 1340.5L1513.2 1264.2M1513.2 1264.2L1509.3 1260.3M1547.9 1260.9L1545.9 1258.9M1550.0 1259.9L1556.8 1250.1M1548.5 1245.0L1556.8 1250.1M1548.5 1245.0L1545.3 1253.4M1545.3 1253.4L1545.9 1258.9M1544.7 1241.5L1534.9 1245.7M1544.7 1241.5L1547.7 1242.7M1548.5 1245.0L1547.7 1242.7M1545.3 1253.4L1534.7 1250.1M1534.9 1245.7L1534.7 1250.1M1534.9 1245.7L1530.9 1242.5M1534.7 1250.1L1532.6 1254.4M1532.6 1254.4L1523.9 1250.4M1523.9 1250.4L1525.9 1243.1M1525.9 1243.1L1530.9 1242.5M1497.2 1261.4L1498.9 1251.7M1489.5 1249.7L1498.9 1251.7M1489.6 1230.7L1494.3 1232.8M1494.3 1232.8L1494.3 1239.2M1494.3 1239.2L1489.2 1246.0M1502.5 1224.0L1503.1 1229.9M1503.1 1229.9L1494.3 1232.8M1607.4 1161.4L1599.8 1160.4M1607.4 1161.4L1610.8 1157.2M1610.8 1157.2L1611.9 1151.8M1599.3 1153.0L1608.4 1148.8M1599.3 1153.0L1599.8 1160.4M1595.4 1163.7L1599.8 1160.4M1609.4 1168.6L1607.4 1161.4M1609.4 1168.6L1603.0 1172.8M1603.0 1172.8L1596.3 1168.5M1593.6 1148.8L1599.3 1153.0M1609.4 1168.6L1611.4 1169.5M1611.4 1169.5L1619.0 1168.1M1610.8 1157.2L1620.0 1163.5M1620.0 1163.5L1619.0 1168.1M1562.4 1260.0L1562.5 1259.9M1562.5 1259.9L1573.5 1260.8M1567.3 1306.5L1574.2 1262.0M1573.5 1260.8L1574.2 1262.0M1567.3 1306.5L1585.1 1262.7M1574.2 1262.0L1585.1 1262.7M1617.3 1266.9L1614.3 1264.1M1599.3 1310.1L1603.9 1263.9M1614.3 1264.1L1603.9 1263.9M1535.6 1190.3L1546.2 1191.4M1547.3 1185.5L1547.0 1190.7M1546.2 1191.4L1547.0 1190.7M1514.5 1220.1L1514.1 1230.6M1503.1 1229.9L1507.2 1232.4M1507.2 1232.4L1514.1 1230.6M1537.1 1259.3L1532.6 1255.7M1537.1 1259.3L1533.5 1281.8M1532.6 1255.7L1526.2 1261.5M1533.5 1281.8L1526.2 1261.5M1545.9 1258.9L1537.1 1259.3M1532.6 1254.4L1532.6 1255.7M1520.0 1252.7L1520.2 1259.7M1520.0 1252.7L1523.9 1250.4M1520.2 1259.7L1526.2 1261.5M1520.2 1259.7L1513.2 1264.2M1538.5 1232.4L1532.1 1234.7M1538.5 1232.4L1533.4 1222.4M1532.1 1234.7L1524.8 1229.1M1533.4 1222.4L1525.8 1226.5M1525.8 1226.5L1524.8 1229.1M1540.5 1232.7L1544.7 1241.5M1540.5 1232.7L1538.5 1232.4M1530.9 1242.5L1532.1 1234.7M1525.9 1243.1L1520.8 1240.1M1520.8 1240.1L1519.3 1232.2M1519.3 1232.2L1524.8 1229.1M1534.6 1220.4L1532.2 1212.1M1534.6 1220.4L1533.4 1222.4M1532.2 1212.1L1525.5 1210.1M1520.7 1215.6L1525.8 1226.5M1514.1 1230.6L1519.3 1232.2M1501.6 1244.3L1500.3 1251.1M1501.6 1244.3L1507.0 1239.4M1507.0 1239.4L1513.8 1246.5M1507.4 1253.7L1513.8 1248.0M1507.4 1253.7L1500.3 1251.1M1513.8 1248.0L1513.8 1246.5M1498.9 1251.7L1500.3 1251.1M1494.3 1239.2L1501.6 1244.3M1507.2 1232.4L1507.0 1239.4M1520.8 1240.1L1513.8 1246.5M1520.0 1252.7L1513.8 1248.0M1509.3 1260.3L1507.4 1253.7M1590.1 1176.0L1590.9 1181.2M1603.0 1172.8L1602.6 1181.0M1602.6 1181.0L1594.7 1183.8M1590.9 1181.2L1594.7 1183.8M1575.4 1177.5L1583.7 1183.8M1590.9 1181.2L1583.7 1183.8M1569.6 1182.1L1571.6 1188.7M1571.6 1188.7L1576.7 1192.5M1576.7 1192.5L1580.5 1191.6M1583.7 1183.8L1580.5 1191.6M1611.4 1169.5L1613.0 1178.6M1602.6 1181.0L1604.2 1181.8M1604.2 1181.8L1613.0 1178.6M1619.0 1168.1L1623.3 1172.7M1620.3 1179.1L1623.3 1172.7M1620.3 1179.1L1616.7 1180.5M1613.0 1178.6L1616.7 1180.5M1614.6 1151.2L1621.3 1154.0M1621.3 1154.0L1629.0 1148.3M1620.0 1163.5L1623.2 1160.1M1621.3 1154.0L1623.2 1160.1M1633.1 1175.4L1626.8 1172.5M1626.8 1172.5L1630.7 1160.9M1637.7 1158.0L1630.7 1160.9M1620.3 1179.1L1627.9 1187.0M1628.8 1186.8L1627.9 1187.0M1628.8 1186.8L1633.1 1175.4M1623.3 1172.7L1626.8 1172.5M1642.9 1193.1L1628.8 1186.8M1623.2 1160.1L1630.7 1160.9M1629.0 1148.3L1637.7 1158.0M1547.7 1242.7L1554.7 1236.2M1554.7 1236.2L1562.8 1244.2M1556.8 1250.1L1558.8 1250.3M1562.8 1244.2L1558.8 1250.3M1562.5 1259.9L1562.4 1255.0M1562.4 1255.0L1558.8 1250.3M1555.4 1220.5L1546.3 1225.4M1555.4 1220.5L1559.4 1223.2M1559.4 1223.2L1560.8 1230.4M1546.2 1226.2L1555.0 1235.3M1546.2 1226.2L1546.3 1225.4M1555.0 1235.3L1560.8 1230.4M1540.5 1232.7L1546.2 1226.2M1554.7 1236.2L1555.0 1235.3M1534.6 1220.4L1542.8 1221.1M1542.8 1221.1L1546.3 1225.4M1566.9 1232.5L1560.8 1230.4M1566.9 1232.5L1567.4 1242.7M1567.4 1242.7L1562.8 1244.2M1620.0 1253.1L1615.9 1250.7M1614.3 1264.1L1612.2 1253.6M1615.9 1250.7L1612.2 1253.6M1594.7 1183.8L1594.8 1190.7M1580.5 1191.6L1588.2 1196.9M1594.8 1190.7L1588.2 1196.9M1573.9 1200.9L1576.7 1192.5M1573.9 1200.9L1579.1 1204.9M1579.1 1204.9L1588.3 1197.5M1588.3 1197.5L1588.2 1196.9M1629.2 1209.4L1620.9 1215.7M1644.4 1216.2L1626.9 1225.2M1620.9 1215.7L1621.5 1221.3M1621.5 1221.3L1626.9 1225.2M1635.9 1236.5L1627.0 1226.8M1626.9 1225.2L1627.0 1226.8M1627.9 1187.0L1624.0 1191.2M1616.7 1180.5L1615.1 1189.1M1615.1 1189.1L1624.0 1191.2M1627.0 1202.1L1624.3 1200.3M1624.3 1200.3L1624.0 1191.2M1577.2 1240.8L1569.6 1244.0M1577.2 1240.8L1580.5 1242.2M1580.5 1242.2L1583.3 1250.7M1583.3 1250.7L1575.1 1253.3M1569.6 1244.0L1571.6 1250.8M1575.1 1253.3L1571.6 1250.8M1567.4 1242.7L1569.6 1244.0M1562.4 1255.0L1571.6 1250.8M1573.5 1260.8L1575.1 1253.3M1585.1 1262.7L1587.6 1261.1M1583.3 1250.7L1587.0 1252.4M1587.0 1252.4L1587.6 1261.1M1599.3 1310.1L1592.3 1264.3M1603.9 1263.9L1601.3 1260.8M1592.3 1264.3L1601.3 1260.8M1592.3 1264.3L1587.6 1261.1M1612.2 1253.6L1602.6 1252.6M1601.3 1260.8L1602.6 1252.6M1588.0 1235.5L1579.8 1229.9M1588.0 1235.5L1580.5 1242.2M1577.2 1240.8L1574.8 1230.3M1579.8 1229.9L1574.8 1230.3M1566.9 1232.5L1573.6 1229.7M1574.8 1230.3L1573.6 1229.7M1604.0 1224.4L1603.8 1227.5M1604.0 1224.4L1608.0 1220.1M1608.0 1220.1L1616.9 1224.4M1616.9 1224.4L1614.0 1230.8M1603.8 1227.5L1614.0 1230.8M1561.6 1181.3L1559.3 1191.6M1571.6 1188.7L1565.3 1193.4M1565.3 1193.4L1559.3 1191.6M1547.0 1190.7L1555.8 1193.9M1559.3 1191.6L1555.8 1193.9M1545.4 1212.7L1550.1 1210.9M1545.4 1212.7L1537.2 1209.0M1550.1 1210.9L1550.2 1205.6M1550.2 1205.6L1543.9 1199.5M1537.2 1209.0L1538.9 1202.1M1538.9 1202.1L1543.9 1199.5M1542.8 1221.1L1545.4 1212.7M1555.4 1220.5L1554.1 1213.7M1554.1 1213.7L1550.1 1210.9M1532.2 1212.1L1537.2 1209.0M1546.2 1191.4L1543.9 1199.5M1557.2 1200.5L1555.8 1193.9M1557.2 1200.5L1550.2 1205.6M1532.1 1197.5L1538.9 1202.1M1594.8 1190.7L1602.1 1195.7M1588.3 1197.5L1592.1 1203.8M1592.1 1203.8L1601.2 1202.9M1601.2 1202.9L1602.1 1195.7M1604.2 1181.8L1609.8 1191.6M1602.1 1195.7L1609.8 1191.6M1615.1 1189.1L1610.5 1191.8M1609.8 1191.6L1610.5 1191.8M1592.2 1243.1L1591.8 1249.7M1592.2 1243.1L1603.3 1239.2M1591.8 1249.7L1601.8 1251.5M1601.8 1251.5L1604.9 1240.8M1603.3 1239.2L1604.9 1240.8M1589.2 1235.4L1588.0 1235.5M1589.2 1235.4L1592.2 1243.1M1587.0 1252.4L1591.8 1249.7M1593.3 1231.5L1589.2 1235.4M1593.3 1231.5L1600.0 1231.9M1600.0 1231.9L1603.3 1239.2M1602.6 1252.6L1601.8 1251.5M1579.1 1204.9L1580.7 1210.3M1592.1 1203.8L1589.9 1210.2M1580.7 1210.3L1589.9 1210.2M1611.8 1240.1L1614.2 1231.4M1611.8 1240.1L1617.0 1244.3M1614.2 1231.4L1622.5 1233.8M1617.0 1244.3L1624.6 1241.3M1624.6 1241.3L1622.5 1233.8M1600.0 1231.9L1603.8 1227.5M1614.0 1230.8L1614.2 1231.4M1604.9 1240.8L1611.8 1240.1M1615.9 1250.7L1617.0 1244.3M1621.5 1221.3L1616.9 1224.4M1627.0 1226.8L1622.5 1233.8M1627.6 1242.2L1624.6 1241.3M1557.2 1200.5L1561.8 1203.3M1565.3 1193.4L1567.3 1202.3M1561.8 1203.3L1567.3 1202.3M1554.1 1213.7L1559.7 1210.8M1561.8 1203.3L1559.7 1210.8M1573.9 1200.9L1568.5 1202.7M1568.5 1202.7L1567.3 1202.3M1604.0 1210.3L1603.6 1205.7M1604.0 1210.3L1609.1 1214.4M1603.6 1205.7L1614.7 1201.5M1609.1 1214.4L1615.8 1212.7M1615.8 1212.7L1615.8 1202.1M1615.8 1202.1L1614.7 1201.5M1601.2 1202.9L1603.6 1205.7M1610.5 1191.8L1614.7 1201.5M1620.9 1215.7L1615.8 1212.7M1608.0 1220.1L1609.1 1214.4M1624.3 1200.3L1615.8 1202.1M1579.6 1212.1L1579.3 1217.6M1579.6 1212.1L1569.5 1211.5M1579.3 1217.6L1572.9 1222.3M1572.9 1222.3L1567.3 1218.4M1567.3 1218.4L1567.2 1214.7M1569.5 1211.5L1567.2 1214.7M1580.7 1210.3L1579.6 1212.1M1568.5 1202.7L1569.5 1211.5M1579.8 1229.9L1585.5 1222.1M1573.6 1229.7L1572.9 1222.3M1585.5 1222.1L1579.3 1217.6M1559.4 1223.2L1567.3 1218.4M1559.7 1210.8L1567.2 1214.7M1590.3 1210.9L1586.6 1222.1M1590.3 1210.9L1597.0 1215.1M1597.1 1218.1L1590.6 1224.2M1597.1 1218.1L1597.0 1215.1M1590.6 1224.2L1586.6 1222.1M1589.9 1210.2L1590.3 1210.9M1585.5 1222.1L1586.6 1222.1M1604.0 1210.3L1597.0 1215.1M1593.3 1231.5L1590.6 1224.2M1604.0 1224.4L1597.1 1218.1" stroke="#f6e6f6" stroke-width="1.3" opacity="0.7" fill="none" filter="url(#sb05)"/>
<g fill="#9268c2" opacity="0.9" filter="url(#sb05)"><circle cx="1504.9" cy="1156.4" r="2.6"/><circle cx="1522.2" cy="1158.8" r="3.2"/><circle cx="1546.6" cy="1156.0" r="3.2"/><circle cx="1559.3" cy="1155.2" r="2.9"/><circle cx="1573.6" cy="1155.1" r="3.0"/><circle cx="1582.6" cy="1159.1" r="2.6"/><circle cx="1594.8" cy="1155.9" r="2.5"/><circle cx="1604.2" cy="1155.3" r="2.4"/><circle cx="1617.6" cy="1158.1" r="2.8"/><circle cx="1626.7" cy="1155.2" r="2.4"/><circle cx="1498.9" cy="1166.4" r="2.8"/><circle cx="1506.1" cy="1165.0" r="2.6"/><circle cx="1521.3" cy="1163.8" r="2.3"/><circle cx="1540.0" cy="1163.1" r="2.5"/><circle cx="1555.7" cy="1163.7" r="2.5"/><circle cx="1563.2" cy="1163.1" r="2.5"/><circle cx="1589.6" cy="1168.9" r="2.6"/><circle cx="1602.7" cy="1166.5" r="3.0"/><circle cx="1614.0" cy="1163.3" r="2.9"/><circle cx="1625.5" cy="1165.7" r="2.7"/><circle cx="1499.0" cy="1178.7" r="3.1"/><circle cx="1515.1" cy="1176.8" r="2.4"/><circle cx="1544.6" cy="1177.6" r="2.3"/><circle cx="1560.2" cy="1173.4" r="2.7"/><circle cx="1568.5" cy="1173.9" r="2.7"/><circle cx="1583.1" cy="1177.3" r="2.5"/><circle cx="1597.1" cy="1175.2" r="2.5"/><circle cx="1608.7" cy="1175.7" r="3.1"/><circle cx="1616.1" cy="1174.4" r="2.7"/><circle cx="1626.5" cy="1179.4" r="2.3"/><circle cx="1493.9" cy="1183.9" r="3.1"/><circle cx="1505.2" cy="1185.1" r="2.4"/><circle cx="1520.7" cy="1183.1" r="2.3"/><circle cx="1530.8" cy="1187.4" r="2.6"/><circle cx="1555.6" cy="1186.6" r="2.9"/><circle cx="1564.8" cy="1188.8" r="2.4"/><circle cx="1577.3" cy="1185.0" r="2.7"/><circle cx="1587.4" cy="1189.2" r="2.3"/><circle cx="1602.1" cy="1189.0" r="2.2"/><circle cx="1611.5" cy="1183.7" r="2.6"/><circle cx="1620.4" cy="1185.3" r="2.3"/><circle cx="1502.0" cy="1192.7" r="3.2"/><circle cx="1515.4" cy="1195.5" r="2.5"/><circle cx="1526.0" cy="1196.6" r="2.5"/><circle cx="1537.9" cy="1195.5" r="2.9"/><circle cx="1551.0" cy="1199.3" r="2.4"/><circle cx="1569.6" cy="1195.3" r="3.2"/><circle cx="1580.8" cy="1198.9" r="2.3"/><circle cx="1595.9" cy="1198.1" r="2.7"/><circle cx="1607.6" cy="1199.5" r="2.9"/><circle cx="1618.1" cy="1194.9" r="3.0"/><circle cx="1498.6" cy="1206.1" r="3.2"/><circle cx="1506.0" cy="1209.0" r="2.7"/><circle cx="1516.2" cy="1209.1" r="2.7"/><circle cx="1532.4" cy="1203.7" r="2.9"/><circle cx="1543.9" cy="1206.6" r="2.8"/><circle cx="1556.4" cy="1206.7" r="2.3"/><circle cx="1564.6" cy="1209.1" r="3.0"/><circle cx="1585.4" cy="1204.6" r="2.3"/><circle cx="1596.9" cy="1208.7" r="2.9"/><circle cx="1610.7" cy="1207.7" r="2.9"/><circle cx="1620.9" cy="1207.7" r="2.9"/><circle cx="1499.9" cy="1217.2" r="3.2"/><circle cx="1511.8" cy="1215.2" r="2.2"/><circle cx="1539.8" cy="1215.6" r="3.1"/><circle cx="1548.3" cy="1218.3" r="2.4"/><circle cx="1561.1" cy="1215.8" r="2.9"/><circle cx="1585.5" cy="1215.9" r="2.9"/><circle cx="1613.8" cy="1219.5" r="3.1"/><circle cx="1628.6" cy="1217.8" r="2.6"/><circle cx="1495.2" cy="1224.4" r="3.0"/><circle cx="1509.8" cy="1222.9" r="2.8"/><circle cx="1518.9" cy="1223.3" r="2.9"/><circle cx="1533.0" cy="1228.9" r="2.8"/><circle cx="1538.9" cy="1225.9" r="2.7"/><circle cx="1553.4" cy="1227.6" r="2.6"/><circle cx="1566.7" cy="1225.1" r="2.7"/><circle cx="1579.6" cy="1224.0" r="2.5"/><circle cx="1585.6" cy="1228.3" r="2.7"/><circle cx="1597.0" cy="1224.0" r="2.7"/><circle cx="1611.1" cy="1225.0" r="2.4"/><circle cx="1620.3" cy="1229.1" r="2.5"/><circle cx="1499.9" cy="1238.9" r="2.9"/><circle cx="1514.1" cy="1239.4" r="2.7"/><circle cx="1526.7" cy="1237.0" r="3.1"/><circle cx="1536.6" cy="1238.6" r="2.6"/><circle cx="1547.5" cy="1233.4" r="2.6"/><circle cx="1562.2" cy="1238.3" r="3.0"/><circle cx="1572.1" cy="1237.8" r="3.0"/><circle cx="1580.5" cy="1235.9" r="2.7"/><circle cx="1596.1" cy="1239.3" r="2.5"/><circle cx="1608.3" cy="1233.8" r="3.0"/><circle cx="1618.1" cy="1236.5" r="2.4"/><circle cx="1627.7" cy="1233.9" r="3.0"/><circle cx="1496.1" cy="1244.5" r="2.9"/><circle cx="1506.7" cy="1246.5" r="2.9"/><circle cx="1520.9" cy="1246.8" r="2.3"/><circle cx="1528.3" cy="1248.8" r="2.3"/><circle cx="1541.2" cy="1249.3" r="2.8"/><circle cx="1556.9" cy="1243.7" r="3.2"/><circle cx="1565.7" cy="1249.4" r="2.5"/><circle cx="1575.8" cy="1246.5" r="2.3"/><circle cx="1586.8" cy="1242.9" r="3.0"/><circle cx="1597.6" cy="1243.6" r="2.6"/><circle cx="1609.6" cy="1247.0" r="2.7"/><circle cx="1623.0" cy="1249.2" r="3.1"/><circle cx="1493.5" cy="1257.1" r="3.1"/><circle cx="1502.1" cy="1258.7" r="2.7"/><circle cx="1514.5" cy="1255.2" r="3.2"/><circle cx="1525.6" cy="1254.8" r="2.4"/><circle cx="1539.6" cy="1254.4" r="3.1"/><circle cx="1551.1" cy="1253.1" r="2.6"/><circle cx="1556.0" cy="1256.5" r="3.1"/><circle cx="1568.8" cy="1256.2" r="2.4"/><circle cx="1579.7" cy="1258.5" r="2.6"/><circle cx="1608.3" cy="1259.6" r="2.7"/><circle cx="1618.1" cy="1257.6" r="2.8"/><circle cx="1624.9" cy="1253.0" r="2.3"/><circle cx="1494.8" cy="1266.6" r="2.6"/><circle cx="1521.9" cy="1266.8" r="3.0"/><circle cx="1532.8" cy="1262.8" r="2.9"/><circle cx="1540.0" cy="1263.9" r="2.4"/><circle cx="1568.1" cy="1264.6" r="2.8"/><circle cx="1579.2" cy="1266.3" r="2.4"/><circle cx="1625.9" cy="1263.5" r="3.1"/></g>
<g fill="#3c3494" opacity="0.85"><ellipse cx="1526.6" cy="1219.9" rx="1.2" ry="0.8"/><ellipse cx="1500.9" cy="1192.2" rx="1.3" ry="0.9"/><ellipse cx="1562.9" cy="1170.6" rx="0.9" ry="0.8"/><ellipse cx="1550.6" cy="1196.2" rx="1.4" ry="0.7"/><ellipse cx="1625.2" cy="1183.2" rx="1.4" ry="0.7"/><ellipse cx="1573.0" cy="1197.7" rx="0.8" ry="1.0"/><ellipse cx="1602.2" cy="1186.2" rx="1.3" ry="0.8"/><ellipse cx="1625.3" cy="1163.4" rx="1.1" ry="0.7"/><ellipse cx="1577.9" cy="1240.3" rx="1.4" ry="0.9"/><ellipse cx="1546.8" cy="1242.6" rx="0.9" ry="0.7"/><ellipse cx="1594.6" cy="1204.4" rx="1.5" ry="0.6"/><ellipse cx="1556.6" cy="1180.2" rx="0.8" ry="0.6"/><ellipse cx="1508.0" cy="1196.8" rx="1.1" ry="0.9"/><ellipse cx="1534.0" cy="1232.2" rx="1.2" ry="1.1"/><ellipse cx="1518.3" cy="1211.9" rx="1.1" ry="0.8"/><ellipse cx="1608.8" cy="1179.9" rx="1.4" ry="0.8"/><ellipse cx="1540.0" cy="1223.0" rx="1.2" ry="0.7"/><ellipse cx="1507.2" cy="1259.1" rx="1.1" ry="0.7"/><ellipse cx="1582.0" cy="1214.2" rx="1.0" ry="0.8"/><ellipse cx="1606.7" cy="1193.6" rx="1.1" ry="1.1"/><ellipse cx="1543.3" cy="1200.3" rx="0.9" ry="0.9"/><ellipse cx="1583.1" cy="1205.0" rx="1.1" ry="0.7"/><ellipse cx="1599.5" cy="1206.2" rx="1.4" ry="0.8"/><ellipse cx="1592.1" cy="1160.7" rx="1.0" ry="1.1"/><ellipse cx="1585.4" cy="1229.4" rx="1.1" ry="0.8"/></g>
<ellipse cx="1500" cy="1166" rx="5" ry="4" fill="#f4eaf4"/>
</g>
<rect x="1495.3" y="1156.8" width="132.5" height="107.9" fill="none" stroke="#1a1a1a" stroke-width="1.6"/>
<clipPath id="c40_4"><rect x="1636.6" y="1157.6" width="130.6" height="106.3"/></clipPath>
<g clip-path="url(#c40_4)">
<rect x="1636.6" y="1157.6" width="130.6" height="106.3" fill="#cca8da"/>
<path d="M1636.9 1174.9L1632.4 1179.7M1636.9 1174.9L1636.4 1173.0M1623.3 1172.4L1632.4 1179.7M1623.3 1172.4L1633.9 1169.6M1636.4 1173.0L1633.9 1169.6M1600.1 1161.9L1633.1 1162.2M1633.1 1162.2L1634.8 1154.3M1630.5 1150.0L1634.8 1154.3M1634.2 1163.4L1633.9 1169.6M1634.2 1163.4L1633.1 1162.2M1634.2 1163.4L1641.9 1163.4M1636.4 1173.0L1642.5 1167.2M1642.5 1167.2L1641.9 1163.4M1780.7 1174.7L1769.6 1167.3M1769.6 1167.3L1772.5 1161.4M1641.5 1153.4L1639.9 1111.6M1641.5 1153.4L1646.5 1156.4M1649.9 1153.0L1646.5 1156.4M1649.9 1153.0L1647.9 1054.2M1634.8 1154.3L1641.5 1153.4M1641.9 1163.4L1646.7 1158.9M1646.7 1158.9L1646.5 1156.4M1691.3 1149.3L1688.2 1152.8M1688.2 1152.8L1680.0 1149.1M1670.0 1151.6L1675.2 1154.5M1675.2 1154.5L1680.0 1149.1M1665.0 1161.7L1661.7 1165.1M1665.0 1161.7L1664.9 1154.0M1664.9 1154.0L1659.8 1151.9M1661.7 1165.1L1656.8 1162.4M1656.8 1162.4L1657.9 1153.0M1659.8 1151.9L1657.9 1153.0M1670.0 1151.6L1664.9 1154.0M1651.1 1162.9L1646.7 1158.9M1651.1 1162.9L1656.8 1162.4M1649.9 1153.0L1657.9 1153.0M1642.5 1167.2L1647.4 1172.8M1651.1 1162.9L1650.5 1170.3M1647.4 1172.8L1650.5 1170.3M1636.9 1174.9L1644.3 1177.3M1644.3 1177.3L1646.2 1176.1M1647.4 1172.8L1646.2 1176.1M1661.8 1166.5L1661.7 1165.1M1661.8 1166.5L1658.2 1172.5M1650.5 1170.3L1658.2 1172.5M1632.4 1179.7L1631.8 1183.9M1621.3 1188.4L1631.8 1183.9M1769.6 1167.3L1766.5 1169.4M1766.5 1169.4L1761.1 1166.9M1761.1 1166.9L1759.6 1161.1M1772.5 1161.4L1764.7 1157.3M1759.6 1161.1L1764.7 1157.3M1772.4 1149.1L1764.8 1155.9M1764.7 1157.3L1764.8 1155.9M1707.2 1161.5L1708.2 1153.8M1707.2 1161.5L1700.3 1162.2M1700.3 1162.2L1698.1 1160.8M1698.1 1160.8L1699.5 1152.0M1708.2 1153.8L1699.5 1152.0M1687.1 1158.3L1688.2 1152.8M1687.1 1158.3L1694.2 1162.0M1694.2 1162.0L1698.1 1160.8M1762.1 1266.2L1768.8 1263.5M1772.5 1265.6L1768.8 1263.5M1766.5 1169.4L1767.0 1174.8M1755.6 1172.1L1761.1 1166.9M1755.6 1172.1L1756.0 1174.9M1756.0 1174.9L1760.8 1179.3M1760.8 1179.3L1767.0 1174.8M1778.2 1192.1L1771.1 1184.4M1771.1 1184.4L1772.5 1178.0M1772.5 1178.0L1767.0 1174.8M1717.6 1192.3L1721.9 1195.7M1717.6 1192.3L1707.9 1195.7M1716.2 1205.2L1707.9 1195.7M1716.2 1205.2L1720.7 1202.6M1720.7 1202.6L1721.9 1195.7M1716.2 1205.2L1715.9 1205.6M1707.9 1195.7L1706.6 1195.3M1715.9 1205.6L1704.5 1206.3M1704.5 1206.3L1700.9 1204.4M1706.6 1195.3L1701.6 1199.0M1700.9 1204.4L1701.6 1199.0M1697.2 1263.4L1701.9 1267.2M1697.2 1263.4L1690.5 1269.8M1705.2 1281.7L1701.9 1267.2M1729.5 1232.6L1730.8 1239.9M1729.5 1232.6L1725.2 1230.9M1730.8 1239.9L1727.1 1243.9M1727.1 1243.9L1718.6 1240.1M1725.2 1230.9L1719.6 1232.0M1718.6 1240.1L1719.6 1232.0M1704.5 1206.3L1707.3 1212.7M1700.9 1204.4L1697.9 1207.2M1697.9 1207.2L1703.5 1215.9M1707.3 1212.7L1703.5 1215.9M1755.2 1265.2L1746.0 1260.1M1755.2 1265.2L1745.0 1285.0M1746.0 1260.1L1743.6 1263.0M1743.6 1263.0L1745.0 1285.0M1762.1 1266.2L1758.0 1264.1M1755.2 1265.2L1758.0 1264.1M1758.0 1264.1L1758.5 1256.2M1758.5 1256.2L1751.8 1253.3M1746.0 1260.1L1746.0 1259.3M1746.0 1259.3L1751.8 1253.3M1682.6 1161.1L1675.8 1156.1M1682.6 1161.1L1681.5 1166.9M1675.8 1156.1L1670.6 1162.6M1670.6 1162.6L1674.1 1168.5M1681.5 1166.9L1677.0 1169.9M1677.0 1169.9L1674.1 1168.5M1687.1 1158.3L1682.6 1161.1M1675.2 1154.5L1675.8 1156.1M1686.6 1170.3L1692.6 1169.0M1686.6 1170.3L1681.5 1166.9M1692.6 1169.0L1694.2 1162.0M1665.0 1161.7L1670.6 1162.6M1661.8 1166.5L1666.8 1170.1M1666.8 1170.1L1674.1 1168.5M1717.6 1192.3L1716.2 1185.7M1716.2 1185.7L1713.0 1185.0M1706.6 1195.3L1706.3 1191.3M1713.0 1185.0L1706.3 1191.3M1694.8 1187.5L1702.1 1186.3M1694.8 1187.5L1695.5 1195.3M1701.6 1199.0L1695.5 1195.3M1706.3 1191.3L1702.1 1186.3M1692.6 1169.0L1696.0 1172.3M1700.3 1162.2L1701.4 1170.9M1696.0 1172.3L1701.4 1170.9M1694.0 1186.9L1693.0 1179.6M1694.0 1186.9L1685.1 1189.0M1693.0 1179.6L1687.4 1178.0M1687.4 1178.0L1681.6 1181.5M1681.6 1181.5L1682.0 1186.2M1685.1 1189.0L1682.0 1186.2M1694.8 1187.5L1694.0 1186.9M1702.1 1186.3L1704.3 1180.0M1694.4 1178.3L1704.3 1180.0M1694.4 1178.3L1693.0 1179.6M1686.6 1170.3L1687.4 1178.0M1696.0 1172.3L1694.4 1178.3M1675.9 1177.1L1681.6 1181.5M1675.9 1177.1L1677.0 1169.9M1668.7 1268.5L1683.1 1307.1M1668.7 1268.5L1667.3 1267.6M1667.3 1267.6L1663.2 1267.6M1649.0 1287.2L1663.2 1267.6M1663.2 1267.6L1658.3 1263.3M1651.8 1270.4L1658.3 1263.3M1621.4 1258.7L1632.6 1255.0M1629.5 1267.0L1635.9 1264.7M1632.6 1255.0L1635.3 1256.5M1635.3 1256.5L1635.9 1264.7M1645.9 1297.0L1639.9 1268.4M1639.9 1268.4L1635.9 1264.7M1696.2 1207.9L1697.9 1207.2M1696.2 1207.9L1693.5 1212.0M1696.5 1221.9L1702.2 1221.2M1696.5 1221.9L1693.7 1219.6M1703.5 1215.9L1702.2 1221.2M1693.5 1212.0L1693.7 1219.6M1695.5 1195.3L1689.3 1198.1M1685.1 1189.0L1685.2 1193.6M1685.2 1193.6L1689.3 1198.1M1696.2 1207.9L1688.5 1201.9M1688.5 1201.9L1689.3 1198.1M1682.0 1186.2L1676.5 1189.3M1679.0 1197.5L1685.2 1193.6M1679.0 1197.5L1675.6 1193.9M1676.5 1189.3L1675.6 1193.9M1644.3 1177.3L1643.3 1182.9M1631.8 1183.9L1636.9 1187.5M1643.3 1182.9L1636.9 1187.5M1629.5 1196.5L1638.3 1193.5M1636.9 1187.5L1638.3 1193.5M1710.4 1167.7L1717.4 1172.7M1710.4 1167.7L1705.0 1172.7M1705.0 1172.7L1706.2 1178.3M1717.6 1174.5L1717.4 1172.7M1717.6 1174.5L1708.7 1179.2M1708.7 1179.2L1706.2 1178.3M1707.2 1161.5L1710.5 1164.6M1710.5 1164.6L1710.4 1167.7M1701.4 1170.9L1705.0 1172.7M1704.3 1180.0L1706.2 1178.3M1728.5 1168.8L1727.7 1176.4M1728.5 1168.8L1721.9 1166.5M1721.9 1166.5L1717.4 1172.7M1721.1 1178.1L1727.7 1176.4M1721.1 1178.1L1717.6 1174.5M1716.2 1185.7L1720.1 1182.7M1721.1 1178.1L1720.1 1182.7M1713.0 1185.0L1708.7 1179.2M1710.5 1164.6L1715.7 1161.7M1721.9 1166.5L1721.0 1163.9M1721.0 1163.9L1715.7 1161.7M1764.8 1155.9L1761.6 1150.1M1738.8 1175.8L1737.8 1169.4M1738.8 1175.8L1729.5 1177.6M1728.5 1168.8L1732.7 1165.9M1729.5 1177.6L1727.7 1176.4M1737.8 1169.4L1732.7 1165.9M1721.0 1163.9L1725.7 1157.1M1725.7 1157.1L1733.0 1160.3M1732.7 1165.9L1733.0 1160.3M1725.7 1157.1L1723.8 1153.2M1723.8 1153.2L1731.8 1149.7M1735.7 1152.3L1735.5 1158.1M1733.0 1160.3L1735.5 1158.1M1745.9 1152.7L1743.3 1159.1M1745.9 1152.7L1753.3 1152.3M1753.3 1152.3L1755.2 1159.5M1743.3 1159.1L1745.1 1161.7M1745.1 1161.7L1751.1 1162.3M1755.2 1159.5L1751.1 1162.3M1741.8 1146.9L1745.9 1152.7M1735.5 1158.1L1743.3 1159.1M1759.6 1161.1L1755.2 1159.5M1743.3 1166.5L1745.1 1161.7M1743.3 1166.5L1737.8 1169.4M1747.7 1171.2L1743.3 1166.5M1747.7 1171.2L1752.0 1169.9M1752.0 1169.9L1751.1 1162.3M1755.6 1172.1L1752.0 1169.9M1757.1 1193.7L1760.6 1185.8M1757.1 1193.7L1762.6 1197.4M1762.6 1197.4L1768.6 1194.8M1768.6 1194.8L1762.5 1186.2M1762.5 1186.2L1760.8 1185.7M1760.8 1185.7L1760.6 1185.8M1771.1 1184.4L1762.5 1186.2M1773.1 1196.0L1768.6 1194.8M1760.8 1179.3L1760.8 1185.7M1770.3 1219.4L1763.7 1225.5M1770.3 1219.4L1777.6 1226.4M1777.6 1226.4L1770.5 1230.7M1770.5 1230.7L1765.3 1229.8M1763.7 1225.5L1765.3 1229.8M1720.6 1216.3L1720.6 1219.1M1720.6 1216.3L1715.6 1209.7M1711.2 1220.2L1711.4 1213.2M1711.2 1220.2L1718.5 1220.8M1718.5 1220.8L1720.6 1219.1M1715.6 1209.7L1711.4 1213.2M1707.3 1212.7L1711.4 1213.2M1706.7 1223.7L1702.2 1221.2M1706.7 1223.7L1711.2 1220.2M1725.2 1230.9L1725.5 1221.7M1725.5 1221.7L1720.6 1219.1M1719.6 1232.0L1717.3 1230.2M1717.3 1230.2L1718.5 1220.8M1715.9 1205.6L1715.6 1209.7M1720.7 1202.6L1725.2 1204.9M1720.6 1216.3L1728.2 1211.1M1728.2 1211.1L1725.2 1204.9M1727.6 1188.4L1731.2 1186.1M1727.6 1188.4L1726.0 1193.1M1726.0 1193.1L1733.6 1197.8M1731.2 1186.1L1735.4 1186.8M1735.4 1186.8L1736.4 1195.2M1733.6 1197.8L1736.4 1195.2M1720.1 1182.7L1727.6 1188.4M1729.5 1177.6L1731.2 1186.1M1721.9 1195.7L1726.0 1193.1M1725.2 1204.9L1733.7 1201.0M1733.7 1201.0L1733.6 1197.8M1727.1 1243.9L1727.1 1246.4M1718.6 1240.1L1715.9 1241.9M1715.9 1241.9L1715.6 1246.9M1727.1 1246.4L1721.1 1251.3M1715.6 1246.9L1721.1 1251.3M1715.9 1241.9L1709.7 1240.0M1717.3 1230.2L1709.1 1230.1M1709.7 1240.0L1709.1 1230.1M1695.3 1227.2L1696.5 1221.9M1695.3 1227.2L1701.1 1233.5M1706.7 1223.7L1708.7 1229.9M1701.1 1233.5L1708.7 1229.9M1708.7 1229.9L1709.1 1230.1M1667.3 1267.6L1666.4 1256.5M1658.3 1263.3L1658.1 1258.2M1666.4 1256.5L1662.1 1255.1M1658.1 1258.2L1662.1 1255.1M1668.7 1268.5L1676.1 1262.1M1683.3 1305.0L1679.0 1264.4M1676.1 1262.1L1679.0 1264.4M1690.5 1269.8L1685.7 1262.3M1679.0 1264.4L1685.7 1262.3M1697.2 1263.4L1697.3 1257.8M1697.3 1257.8L1697.1 1257.3M1697.1 1257.3L1693.5 1255.5M1693.5 1255.5L1686.9 1258.5M1685.7 1262.3L1686.9 1258.5M1632.6 1255.0L1632.9 1248.1M1613.3 1239.8L1632.9 1248.1M1677.7 1245.0L1683.7 1246.7M1677.7 1245.0L1672.7 1248.3M1683.7 1246.7L1681.0 1254.0M1681.0 1254.0L1674.7 1256.5M1672.7 1248.3L1672.7 1255.3M1672.7 1255.3L1674.7 1256.5M1691.6 1249.5L1693.5 1255.5M1691.6 1249.5L1685.1 1245.9M1685.1 1245.9L1683.7 1246.7M1686.9 1258.5L1681.0 1254.0M1676.1 1262.1L1674.7 1256.5M1666.4 1256.5L1672.7 1255.3M1662.1 1255.1L1660.9 1247.9M1667.6 1243.7L1660.9 1247.9M1667.6 1243.7L1672.7 1248.3M1693.5 1212.0L1686.2 1210.8M1688.5 1201.9L1683.7 1204.9M1683.7 1204.9L1686.2 1210.8M1675.9 1177.1L1670.1 1179.9M1676.5 1189.3L1669.8 1186.0M1669.8 1186.0L1670.1 1179.9M1666.8 1170.1L1666.9 1178.3M1666.9 1178.3L1670.1 1179.9M1722.7 1152.3L1715.9 1154.2M1711.3 1151.9L1715.9 1154.2M1715.7 1161.7L1715.9 1154.2M1723.8 1153.2L1722.7 1152.3M1708.2 1153.8L1711.3 1151.9M1752.3 1184.3L1745.9 1188.2M1752.3 1184.3L1751.1 1178.4M1745.9 1188.2L1741.5 1184.0M1751.1 1178.4L1744.8 1177.2M1741.5 1184.0L1741.8 1178.7M1744.8 1177.2L1741.8 1178.7M1752.8 1196.1L1746.3 1190.4M1752.8 1196.1L1757.1 1193.7M1760.6 1185.8L1752.3 1184.3M1746.3 1190.4L1745.9 1188.2M1756.0 1174.9L1751.1 1178.4M1746.3 1190.4L1741.5 1195.4M1741.5 1195.4L1736.4 1195.2M1735.4 1186.8L1741.5 1184.0M1747.7 1171.2L1744.8 1177.2M1738.8 1175.8L1741.8 1178.7M1749.6 1239.6L1748.6 1238.0M1749.6 1239.6L1758.5 1240.2M1748.6 1238.0L1753.1 1231.4M1760.6 1234.9L1754.9 1231.1M1760.6 1234.9L1760.5 1239.0M1753.1 1231.4L1754.9 1231.1M1758.5 1240.2L1760.5 1239.0M1750.9 1249.2L1748.0 1246.7M1750.9 1249.2L1756.2 1246.5M1756.2 1246.5L1758.5 1240.2M1748.0 1246.7L1749.6 1239.6M1763.7 1225.5L1759.1 1222.2M1765.3 1229.8L1760.6 1234.9M1756.5 1222.9L1759.1 1222.2M1756.5 1222.9L1754.9 1231.1M1770.5 1230.7L1771.9 1239.3M1765.9 1242.8L1771.9 1239.3M1765.9 1242.8L1760.5 1239.0M1725.5 1221.7L1730.2 1220.5M1728.2 1211.1L1730.9 1212.3M1730.2 1220.5L1730.9 1212.3M1736.6 1227.3L1741.9 1231.3M1736.6 1227.3L1736.4 1224.7M1736.4 1224.7L1739.3 1220.9M1739.3 1220.9L1748.8 1223.5M1741.9 1231.3L1747.5 1227.8M1747.5 1227.8L1748.8 1223.5M1729.5 1232.6L1736.6 1227.3M1730.8 1239.9L1737.9 1241.3M1737.9 1241.3L1742.8 1235.3M1742.8 1235.3L1741.9 1231.3M1730.2 1220.5L1736.4 1224.7M1742.8 1235.3L1748.6 1238.0M1753.1 1231.4L1747.5 1227.8M1756.5 1222.9L1751.5 1221.1M1751.5 1221.1L1748.8 1223.5M1727.1 1246.4L1731.9 1252.1M1737.9 1241.3L1740.3 1246.9M1731.9 1252.1L1740.3 1246.9M1746.0 1259.3L1742.2 1255.0M1750.9 1249.2L1751.8 1253.3M1748.0 1246.7L1741.7 1247.7M1742.2 1255.0L1741.7 1247.7M1740.3 1246.9L1741.7 1247.7M1697.1 1239.6L1697.3 1243.6M1697.1 1239.6L1699.4 1237.9M1699.4 1237.9L1708.1 1241.1M1697.3 1243.6L1703.9 1248.6M1708.1 1241.1L1705.3 1248.4M1705.3 1248.4L1703.9 1248.6M1690.9 1236.9L1685.8 1242.3M1690.9 1236.9L1697.1 1239.6M1691.6 1249.5L1697.3 1243.6M1685.1 1245.9L1685.8 1242.3M1690.9 1236.9L1689.6 1232.5M1689.6 1232.5L1695.3 1227.2M1701.1 1233.5L1699.4 1237.9M1709.7 1240.0L1708.1 1241.1M1697.1 1257.3L1703.9 1248.6M1709.9 1251.6L1715.6 1246.9M1709.9 1251.6L1705.3 1248.4M1650.4 1257.0L1649.6 1248.2M1650.4 1257.0L1647.0 1259.5M1647.0 1259.5L1646.5 1259.5M1646.5 1259.5L1640.0 1256.0M1640.0 1256.0L1643.4 1247.9M1649.6 1248.2L1646.0 1246.5M1646.0 1246.5L1643.4 1247.9M1658.1 1258.2L1650.4 1257.0M1656.8 1245.0L1660.9 1247.9M1656.8 1245.0L1649.6 1248.2M1651.8 1270.4L1647.0 1259.5M1639.9 1268.4L1646.5 1259.5M1635.3 1256.5L1640.0 1256.0M1632.9 1248.1L1634.8 1245.8M1634.8 1245.8L1643.4 1247.9M1634.8 1245.8L1635.4 1239.1M1631.5 1236.9L1635.4 1239.1M1631.7 1212.9L1622.0 1207.6M1631.7 1212.9L1635.3 1210.8M1637.8 1205.1L1635.3 1210.8M1637.8 1205.1L1628.7 1201.6M1640.1 1203.7L1645.4 1205.5M1640.1 1203.7L1637.8 1205.1M1645.4 1205.5L1646.4 1212.9M1646.4 1212.9L1641.4 1215.1M1641.4 1215.1L1635.3 1210.8M1638.3 1193.5L1639.1 1194.2M1639.1 1194.2L1640.1 1203.7M1685.8 1242.3L1679.5 1236.1M1677.7 1245.0L1675.7 1239.2M1679.5 1236.1L1675.7 1239.2M1667.6 1243.7L1668.8 1238.2M1675.7 1239.2L1668.8 1238.2M1665.9 1227.9L1669.9 1231.4M1665.9 1227.9L1659.3 1232.5M1659.3 1232.5L1659.6 1235.8M1659.6 1235.8L1668.5 1237.5M1669.9 1231.4L1668.5 1237.5M1656.8 1245.0L1656.2 1239.2M1656.2 1239.2L1659.6 1235.8M1668.8 1238.2L1668.5 1237.5M1678.6 1203.9L1678.8 1204.2M1678.6 1203.9L1672.7 1202.4M1678.8 1204.2L1676.6 1209.8M1672.7 1202.4L1666.8 1206.2M1676.6 1209.8L1671.5 1214.0M1666.8 1206.2L1667.5 1211.4M1671.5 1214.0L1667.5 1211.4M1679.0 1197.5L1678.6 1203.9M1683.7 1204.9L1678.8 1204.2M1675.6 1193.9L1669.5 1196.0M1669.5 1196.0L1672.7 1202.4M1686.2 1210.8L1683.2 1215.3M1683.2 1215.3L1676.6 1209.8M1646.2 1176.1L1653.0 1180.3M1658.2 1172.5L1659.2 1177.1M1659.2 1177.1L1653.0 1180.3M1666.9 1178.3L1661.4 1178.6M1659.2 1177.1L1661.4 1178.6M1769.2 1213.4L1761.6 1215.2M1769.2 1213.4L1769.5 1212.9M1769.5 1212.9L1766.7 1205.3M1761.6 1215.2L1756.9 1211.1M1758.5 1205.5L1756.9 1211.1M1758.5 1205.5L1763.0 1203.9M1763.0 1203.9L1766.7 1205.3M1770.3 1219.4L1769.2 1213.4M1759.1 1222.2L1761.6 1215.2M1779.9 1210.4L1769.5 1212.9M1772.5 1199.4L1766.7 1205.3M1751.5 1221.1L1749.1 1213.3M1749.1 1213.3L1756.9 1211.1M1752.2 1199.7L1758.5 1205.5M1752.2 1199.7L1752.8 1196.1M1762.6 1197.4L1763.0 1203.9M1756.2 1246.5L1763.1 1252.2M1765.9 1242.8L1766.4 1248.5M1766.4 1248.5L1763.1 1252.2M1758.5 1256.2L1762.8 1253.0M1768.8 1263.5L1768.7 1259.8M1762.8 1253.0L1768.7 1259.8M1762.8 1253.0L1763.1 1252.2M1771.9 1239.3L1786.9 1243.3M1766.4 1248.5L1773.9 1251.0M1768.7 1259.8L1773.8 1255.0M1737.2 1204.8L1734.6 1211.4M1737.2 1204.8L1744.1 1204.0M1734.6 1211.4L1740.5 1216.1M1740.5 1216.1L1747.7 1212.5M1747.7 1212.5L1745.8 1204.7M1745.8 1204.7L1744.1 1204.0M1733.7 1201.0L1737.2 1204.8M1730.9 1212.3L1734.6 1211.4M1741.5 1195.4L1744.1 1204.0M1739.3 1220.9L1740.5 1216.1M1749.1 1213.3L1747.7 1212.5M1752.2 1199.7L1745.8 1204.7M1734.3 1256.7L1732.0 1253.9M1734.3 1256.7L1735.0 1262.7M1732.0 1253.9L1724.5 1258.5M1735.0 1262.7L1731.3 1267.1M1724.5 1258.5L1725.3 1265.2M1731.3 1267.1L1725.3 1265.2M1731.9 1252.1L1732.0 1253.9M1742.2 1255.0L1734.3 1256.7M1743.6 1263.0L1735.0 1262.7M1721.1 1251.3L1720.4 1255.3M1720.4 1255.3L1724.5 1258.5M1742.7 1295.7L1731.3 1267.1M1685.9 4408.2L1720.6 1267.9M1720.6 1267.9L1725.3 1265.2M1710.4 1253.3L1717.2 1256.5M1710.4 1253.3L1707.4 1259.2M1717.2 1256.5L1714.2 1265.4M1707.4 1259.2L1709.2 1263.0M1709.2 1263.0L1713.2 1265.6M1713.2 1265.6L1714.2 1265.4M1709.9 1251.6L1710.4 1253.3M1720.4 1255.3L1717.2 1256.5M1697.3 1257.8L1707.4 1259.2M1720.6 1267.9L1714.2 1265.4M1701.9 1267.2L1709.2 1263.0M1705.2 1281.7L1713.2 1265.6M1641.0 1229.9L1641.4 1236.8M1641.0 1229.9L1647.0 1227.1M1647.0 1227.1L1651.1 1228.5M1651.1 1228.5L1649.9 1236.3M1649.9 1236.3L1644.5 1238.3M1644.5 1238.3L1641.4 1236.8M1659.3 1232.5L1655.0 1226.4M1656.2 1239.2L1649.9 1236.3M1655.0 1226.4L1651.1 1228.5M1646.0 1246.5L1644.5 1238.3M1635.4 1239.1L1641.4 1236.8M1638.1 1221.8L1638.6 1227.6M1638.1 1221.8L1631.7 1219.3M1638.6 1227.6L1632.1 1229.7M1632.1 1229.7L1625.7 1224.1M1625.7 1224.1L1631.7 1219.3M1639.8 1220.6L1645.7 1221.8M1639.8 1220.6L1638.1 1221.8M1645.7 1221.8L1647.0 1227.1M1641.0 1229.9L1638.6 1227.6M1641.4 1215.1L1639.8 1220.6M1631.7 1212.9L1631.7 1219.3M1631.5 1236.9L1632.1 1229.7M1676.7 1227.7L1680.5 1230.9M1676.7 1227.7L1676.3 1221.9M1676.3 1221.9L1683.3 1218.5M1685.2 1230.4L1680.5 1230.9M1685.2 1230.4L1687.5 1220.5M1687.5 1220.5L1683.3 1218.5M1679.5 1236.1L1680.5 1230.9M1669.9 1231.4L1676.7 1227.7M1665.9 1227.9L1664.5 1223.2M1672.5 1218.9L1664.5 1223.2M1672.5 1218.9L1676.3 1221.9M1683.2 1215.3L1683.3 1218.5M1672.5 1218.9L1671.5 1214.0M1689.6 1232.5L1685.2 1230.4M1693.7 1219.6L1687.5 1220.5M1669.8 1186.0L1665.3 1190.7M1661.4 1178.6L1660.3 1187.5M1665.3 1190.7L1660.3 1187.5M1669.5 1196.0L1665.7 1194.5M1665.3 1190.7L1665.7 1194.5M1660.9 1221.9L1659.8 1214.3M1660.9 1221.9L1655.4 1225.5M1655.4 1225.5L1649.9 1217.6M1656.9 1212.5L1659.8 1214.3M1656.9 1212.5L1650.0 1215.6M1650.0 1215.6L1649.9 1217.6M1664.5 1223.2L1660.9 1221.9M1667.5 1211.4L1659.8 1214.3M1655.0 1226.4L1655.4 1225.5M1645.7 1221.8L1649.9 1217.6M1646.4 1212.9L1650.0 1215.6M1666.8 1206.2L1662.0 1201.9M1665.7 1194.5L1662.7 1197.9M1662.0 1201.9L1662.7 1197.9M1656.9 1212.5L1656.1 1205.5M1662.0 1201.9L1656.1 1205.5M1645.4 1205.5L1650.6 1202.7M1656.1 1205.5L1650.6 1202.7M1652.8 1184.8L1658.9 1187.8M1652.8 1184.8L1649.0 1188.1M1658.9 1187.8L1654.0 1194.5M1649.0 1188.1L1648.5 1192.8M1648.5 1192.8L1650.9 1195.2M1650.9 1195.2L1654.0 1194.5M1653.0 1180.3L1652.8 1184.8M1660.3 1187.5L1658.9 1187.8M1643.3 1182.9L1649.0 1188.1M1662.7 1197.9L1654.0 1194.5M1639.1 1194.2L1648.5 1192.8M1650.6 1202.7L1650.9 1195.2" stroke="#f0e4f6" stroke-width="1.3" opacity="0.35" fill="none" filter="url(#sb05)"/>
<g fill="#6e62c4" opacity="0.9" filter="url(#sb05)"><circle cx="1638.8" cy="1158.9" r="2.1"/><circle cx="1654.4" cy="1157.7" r="2.0"/><circle cx="1660.2" cy="1158.4" r="2.3"/><circle cx="1669.7" cy="1158.3" r="2.3"/><circle cx="1693.9" cy="1155.9" r="2.6"/><circle cx="1703.6" cy="1157.4" r="2.3"/><circle cx="1711.8" cy="1158.5" r="2.6"/><circle cx="1719.8" cy="1158.7" r="1.9"/><circle cx="1749.0" cy="1157.0" r="2.4"/><circle cx="1638.8" cy="1167.9" r="2.4"/><circle cx="1646.2" cy="1166.8" r="2.6"/><circle cx="1655.3" cy="1167.6" r="2.2"/><circle cx="1668.5" cy="1166.4" r="2.5"/><circle cx="1675.0" cy="1162.5" r="1.9"/><circle cx="1689.2" cy="1165.3" r="2.5"/><circle cx="1697.3" cy="1167.2" r="2.4"/><circle cx="1704.5" cy="1166.2" r="1.9"/><circle cx="1716.4" cy="1166.7" r="2.2"/><circle cx="1726.3" cy="1163.2" r="2.6"/><circle cx="1739.3" cy="1163.7" r="2.2"/><circle cx="1748.1" cy="1167.0" r="2.3"/><circle cx="1755.1" cy="1166.2" r="2.6"/><circle cx="1766.0" cy="1163.3" r="1.9"/><circle cx="1641.6" cy="1170.9" r="1.9"/><circle cx="1653.1" cy="1175.2" r="2.2"/><circle cx="1663.9" cy="1172.8" r="2.2"/><circle cx="1669.9" cy="1172.8" r="2.5"/><circle cx="1683.0" cy="1174.6" r="2.0"/><circle cx="1691.0" cy="1173.8" r="2.2"/><circle cx="1699.5" cy="1176.2" r="2.4"/><circle cx="1711.4" cy="1173.7" r="2.1"/><circle cx="1723.3" cy="1171.9" r="2.6"/><circle cx="1732.9" cy="1172.8" r="2.1"/><circle cx="1638.4" cy="1180.9" r="2.5"/><circle cx="1648.6" cy="1182.7" r="2.6"/><circle cx="1657.2" cy="1183.2" r="2.3"/><circle cx="1664.4" cy="1184.1" r="1.9"/><circle cx="1675.4" cy="1184.6" r="2.1"/><circle cx="1688.3" cy="1183.5" r="1.9"/><circle cx="1698.5" cy="1182.0" r="2.1"/><circle cx="1707.6" cy="1185.1" r="2.2"/><circle cx="1726.1" cy="1182.5" r="2.5"/><circle cx="1734.5" cy="1180.7" r="1.9"/><circle cx="1748.8" cy="1181.7" r="2.5"/><circle cx="1754.5" cy="1180.5" r="2.5"/><circle cx="1643.6" cy="1188.2" r="2.4"/><circle cx="1654.2" cy="1189.3" r="2.6"/><circle cx="1658.8" cy="1192.7" r="2.6"/><circle cx="1672.0" cy="1191.3" r="2.3"/><circle cx="1679.9" cy="1192.8" r="2.1"/><circle cx="1690.4" cy="1192.5" r="2.3"/><circle cx="1700.0" cy="1191.5" r="2.3"/><circle cx="1712.5" cy="1190.3" r="2.3"/><circle cx="1721.5" cy="1188.5" r="2.3"/><circle cx="1732.5" cy="1192.2" r="1.9"/><circle cx="1739.5" cy="1191.4" r="2.3"/><circle cx="1753.0" cy="1188.7" r="2.6"/><circle cx="1763.6" cy="1193.3" r="2.2"/><circle cx="1768.9" cy="1189.6" r="2.3"/><circle cx="1634.1" cy="1199.7" r="2.6"/><circle cx="1656.4" cy="1199.0" r="2.5"/><circle cx="1674.3" cy="1198.1" r="1.9"/><circle cx="1683.6" cy="1198.8" r="2.5"/><circle cx="1694.2" cy="1201.0" r="2.1"/><circle cx="1708.3" cy="1202.8" r="2.4"/><circle cx="1714.9" cy="1197.0" r="2.3"/><circle cx="1728.1" cy="1199.3" r="2.3"/><circle cx="1739.2" cy="1199.2" r="2.5"/><circle cx="1745.5" cy="1197.2" r="2.0"/><circle cx="1759.3" cy="1199.9" r="2.2"/><circle cx="1766.2" cy="1199.4" r="2.5"/><circle cx="1641.0" cy="1210.8" r="2.3"/><circle cx="1651.0" cy="1209.5" r="2.6"/><circle cx="1672.0" cy="1207.0" r="2.2"/><circle cx="1681.9" cy="1210.7" r="2.0"/><circle cx="1689.1" cy="1207.7" r="2.2"/><circle cx="1703.9" cy="1211.4" r="2.6"/><circle cx="1722.4" cy="1210.6" r="2.0"/><circle cx="1731.4" cy="1206.3" r="2.1"/><circle cx="1740.4" cy="1209.8" r="2.3"/><circle cx="1753.0" cy="1206.7" r="2.5"/><circle cx="1762.5" cy="1209.4" r="2.0"/><circle cx="1637.2" cy="1216.2" r="2.5"/><circle cx="1644.4" cy="1218.2" r="2.6"/><circle cx="1655.3" cy="1218.9" r="2.0"/><circle cx="1678.4" cy="1214.9" r="2.5"/><circle cx="1699.2" cy="1214.4" r="2.5"/><circle cx="1707.9" cy="1216.4" r="2.5"/><circle cx="1714.7" cy="1216.6" r="2.1"/><circle cx="1726.6" cy="1216.7" r="2.6"/><circle cx="1734.3" cy="1217.3" r="2.4"/><circle cx="1745.4" cy="1220.0" r="2.5"/><circle cx="1755.9" cy="1216.8" r="2.1"/><circle cx="1765.0" cy="1220.0" r="2.3"/><circle cx="1643.1" cy="1224.6" r="2.5"/><circle cx="1649.3" cy="1223.2" r="2.0"/><circle cx="1661.3" cy="1228.1" r="2.4"/><circle cx="1669.8" cy="1225.5" r="2.5"/><circle cx="1683.2" cy="1224.6" r="2.1"/><circle cx="1701.2" cy="1228.5" r="2.5"/><circle cx="1714.0" cy="1224.3" r="2.5"/><circle cx="1722.0" cy="1225.4" r="1.9"/><circle cx="1728.8" cy="1225.6" r="2.5"/><circle cx="1744.1" cy="1224.7" r="1.9"/><circle cx="1752.1" cy="1227.2" r="1.9"/><circle cx="1759.0" cy="1228.4" r="1.9"/><circle cx="1769.3" cy="1224.7" r="2.4"/><circle cx="1635.9" cy="1232.4" r="2.2"/><circle cx="1646.4" cy="1231.7" r="1.9"/><circle cx="1654.5" cy="1232.9" r="2.0"/><circle cx="1664.1" cy="1232.1" r="2.4"/><circle cx="1674.8" cy="1234.7" r="2.3"/><circle cx="1684.4" cy="1236.5" r="1.9"/><circle cx="1696.1" cy="1233.1" r="2.1"/><circle cx="1705.0" cy="1236.6" r="2.4"/><circle cx="1713.9" cy="1236.1" r="2.1"/><circle cx="1724.2" cy="1237.3" r="2.5"/><circle cx="1736.0" cy="1235.2" r="2.2"/><circle cx="1748.8" cy="1232.2" r="2.6"/><circle cx="1754.0" cy="1235.8" r="2.2"/><circle cx="1767.1" cy="1235.9" r="2.5"/><circle cx="1640.3" cy="1243.8" r="2.0"/><circle cx="1662.5" cy="1240.8" r="2.5"/><circle cx="1673.4" cy="1243.3" r="2.2"/><circle cx="1680.0" cy="1241.0" r="2.2"/><circle cx="1691.7" cy="1243.3" r="2.5"/><circle cx="1702.9" cy="1242.5" r="2.1"/><circle cx="1711.1" cy="1245.7" r="2.4"/><circle cx="1720.2" cy="1246.2" r="2.6"/><circle cx="1734.0" cy="1246.2" r="2.1"/><circle cx="1744.3" cy="1241.8" r="2.1"/><circle cx="1753.5" cy="1244.0" r="2.2"/><circle cx="1759.8" cy="1246.3" r="2.6"/><circle cx="1638.8" cy="1250.1" r="2.2"/><circle cx="1645.2" cy="1252.7" r="2.0"/><circle cx="1654.8" cy="1251.8" r="2.4"/><circle cx="1667.9" cy="1249.6" r="2.2"/><circle cx="1677.6" cy="1249.6" r="1.9"/><circle cx="1686.5" cy="1252.9" r="2.5"/><circle cx="1697.7" cy="1249.3" r="2.5"/><circle cx="1704.7" cy="1254.8" r="2.4"/><circle cx="1715.9" cy="1251.5" r="2.2"/><circle cx="1725.8" cy="1253.2" r="2.5"/><circle cx="1738.0" cy="1252.9" r="1.9"/><circle cx="1746.0" cy="1252.4" r="2.0"/><circle cx="1756.7" cy="1250.1" r="2.2"/><circle cx="1769.3" cy="1254.8" r="2.6"/><circle cx="1640.0" cy="1262.2" r="2.3"/><circle cx="1652.9" cy="1263.3" r="1.9"/><circle cx="1670.2" cy="1262.4" r="2.3"/><circle cx="1681.5" cy="1259.6" r="2.6"/><circle cx="1690.8" cy="1262.5" r="2.1"/><circle cx="1703.7" cy="1262.8" r="2.0"/><circle cx="1712.6" cy="1258.7" r="2.3"/><circle cx="1719.5" cy="1261.1" r="2.2"/><circle cx="1729.9" cy="1259.7" r="2.1"/><circle cx="1739.2" cy="1258.6" r="2.2"/><circle cx="1752.9" cy="1259.0" r="2.3"/><circle cx="1763.7" cy="1259.7" r="1.9"/><circle cx="1645.9" cy="1266.5" r="2.1"/><circle cx="1748.7" cy="1266.5" r="2.6"/></g>
<g fill="#3c3494" opacity="0.85"><ellipse cx="1667.5" cy="1240.5" rx="1.1" ry="0.9"/><ellipse cx="1706.2" cy="1162.1" rx="0.8" ry="0.9"/><ellipse cx="1726.6" cy="1198.0" rx="1.4" ry="1.0"/><ellipse cx="1676.0" cy="1164.7" rx="1.2" ry="0.9"/><ellipse cx="1665.9" cy="1162.3" rx="1.1" ry="0.6"/><ellipse cx="1732.8" cy="1224.1" rx="1.0" ry="0.8"/><ellipse cx="1667.0" cy="1177.4" rx="0.9" ry="1.0"/><ellipse cx="1695.8" cy="1233.7" rx="1.0" ry="1.0"/><ellipse cx="1714.4" cy="1227.1" rx="1.1" ry="0.9"/><ellipse cx="1661.5" cy="1261.1" rx="1.3" ry="0.9"/><ellipse cx="1720.0" cy="1168.2" rx="1.0" ry="0.7"/><ellipse cx="1746.7" cy="1159.0" rx="1.1" ry="1.0"/><ellipse cx="1738.8" cy="1234.0" rx="1.0" ry="0.7"/><ellipse cx="1728.6" cy="1189.3" rx="1.3" ry="0.8"/><ellipse cx="1735.9" cy="1218.5" rx="1.4" ry="1.1"/><ellipse cx="1686.0" cy="1262.5" rx="0.8" ry="1.0"/><ellipse cx="1640.5" cy="1215.6" rx="1.1" ry="1.0"/><ellipse cx="1677.7" cy="1179.7" rx="1.3" ry="0.9"/><ellipse cx="1735.3" cy="1209.6" rx="0.8" ry="1.0"/><ellipse cx="1665.1" cy="1207.8" rx="0.8" ry="0.7"/><ellipse cx="1723.5" cy="1238.8" rx="1.2" ry="0.8"/><ellipse cx="1732.3" cy="1228.7" rx="0.9" ry="0.9"/><ellipse cx="1714.7" cy="1235.1" rx="0.9" ry="0.8"/><ellipse cx="1681.4" cy="1167.8" rx="1.0" ry="1.0"/><ellipse cx="1712.0" cy="1176.0" rx="1.3" ry="0.7"/></g>
<ellipse cx="1666" cy="1196" rx="4" ry="7" fill="#d890a8" opacity="0.85"/>
</g>
<rect x="1635.8" y="1156.8" width="132.2" height="107.9" fill="none" stroke="#1a1a1a" stroke-width="1.6"/>
<path d="M1129.8 1081.2 H1154.8 V1104.3 H1129.8 Z M1129.8 1104.3 L1078.8 1156 M1154.8 1104.3 L1213.0 1156 M1268.4 1081.2 H1293.4 V1104.3 H1268.4 Z M1268.4 1104.3 L1217.3 1156 M1293.4 1104.3 L1351.4 1156 M1407.0 1081.2 H1432.0 V1104.3 H1407.0 Z M1407.0 1104.3 L1356.0 1156 M1432.0 1104.3 L1489.8 1156 M1546.0 1081.2 H1571.0 V1104.3 H1546.0 Z M1546.0 1104.3 L1494.5 1156 M1571.0 1104.3 L1628.6 1156 M1685.7 1081.2 H1710.7 V1104.3 H1685.7 Z M1685.7 1104.3 L1635.0 1156 M1710.7 1104.3 L1768.8 1156 " stroke="#111" stroke-width="1.3" fill="none"/>
<text x="1127.7" y="1038.8" font-size="18.3" fill="#111" textLength="28.3" lengthAdjust="spacingAndGlyphs">Ctrl</text>
<text x="1262.7" y="1038.8" font-size="18.3" fill="#111" textLength="39.7" lengthAdjust="spacingAndGlyphs">MCD</text>
<text x="1358.2" y="1038.8" font-size="18.3" fill="#111" textLength="124.6" lengthAdjust="spacingAndGlyphs">MCD+Silymarin</text>
<text x="1517.6" y="1038.8" font-size="18.3" fill="#111" textLength="94.6" lengthAdjust="spacingAndGlyphs">MCD+JPD-L</text>
<text x="1649.2" y="1038.8" font-size="18.3" fill="#111" textLength="96.8" lengthAdjust="spacingAndGlyphs">MCD+JPD-H</text>
<text transform="translate(1075,1096.4) rotate(-90)" font-size="18" text-anchor="middle" fill="#111" textLength="30" lengthAdjust="spacingAndGlyphs">10X</text>
<text transform="translate(1075,1210.3) rotate(-90)" font-size="18" text-anchor="middle" fill="#111" textLength="30.7" lengthAdjust="spacingAndGlyphs">40X</text>
</svg>
</body></html>
